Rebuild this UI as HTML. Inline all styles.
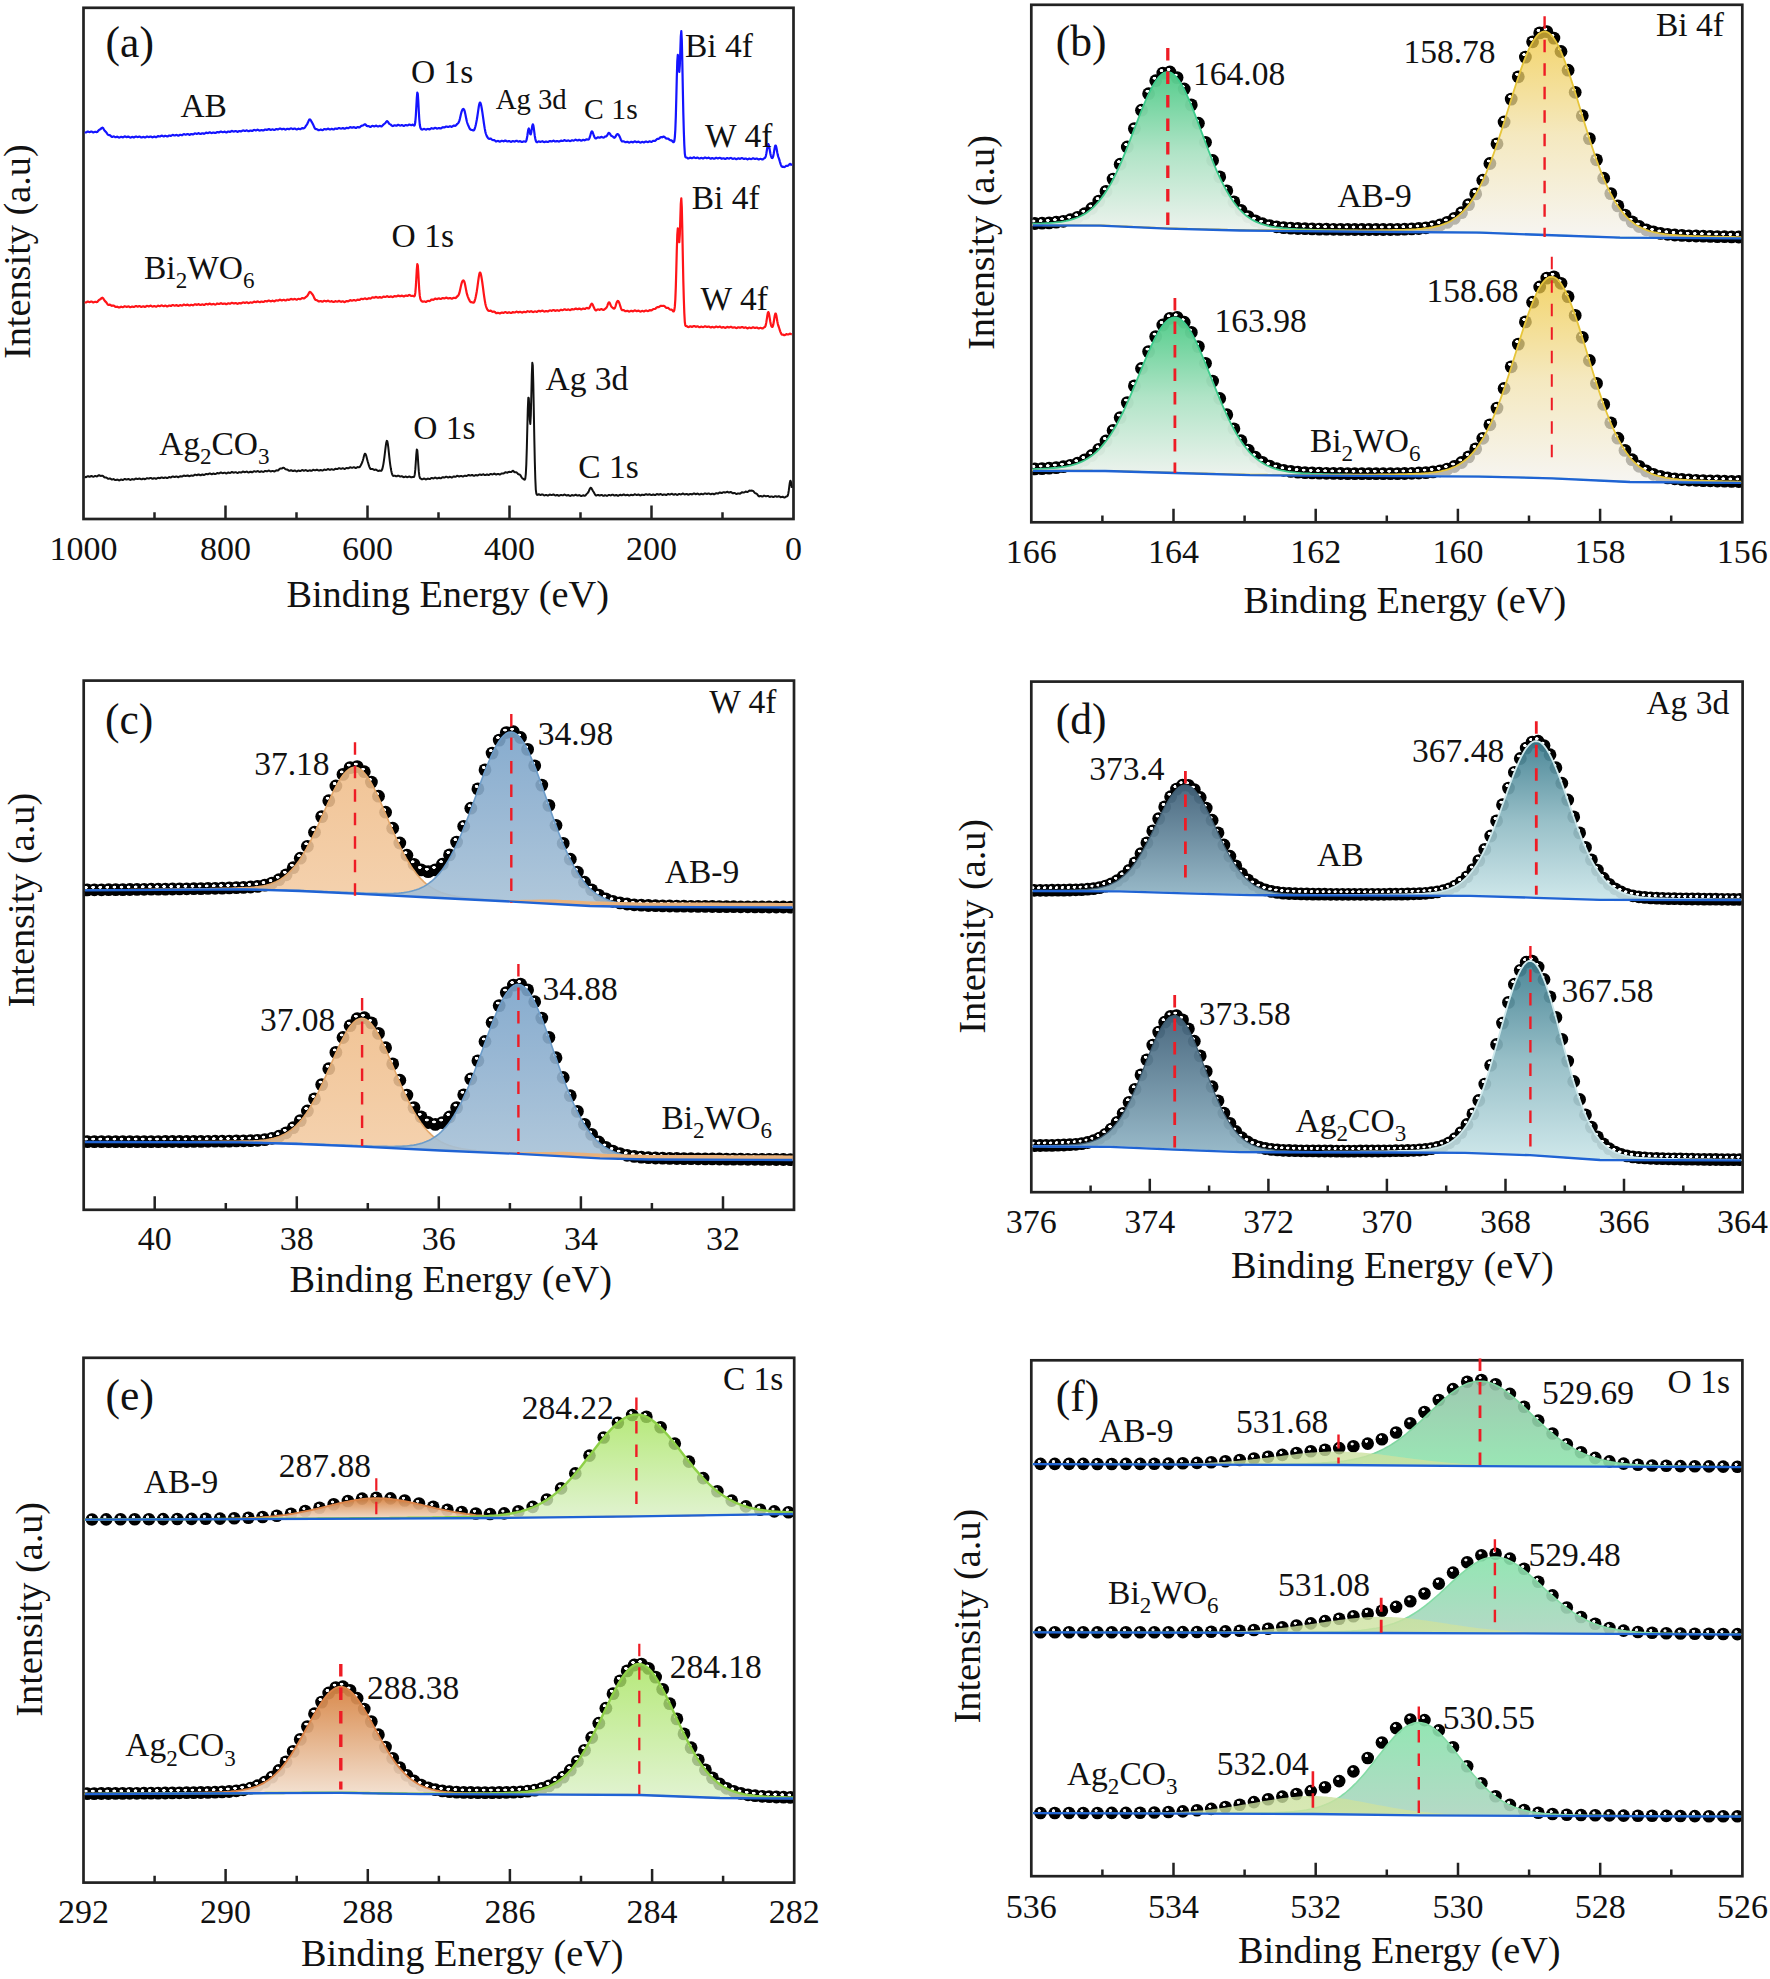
<!DOCTYPE html>
<html lang="en"><head><meta charset="utf-8"><title>XPS spectra</title>
<style>html,body{margin:0;padding:0;background:#fff}svg{display:block}text{font-family:'Liberation Serif', 'Times New Roman', Times, serif;fill:#111}</style></head>
<body>
<svg width="1770" height="1979" viewBox="0 0 1770 1979">
<rect width="1770" height="1979" fill="#fff"/>
<defs><radialGradient id="hl" cx="0.5" cy="0.5" r="0.5"><stop offset="0" stop-color="#fff"/><stop offset="0.72" stop-color="#fff"/><stop offset="1" stop-color="#fff" stop-opacity="0"/></radialGradient><g id="m"><circle r="6.4" fill="#000"/><ellipse cx="-1.3" cy="-2.5" rx="2.2" ry="1.75" fill="url(#hl)"/></g><g id="M"><circle r="6.3" fill="#000"/><ellipse cx="-1.3" cy="-2.3" rx="1.9" ry="1.8" fill="url(#hl)" opacity="0.95"/></g><linearGradient id="g1" x1="0" y1="0" x2="0" y2="1"><stop offset="0" stop-color="#4fcb88"/><stop offset="0.5" stop-color="#aee3c5"/><stop offset="1" stop-color="#eef3ee"/></linearGradient><linearGradient id="g2" x1="0" y1="0" x2="0" y2="1"><stop offset="0" stop-color="#efc63a"/><stop offset="0.5" stop-color="#f1e1aa"/><stop offset="1" stop-color="#f3f2ee"/></linearGradient><clipPath id="c3"><rect x="1032.5" y="0" width="708.6" height="1979"/></clipPath><linearGradient id="g4" x1="0" y1="0" x2="0" y2="1"><stop offset="0" stop-color="#4fcb88"/><stop offset="0.5" stop-color="#aee3c5"/><stop offset="1" stop-color="#eef3ee"/></linearGradient><linearGradient id="g5" x1="0" y1="0" x2="0" y2="1"><stop offset="0" stop-color="#efc63a"/><stop offset="0.5" stop-color="#f1e1aa"/><stop offset="1" stop-color="#f3f2ee"/></linearGradient><clipPath id="c6"><rect x="1032.5" y="0" width="708.6" height="1979"/></clipPath><linearGradient id="g7" x1="0" y1="0" x2="0" y2="1"><stop offset="0" stop-color="#efbc88"/><stop offset="0.5" stop-color="#f1c496"/><stop offset="1" stop-color="#f3cca4"/></linearGradient><linearGradient id="g8" x1="0" y1="0" x2="0" y2="1"><stop offset="0" stop-color="#7aa3c9"/><stop offset="0.5" stop-color="#91b2d0"/><stop offset="1" stop-color="#a8c2d7"/></linearGradient><clipPath id="c9"><rect x="84.9" y="0" width="707.9" height="1979"/></clipPath><linearGradient id="g10" x1="0" y1="0" x2="0" y2="1"><stop offset="0" stop-color="#efbc88"/><stop offset="0.5" stop-color="#f1c496"/><stop offset="1" stop-color="#f3cca4"/></linearGradient><linearGradient id="g11" x1="0" y1="0" x2="0" y2="1"><stop offset="0" stop-color="#7aa3c9"/><stop offset="0.5" stop-color="#91b2d0"/><stop offset="1" stop-color="#a8c2d7"/></linearGradient><clipPath id="c12"><rect x="84.9" y="0" width="707.9" height="1979"/></clipPath><linearGradient id="g13" x1="0" y1="0" x2="0" y2="1"><stop offset="0" stop-color="#42627a"/><stop offset="0.5" stop-color="#6a8ca0"/><stop offset="1" stop-color="#93b6c6"/></linearGradient><linearGradient id="g14" x1="0" y1="0" x2="0" y2="1"><stop offset="0" stop-color="#3d7d8f"/><stop offset="0.5" stop-color="#8fbac3"/><stop offset="1" stop-color="#cbe6e9"/></linearGradient><clipPath id="c15"><rect x="1032.5" y="0" width="708.9" height="1979"/></clipPath><linearGradient id="g16" x1="0" y1="0" x2="0" y2="1"><stop offset="0" stop-color="#42627a"/><stop offset="0.5" stop-color="#6a8ca0"/><stop offset="1" stop-color="#93b6c6"/></linearGradient><linearGradient id="g17" x1="0" y1="0" x2="0" y2="1"><stop offset="0" stop-color="#3d7d8f"/><stop offset="0.5" stop-color="#8fbac3"/><stop offset="1" stop-color="#cbe6e9"/></linearGradient><clipPath id="c18"><rect x="1032.5" y="0" width="708.9" height="1979"/></clipPath><linearGradient id="g19" x1="0" y1="0" x2="0" y2="1"><stop offset="0" stop-color="#d6813f"/><stop offset="0.5" stop-color="#e4b086"/><stop offset="1" stop-color="#f2dfce"/></linearGradient><linearGradient id="g20" x1="0" y1="0" x2="0" y2="1"><stop offset="0" stop-color="#a4e35a"/><stop offset="0.5" stop-color="#bfea90"/><stop offset="1" stop-color="#daf0c6"/></linearGradient><clipPath id="c21"><rect x="84.7" y="0" width="708.3" height="1979"/></clipPath><linearGradient id="g22" x1="0" y1="0" x2="0" y2="1"><stop offset="0" stop-color="#d6813f"/><stop offset="0.5" stop-color="#e4b086"/><stop offset="1" stop-color="#f2dfce"/></linearGradient><linearGradient id="g23" x1="0" y1="0" x2="0" y2="1"><stop offset="0" stop-color="#a4e35a"/><stop offset="0.5" stop-color="#bfea90"/><stop offset="1" stop-color="#daf0c6"/></linearGradient><clipPath id="c24"><rect x="84.7" y="0" width="708.3" height="1979"/></clipPath><linearGradient id="g25" x1="0" y1="0" x2="0" y2="1"><stop offset="0" stop-color="#93c3a8"/><stop offset="0.5" stop-color="#91d4aa"/><stop offset="1" stop-color="#8fe4ad"/></linearGradient><linearGradient id="g26" x1="0" y1="0" x2="0" y2="1"><stop offset="0" stop-color="#cbe19f"/><stop offset="0.5" stop-color="#cde2a0"/><stop offset="1" stop-color="#cfe3a2"/></linearGradient><clipPath id="c27"><rect x="1032.5" y="0" width="708.7" height="1979"/></clipPath><linearGradient id="g28" x1="0" y1="0" x2="0" y2="1"><stop offset="0" stop-color="#88e3ab"/><stop offset="0.5" stop-color="#9adcb6"/><stop offset="1" stop-color="#add5c0"/></linearGradient><linearGradient id="g29" x1="0" y1="0" x2="0" y2="1"><stop offset="0" stop-color="#cbe19f"/><stop offset="0.5" stop-color="#cde2a0"/><stop offset="1" stop-color="#cfe3a2"/></linearGradient><clipPath id="c30"><rect x="1032.5" y="0" width="708.7" height="1979"/></clipPath><linearGradient id="g31" x1="0" y1="0" x2="0" y2="1"><stop offset="0" stop-color="#88e3ab"/><stop offset="0.5" stop-color="#9adcb6"/><stop offset="1" stop-color="#add5c0"/></linearGradient><linearGradient id="g32" x1="0" y1="0" x2="0" y2="1"><stop offset="0" stop-color="#cbe19f"/><stop offset="0.5" stop-color="#cde2a0"/><stop offset="1" stop-color="#cfe3a2"/></linearGradient><clipPath id="c33"><rect x="1032.5" y="0" width="708.7" height="1979"/></clipPath></defs>
<rect x="83.5" y="7.8" width="710" height="511.2" fill="none" stroke="#222" stroke-width="2.7"/>
<text x="83.5" y="560.2" font-size="34" text-anchor="middle">1000</text>
<text x="225.5" y="560.2" font-size="34" text-anchor="middle">800</text>
<text x="367.5" y="560.2" font-size="34" text-anchor="middle">600</text>
<text x="509.5" y="560.2" font-size="34" text-anchor="middle">400</text>
<text x="651.5" y="560.2" font-size="34" text-anchor="middle">200</text>
<text x="793.5" y="560.2" font-size="34" text-anchor="middle">0</text>
<path d="M154.5 519v-6.8M225.5 519v-13.5M296.5 519v-6.8M367.5 519v-13.5M438.5 519v-6.8M509.5 519v-13.5M580.5 519v-6.8M651.5 519v-13.5M722.5 519v-6.8" stroke="#222" stroke-width="2.5" fill="none"/>
<text x="286.4" y="606.8" font-size="38.3" text-anchor="start">Binding Energy (eV)</text>
<text transform="translate(30.4 359.1) rotate(-90)" font-size="38.3">Intensity (a.u)</text>
<text x="105.6" y="56.5" font-size="43.5" text-anchor="start">(a)</text>
<polyline points="84.8,132.1 85.3,132.4 85.8,132.5 86.3,132.4 86.8,132.1 87.3,131.7 87.8,131.6 88.3,131.6 88.8,131.9 89.3,132.1 89.8,132.1 90.3,131.9 90.8,131.6 91.3,131.5 91.8,131.6 92.3,131.9 92.8,132.2 93.3,132.4 93.8,132.3 94.3,132.1 94.8,131.9 95.3,131.8 95.8,131.9 96.3,132.1 96.8,132.1 97.3,131.9 97.8,131.4 98.3,130.8 98.8,130.2 99.3,129.8 99.8,129.6 100.3,129.3 100.8,128.9 101.3,128.4 101.8,127.9 102.3,127.7 102.8,127.8 103.3,128.4 103.8,129.3 104.3,130.1 104.8,130.8 105.3,131.4 105.8,131.8 106.3,132.4 106.8,133.1 107.3,133.9 107.8,134.5 108.3,134.9 108.8,135.1 109.3,135.1 109.8,135.2 110.3,135.5 110.8,136 111.3,136.5 111.8,136.8 112.3,136.9 112.8,136.7 113.3,136.5 113.8,136.4 114.3,136.6 114.8,136.9 115.3,137.2 115.8,137.2 116.3,137 116.8,136.8 117.3,136.7 117.8,136.9 118.3,137.2 118.8,137.5 119.3,137.6 119.8,137.4 120.3,137.1 120.8,136.9 121.3,136.8 121.8,137 122.3,137.2 122.8,137.3 123.3,137.2 123.8,136.9 124.3,136.5 124.8,136.4 125.3,136.5 125.8,136.8 126.3,137.1 126.8,137.1 127.3,137 127.8,136.7 128.3,136.6 128.8,136.8 129.3,137.1 129.8,137.4 130.3,137.6 130.8,137.5 131.3,137.2 131.8,137 132.3,136.9 132.8,137 133.3,137.3 133.8,137.4 134.3,137.3 134.8,137 135.3,136.7 135.8,136.5 136.3,136.5 136.8,136.8 137.3,137 137.8,137.1 138.3,136.9 138.8,136.7 139.3,136.5 139.8,136.6 140.3,136.9 140.8,137.3 141.3,137.5 141.8,137.4 142.3,137.2 142.8,137 143.3,136.9 143.8,137 144.3,137.3 144.8,137.5 145.3,137.4 145.8,137.2 146.3,136.8 146.8,136.6 147.3,136.6 147.8,136.8 148.3,137 148.8,137.1 149.3,137 149.8,136.7 150.3,136.5 150.8,136.5 151.3,136.7 151.8,137 152.3,137.3 152.8,137.2 153.3,137 153.8,136.8 154.3,136.6 154.8,136.7 155.3,137 155.8,137.2 156.3,137.2 156.8,136.9 157.3,136.5 157.8,136.2 158.3,136.2 158.8,136.3 159.3,136.5 159.8,136.5 160.3,136.4 160.8,136 161.3,135.8 161.8,135.7 162.3,135.8 162.8,136.1 163.3,136.4 163.8,136.4 164.3,136.2 164.8,135.9 165.3,135.8 165.8,135.9 166.3,136.1 166.8,136.4 167.3,136.4 167.8,136.3 168.3,135.9 168.8,135.6 169.3,135.5 169.8,135.6 170.3,135.8 170.8,135.8 171.3,135.7 171.8,135.4 172.3,135 172.8,134.9 173.3,135 173.8,135.2 174.3,135.5 174.8,135.5 175.3,135.4 175.8,135.1 176.3,134.9 176.8,135 177.3,135.2 177.8,135.5 178.3,135.7 178.8,135.5 179.3,135.2 179.8,134.9 180.3,134.8 180.8,134.9 181.3,135.1 181.8,135.2 182.3,135.1 182.8,134.7 183.3,134.4 183.8,134.1 184.3,134.2 184.8,134.4 185.3,134.6 185.8,134.7 186.3,134.5 186.8,134.3 187.3,134.1 187.8,134.1 188.3,134.3 188.8,134.6 189.3,134.8 189.8,134.8 190.3,134.5 190.8,134.2 191.3,134.1 191.8,134.1 192.3,134.3 192.8,134.5 193.3,134.4 193.8,134.1 194.3,133.7 194.8,133.4 195.3,133.4 195.8,133.6 196.3,133.8 196.8,133.9 197.3,133.7 197.8,133.5 198.3,133.2 198.8,133.2 199.3,133.4 199.8,133.7 200.3,133.9 200.8,133.9 201.3,133.7 201.8,133.4 202.3,133.3 202.8,133.3 203.3,133.6 203.8,133.8 204.3,133.7 204.8,133.5 205.3,133.1 205.8,132.8 206.3,132.7 206.8,132.8 207.3,133 207.8,133.1 208.3,133 208.8,132.7 209.3,132.4 209.8,132.3 210.3,132.5 210.8,132.8 211.3,133 211.8,133.1 212.3,132.9 212.8,132.6 213.3,132.5 213.8,132.5 214.3,132.8 214.8,133 215.3,133 215.8,132.9 216.3,132.5 216.8,132.2 217.3,132 217.8,132.1 218.3,132.3 218.8,132.4 219.3,132.3 219.8,132 220.3,131.7 220.8,131.5 221.3,131.6 221.8,131.9 222.3,132.1 222.8,132.2 223.3,132.1 223.8,131.9 224.3,131.7 224.8,131.7 225.3,132 225.8,132.2 226.3,132.4 226.8,132.3 227.3,132 227.8,131.6 228.3,131.5 228.8,131.5 229.3,131.7 229.8,131.9 230.3,131.8 230.8,131.5 231.3,131.2 231.8,130.9 232.3,131 232.8,131.2 233.3,131.5 233.8,131.6 234.3,131.5 234.8,131.3 235.3,131.1 235.8,131.1 236.3,131.3 236.8,131.6 237.3,131.8 237.8,131.8 238.3,131.5 238.8,131.2 239.3,131 239.8,131 240.3,131.2 240.8,131.4 241.3,131.4 241.8,131.1 242.3,130.7 242.8,130.5 243.3,130.4 243.8,130.6 244.3,130.9 244.8,131 245.3,130.9 245.8,130.7 246.3,130.4 246.8,130.4 247.3,130.6 247.8,130.9 248.3,131.2 248.8,131.2 249.3,131 249.8,130.7 250.3,130.5 250.8,130.5 251.3,130.7 251.8,130.9 252.3,130.9 252.8,130.7 253.3,130.3 253.8,130 254.3,129.9 254.8,130.1 255.3,130.3 255.8,130.4 256.3,130.4 256.8,130.1 257.3,129.8 257.8,129.7 258.3,129.9 258.8,130.2 259.3,130.5 259.8,130.6 260.3,130.4 260.8,130.2 261.3,130 261.8,130 262.3,130.2 262.8,130.4 263.3,130.5 263.8,130.3 264.3,130 264.8,129.6 265.3,129.5 265.8,129.5 266.3,129.8 266.8,129.9 267.3,129.8 267.8,129.6 268.3,129.3 268.8,129.1 269.3,129.2 269.8,129.5 270.3,129.8 270.8,130 271.3,129.8 271.8,129.6 272.3,129.4 272.8,129.4 273.3,129.6 273.8,129.9 274.3,130 274.8,129.9 275.3,129.6 275.8,129.2 276.3,129 276.8,129.1 277.3,129.3 277.8,129.4 278.3,129.4 278.8,129.1 279.3,128.8 279.8,128.6 280.3,128.6 280.8,128.8 281.3,129.1 281.8,129.3 282.3,129.2 282.8,129 283.3,128.8 283.8,128.8 284.3,129 284.8,129.3 285.3,129.6 285.8,129.5 286.3,129.3 286.8,129 287.3,128.8 287.8,128.8 288.3,129 288.8,129.2 289.3,129.2 289.8,129 290.3,128.6 290.8,128.4 291.3,128.4 291.8,128.6 292.3,128.9 292.8,129.1 293.3,129 293.8,128.8 294.3,128.6 294.8,128.6 295.3,128.8 295.8,129.1 296.3,129.4 296.8,129.4 297.3,129.2 297.8,128.9 298.3,128.7 298.8,128.7 299.3,128.9 299.8,129.1 300.3,129.2 300.8,129 301.3,128.6 301.8,128.3 302.3,128.2 302.8,128.2 303.3,128.4 303.8,128.4 304.3,128.1 304.8,127.5 305.3,126.8 305.8,126 306.3,125.3 306.8,124.6 307.3,123.8 307.8,122.8 308.3,121.6 308.8,120.5 309.3,119.6 309.8,119.4 310.3,119.6 310.8,120.3 311.3,121.2 311.8,122.1 312.3,123 312.8,123.9 313.3,124.9 313.8,126.1 314.3,127.3 314.8,128.3 315.3,128.9 315.8,129.1 316.3,129.1 316.8,129.2 317.3,129.4 317.8,129.7 318.3,130.1 318.8,130.2 319.3,130.1 319.8,129.9 320.3,129.7 320.8,129.6 321.3,129.8 321.8,130 322.3,130.1 322.8,130 323.3,129.7 323.8,129.3 324.3,129.1 324.8,129.1 325.3,129.3 325.8,129.5 326.3,129.5 326.8,129.2 327.3,128.9 327.8,128.7 328.3,128.7 328.8,129 329.3,129.3 329.8,129.5 330.3,129.4 330.8,129.2 331.3,128.9 331.8,128.9 332.3,129 332.8,129.3 333.3,129.5 333.8,129.4 334.3,129.2 334.8,128.8 335.3,128.5 335.8,128.5 336.3,128.7 336.8,128.8 337.3,128.9 337.8,128.6 338.3,128.3 338.8,128 339.3,128 339.8,128.2 340.3,128.4 340.8,128.6 341.3,128.6 341.8,128.4 342.3,128.2 342.8,128.1 343.3,128.2 343.8,128.5 344.3,128.7 344.8,128.7 345.3,128.5 345.8,128.2 346.3,127.9 346.8,127.8 347.3,128 347.8,128.1 348.3,128.2 348.8,128 349.3,127.6 349.8,127.3 350.3,127.2 350.8,127.3 351.3,127.5 351.8,127.7 352.3,127.7 352.8,127.5 353.3,127.3 353.8,127.2 354.3,127.3 354.8,127.5 355.3,127.8 355.8,127.9 356.3,127.8 356.8,127.4 357.3,127.2 357.8,127.1 358.3,127.2 358.8,127.4 359.3,127.4 359.8,127.2 360.3,126.7 360.8,126.2 361.3,125.9 361.8,125.7 362.3,125.6 362.8,125.5 363.3,125.3 363.8,124.9 364.3,124.5 364.8,124.3 365.3,124.4 365.8,124.9 366.3,125.4 366.8,125.9 367.3,126.1 367.8,126.1 368.3,126 368.8,126.1 369.3,126.4 369.8,126.7 370.3,126.9 370.8,126.8 371.3,126.5 371.8,126.1 372.3,125.9 372.8,125.9 373.3,126.1 373.8,126.3 374.3,126.4 374.8,126.2 375.3,125.9 375.8,125.7 376.3,125.7 376.8,126 377.3,126.3 377.8,126.5 378.3,126.5 378.8,126.3 379.3,126 379.8,125.9 380.3,126 380.8,126.2 381.3,126.4 381.8,126.3 382.3,125.8 382.8,125.3 383.3,124.7 383.8,124.2 384.3,123.9 384.8,123.5 385.3,123 385.8,122.4 386.3,121.7 386.8,121.2 387.3,121.2 387.8,121.7 388.3,122.4 388.8,123.2 389.3,123.8 389.8,124.1 390.3,124.4 390.8,124.7 391.3,125.1 391.8,125.6 392.3,125.9 392.8,126.1 393.3,125.9 393.8,125.6 394.3,125.3 394.8,125.3 395.3,125.4 395.8,125.6 396.3,125.7 396.8,125.6 397.3,125.2 397.8,124.9 398.3,124.8 398.8,125 399.3,125.3 399.8,125.5 400.3,125.6 400.8,125.4 401.3,125.2 401.8,125.1 402.3,125.2 402.8,125.4 403.3,125.7 403.8,125.9 404.3,125.7 404.8,125.4 405.3,125.1 405.8,125 406.3,125.1 406.8,125.4 407.3,125.5 407.8,125.4 408.3,125.1 408.8,124.7 409.3,124.5 409.8,124.6 410.3,124.9 410.8,125.1 411.3,125.2 411.8,125.1 412.3,124.8 412.8,124.6 413.3,124.9 413.8,125.4 414.3,125.6 414.8,124.9 415.3,122 415.8,116.1 416.3,107.3 416.8,98.2 417.3,92.7 417.8,94 418.3,101.3 418.8,111.2 419.3,119.5 419.8,124.8 420.3,127.5 420.8,128.7 421.3,129.2 421.8,129.5 422.3,129.6 422.8,129.4 423.3,129.1 423.8,128.9 424.3,128.9 424.8,129.1 425.3,129.4 425.8,129.6 426.3,129.6 426.8,129.3 427.3,129.1 427.8,128.9 428.3,129 428.8,129.2 429.3,129.3 429.8,129.3 430.3,129 430.8,128.6 431.3,128.3 431.8,128.2 432.3,128.4 432.8,128.6 433.3,128.7 433.8,128.5 434.3,128.2 434.8,127.9 435.3,127.9 435.8,128 436.3,128.3 436.8,128.6 437.3,128.6 437.8,128.4 438.3,128.1 438.8,128 439.3,128 439.8,128.3 440.3,128.4 440.8,128.4 441.3,128.2 441.8,127.8 442.3,127.4 442.8,127.2 443.3,127.3 443.8,127.4 444.3,127.5 444.8,127.3 445.3,127 445.8,126.6 446.3,126.5 446.8,126.5 447.3,126.8 447.8,127 448.3,127 448.8,126.8 449.3,126.5 449.8,126.3 450.3,126.3 450.8,126.5 451.3,126.8 451.8,126.8 452.3,126.6 452.8,126.2 453.3,125.8 453.8,125.6 454.3,125.7 454.8,125.8 455.3,125.8 455.8,125.5 456.3,125 456.8,124.4 457.3,123.9 457.8,123.5 458.3,123 458.8,122.2 459.3,120.9 459.8,119.1 460.3,117 460.8,114.7 461.3,112.7 461.8,111.1 462.3,109.9 462.8,109.2 463.3,108.9 463.8,109.2 464.3,110.1 464.8,111.7 465.3,113.9 465.8,116.5 466.3,119.1 466.8,121.3 467.3,123 467.8,124.4 468.3,125.5 468.8,126.6 469.3,127.7 469.8,128.7 470.3,129.3 470.8,129.7 471.3,129.8 471.8,129.9 472.3,130.1 472.8,130.3 473.3,130.4 473.8,130.3 474.3,129.7 474.8,128.5 475.3,126.8 475.8,124.8 476.3,122.4 476.8,119.8 477.3,116.7 477.8,113.3 478.3,109.8 478.8,106.5 479.3,104 479.8,102.6 480.3,102.6 480.8,103.8 481.3,105.9 481.8,108.7 482.3,111.9 482.8,115.3 483.3,118.9 483.8,122.5 484.3,125.8 484.8,128.9 485.3,131.5 485.8,133.5 486.3,134.9 486.8,136.1 487.3,137 487.8,137.7 488.3,138.3 488.8,138.7 489.3,138.8 489.8,138.7 490.3,138.6 490.8,138.7 491.3,139.1 491.8,139.5 492.3,139.9 492.8,140.1 493.3,140.1 493.8,140 494.3,140.1 494.8,140.5 495.3,140.9 495.8,141.3 496.3,141.4 496.8,141.3 497.3,141.1 497.8,140.9 498.3,141 498.8,141.2 499.3,141.5 499.8,141.7 500.3,141.5 500.8,141.2 501.3,140.9 501.8,140.8 502.3,140.9 502.8,141.1 503.3,141.3 503.8,141.3 504.3,141 504.8,140.7 505.3,140.6 505.8,140.7 506.3,141 506.8,141.3 507.3,141.5 507.8,141.4 508.3,141.2 508.8,141.1 509.3,141.1 509.8,141.3 510.3,141.6 510.8,141.9 511.3,141.8 511.8,141.6 512.3,141.3 512.8,141.1 513.3,141.1 513.8,141.4 514.3,141.5 514.8,141.6 515.3,141.3 515.8,141 516.3,140.8 516.8,140.8 517.3,141.1 517.8,141.4 518.3,141.6 518.8,141.5 519.3,141.3 519.8,141.2 520.3,141.2 520.8,141.4 521.3,141.7 521.8,142 522.3,142 522.8,141.8 523.3,141.5 523.8,141.4 524.3,141.4 524.8,141.6 525.3,141.8 525.8,141.6 526.3,140.7 526.8,138.9 527.3,136 527.8,132.5 528.3,129.5 528.8,128.5 529.3,129.8 529.8,132.3 530.3,134.2 530.8,134.3 531.3,132.2 531.8,128.9 532.3,125.8 532.8,124.3 533.3,125.3 533.8,128.3 534.3,132.2 534.8,135.9 535.3,138.8 535.8,140.8 536.3,141.8 536.8,142.2 537.3,142.2 537.8,141.9 538.3,141.5 538.8,141.4 539.3,141.5 539.8,141.7 540.3,141.9 540.8,141.9 541.3,141.6 541.8,141.4 542.3,141.2 542.8,141.4 543.3,141.7 543.8,142 544.3,142.1 544.8,142 545.3,141.7 545.8,141.5 546.3,141.5 546.8,141.7 547.3,141.9 547.8,142 548.3,141.9 548.8,141.6 549.3,141.2 549.8,141 550.3,141.1 550.8,141.3 551.3,141.4 551.8,141.4 552.3,141.2 552.8,140.9 553.3,140.7 553.8,140.8 554.3,141 554.8,141.4 555.3,141.5 555.8,141.5 556.3,141.2 556.8,141 557.3,141 557.8,141.1 558.3,141.4 558.8,141.6 559.3,141.5 559.8,141.2 560.3,140.9 560.8,140.7 561.3,140.7 561.8,140.8 562.3,141 562.8,141 563.3,140.8 563.8,140.5 564.3,140.2 564.8,140.2 565.3,140.4 565.8,140.7 566.3,140.9 566.8,140.9 567.3,140.7 567.8,140.5 568.3,140.4 568.8,140.6 569.3,140.9 569.8,141.1 570.3,141.1 570.8,140.9 571.3,140.5 571.8,140.3 572.3,140.3 572.8,140.4 573.3,140.6 573.8,140.6 574.3,140.4 574.8,140.1 575.3,139.8 575.8,139.7 576.3,139.9 576.8,140.2 577.3,140.4 577.8,140.4 578.3,140.2 578.8,139.9 579.3,139.8 579.8,140 580.3,140.3 580.8,140.6 581.3,140.6 581.8,140.5 582.3,140.2 582.8,139.9 583.3,139.9 583.8,140 584.3,140.2 584.8,140.3 585.3,140.1 585.8,139.8 586.3,139.4 586.8,139.3 587.3,139.4 587.8,139.6 588.3,139.6 588.8,139.3 589.3,138.5 589.8,137.2 590.3,135.5 590.8,133.7 591.3,132.2 591.8,131.4 592.3,131.5 592.8,132.6 593.3,134 593.8,135.5 594.3,136.7 594.8,137.6 595.3,138.2 595.8,138.4 596.3,138.3 596.8,138 597.3,137.6 597.8,137.3 598.3,137.3 598.8,137.5 599.3,137.7 599.8,137.7 600.3,137.5 600.8,137.1 601.3,136.9 601.8,136.9 602.3,137.2 602.8,137.4 603.3,137.6 603.8,137.5 604.3,137.2 604.8,136.8 605.3,136.5 605.8,136.4 606.3,136.3 606.8,135.9 607.3,135.2 607.8,134.3 608.3,133.4 608.8,132.9 609.3,133 609.8,133.6 610.3,134.4 610.8,135.2 611.3,135.8 611.8,136.1 612.3,136.3 612.8,136.6 613.3,137 613.8,137.6 614.3,137.8 614.8,137.6 615.3,137 615.8,136.1 616.3,135.2 616.8,134.5 617.3,134.2 617.8,134.2 618.3,134.5 618.8,135.1 619.3,135.9 619.8,136.9 620.3,138.1 620.8,139.4 621.3,140.4 621.8,141.2 622.3,141.5 622.8,141.5 623.3,141.4 623.8,141.4 624.3,141.6 624.8,141.9 625.3,142.2 625.8,142.2 626.3,142.1 626.8,141.9 627.3,141.8 627.8,141.9 628.3,142.2 628.8,142.5 629.3,142.6 629.8,142.4 630.3,142.1 630.8,141.9 631.3,141.8 631.8,141.9 632.3,142.2 632.8,142.3 633.3,142.2 633.8,141.9 634.3,141.5 634.8,141.4 635.3,141.5 635.8,141.8 636.3,142.1 636.8,142.2 637.3,142 637.8,141.8 638.3,141.7 638.8,141.8 639.3,142.1 639.8,142.4 640.3,142.6 640.8,142.5 641.3,142.2 641.8,142 642.3,141.9 642.8,142 643.3,142.2 643.8,142.4 644.3,142.3 644.8,142 645.3,141.7 645.8,141.5 646.3,141.5 646.8,141.8 647.3,142 647.8,142.1 648.3,142 648.8,141.7 649.3,141.4 649.8,141.4 650.3,141.5 650.8,141.7 651.3,141.9 651.8,141.7 652.3,141.4 652.8,141 653.3,140.8 653.8,140.8 654.3,140.9 654.8,141 655.3,140.8 655.8,140.3 656.3,139.7 656.8,139.2 657.3,138.9 657.8,138.9 658.3,138.9 658.8,138.7 659.3,138.4 659.8,137.9 660.3,137.4 660.8,137.1 661.3,137.1 661.8,137.2 662.3,137.3 662.8,137.1 663.3,136.6 663.8,136.7 664.3,136.8 664.8,137.2 665.3,137.7 665.8,138.2 666.3,138.5 666.8,138.6 667.3,138.5 667.8,138.5 668.3,138.7 668.8,139.1 669.3,139.6 669.8,140 670.3,140.2 670.8,140.3 671.3,140.3 671.8,140.6 672.3,141.1 672.8,141.7 673.3,142.2 673.8,142.2 674.3,141 674.8,137.6 675.3,130.2 675.8,117.1 676.3,98.3 676.8,77.4 677.3,61 677.8,54.8 678.3,59.1 678.8,67.9 679.3,71.9 679.8,65.6 680.3,51 680.8,36.3 681.3,31 681.8,40.1 682.3,61.4 682.8,88 683.3,112.5 683.8,130.7 684.3,144.7 684.8,153.3 685.3,156.8 685.8,157.4 686.3,157.5 686.8,157.6 687.3,157.9 687.8,158.3 688.3,158.4 688.8,158.4 689.3,158.1 689.8,157.8 690.3,157.7 690.8,157.8 691.3,158 691.8,158.2 692.3,158.1 692.8,157.9 693.3,157.5 693.8,157.3 694.3,157.4 694.8,157.7 695.3,157.9 695.8,158.1 696.3,158 696.8,157.8 697.3,157.6 697.8,157.7 698.3,157.9 698.8,158.3 699.3,158.5 699.8,158.5 700.3,158.3 700.8,158 701.3,157.9 701.8,158 702.3,158.2 702.8,158.4 703.3,158.4 703.8,158.2 704.3,157.8 704.8,157.6 705.3,157.6 705.8,157.8 706.3,158.1 706.8,158.2 707.3,158.1 707.8,157.9 708.3,157.7 708.8,157.7 709.3,157.9 709.8,158.3 710.3,158.6 710.8,158.7 711.3,158.5 711.8,158.2 712.3,158.1 712.8,158.2 713.3,158.4 713.8,158.7 714.3,158.7 714.8,158.5 715.3,158.2 715.8,157.9 716.3,157.8 716.8,158 717.3,158.2 717.8,158.4 718.3,158.3 718.8,158.1 719.3,157.9 719.8,157.8 720.3,158 720.8,158.3 721.3,158.6 721.8,158.8 722.3,158.6 722.8,158.4 723.3,158.3 723.8,158.3 724.3,158.6 724.8,158.9 725.3,159 725.8,158.8 726.3,158.5 726.8,158.2 727.3,158.1 727.8,158.2 728.3,158.4 728.8,158.6 729.3,158.6 729.8,158.3 730.3,158.1 730.8,157.9 731.3,158 731.8,158.4 732.3,158.7 732.8,158.8 733.3,158.8 733.8,158.6 734.3,158.4 734.8,158.4 735.3,158.7 735.8,159 736.3,159.2 736.8,159.1 737.3,158.8 737.8,158.5 738.3,158.4 738.8,158.4 739.3,158.7 739.8,158.8 740.3,158.8 740.8,158.6 741.3,158.3 741.8,158.1 742.3,158.1 742.8,158.4 743.3,158.7 743.8,158.9 744.3,158.9 744.8,158.7 745.3,158.5 745.8,158.5 746.3,158.7 746.8,159.1 747.3,159.3 747.8,159.3 748.3,159.1 748.8,158.8 749.3,158.6 749.8,158.7 750.3,158.9 750.8,159.1 751.3,159.1 751.8,158.9 752.3,158.6 752.8,158.3 753.3,158.3 753.8,158.5 754.3,158.8 754.8,159 755.3,159 755.8,158.8 756.3,158.6 756.8,158.6 757.3,158.8 757.8,159.1 758.3,159.4 758.8,159.5 759.3,159.3 759.8,159.1 760.3,158.9 760.8,158.9 761.3,159.1 761.8,159.4 762.3,159.4 762.8,159.3 763.3,158.9 763.8,158.6 764.3,158.3 764.8,158 765.3,157.4 765.8,156.1 766.3,153.8 766.8,150.8 767.3,147.5 767.8,145.1 768.3,144.1 768.8,145 769.3,147.3 769.8,150.3 770.3,153.2 770.8,155.5 771.3,157 771.8,157.9 772.3,158.1 772.8,157.5 773.3,155.9 773.8,153.3 774.3,150.2 774.8,147.4 775.3,145.6 775.8,145.6 776.3,147.2 776.8,149.8 777.3,152.7 777.8,155.1 778.3,156.9 778.8,158.1 779.3,159.6 779.8,161.5 780.3,163.1 780.8,164.6 781.3,165.7 781.8,166.6 782.3,166.8 782.8,166.7 783.3,166.8 783.8,167 784.3,167.1 784.8,166.9 785.3,166.5 785.8,166.1 786.3,165.8 786.8,165.8 787.3,165.8 787.8,165.7 788.3,165.5 788.8,165 789.3,164.4 789.8,164 790.3,163.8 790.8,164.2 791.3,165 791.8,165.7" fill="none" stroke="#1414ff" stroke-width="2.2" stroke-linejoin="round"/>
<polyline points="84.8,302.1 85.3,302.4 85.8,302.5 86.3,302.4 86.8,302.1 87.3,301.7 87.8,301.6 88.3,301.6 88.8,301.9 89.3,302.1 89.8,302.1 90.3,301.9 90.8,301.6 91.3,301.5 91.8,301.6 92.3,301.9 92.8,302.2 93.3,302.4 93.8,302.3 94.3,302.1 94.8,301.9 95.3,301.8 95.8,301.9 96.3,302.1 96.8,302.1 97.3,301.9 97.8,301.4 98.3,300.8 98.8,300.2 99.3,299.8 99.8,299.6 100.3,299.3 100.8,298.9 101.3,298.4 101.8,297.9 102.3,297.7 102.8,297.9 103.3,298.5 103.8,299.3 104.3,300.2 104.8,300.9 105.3,301.4 105.8,301.9 106.3,302.4 106.8,303.1 107.3,303.9 107.8,304.5 108.3,304.8 108.8,304.9 109.3,304.7 109.8,304.7 110.3,304.8 110.8,305.2 111.3,305.5 111.8,305.8 112.3,305.7 112.8,305.6 113.3,305.5 113.8,305.6 114.3,305.9 114.8,306.4 115.3,306.8 115.8,307 116.3,306.9 116.8,306.8 117.3,306.7 117.8,306.9 118.3,307.2 118.8,307.5 119.3,307.5 119.8,307.4 120.3,307 120.8,306.8 121.3,306.7 121.8,306.9 122.3,307.1 122.8,307.2 123.3,307 123.8,306.7 124.3,306.4 124.8,306.2 125.3,306.4 125.8,306.6 126.3,306.9 126.8,306.9 127.3,306.7 127.8,306.5 128.3,306.4 128.8,306.5 129.3,306.8 129.8,307.1 130.3,307.2 130.8,307.1 131.3,306.9 131.8,306.6 132.3,306.5 132.8,306.7 133.3,306.9 133.8,307 134.3,306.9 134.8,306.6 135.3,306.3 135.8,306.1 136.3,306.1 136.8,306.3 137.3,306.6 137.8,306.6 138.3,306.5 138.8,306.2 139.3,306 139.8,306.1 140.3,306.4 140.8,306.7 141.3,306.9 141.8,306.9 142.3,306.6 142.8,306.4 143.3,306.3 143.8,306.4 144.3,306.7 144.8,306.9 145.3,306.8 145.8,306.5 146.3,306.2 146.8,305.9 147.3,305.9 147.8,306.1 148.3,306.3 148.8,306.4 149.3,306.2 149.8,305.9 150.3,305.7 150.8,305.7 151.3,306 151.8,306.3 152.3,306.5 152.8,306.6 153.3,306.4 153.8,306.1 154.3,306 154.8,306.1 155.3,306.4 155.8,306.6 156.3,306.7 156.8,306.4 157.3,306.1 157.8,305.8 158.3,305.7 158.8,305.9 159.3,306.1 159.8,306.2 160.3,306 160.8,305.7 161.3,305.5 161.8,305.4 162.3,305.6 162.8,305.9 163.3,306.1 163.8,306.2 164.3,306 164.8,305.8 165.3,305.6 165.8,305.8 166.3,306 166.8,306.3 167.3,306.4 167.8,306.2 168.3,305.9 168.8,305.6 169.3,305.5 169.8,305.6 170.3,305.8 170.8,305.9 171.3,305.8 171.8,305.4 172.3,305.1 172.8,305 173.3,305.1 173.8,305.4 174.3,305.6 174.8,305.7 175.3,305.5 175.8,305.3 176.3,305.2 176.8,305.2 177.3,305.5 177.8,305.8 178.3,306 178.8,305.8 179.3,305.5 179.8,305.3 180.3,305.1 180.8,305.2 181.3,305.4 181.8,305.6 182.3,305.5 182.8,305.2 183.3,304.8 183.8,304.6 184.3,304.6 184.8,304.9 185.3,305.1 185.8,305.2 186.3,305.1 186.8,304.8 187.3,304.7 187.8,304.7 188.3,304.9 188.8,305.3 189.3,305.5 189.8,305.4 190.3,305.2 190.8,304.9 191.3,304.8 191.8,304.9 192.3,305.1 192.8,305.3 193.3,305.2 193.8,304.9 194.3,304.6 194.8,304.3 195.3,304.3 195.8,304.4 196.3,304.7 196.8,304.8 197.3,304.7 197.8,304.4 198.3,304.2 198.8,304.2 199.3,304.4 199.8,304.7 200.3,305 200.8,305 201.3,304.8 201.8,304.5 202.3,304.4 202.8,304.5 203.3,304.7 203.8,304.9 204.3,304.9 204.8,304.7 205.3,304.3 205.8,304 206.3,303.9 206.8,304.1 207.3,304.3 207.8,304.4 208.3,304.3 208.8,304 209.3,303.7 209.8,303.7 210.3,303.8 210.8,304.2 211.3,304.4 211.8,304.5 212.3,304.3 212.8,304.1 213.3,303.9 213.8,304 214.3,304.3 214.8,304.5 215.3,304.6 215.8,304.4 216.3,304.1 216.8,303.7 217.3,303.6 217.8,303.7 218.3,303.9 218.8,304 219.3,304 219.8,303.7 220.3,303.4 220.8,303.2 221.3,303.3 221.8,303.6 222.3,303.9 222.8,304 223.3,303.9 223.8,303.6 224.3,303.5 224.8,303.5 225.3,303.8 225.8,304.1 226.3,304.2 226.8,304.1 227.3,303.8 227.8,303.5 228.3,303.3 228.8,303.4 229.3,303.6 229.8,303.7 230.3,303.7 230.8,303.4 231.3,303 231.8,302.8 232.3,302.9 232.8,303.1 233.3,303.4 233.8,303.5 234.3,303.4 234.8,303.2 235.3,303 235.8,303 236.3,303.2 236.8,303.6 237.3,303.8 237.8,303.7 238.3,303.5 238.8,303.2 239.3,303 239.8,303 240.3,303.2 240.8,303.4 241.3,303.4 241.8,303.1 242.3,302.7 242.8,302.5 243.3,302.4 243.8,302.6 244.3,302.8 244.8,303 245.3,302.9 245.8,302.6 246.3,302.4 246.8,302.3 247.3,302.5 247.8,302.8 248.3,303.1 248.8,303.1 249.3,302.9 249.8,302.6 250.3,302.4 250.8,302.4 251.3,302.6 251.8,302.7 252.3,302.7 252.8,302.5 253.3,302.1 253.8,301.8 254.3,301.7 254.8,301.8 255.3,302 255.8,302.1 256.3,302.1 256.8,301.8 257.3,301.5 257.8,301.4 258.3,301.6 258.8,301.9 259.3,302.1 259.8,302.2 260.3,302.1 260.8,301.8 261.3,301.6 261.8,301.6 262.3,301.8 262.8,302 263.3,302 263.8,301.9 264.3,301.5 264.8,301.1 265.3,301 265.8,301 266.3,301.2 266.8,301.4 267.3,301.3 267.8,301 268.3,300.7 268.8,300.6 269.3,300.6 269.8,300.9 270.3,301.2 270.8,301.3 271.3,301.2 271.8,300.9 272.3,300.7 272.8,300.7 273.3,300.9 273.8,301.2 274.3,301.3 274.8,301.2 275.3,300.8 275.8,300.5 276.3,300.3 276.8,300.3 277.3,300.5 277.8,300.6 278.3,300.6 278.8,300.3 279.3,300 279.8,299.7 280.3,299.8 280.8,300 281.3,300.3 281.8,300.4 282.3,300.3 282.8,300.1 283.3,299.9 283.8,299.8 284.3,300 284.8,300.3 285.3,300.5 285.8,300.4 286.3,300.2 286.8,299.8 287.3,299.6 287.8,299.6 288.3,299.8 288.8,299.9 289.3,299.9 289.8,299.6 290.3,299.3 290.8,299 291.3,298.9 291.8,299.1 292.3,299.4 292.8,299.5 293.3,299.5 293.8,299.2 294.3,299 294.8,298.9 295.3,299.1 295.8,299.4 296.3,299.6 296.8,299.7 297.3,299.4 297.8,299.1 298.3,298.9 298.8,298.9 299.3,299 299.8,299.2 300.3,299.2 300.8,299 301.3,298.6 301.8,298.3 302.3,298.1 302.8,298.2 303.3,298.3 303.8,298.4 304.3,298.3 304.8,298 305.3,297.5 305.8,297 306.3,296.7 306.8,296.3 307.3,295.9 307.8,295.2 308.3,294.2 308.8,293.2 309.3,292.3 309.8,291.9 310.3,292 310.8,292.4 311.3,293 311.8,293.6 312.3,294.2 312.8,294.9 313.3,295.8 313.8,296.9 314.3,298.1 314.8,299 315.3,299.7 315.8,300 316.3,300.1 316.8,300.2 317.3,300.4 317.8,300.8 318.3,301.2 318.8,301.5 319.3,301.4 319.8,301.2 320.3,301 320.8,301 321.3,301.2 321.8,301.5 322.3,301.7 322.8,301.6 323.3,301.3 323.8,301 324.3,300.8 324.8,300.9 325.3,301.1 325.8,301.3 326.3,301.3 326.8,301.2 327.3,300.9 327.8,300.7 328.3,300.8 328.8,301 329.3,301.4 329.8,301.6 330.3,301.6 330.8,301.4 331.3,301.2 331.8,301.2 332.3,301.4 332.8,301.7 333.3,301.9 333.8,301.9 334.3,301.7 334.8,301.4 335.3,301.2 335.8,301.2 336.3,301.4 336.8,301.6 337.3,301.6 337.8,301.5 338.3,301.2 338.8,300.9 339.3,300.9 339.8,301.2 340.3,301.5 340.8,301.7 341.3,301.8 341.8,301.6 342.3,301.4 342.8,301.3 343.3,301.5 343.8,301.8 344.3,302.1 344.8,302.1 345.3,301.8 345.8,301.5 346.3,301.1 346.8,301.1 347.3,301.2 347.8,301.3 348.3,301.3 348.8,301.1 349.3,300.7 349.8,300.3 350.3,300.2 350.8,300.3 351.3,300.5 351.8,300.7 352.3,300.6 352.8,300.4 353.3,300.1 353.8,300 354.3,300 354.8,300.3 355.3,300.5 355.8,300.6 356.3,300.4 356.8,300.1 357.3,299.8 357.8,299.7 358.3,299.8 358.8,299.9 359.3,300 359.8,299.8 360.3,299.4 360.8,299 361.3,298.8 361.8,298.8 362.3,299 362.8,299.2 363.3,299.1 363.8,298.9 364.3,298.6 364.8,298.4 365.3,298.4 365.8,298.7 366.3,299 366.8,299.1 367.3,299 367.8,298.7 368.3,298.4 368.8,298.2 369.3,298.3 369.8,298.5 370.3,298.6 370.8,298.5 371.3,298.1 371.8,297.7 372.3,297.4 372.8,297.4 373.3,297.5 373.8,297.7 374.3,297.7 374.8,297.5 375.3,297.2 375.8,296.9 376.3,297 376.8,297.2 377.3,297.5 377.8,297.7 378.3,297.7 378.8,297.5 379.3,297.2 379.8,297.1 380.3,297.2 380.8,297.5 381.3,297.7 381.8,297.6 382.3,297.4 382.8,297 383.3,296.7 383.8,296.6 384.3,296.8 384.8,297 385.3,297 385.8,296.9 386.3,296.6 386.8,296.3 387.3,296.2 387.8,296.4 388.3,296.7 388.8,297 389.3,297 389.8,296.8 390.3,296.5 390.8,296.4 391.3,296.5 391.8,296.8 392.3,297 392.8,297.1 393.3,296.8 393.8,296.5 394.3,296.2 394.8,296.1 395.3,296.2 395.8,296.4 396.3,296.5 396.8,296.3 397.3,296 397.8,295.7 398.3,295.6 398.8,295.7 399.3,296 399.8,296.2 400.3,296.2 400.8,296.1 401.3,295.8 401.8,295.7 402.3,295.8 402.8,296 403.3,296.3 403.8,296.4 404.3,296.3 404.8,296 405.3,295.7 405.8,295.5 406.3,295.6 406.8,295.8 407.3,295.9 407.8,295.8 408.3,295.5 408.8,295.1 409.3,294.9 409.8,295.1 410.3,295.4 410.8,295.8 411.3,296 411.8,296 412.3,295.8 412.8,295.8 413.3,296 413.8,296.2 414.3,296.4 414.8,295.7 415.3,292.9 415.8,287.1 416.3,278.5 416.8,269.5 417.3,264.1 417.8,265.4 418.3,272.7 418.8,282.4 419.3,290.7 419.8,295.9 420.3,298.6 420.8,300 421.3,300.8 421.8,301.3 422.3,301.6 422.8,301.7 423.3,301.6 423.8,301.5 424.3,301.4 424.8,301.6 425.3,301.8 425.8,301.9 426.3,301.8 426.8,301.5 427.3,301.1 427.8,300.9 428.3,300.9 428.8,301 429.3,301.1 429.8,301 430.3,300.6 430.8,300.1 431.3,299.7 431.8,299.6 432.3,299.6 432.8,299.8 433.3,299.8 433.8,299.5 434.3,299.2 434.8,298.8 435.3,298.6 435.8,298.7 436.3,299 436.8,299.1 437.3,299.1 437.8,298.8 438.3,298.5 438.8,298.4 439.3,298.4 439.8,298.7 440.3,298.9 440.8,299 441.3,298.8 441.8,298.4 442.3,298.1 442.8,298 443.3,298.1 443.8,298.4 444.3,298.5 444.8,298.4 445.3,298.1 445.8,297.8 446.3,297.7 446.8,297.8 447.3,298.1 447.8,298.4 448.3,298.5 448.8,298.4 449.3,298.1 449.8,298 450.3,298.1 450.8,298.3 451.3,298.6 451.8,298.7 452.3,298.6 452.8,298.3 453.3,298 453.8,297.8 454.3,297.9 454.8,298 455.3,298.1 455.8,297.9 456.3,297.4 456.8,296.9 457.3,296.4 457.8,295.9 458.3,295.4 458.8,294.5 459.3,293.2 459.8,291.2 460.3,289 460.8,286.6 461.3,284.4 461.8,282.7 462.3,281.5 462.8,280.7 463.3,280.4 463.8,280.7 464.3,281.6 464.8,283.3 465.3,285.7 465.8,288.4 466.3,291.1 466.8,293.4 467.3,295.2 467.8,296.6 468.3,297.8 468.8,299 469.3,300.1 469.8,301.1 470.3,301.7 470.8,302.1 471.3,302.2 471.8,302.2 472.3,302.4 472.8,302.5 473.3,302.7 473.8,302.5 474.3,301.8 474.8,300.5 475.3,298.7 475.8,296.5 476.3,294 476.8,291.2 477.3,287.9 477.8,284.2 478.3,280.4 478.8,276.9 479.3,274.2 479.8,272.7 480.3,272.7 480.8,273.9 481.3,276.2 481.8,279.1 482.3,282.5 482.8,286.2 483.3,290 483.8,293.8 484.3,297.3 484.8,300.6 485.3,303.4 485.8,305.5 486.3,307.1 486.8,308.5 487.3,309.4 487.8,310.1 488.3,310.6 488.8,310.9 489.3,311 489.8,310.8 490.3,310.7 490.8,310.7 491.3,311 491.8,311.4 492.3,311.7 492.8,311.8 493.3,311.7 493.8,311.6 494.3,311.6 494.8,311.9 495.3,312.4 495.8,312.9 496.3,313.2 496.8,313.2 497.3,313 497.8,312.8 498.3,312.9 498.8,313.1 499.3,313.3 499.8,313.5 500.3,313.3 500.8,313 501.3,312.7 501.8,312.5 502.3,312.5 502.8,312.7 503.3,312.9 503.8,312.8 504.3,312.6 504.8,312.3 505.3,312.1 505.8,312.1 506.3,312.4 506.8,312.7 507.3,312.9 507.8,312.8 508.3,312.5 508.8,312.3 509.3,312.3 509.8,312.6 510.3,312.9 510.8,313 511.3,313 511.8,312.7 512.3,312.3 512.8,312.1 513.3,312.2 513.8,312.4 514.3,312.5 514.8,312.5 515.3,312.3 515.8,311.9 516.3,311.7 516.8,311.6 517.3,311.9 517.8,312.2 518.3,312.3 518.8,312.3 519.3,312 519.8,311.8 520.3,311.8 520.8,312 521.3,312.3 521.8,312.5 522.3,312.6 522.8,312.3 523.3,312 523.8,311.8 524.3,311.8 524.8,312 525.3,312.2 525.8,312.2 526.3,312 526.8,311.6 527.3,311.3 527.8,311.2 528.3,311.4 528.8,311.6 529.3,311.8 529.8,311.8 530.3,311.6 530.8,311.3 531.3,311.2 531.8,311.4 532.3,311.7 532.8,312 533.3,312.1 533.8,311.9 534.3,311.6 534.8,311.4 535.3,311.4 535.8,311.6 536.3,311.8 536.8,311.9 537.3,311.7 537.8,311.3 538.3,311 538.8,310.8 539.3,310.9 539.8,311.2 540.3,311.3 540.8,311.3 541.3,311.1 541.8,310.8 542.3,310.7 542.8,310.8 543.3,311.1 543.8,311.4 544.3,311.6 544.8,311.5 545.3,311.2 545.8,311 546.3,311 546.8,311.1 547.3,311.4 547.8,311.5 548.3,311.3 548.8,311 549.3,310.6 549.8,310.4 550.3,310.4 550.8,310.6 551.3,310.8 551.8,310.8 552.3,310.6 552.8,310.2 553.3,310 553.8,310.1 554.3,310.3 554.8,310.7 555.3,310.8 555.8,310.7 556.3,310.5 556.8,310.3 557.3,310.2 557.8,310.4 558.3,310.6 558.8,310.8 559.3,310.7 559.8,310.4 560.3,310.1 560.8,309.8 561.3,309.8 561.8,310 562.3,310.2 562.8,310.1 563.3,309.9 563.8,309.6 564.3,309.3 564.8,309.3 565.3,309.5 565.8,309.8 566.3,310 566.8,310 567.3,309.7 567.8,309.5 568.3,309.4 568.8,309.6 569.3,309.9 569.8,310.1 570.3,310.1 570.8,309.8 571.3,309.5 571.8,309.2 572.3,309.2 572.8,309.3 573.3,309.5 573.8,309.5 574.3,309.3 574.8,309 575.3,308.7 575.8,308.6 576.3,308.7 576.8,309 577.3,309.2 577.8,309.2 578.3,309 578.8,308.7 579.3,308.6 579.8,308.7 580.3,309 580.8,309.3 581.3,309.4 581.8,309.2 582.3,308.9 582.8,308.6 583.3,308.5 583.8,308.7 584.3,308.9 584.8,308.9 585.3,308.8 585.8,308.4 586.3,308.1 586.8,307.9 587.3,308 587.8,308.2 588.3,308.5 588.8,308.5 589.3,308 589.8,307.2 590.3,306 590.8,304.9 591.3,304 591.8,303.6 592.3,304 592.8,304.9 593.3,306.1 593.8,307.3 594.3,308.4 594.8,309.3 595.3,310 595.8,310.4 596.3,310.3 596.8,310 597.3,309.6 597.8,309.4 598.3,309.4 598.8,309.6 599.3,309.8 599.8,309.8 600.3,309.6 600.8,309.3 601.3,309.1 601.8,309.2 602.3,309.4 602.8,309.7 603.3,309.9 603.8,309.8 604.3,309.5 604.8,309.1 605.3,308.7 605.8,308.3 606.3,307.8 606.8,307 607.3,305.8 607.8,304.4 608.3,303.1 608.8,302.4 609.3,302.4 609.8,303.2 610.3,304.3 610.8,305.5 611.3,306.4 611.8,307.1 612.3,307.5 612.8,307.9 613.3,308.3 613.8,308.6 614.3,308.6 614.8,308 615.3,306.8 615.8,305.3 616.3,303.6 616.8,302.2 617.3,301.3 617.8,300.9 618.3,301.1 618.8,301.8 619.3,303 619.8,304.5 620.3,306.1 620.8,307.7 621.3,309 621.8,309.9 622.3,310.2 622.8,310.2 623.3,310.1 623.8,310.2 624.3,310.5 624.8,310.9 625.3,311.2 625.8,311.2 626.3,311.1 626.8,310.9 627.3,310.8 627.8,310.9 628.3,311.2 628.8,311.5 629.3,311.6 629.8,311.4 630.3,311.1 630.8,310.9 631.3,310.8 631.8,310.9 632.3,311.2 632.8,311.3 633.3,311.2 633.8,310.9 634.3,310.5 634.8,310.4 635.3,310.5 635.8,310.8 636.3,311.1 636.8,311.2 637.3,311 637.8,310.8 638.3,310.7 638.8,310.8 639.3,311.1 639.8,311.4 640.3,311.6 640.8,311.5 641.3,311.2 641.8,311 642.3,310.9 642.8,311 643.3,311.2 643.8,311.4 644.3,311.3 644.8,311 645.3,310.7 645.8,310.5 646.3,310.5 646.8,310.8 647.3,311 647.8,311.1 648.3,311 648.8,310.7 649.3,310.3 649.8,310.2 650.3,310.2 650.8,310.4 651.3,310.4 651.8,310.2 652.3,309.8 652.8,309.4 653.3,309.1 653.8,309 654.3,309 654.8,309 655.3,308.8 655.8,308.4 656.3,307.8 656.8,307.4 657.3,307.2 657.8,307.2 658.3,307.2 658.8,307.1 659.3,306.8 659.8,306.4 660.3,306 660.8,305.8 661.3,305.8 661.8,306 662.3,306 662.8,305.9 663.3,305.8 663.8,305.9 664.3,306 664.8,306.4 665.3,307 665.8,307.5 666.3,307.8 666.8,307.9 667.3,307.8 667.8,307.8 668.3,308 668.8,308.5 669.3,309 669.8,309.4 670.3,309.6 670.8,309.6 671.3,309.6 671.8,309.8 672.3,310.3 672.8,310.9 673.3,311.4 673.8,311.3 674.3,310.2 674.8,306.9 675.3,299.9 675.8,287.4 676.3,269.7 676.8,250 677.3,234.5 677.8,228.4 678.3,232.1 678.8,239.6 679.3,242.2 679.8,234.7 680.3,219.2 680.8,203.9 681.3,198.3 681.8,207.4 682.3,228.8 682.8,255.6 683.3,280.3 683.8,298.5 684.3,312.9 684.8,321.8 685.3,325.4 685.8,326 686.3,326.1 686.8,326.2 687.3,326.5 687.8,326.9 688.3,327.1 688.8,327 689.3,326.7 689.8,326.4 690.3,326.3 690.8,326.4 691.3,326.7 691.8,326.8 692.3,326.8 692.8,326.5 693.3,326.2 693.8,326 694.3,326.1 694.8,326.3 695.3,326.6 695.8,326.8 696.3,326.7 696.8,326.5 697.3,326.3 697.8,326.4 698.3,326.6 698.8,327 699.3,327.2 699.8,327.2 700.3,327 700.8,326.8 701.3,326.6 701.8,326.7 702.3,326.9 702.8,327.1 703.3,327.1 703.8,326.9 704.3,326.6 704.8,326.3 705.3,326.3 705.8,326.5 706.3,326.8 706.8,327 707.3,326.9 707.8,326.7 708.3,326.5 708.8,326.5 709.3,326.7 709.8,327.1 710.3,327.4 710.8,327.4 711.3,327.3 711.8,327 712.3,326.9 712.8,327 713.3,327.2 713.8,327.4 714.3,327.5 714.8,327.3 715.3,327 715.8,326.7 716.3,326.6 716.8,326.8 717.3,327 717.8,327.2 718.3,327.1 718.8,326.9 719.3,326.7 719.8,326.6 720.3,326.8 720.8,327.1 721.3,327.5 721.8,327.6 722.3,327.5 722.8,327.2 723.3,327.1 723.8,327.2 724.3,327.4 724.8,327.7 725.3,327.8 725.8,327.7 726.3,327.4 726.8,327 727.3,326.9 727.8,327 728.3,327.3 728.8,327.4 729.3,327.4 729.8,327.2 730.3,326.9 730.8,326.8 731.3,326.9 731.8,327.2 732.3,327.5 732.8,327.7 733.3,327.6 733.8,327.4 734.3,327.3 734.8,327.3 735.3,327.6 735.8,327.9 736.3,328.1 736.8,328 737.3,327.7 737.8,327.4 738.3,327.3 738.8,327.3 739.3,327.6 739.8,327.7 740.3,327.7 740.8,327.5 741.3,327.2 741.8,327 742.3,327.1 742.8,327.3 743.3,327.6 743.8,327.8 744.3,327.8 744.8,327.6 745.3,327.4 745.8,327.4 746.3,327.7 746.8,328 747.3,328.3 747.8,328.3 748.3,328 748.8,327.8 749.3,327.6 749.8,327.6 750.3,327.9 750.8,328.1 751.3,328.1 751.8,327.9 752.3,327.5 752.8,327.3 753.3,327.3 753.8,327.5 754.3,327.8 754.8,328 755.3,328 755.8,327.8 756.3,327.6 756.8,327.5 757.3,327.8 757.8,328.1 758.3,328.4 758.8,328.5 759.3,328.3 759.8,328.1 760.3,327.9 760.8,327.9 761.3,328.1 761.8,328.4 762.3,328.4 762.8,328.3 763.3,327.9 763.8,327.6 764.3,327.3 764.8,327 765.3,326.3 765.8,324.9 766.3,322.4 766.8,319.2 767.3,315.8 767.8,313.1 768.3,312.1 768.8,313 769.3,315.5 769.8,318.7 770.3,321.8 770.8,324.2 771.3,325.9 771.8,326.8 772.3,327 772.8,326.3 773.3,324.6 773.8,321.8 774.3,318.5 774.8,315.5 775.3,313.7 775.8,313.6 776.3,315.3 776.8,318.1 777.3,321.2 777.8,323.8 778.3,325.7 778.8,327 779.3,328.5 779.8,330.1 780.3,331.6 780.8,332.8 781.3,333.8 781.8,334.5 782.3,334.7 782.8,334.6 783.3,334.8 783.8,335.1 784.3,335.2 784.8,335.1 785.3,334.8 785.8,334.4 786.3,334.2 786.8,334.2 787.3,334.4 787.8,334.5 788.3,334.5 788.8,334.3 789.3,333.9 789.8,333.7 790.3,333.7 790.8,333.9 791.3,334.2 791.8,334.4" fill="none" stroke="#ff1418" stroke-width="2.2" stroke-linejoin="round"/>
<polyline points="84.8,476.8 85.3,477 85.8,477.2 86.3,477.1 86.8,476.7 87.3,476.4 87.8,476.2 88.3,476.3 88.8,476.5 89.3,476.7 89.8,476.7 90.3,476.5 90.8,476.2 91.3,476 91.8,476.1 92.3,476.3 92.8,476.6 93.3,476.8 93.8,476.6 94.3,476.4 94.8,476.1 95.3,476 95.8,476.1 96.3,476.3 96.8,476.4 97.3,476.3 97.8,475.9 98.3,475.5 98.8,475.3 99.3,475.3 99.8,475.5 100.3,475.8 100.8,475.9 101.3,475.9 101.8,475.7 102.3,475.7 102.8,475.9 103.3,476.3 103.8,476.8 104.3,477.3 104.8,477.4 105.3,477.4 105.8,477.4 106.3,477.5 106.8,477.8 107.3,478.2 107.8,478.6 108.3,478.8 108.8,478.8 109.3,478.6 109.8,478.5 110.3,478.6 110.8,478.9 111.3,479.3 111.8,479.5 112.3,479.4 112.8,479.3 113.3,479.1 113.8,479.2 114.3,479.5 114.8,479.9 115.3,480.1 115.8,480.1 116.3,480 116.8,479.7 117.3,479.6 117.8,479.8 118.3,480 118.8,480.3 119.3,480.4 119.8,480.2 120.3,479.9 120.8,479.6 121.3,479.6 121.8,479.7 122.3,479.9 122.8,480 123.3,479.8 123.8,479.5 124.3,479.1 124.8,479 125.3,479.1 125.8,479.3 126.3,479.6 126.8,479.6 127.3,479.4 127.8,479.2 128.3,479 128.8,479.1 129.3,479.4 129.8,479.7 130.3,479.9 130.8,479.8 131.3,479.5 131.8,479.2 132.3,479.1 132.8,479.3 133.3,479.5 133.8,479.6 134.3,479.5 134.8,479.1 135.3,478.8 135.8,478.6 136.3,478.6 136.8,478.8 137.3,479.1 137.8,479.1 138.3,478.9 138.8,478.7 139.3,478.5 139.8,478.5 140.3,478.8 140.8,479.1 141.3,479.3 141.8,479.3 142.3,479 142.8,478.8 143.3,478.7 143.8,478.8 144.3,479 144.8,479.2 145.3,479.1 145.8,478.8 146.3,478.5 146.8,478.2 147.3,478.2 147.8,478.4 148.3,478.6 148.8,478.6 149.3,478.5 149.8,478.2 150.3,477.9 150.8,477.9 151.3,478.2 151.8,478.5 152.3,478.7 152.8,478.7 153.3,478.5 153.8,478.3 154.3,478.2 154.8,478.3 155.3,478.5 155.8,478.7 156.3,478.8 156.8,478.5 157.3,478.1 157.8,477.9 158.3,477.8 158.8,477.9 159.3,478.1 159.8,478.2 160.3,478.1 160.8,477.7 161.3,477.5 161.8,477.4 162.3,477.5 162.8,477.8 163.3,478 163.8,478.1 164.3,477.9 164.8,477.6 165.3,477.5 165.8,477.5 166.3,477.8 166.8,478 167.3,478.1 167.8,477.9 168.3,477.5 168.8,477.2 169.3,477.1 169.8,477.2 170.3,477.4 170.8,477.4 171.3,477.3 171.8,476.9 172.3,476.6 172.8,476.4 173.3,476.5 173.8,476.8 174.3,477 174.8,477.1 175.3,476.9 175.8,476.6 176.3,476.5 176.8,476.5 177.3,476.8 177.8,477 178.3,477.2 178.8,477 179.3,476.7 179.8,476.4 180.3,476.3 180.8,476.3 181.3,476.5 181.8,476.6 182.3,476.5 182.8,476.2 183.3,475.8 183.8,475.6 184.3,475.6 184.8,475.8 185.3,476 185.8,476.1 186.3,475.9 186.8,475.7 187.3,475.5 187.8,475.5 188.3,475.7 188.8,476 189.3,476.2 189.8,476.1 190.3,475.9 190.8,475.6 191.3,475.4 191.8,475.5 192.3,475.7 192.8,475.8 193.3,475.7 193.8,475.4 194.3,475 194.8,474.8 195.3,474.7 195.8,474.9 196.3,475.1 196.8,475.2 197.3,475 197.8,474.7 198.3,474.5 198.8,474.5 199.3,474.7 199.8,475 200.3,475.2 200.8,475.2 201.3,475 201.8,474.7 202.3,474.5 202.8,474.6 203.3,474.8 203.8,475 204.3,475 204.8,474.7 205.3,474.3 205.8,474 206.3,473.9 206.8,474 207.3,474.2 207.8,474.3 208.3,474.1 208.8,473.8 209.3,473.6 209.8,473.5 210.3,473.6 210.8,473.9 211.3,474.2 211.8,474.2 212.3,474 212.8,473.8 213.3,473.6 213.8,473.6 214.3,473.8 214.8,474.1 215.3,474.1 215.8,473.9 216.3,473.6 216.8,473.2 217.3,473.1 217.8,473.1 218.3,473.3 218.8,473.4 219.3,473.3 219.8,473 220.3,472.7 220.8,472.5 221.3,472.6 221.8,472.9 222.3,473.1 222.8,473.2 223.3,473.1 223.8,472.9 224.3,472.7 224.8,472.7 225.3,473 225.8,473.3 226.3,473.4 226.8,473.3 227.3,473 227.8,472.7 228.3,472.5 228.8,472.6 229.3,472.8 229.8,472.9 230.3,472.9 230.8,472.6 231.3,472.2 231.8,472 232.3,472.1 232.8,472.3 233.3,472.6 233.8,472.7 234.3,472.6 234.8,472.4 235.3,472.2 235.8,472.2 236.3,472.4 236.8,472.7 237.3,472.9 237.8,472.9 238.3,472.7 238.8,472.3 239.3,472.2 239.8,472.2 240.3,472.4 240.8,472.6 241.3,472.5 241.8,472.3 242.3,471.9 242.8,471.6 243.3,471.6 243.8,471.8 244.3,472.1 244.8,472.2 245.3,472.1 245.8,471.9 246.3,471.7 246.8,471.6 247.3,471.8 247.8,472.2 248.3,472.4 248.8,472.4 249.3,472.2 249.8,472 250.3,471.8 250.8,471.8 251.3,472 251.8,472.2 252.3,472.2 252.8,472 253.3,471.6 253.8,471.3 254.3,471.2 254.8,471.4 255.3,471.6 255.8,471.7 256.3,471.7 256.8,471.4 257.3,471.2 257.8,471.1 258.3,471.2 258.8,471.6 259.3,471.8 259.8,471.9 260.3,471.8 260.8,471.5 261.3,471.3 261.8,471.4 262.3,471.6 262.8,471.8 263.3,471.9 263.8,471.7 264.3,471.4 264.8,471 265.3,470.9 265.8,471 266.3,471.2 266.8,471.3 267.3,471.3 267.8,471 268.3,470.7 268.8,470.6 269.3,470.7 269.8,471 270.3,471.3 270.8,471.4 271.3,471.3 271.8,471.1 272.3,470.9 272.8,470.9 273.3,471.1 273.8,471.3 274.3,471.5 274.8,471.3 275.3,471 275.8,470.6 276.3,470.4 276.8,470.3 277.3,470.4 277.8,470.5 278.3,470.3 278.8,469.8 279.3,469.3 279.8,468.8 280.3,468.6 280.8,468.6 281.3,468.6 281.8,468.5 282.3,468.3 282.8,467.9 283.3,467.7 283.8,467.7 284.3,468.1 284.8,468.6 285.3,469.1 285.8,469.3 286.3,469.4 286.8,469.4 287.3,469.5 287.8,469.8 288.3,470.3 288.8,470.6 289.3,470.8 289.8,470.7 290.3,470.5 290.8,470.3 291.3,470.3 291.8,470.5 292.3,470.8 292.8,471 293.3,471 293.8,470.8 294.3,470.6 294.8,470.5 295.3,470.7 295.8,471 296.3,471.3 296.8,471.4 297.3,471.2 297.8,470.8 298.3,470.6 298.8,470.6 299.3,470.8 299.8,471 300.3,471.1 300.8,470.9 301.3,470.5 301.8,470.2 302.3,470.1 302.8,470.2 303.3,470.5 303.8,470.7 304.3,470.7 304.8,470.4 305.3,470.2 305.8,470.1 306.3,470.3 306.8,470.6 307.3,470.9 307.8,471 308.3,470.8 308.8,470.6 309.3,470.4 309.8,470.3 310.3,470.5 310.8,470.7 311.3,470.8 311.8,470.7 312.3,470.3 312.8,470 313.3,469.8 313.8,469.9 314.3,470.1 314.8,470.3 315.3,470.3 315.8,470.1 316.3,469.8 316.8,469.7 317.3,469.8 317.8,470.1 318.3,470.4 318.8,470.6 319.3,470.5 319.8,470.3 320.3,470 320.8,470 321.3,470.2 321.8,470.4 322.3,470.6 322.8,470.5 323.3,470.2 323.8,469.8 324.3,469.6 324.8,469.6 325.3,469.8 325.8,469.9 326.3,469.9 326.8,469.7 327.3,469.4 327.8,469.1 328.3,469.1 328.8,469.4 329.3,469.7 329.8,469.8 330.3,469.8 330.8,469.5 331.3,469.3 331.8,469.2 332.3,469.4 332.8,469.6 333.3,469.8 333.8,469.7 334.3,469.5 334.8,469.1 335.3,468.8 335.8,468.8 336.3,468.9 336.8,469.1 337.3,469.1 337.8,468.9 338.3,468.5 338.8,468.2 339.3,468.2 339.8,468.3 340.3,468.6 340.8,468.8 341.3,468.8 341.8,468.6 342.3,468.3 342.8,468.2 343.3,468.4 343.8,468.6 344.3,468.9 344.8,468.9 345.3,468.7 345.8,468.3 346.3,468 346.8,468 347.3,468.1 347.8,468.3 348.3,468.3 348.8,468.1 349.3,467.7 349.8,467.4 350.3,467.3 350.8,467.4 351.3,467.6 351.8,467.8 352.3,467.8 352.8,467.6 353.3,467.4 353.8,467.2 354.3,467.3 354.8,467.6 355.3,467.9 355.8,468 356.3,467.8 356.8,467.5 357.3,467.2 357.8,467.1 358.3,467.2 358.8,467.3 359.3,467.2 359.8,466.9 360.3,466.1 360.8,465.2 361.3,464.2 361.8,463.2 362.3,462 362.8,460.5 363.3,458.7 363.8,456.7 364.3,455 364.8,453.8 365.3,453.7 365.8,454.5 366.3,456 366.8,457.9 367.3,459.9 367.8,461.8 368.3,463.5 368.8,465.1 369.3,466.6 369.8,467.8 370.3,468.7 370.8,469.1 371.3,469.1 371.8,469 372.3,468.9 372.8,469.1 373.3,469.4 373.8,469.7 374.3,469.9 374.8,469.8 375.3,469.7 375.8,469.6 376.3,469.7 376.8,470.1 377.3,470.5 377.8,470.8 378.3,470.9 378.8,470.8 379.3,470.6 379.8,470.6 380.3,470.7 380.8,470.8 381.3,470.8 381.8,470.2 382.3,469 382.8,467.1 383.3,464.6 383.8,461.5 384.3,457.9 384.8,453.9 385.3,449.6 385.8,445.6 386.3,442.5 386.8,440.9 387.3,441.3 387.8,443.6 388.3,447.4 388.8,452.1 389.3,456.8 389.8,461.3 390.3,465.1 390.8,468.3 391.3,471 391.8,473.1 392.3,474.6 392.8,475.6 393.3,475.9 393.8,475.8 394.3,475.7 394.8,475.7 395.3,475.9 395.8,476.2 396.3,476.3 396.8,476.2 397.3,476 397.8,475.7 398.3,475.7 398.8,475.8 399.3,476.2 399.8,476.5 400.3,476.6 400.8,476.5 401.3,476.3 401.8,476.2 402.3,476.4 402.8,476.7 403.3,477.1 403.8,477.2 404.3,477.1 404.8,476.9 405.3,476.6 405.8,476.6 406.3,476.8 406.8,477 407.3,477.2 407.8,477.1 408.3,476.9 408.8,476.6 409.3,476.4 409.8,476.6 410.3,476.9 410.8,477.2 411.3,477.3 411.8,477.2 412.3,477 412.8,476.9 413.3,476.9 413.8,477 414.3,476.4 414.8,474.2 415.3,469.4 415.8,462.1 416.3,454.3 416.8,449.6 417.3,450.4 417.8,456.4 418.3,464.5 418.8,471.4 419.3,475.7 419.8,477.6 420.3,478.4 420.8,478.7 421.3,479 421.8,479.2 422.3,479.3 422.8,479.1 423.3,478.8 423.8,478.6 424.3,478.6 424.8,478.8 425.3,479.1 425.8,479.4 426.3,479.3 426.8,479.1 427.3,478.8 427.8,478.6 428.3,478.7 428.8,478.9 429.3,479.1 429.8,479.1 430.3,478.8 430.8,478.4 431.3,478.1 431.8,478 432.3,478.1 432.8,478.3 433.3,478.4 433.8,478.3 434.3,478 434.8,477.7 435.3,477.6 435.8,477.8 436.3,478.1 436.8,478.4 437.3,478.4 437.8,478.2 438.3,477.9 438.8,477.8 439.3,477.8 439.8,478 440.3,478.3 440.8,478.3 441.3,478.1 441.8,477.7 442.3,477.3 442.8,477.2 443.3,477.3 443.8,477.5 444.3,477.6 444.8,477.5 445.3,477.2 445.8,476.8 446.3,476.7 446.8,476.8 447.3,477.1 447.8,477.4 448.3,477.4 448.8,477.3 449.3,477 449.8,476.8 450.3,476.9 450.8,477.1 451.3,477.4 451.8,477.5 452.3,477.3 452.8,477 453.3,476.6 453.8,476.5 454.3,476.5 454.8,476.7 455.3,476.8 455.8,476.7 456.3,476.4 456.8,476 457.3,475.8 457.8,475.9 458.3,476.1 458.8,476.4 459.3,476.5 459.8,476.3 460.3,476.1 460.8,475.9 461.3,475.9 461.8,476.1 462.3,476.4 462.8,476.6 463.3,476.5 463.8,476.2 464.3,475.9 464.8,475.7 465.3,475.7 465.8,475.9 466.3,476 466.8,476 467.3,475.7 467.8,475.3 468.3,475 468.8,475 469.3,475.2 469.8,475.5 470.3,475.6 470.8,475.5 471.3,475.2 471.8,475 472.3,475 472.8,475.2 473.3,475.6 473.8,475.8 474.3,475.8 474.8,475.5 475.3,475.2 475.8,475.1 476.3,475.1 476.8,475.3 477.3,475.5 477.8,475.5 478.3,475.2 478.8,474.8 479.3,474.5 479.8,474.5 480.3,474.6 480.8,474.8 481.3,475 481.8,474.9 482.3,474.6 482.8,474.4 483.3,474.3 483.8,474.5 484.3,474.8 484.8,475.1 485.3,475.1 485.8,475 486.3,474.7 486.8,474.5 487.3,474.5 487.8,474.7 488.3,474.9 488.8,475 489.3,474.8 489.8,474.4 490.3,474.1 490.8,474 491.3,474.1 491.8,474.3 492.3,474.4 492.8,474.3 493.3,474.1 493.8,473.8 494.3,473.6 494.8,473.8 495.3,474.1 495.8,474.4 496.3,474.5 496.8,474.3 497.3,474.1 497.8,473.9 498.3,473.9 498.8,474.1 499.3,474.4 499.8,474.5 500.3,474.3 500.8,474 501.3,473.6 501.8,473.4 502.3,473.4 502.8,473.5 503.3,473.6 503.8,473.4 504.3,473 504.8,472.6 505.3,472.3 505.8,472.3 506.3,472.4 506.8,472.6 507.3,472.7 507.8,472.5 508.3,472.2 508.8,471.9 509.3,471.8 509.8,471.9 510.3,472.1 510.8,472.1 511.3,472 511.8,471.6 512.3,471.1 512.8,470.8 513.3,471 513.8,471.5 514.3,472 514.8,472.2 515.3,472.3 515.8,472.3 516.3,472.3 516.8,472.6 517.3,473.1 517.8,473.7 518.3,474.2 518.8,474.5 519.3,474.5 519.8,474.6 520.3,475.1 520.8,475.9 521.3,476.8 521.8,477.6 522.3,478.2 522.8,478.6 523.3,478.8 523.8,479.2 524.3,479.6 524.8,479.7 525.3,478.5 525.8,474.1 526.3,464.6 526.8,448.9 527.3,428.8 527.8,409.4 528.3,397.7 528.8,398 529.3,408.1 529.8,419.9 530.3,424 530.8,415.4 531.3,396.3 531.8,375.2 532.3,362.7 532.8,365.5 533.3,383.6 533.8,410.5 534.3,437.7 534.8,461.2 535.3,478.5 535.8,489.6 536.3,493.3 536.8,494.7 537.3,494.9 537.8,494.7 538.3,494.5 538.8,494.3 539.3,494.5 539.8,494.7 540.3,494.9 540.8,494.9 541.3,494.7 541.8,494.5 542.3,494.4 542.8,494.5 543.3,494.9 543.8,495.2 544.3,495.4 544.8,495.3 545.3,495.1 545.8,494.9 546.3,494.9 546.8,495.1 547.3,495.4 547.8,495.5 548.3,495.4 548.8,495.1 549.3,494.8 549.8,494.6 550.3,494.7 550.8,494.9 551.3,495.1 551.8,495.1 552.3,494.9 552.8,494.7 553.3,494.5 553.8,494.6 554.3,494.9 554.8,495.2 555.3,495.4 555.8,495.4 556.3,495.2 556.8,495 557.3,495 557.8,495.2 558.3,495.5 558.8,495.7 559.3,495.7 559.8,495.4 560.3,495.1 560.8,494.9 561.3,494.9 561.8,495.1 562.3,495.3 562.8,495.3 563.3,495.2 563.8,494.9 564.3,494.6 564.8,494.7 565.3,494.9 565.8,495.2 566.3,495.5 566.8,495.5 567.3,495.3 567.8,495.1 568.3,495.1 568.8,495.2 569.3,495.6 569.8,495.8 570.3,495.9 570.8,495.7 571.3,495.4 571.8,495.1 572.3,495.1 572.8,495.3 573.3,495.5 573.8,495.6 574.3,495.4 574.8,495.1 575.3,494.8 575.8,494.8 576.3,495 576.8,495.3 577.3,495.5 577.8,495.5 578.3,495.4 578.8,495.2 579.3,495.1 579.8,495.3 580.3,495.6 580.8,495.9 581.3,496 581.8,495.9 582.3,495.6 582.8,495.4 583.3,495.3 583.8,495.5 584.3,495.7 584.8,495.8 585.3,495.5 585.8,495 586.3,494.4 586.8,493.9 587.3,493.4 587.8,492.9 588.3,492.2 588.8,491.2 589.3,490 589.8,488.8 590.3,488 590.8,487.7 591.3,488.1 591.8,488.9 592.3,489.8 592.8,490.7 593.3,491.5 593.8,492.3 594.3,493.2 594.8,494.1 595.3,494.8 595.8,495.4 596.3,495.5 596.8,495.3 597.3,495.1 597.8,494.9 598.3,495 598.8,495.2 599.3,495.5 599.8,495.5 600.3,495.3 600.8,495.1 601.3,494.9 601.8,495 602.3,495.2 602.8,495.6 603.3,495.8 603.8,495.8 604.3,495.5 604.8,495.3 605.3,495.2 605.8,495.4 606.3,495.7 606.8,495.8 607.3,495.8 607.8,495.5 608.3,495.2 608.8,494.9 609.3,494.9 609.8,495.1 610.3,495.3 610.8,495.4 611.3,495.2 611.8,494.9 612.3,494.7 612.8,494.7 613.3,494.9 613.8,495.3 614.3,495.5 614.8,495.5 615.3,495.3 615.8,495.1 616.3,495 616.8,495.2 617.3,495.5 617.8,495.7 618.3,495.7 618.8,495.5 619.3,495.2 619.8,494.9 620.3,494.8 620.8,495 621.3,495.2 621.8,495.3 622.3,495.1 622.8,494.8 623.3,494.6 623.8,494.5 624.3,494.7 624.8,495 625.3,495.2 625.8,495.3 626.3,495.1 626.8,494.9 627.3,494.8 627.8,494.9 628.3,495.2 628.8,495.5 629.3,495.6 629.8,495.4 630.3,495.1 630.8,494.8 631.3,494.8 631.8,494.9 632.3,495.1 632.8,495.2 633.3,495.1 633.8,494.8 634.3,494.5 634.8,494.3 635.3,494.4 635.8,494.7 636.3,495 636.8,495 637.3,494.9 637.8,494.7 638.3,494.5 638.8,494.6 639.3,494.9 639.8,495.2 640.3,495.4 640.8,495.3 641.3,495 641.8,494.8 642.3,494.7 642.8,494.8 643.3,495 643.8,495.1 644.3,495.1 644.8,494.8 645.3,494.4 645.8,494.2 646.3,494.2 646.8,494.5 647.3,494.7 647.8,494.8 648.3,494.7 648.8,494.4 649.3,494.3 649.8,494.3 650.3,494.6 650.8,494.9 651.3,495.1 651.8,495.1 652.3,494.9 652.8,494.6 653.3,494.5 653.8,494.6 654.3,494.9 654.8,495.1 655.3,495 655.8,494.8 656.3,494.4 656.8,494.1 657.3,494.1 657.8,494.3 658.3,494.6 658.8,494.7 659.3,494.5 659.8,494.3 660.3,494 660.8,494 661.3,494.3 661.8,494.6 662.3,494.9 662.8,494.9 663.3,494.7 663.8,494.5 664.3,494.4 664.8,494.5 665.3,494.7 665.8,494.9 666.3,495 666.8,494.8 667.3,494.4 667.8,494.1 668.3,494 668.8,494.2 669.3,494.4 669.8,494.5 670.3,494.4 670.8,494.1 671.3,493.9 671.8,493.8 672.3,494 672.8,494.3 673.3,494.6 673.8,494.7 674.3,494.5 674.8,494.3 675.3,494.1 675.8,494.2 676.3,494.5 676.8,494.8 677.3,494.9 677.8,494.7 678.3,494.4 678.8,494.1 679.3,494 679.8,494.1 680.3,494.3 680.8,494.4 681.3,494.3 681.8,494.1 682.3,493.7 682.8,493.6 683.3,493.7 683.8,494 684.3,494.3 684.8,494.4 685.3,494.3 685.8,494.1 686.3,493.9 686.8,494 687.3,494.2 687.8,494.5 688.3,494.7 688.8,494.6 689.3,494.3 689.8,494 690.3,493.9 690.8,494 691.3,494.2 691.8,494.4 692.3,494.3 692.8,494 693.3,493.7 693.8,493.5 694.3,493.5 694.8,493.7 695.3,494 695.8,494.2 696.3,494.1 696.8,493.8 697.3,493.6 697.8,493.7 698.3,493.9 698.8,494.3 699.3,494.5 699.8,494.5 700.3,494.2 700.8,494 701.3,493.8 701.8,493.9 702.3,494.1 702.8,494.3 703.3,494.3 703.8,494 704.3,493.7 704.8,493.4 705.3,493.4 705.8,493.5 706.3,493.8 706.8,493.9 707.3,493.9 707.8,493.6 708.3,493.4 708.8,493.4 709.3,493.6 709.8,493.9 710.3,494.2 710.8,494.3 711.3,494.1 711.8,493.8 712.3,493.7 712.8,493.7 713.3,494 713.8,494.2 714.3,494.2 714.8,494 715.3,493.6 715.8,493.3 716.3,493.3 716.8,493.3 717.3,493.5 717.8,493.5 718.3,493.4 718.8,493 719.3,492.7 719.8,492.5 720.3,492.6 720.8,492.8 721.3,493 721.8,493 722.3,492.8 722.8,492.5 723.3,492.2 723.8,492.2 724.3,492.3 724.8,492.5 725.3,492.5 725.8,492.4 726.3,492.1 726.8,491.9 727.3,491.8 727.8,492 728.3,492.3 728.8,492.5 729.3,492.5 729.8,492.3 730.3,492.1 730.8,492 731.3,492.2 731.8,492.6 732.3,493 732.8,493.2 733.3,493.2 733.8,493 734.3,492.9 734.8,493 735.3,493.3 735.8,493.7 736.3,493.9 736.8,493.9 737.3,493.7 737.8,493.5 738.3,493.4 738.8,493.5 739.3,493.6 739.8,493.7 740.3,493.5 740.8,493.1 741.3,492.7 741.8,492.3 742.3,492.3 742.8,492.4 743.3,492.5 743.8,492.6 744.3,492.4 744.8,492.1 745.3,491.7 745.8,491.6 746.3,491.7 746.8,491.9 747.3,492 747.8,491.8 748.3,491.5 748.8,491 749.3,490.7 749.8,490.6 750.3,490.7 750.8,490.7 751.3,490.6 751.8,490.7 752.3,490.7 752.8,490.8 753.3,491.1 753.8,491.7 754.3,492.3 754.8,492.9 755.3,493.2 755.8,493.4 756.3,493.5 756.8,493.8 757.3,494.4 757.8,495.1 758.3,495.8 758.8,496.2 759.3,496.4 759.8,496.1 760.3,495.9 760.8,496 761.3,496.2 761.8,496.4 762.3,496.5 762.8,496.4 763.3,496 763.8,495.7 764.3,495.7 764.8,495.8 765.3,496.1 765.8,496.3 766.3,496.3 766.8,496.1 767.3,495.9 767.8,495.9 768.3,496 768.8,496.4 769.3,496.7 769.8,496.9 770.3,496.8 770.8,496.5 771.3,496.4 771.8,496.4 772.3,496.6 772.8,496.9 773.3,497 773.8,496.9 774.3,496.6 774.8,496.3 775.3,496.2 775.8,496.3 776.3,496.5 776.8,496.7 777.3,496.7 777.8,496.6 778.3,496.3 778.8,496.2 779.3,496.3 779.8,496.6 780.3,497 780.8,497.2 781.3,497.1 781.8,496.9 782.3,496.8 782.8,496.8 783.3,497 783.8,497.3 784.3,497.5 784.8,497.4 785.3,497.2 785.8,496.8 786.3,496.6 786.8,496.5 787.3,496.2 787.8,495.4 788.3,493.5 788.8,490.4 789.3,486.4 789.8,482.7 790.3,480.7 790.8,481.2 791.3,483.9 791.8,487.8" fill="none" stroke="#111" stroke-width="2.0" stroke-linejoin="round"/>
<text x="180.4" y="116.5" font-size="33.5" text-anchor="start">AB</text>
<text x="144" y="278.6" font-size="33.5" text-anchor="start">Bi<tspan font-size="23.1" dy="9.2">2</tspan><tspan dy="-9.2">WO</tspan><tspan font-size="23.1" dy="9.2">6</tspan></text>
<text x="159" y="455" font-size="33.5" text-anchor="start">Ag<tspan font-size="23.1" dy="9.2">2</tspan><tspan dy="-9.2">CO</tspan><tspan font-size="23.1" dy="9.2">3</tspan></text>
<text x="411" y="83.3" font-size="33.5" text-anchor="start">O 1s</text>
<text x="495.7" y="109.3" font-size="28.7" text-anchor="start">Ag 3d</text>
<text x="584.1" y="119.4" font-size="29.7" text-anchor="start">C 1s</text>
<text x="684.9" y="56.6" font-size="33.5" text-anchor="start">Bi 4f</text>
<text x="705" y="146.5" font-size="33.5" text-anchor="start">W 4f</text>
<text x="391.6" y="247.3" font-size="33.5" text-anchor="start">O 1s</text>
<text x="691.7" y="209.4" font-size="33.5" text-anchor="start">Bi 4f</text>
<text x="700.6" y="310" font-size="33.5" text-anchor="start">W 4f</text>
<text x="413.3" y="439" font-size="33.5" text-anchor="start">O 1s</text>
<text x="545.5" y="390.2" font-size="33.5" text-anchor="start">Ag 3d</text>
<text x="578.3" y="478.3" font-size="33.5" text-anchor="start">C 1s</text>
<rect x="1031.3" y="4.8" width="711" height="517.5" fill="none" stroke="#222" stroke-width="2.7"/>
<text x="1031.3" y="563.3" font-size="34" text-anchor="middle">166</text>
<text x="1173.5" y="563.3" font-size="34" text-anchor="middle">164</text>
<text x="1315.7" y="563.3" font-size="34" text-anchor="middle">162</text>
<text x="1457.9" y="563.3" font-size="34" text-anchor="middle">160</text>
<text x="1600.1" y="563.3" font-size="34" text-anchor="middle">158</text>
<text x="1742.3" y="563.3" font-size="34" text-anchor="middle">156</text>
<path d="M1102.4 522.3v-6.8M1173.5 522.3v-13.5M1244.6 522.3v-6.8M1315.7 522.3v-13.5M1386.8 522.3v-6.8M1457.9 522.3v-13.5M1529 522.3v-6.8M1600.1 522.3v-13.5M1671.2 522.3v-6.8" stroke="#222" stroke-width="2.5" fill="none"/>
<text x="1243.6" y="612.8" font-size="38.3" text-anchor="start">Binding Energy (eV)</text>
<text transform="translate(993.8 349.9) rotate(-90)" font-size="38.3">Intensity (a.u)</text>
<text x="1055.7" y="56.2" font-size="43.5" text-anchor="start">(b)</text>
<text x="1656" y="36" font-size="33.5" text-anchor="start">Bi 4f</text>
<g clip-path="url(#c3)"><use href="#m" x="1034.9" y="223.5"/><use href="#m" x="1042" y="223.2"/><use href="#m" x="1049.1" y="222.9"/><use href="#m" x="1056.2" y="222.2"/><use href="#m" x="1063.3" y="221.3"/><use href="#m" x="1070.4" y="219.7"/><use href="#m" x="1077.5" y="217.3"/><use href="#m" x="1084.6" y="213.7"/><use href="#m" x="1091.7" y="208.5"/><use href="#m" x="1098.8" y="201.1"/><use href="#m" x="1106" y="191.4"/><use href="#m" x="1113.1" y="179.1"/><use href="#m" x="1120.2" y="164.2"/><use href="#m" x="1127.3" y="147"/><use href="#m" x="1134.4" y="128.6"/><use href="#m" x="1141.5" y="110.2"/><use href="#m" x="1148.6" y="93.7"/><use href="#m" x="1155.7" y="80.7"/><use href="#m" x="1162.8" y="73.1"/><use href="#m" x="1169.9" y="72"/><use href="#m" x="1177.1" y="77.6"/><use href="#m" x="1184.2" y="89"/><use href="#m" x="1191.3" y="104.9"/><use href="#m" x="1198.4" y="123.2"/><use href="#m" x="1205.5" y="142.3"/><use href="#m" x="1212.6" y="160.5"/><use href="#m" x="1219.7" y="176.9"/><use href="#m" x="1226.8" y="190.8"/><use href="#m" x="1233.9" y="201.9"/><use href="#m" x="1241" y="210.4"/><use href="#m" x="1248.2" y="216.6"/><use href="#m" x="1255.3" y="220.8"/><use href="#m" x="1262.4" y="223.7"/><use href="#m" x="1269.5" y="225.6"/><use href="#m" x="1276.6" y="226.8"/><use href="#m" x="1283.7" y="227.6"/><use href="#m" x="1290.8" y="228.1"/><use href="#m" x="1297.9" y="228.5"/><use href="#m" x="1305" y="228.7"/><use href="#m" x="1312.1" y="228.9"/><use href="#m" x="1319.3" y="229.1"/><use href="#m" x="1326.4" y="229.2"/><use href="#m" x="1333.5" y="229.3"/><use href="#m" x="1340.6" y="229.4"/><use href="#m" x="1347.7" y="229.4"/><use href="#m" x="1354.8" y="229.5"/><use href="#m" x="1361.9" y="229.5"/><use href="#m" x="1369" y="229.5"/><use href="#m" x="1376.1" y="229.5"/><use href="#m" x="1383.2" y="229.5"/><use href="#m" x="1390.4" y="229.5"/><use href="#m" x="1397.5" y="229.4"/><use href="#m" x="1404.6" y="229.2"/><use href="#m" x="1411.7" y="228.9"/><use href="#m" x="1418.8" y="228.5"/><use href="#m" x="1425.9" y="227.8"/><use href="#m" x="1433" y="226.7"/><use href="#m" x="1440.1" y="225"/><use href="#m" x="1447.2" y="222.4"/><use href="#m" x="1454.3" y="218.4"/><use href="#m" x="1461.5" y="212.7"/><use href="#m" x="1468.6" y="204.6"/><use href="#m" x="1475.7" y="193.9"/><use href="#m" x="1482.8" y="180.2"/><use href="#m" x="1489.9" y="163.5"/><use href="#m" x="1497" y="143.8"/><use href="#m" x="1504.1" y="122"/><use href="#m" x="1511.2" y="99.1"/><use href="#m" x="1518.3" y="76.8"/><use href="#m" x="1525.4" y="57.1"/><use href="#m" x="1532.6" y="41.8"/><use href="#m" x="1539.7" y="32.9"/><use href="#m" x="1546.8" y="31.6"/><use href="#m" x="1553.9" y="38.1"/><use href="#m" x="1561" y="51.5"/><use href="#m" x="1568.1" y="70.2"/><use href="#m" x="1575.2" y="92.3"/><use href="#m" x="1582.3" y="115.7"/><use href="#m" x="1589.4" y="138.6"/><use href="#m" x="1596.5" y="159.8"/><use href="#m" x="1603.7" y="178.2"/><use href="#m" x="1610.8" y="193.6"/><use href="#m" x="1617.9" y="205.9"/><use href="#m" x="1625" y="215.1"/><use href="#m" x="1632.1" y="221.8"/><use href="#m" x="1639.2" y="226.5"/><use href="#m" x="1646.3" y="229.8"/><use href="#m" x="1653.4" y="231.9"/><use href="#m" x="1660.5" y="233.4"/><use href="#m" x="1667.6" y="234.3"/><use href="#m" x="1674.8" y="235"/><use href="#m" x="1681.9" y="235.4"/><use href="#m" x="1689" y="235.8"/><use href="#m" x="1696.1" y="236"/><use href="#m" x="1703.2" y="236.2"/><use href="#m" x="1710.3" y="236.4"/><use href="#m" x="1717.4" y="236.6"/><use href="#m" x="1724.5" y="236.7"/><use href="#m" x="1731.6" y="236.9"/><use href="#m" x="1738.7" y="237"/><use href="#m" x="1745.9" y="237.1"/><polygon points="1031.3,223.8 1033.8,223.7 1036.3,223.6 1038.8,223.6 1041.3,223.5 1043.8,223.3 1046.3,223.2 1048.8,223.1 1051.3,222.9 1053.8,222.7 1056.3,222.4 1058.8,222.1 1061.3,221.8 1063.8,221.4 1066.3,220.9 1068.8,220.3 1071.3,219.7 1073.8,218.9 1076.3,218 1078.8,217 1081.3,215.8 1083.8,214.4 1086.3,212.9 1088.8,211.1 1091.3,209.1 1093.8,206.8 1096.3,204.2 1098.8,201.4 1101.3,198.2 1103.8,194.9 1106.3,191.1 1108.8,187.1 1111.3,182.7 1113.8,178 1116.3,172.9 1118.8,167.5 1121.3,161.8 1123.8,155.9 1126.3,149.8 1128.8,143.4 1131.3,137 1133.8,130.4 1136.3,123.9 1138.8,117.4 1141.3,111 1143.8,104.9 1146.3,99 1148.8,93.6 1151.3,88.5 1153.8,84.1 1156.3,80.2 1158.8,77 1161.3,74.6 1163.8,72.9 1166.3,72.1 1168.8,72.1 1171.3,72.9 1173.8,74.6 1176.3,77 1178.8,80.2 1181.3,84.1 1183.8,88.7 1186.3,93.8 1188.8,99.3 1191.3,105.3 1193.8,111.6 1196.3,118.1 1198.8,124.7 1201.3,131.4 1203.8,138.1 1206.3,144.8 1208.8,151.3 1211.3,157.7 1213.8,163.9 1216.3,169.8 1218.8,175.4 1221.3,180.7 1223.8,185.7 1226.3,190.3 1228.8,194.6 1231.3,198.6 1233.8,202.2 1236.3,205.5 1238.8,208.5 1241.3,211.2 1243.8,213.6 1246.3,215.7 1248.8,217.5 1251.3,219.2 1253.8,220.6 1256.3,221.9 1258.8,223 1261.3,223.9 1263.8,224.7 1266.3,225.4 1268.8,226.1 1271.3,226.6 1273.8,227 1276.3,227.4 1278.8,227.7 1281.3,228 1283.8,228.3 1286.3,228.5 1288.8,228.7 1291.3,228.9 1293.8,229 1296.3,229.1 1298.8,229.3 1301.3,229.4 1303.8,229.5 1306.3,229.6 1308.8,229.6 1311.3,229.7 1313.8,229.8 1316.3,229.9 1318.8,229.9 1321.3,230 1323.8,230.1 1326.3,230.1 1328.8,230.2 1331.3,230.2 1333.8,230.3 1336.3,230.4 1338.8,230.4 1341.3,230.5 1343.8,230.5 1346.3,230.6 1348.8,230.6 1351.3,230.6 1353.8,230.7 1356.3,230.7 1358.8,230.8 1361.3,230.8 1363.8,230.9 1366.3,230.9 1368.8,231 1371.3,231 1373.8,231 1376.3,231.1 1378.8,231.1 1381.3,231.2 1383.8,231.2 1386.3,231.2 1388.8,231.3 1391.3,231.3 1393.8,231.3 1396.3,231.4 1398.8,231.4 1401.3,231.4 1403.8,231.5 1406.3,231.5 1408.8,231.5 1411.3,231.6 1413.8,231.6 1416.3,231.6 1418.8,231.7 1421.3,231.7 1423.8,231.7 1426.3,231.7 1428.8,231.8 1431.3,231.8 1433.8,231.8 1436.3,231.8 1438.8,231.9 1441.3,231.9 1443.8,231.9 1446.3,231.9 1448.8,232 1451.3,232 1453.8,232 1456.3,232.1 1458.8,232.1 1461.3,232.1 1463.8,232.1 1463.8,232.8 1461.3,232.8 1458.8,232.7 1456.3,232.7 1453.8,232.7 1451.3,232.7 1448.8,232.7 1446.3,232.6 1443.8,232.6 1441.3,232.6 1438.8,232.6 1436.3,232.6 1433.8,232.6 1431.3,232.5 1428.8,232.5 1426.3,232.5 1423.8,232.5 1421.3,232.5 1418.8,232.4 1416.3,232.4 1413.8,232.4 1411.3,232.4 1408.8,232.4 1406.3,232.3 1403.8,232.3 1401.3,232.3 1398.8,232.3 1396.3,232.3 1393.8,232.2 1391.3,232.2 1388.8,232.2 1386.3,232.2 1383.8,232.1 1381.3,232.1 1378.8,232.1 1376.3,232.1 1373.8,232.1 1371.3,232 1368.8,232 1366.3,232 1363.8,232 1361.3,231.9 1358.8,231.9 1356.3,231.9 1353.8,231.9 1351.3,231.8 1348.8,231.8 1346.3,231.8 1343.8,231.8 1341.3,231.7 1338.8,231.7 1336.3,231.7 1333.8,231.7 1331.3,231.7 1328.8,231.6 1326.3,231.6 1323.8,231.6 1321.3,231.6 1318.8,231.5 1316.3,231.5 1313.8,231.5 1311.3,231.5 1308.8,231.4 1306.3,231.4 1303.8,231.4 1301.3,231.4 1298.8,231.4 1296.3,231.3 1293.8,231.3 1291.3,231.3 1288.8,231.3 1286.3,231.2 1283.8,231.2 1281.3,231.2 1278.8,231.2 1276.3,231.1 1273.8,231.1 1271.3,231.1 1268.8,231.1 1266.3,231 1263.8,231 1261.3,231 1258.8,231 1256.3,231 1253.8,230.9 1251.3,230.9 1248.8,230.9 1246.3,230.9 1243.8,230.8 1241.3,230.8 1238.8,230.8 1236.3,230.7 1233.8,230.6 1231.3,230.6 1228.8,230.5 1226.3,230.4 1223.8,230.4 1221.3,230.3 1218.8,230.2 1216.3,230.2 1213.8,230.1 1211.3,230 1208.8,230 1206.3,229.9 1203.8,229.8 1201.3,229.8 1198.8,229.7 1196.3,229.7 1193.8,229.6 1191.3,229.5 1188.8,229.5 1186.3,229.4 1183.8,229.3 1181.3,229.3 1178.8,229.2 1176.3,229.1 1173.8,229.1 1171.3,229 1168.8,228.9 1166.3,228.8 1163.8,228.7 1161.3,228.6 1158.8,228.5 1156.3,228.4 1153.8,228.3 1151.3,228.2 1148.8,228.1 1146.3,228 1143.8,227.8 1141.3,227.7 1138.8,227.6 1136.3,227.5 1133.8,227.4 1131.3,227.3 1128.8,227.2 1126.3,227.1 1123.8,227 1121.3,226.8 1118.8,226.7 1116.3,226.6 1113.8,226.5 1111.3,226.4 1108.8,226.3 1106.3,226.2 1103.8,226.1 1101.3,226 1098.8,225.9 1096.3,225.9 1093.8,225.9 1091.3,225.9 1088.8,225.9 1086.3,225.9 1083.8,225.9 1081.3,225.8 1078.8,225.8 1076.3,225.8 1073.8,225.8 1071.3,225.8 1068.8,225.8 1066.3,225.8 1063.8,225.8 1061.3,225.8 1058.8,225.8 1056.3,225.8 1053.8,225.8 1051.3,225.8 1048.8,225.8 1046.3,225.7 1043.8,225.7 1041.3,225.7 1038.8,225.7 1036.3,225.7 1033.8,225.7 1031.3,225.7" fill="url(#g1)" fill-opacity="0.97"/><polyline points="1031.3,223.8 1033.8,223.7 1036.3,223.6 1038.8,223.6 1041.3,223.5 1043.8,223.3 1046.3,223.2 1048.8,223.1 1051.3,222.9 1053.8,222.7 1056.3,222.4 1058.8,222.1 1061.3,221.8 1063.8,221.4 1066.3,220.9 1068.8,220.3 1071.3,219.7 1073.8,218.9 1076.3,218 1078.8,217 1081.3,215.8 1083.8,214.4 1086.3,212.9 1088.8,211.1 1091.3,209.1 1093.8,206.8 1096.3,204.2 1098.8,201.4 1101.3,198.2 1103.8,194.9 1106.3,191.1 1108.8,187.1 1111.3,182.7 1113.8,178 1116.3,172.9 1118.8,167.5 1121.3,161.8 1123.8,155.9 1126.3,149.8 1128.8,143.4 1131.3,137 1133.8,130.4 1136.3,123.9 1138.8,117.4 1141.3,111 1143.8,104.9 1146.3,99 1148.8,93.6 1151.3,88.5 1153.8,84.1 1156.3,80.2 1158.8,77 1161.3,74.6 1163.8,72.9 1166.3,72.1 1168.8,72.1 1171.3,72.9 1173.8,74.6 1176.3,77 1178.8,80.2 1181.3,84.1 1183.8,88.7 1186.3,93.8 1188.8,99.3 1191.3,105.3 1193.8,111.6 1196.3,118.1 1198.8,124.7 1201.3,131.4 1203.8,138.1 1206.3,144.8 1208.8,151.3 1211.3,157.7 1213.8,163.9 1216.3,169.8 1218.8,175.4 1221.3,180.7 1223.8,185.7 1226.3,190.3 1228.8,194.6 1231.3,198.6 1233.8,202.2 1236.3,205.5 1238.8,208.5 1241.3,211.2 1243.8,213.6 1246.3,215.7 1248.8,217.5 1251.3,219.2 1253.8,220.6 1256.3,221.9 1258.8,223 1261.3,223.9 1263.8,224.7 1266.3,225.4 1268.8,226.1 1271.3,226.6 1273.8,227 1276.3,227.4 1278.8,227.7 1281.3,228 1283.8,228.3 1286.3,228.5 1288.8,228.7 1291.3,228.9 1293.8,229 1296.3,229.1 1298.8,229.3 1301.3,229.4 1303.8,229.5 1306.3,229.6 1308.8,229.6 1311.3,229.7 1313.8,229.8 1316.3,229.9 1318.8,229.9 1321.3,230 1323.8,230.1 1326.3,230.1 1328.8,230.2 1331.3,230.2 1333.8,230.3 1336.3,230.4 1338.8,230.4 1341.3,230.5 1343.8,230.5 1346.3,230.6 1348.8,230.6 1351.3,230.6 1353.8,230.7 1356.3,230.7 1358.8,230.8 1361.3,230.8 1363.8,230.9 1366.3,230.9 1368.8,231 1371.3,231 1373.8,231 1376.3,231.1 1378.8,231.1 1381.3,231.2 1383.8,231.2 1386.3,231.2 1388.8,231.3 1391.3,231.3 1393.8,231.3 1396.3,231.4 1398.8,231.4 1401.3,231.4 1403.8,231.5 1406.3,231.5 1408.8,231.5 1411.3,231.6 1413.8,231.6 1416.3,231.6 1418.8,231.7 1421.3,231.7 1423.8,231.7 1426.3,231.7 1428.8,231.8 1431.3,231.8 1433.8,231.8 1436.3,231.8 1438.8,231.9 1441.3,231.9 1443.8,231.9 1446.3,231.9 1448.8,232 1451.3,232 1453.8,232 1456.3,232.1 1458.8,232.1 1461.3,232.1 1463.8,232.1 1466.3,232.1 1468.8,232.2 1471.3,232.2 1473.8,232.2 1476.3,232.2 1478.8,232.3 1481.3,232.3 1483.8,232.4 1486.3,232.5 1488.8,232.6 1491.3,232.7 1493.8,232.8 1496.3,232.9 1498.8,233 1501.3,233.1 1503.8,233.2 1506.3,233.3 1508.8,233.4 1511.3,233.5 1513.8,233.6 1516.3,233.7 1518.8,233.8 1521.3,233.9 1523.8,234 1526.3,234.1 1528.8,234.2 1531.3,234.3 1533.8,234.4 1536.3,234.4 1538.8,234.5 1541.3,234.6 1543.8,234.7 1546.3,234.8 1548.8,234.9 1551.3,235 1553.8,235.1 1556.3,235.2 1558.8,235.3 1561.3,235.4 1563.8,235.5 1566.3,235.5 1568.8,235.6 1571.3,235.7 1573.8,235.8 1576.3,235.9 1578.8,236 1581.3,236.1 1583.8,236.2 1586.3,236.3 1588.8,236.3 1591.3,236.4 1593.8,236.5 1596.3,236.6 1598.8,236.7 1601.3,236.8 1603.8,236.9 1606.3,237 1608.8,237.1 1611.3,237.1 1613.8,237.2 1616.3,237.3 1618.8,237.4 1621.3,237.5 1623.8,237.5 1626.3,237.5 1628.8,237.5 1631.3,237.5 1633.8,237.5 1636.3,237.6 1638.8,237.6 1641.3,237.6 1643.8,237.6 1646.3,237.6 1648.8,237.6 1651.3,237.6 1653.8,237.7 1656.3,237.7 1658.8,237.7 1661.3,237.7 1663.8,237.7 1666.3,237.7 1668.8,237.8 1671.3,237.8 1673.8,237.8 1676.3,237.8 1678.8,237.8 1681.3,237.8 1683.8,237.8 1686.3,237.9 1688.8,237.9 1691.3,237.9 1693.8,237.9 1696.3,237.9 1698.8,237.9 1701.3,238 1703.8,238 1706.3,238 1708.8,238 1711.3,238 1713.8,238 1716.3,238 1718.8,238.1 1721.3,238.1 1723.8,238.1 1726.3,238.1 1728.8,238.1 1731.3,238.1 1733.8,238.2 1736.3,238.2 1738.8,238.2 1741.3,238.2 1742.3,238.2" fill="none" stroke="#3ecb8c" stroke-width="1.8"/><polygon points="1186.3,228.7 1188.8,228.8 1191.3,228.9 1193.8,228.9 1196.3,229 1198.8,229 1201.3,229.1 1203.8,229.2 1206.3,229.2 1208.8,229.3 1211.3,229.3 1213.8,229.4 1216.3,229.5 1218.8,229.5 1221.3,229.6 1223.8,229.6 1226.3,229.7 1228.8,229.8 1231.3,229.8 1233.8,229.9 1236.3,229.9 1238.8,230 1241.3,230 1243.8,230 1246.3,230.1 1248.8,230.1 1251.3,230.1 1253.8,230.1 1256.3,230.1 1258.8,230.1 1261.3,230.1 1263.8,230.2 1266.3,230.2 1268.8,230.2 1271.3,230.2 1273.8,230.2 1276.3,230.2 1278.8,230.2 1281.3,230.2 1283.8,230.2 1286.3,230.3 1288.8,230.3 1291.3,230.3 1293.8,230.3 1296.3,230.3 1298.8,230.3 1301.3,230.3 1303.8,230.3 1306.3,230.3 1308.8,230.3 1311.3,230.3 1313.8,230.4 1316.3,230.4 1318.8,230.4 1321.3,230.4 1323.8,230.4 1326.3,230.4 1328.8,230.4 1331.3,230.4 1333.8,230.4 1336.3,230.4 1338.8,230.4 1341.3,230.4 1343.8,230.4 1346.3,230.4 1348.8,230.4 1351.3,230.4 1353.8,230.4 1356.3,230.4 1358.8,230.3 1361.3,230.3 1363.8,230.3 1366.3,230.3 1368.8,230.3 1371.3,230.3 1373.8,230.3 1376.3,230.2 1378.8,230.2 1381.3,230.2 1383.8,230.2 1386.3,230.1 1388.8,230.1 1391.3,230.1 1393.8,230 1396.3,230 1398.8,229.9 1401.3,229.9 1403.8,229.8 1406.3,229.7 1408.8,229.6 1411.3,229.5 1413.8,229.3 1416.3,229.2 1418.8,229 1421.3,228.8 1423.8,228.5 1426.3,228.2 1428.8,227.9 1431.3,227.5 1433.8,227 1436.3,226.4 1438.8,225.8 1441.3,225 1443.8,224.2 1446.3,223.2 1448.8,222 1451.3,220.7 1453.8,219.1 1456.3,217.4 1458.8,215.4 1461.3,213.2 1463.8,210.6 1466.3,207.8 1468.8,204.7 1471.3,201.2 1473.8,197.4 1476.3,193.2 1478.8,188.6 1481.3,183.6 1483.8,178.3 1486.3,172.6 1488.8,166.5 1491.3,160.1 1493.8,153.3 1496.3,146.2 1498.8,138.8 1501.3,131.1 1503.8,123.2 1506.3,115.3 1508.8,107.2 1511.3,99.1 1513.8,91.1 1516.3,83.3 1518.8,75.7 1521.3,68.4 1523.8,61.5 1526.3,55.2 1528.8,49.4 1531.3,44.3 1533.8,40 1536.3,36.5 1538.8,33.8 1541.3,32.2 1543.8,31.4 1546.3,31.7 1548.8,32.9 1551.3,35.1 1553.8,38.2 1556.3,42.1 1558.8,46.9 1561.3,52.4 1563.8,58.6 1566.3,65.3 1568.8,72.5 1571.3,80.1 1573.8,87.9 1576.3,96 1578.8,104.2 1581.3,112.5 1583.8,120.7 1586.3,128.8 1588.8,136.8 1591.3,144.5 1593.8,152 1596.3,159.2 1598.8,166.1 1601.3,172.6 1603.8,178.8 1606.3,184.5 1608.8,189.9 1611.3,194.8 1613.8,199.4 1616.3,203.6 1618.8,207.4 1621.3,210.8 1623.8,213.9 1626.3,216.7 1628.8,219.1 1631.3,221.3 1633.8,223.2 1636.3,224.9 1638.8,226.4 1641.3,227.8 1643.8,228.9 1646.3,229.9 1648.8,230.8 1651.3,231.5 1653.8,232.2 1656.3,232.7 1658.8,233.2 1661.3,233.6 1663.8,234 1666.3,234.3 1668.8,234.6 1671.3,234.8 1673.8,235 1676.3,235.2 1678.8,235.4 1681.3,235.5 1683.8,235.6 1686.3,235.8 1688.8,235.9 1691.3,236 1693.8,236.1 1696.3,236.1 1698.8,236.2 1701.3,236.3 1703.8,236.4 1706.3,236.4 1708.8,236.5 1711.3,236.6 1713.8,236.6 1716.3,236.7 1718.8,236.7 1721.3,236.8 1723.8,236.8 1726.3,236.9 1728.8,236.9 1731.3,237 1733.8,237 1736.3,237.1 1738.8,237.1 1741.3,237.2 1742.3,237.2 1742.3,238.6 1741.3,238.6 1738.8,238.6 1736.3,238.6 1733.8,238.6 1731.3,238.5 1728.8,238.5 1726.3,238.5 1723.8,238.5 1721.3,238.5 1718.8,238.5 1716.3,238.5 1713.8,238.4 1711.3,238.4 1708.8,238.4 1706.3,238.4 1703.8,238.4 1701.3,238.4 1698.8,238.4 1696.3,238.3 1693.8,238.3 1691.3,238.3 1688.8,238.3 1686.3,238.3 1683.8,238.3 1681.3,238.3 1678.8,238.2 1676.3,238.2 1673.8,238.2 1671.3,238.2 1668.8,238.2 1666.3,238.2 1663.8,238.2 1661.3,238.1 1658.8,238.1 1656.3,238.1 1653.8,238.1 1651.3,238.1 1648.8,238.1 1646.3,238.1 1643.8,238 1641.3,238 1638.8,238 1636.3,238 1633.8,238 1631.3,238 1628.8,238 1626.3,237.9 1623.8,237.9 1621.3,237.9 1618.8,237.9 1616.3,237.8 1613.8,237.7 1611.3,237.6 1608.8,237.5 1606.3,237.4 1603.8,237.3 1601.3,237.3 1598.8,237.2 1596.3,237.1 1593.8,237 1591.3,236.9 1588.8,236.8 1586.3,236.7 1583.8,236.6 1581.3,236.6 1578.8,236.5 1576.3,236.4 1573.8,236.3 1571.3,236.2 1568.8,236.1 1566.3,236 1563.8,236 1561.3,235.9 1558.8,235.8 1556.3,235.7 1553.8,235.6 1551.3,235.5 1548.8,235.4 1546.3,235.3 1543.8,235.3 1541.3,235.2 1538.8,235.1 1536.3,235 1533.8,234.9 1531.3,234.8 1528.8,234.7 1526.3,234.6 1523.8,234.5 1521.3,234.4 1518.8,234.3 1516.3,234.2 1513.8,234.1 1511.3,234.1 1508.8,234 1506.3,233.9 1503.8,233.8 1501.3,233.7 1498.8,233.6 1496.3,233.5 1493.8,233.4 1491.3,233.3 1488.8,233.2 1486.3,233.1 1483.8,233 1481.3,232.9 1478.8,232.9 1476.3,232.9 1473.8,232.9 1471.3,232.8 1468.8,232.8 1466.3,232.8 1463.8,232.8 1461.3,232.8 1458.8,232.7 1456.3,232.7 1453.8,232.7 1451.3,232.7 1448.8,232.7 1446.3,232.6 1443.8,232.6 1441.3,232.6 1438.8,232.6 1436.3,232.6 1433.8,232.6 1431.3,232.5 1428.8,232.5 1426.3,232.5 1423.8,232.5 1421.3,232.5 1418.8,232.4 1416.3,232.4 1413.8,232.4 1411.3,232.4 1408.8,232.4 1406.3,232.3 1403.8,232.3 1401.3,232.3 1398.8,232.3 1396.3,232.3 1393.8,232.2 1391.3,232.2 1388.8,232.2 1386.3,232.2 1383.8,232.1 1381.3,232.1 1378.8,232.1 1376.3,232.1 1373.8,232.1 1371.3,232 1368.8,232 1366.3,232 1363.8,232 1361.3,231.9 1358.8,231.9 1356.3,231.9 1353.8,231.9 1351.3,231.8 1348.8,231.8 1346.3,231.8 1343.8,231.8 1341.3,231.7 1338.8,231.7 1336.3,231.7 1333.8,231.7 1331.3,231.7 1328.8,231.6 1326.3,231.6 1323.8,231.6 1321.3,231.6 1318.8,231.5 1316.3,231.5 1313.8,231.5 1311.3,231.5 1308.8,231.4 1306.3,231.4 1303.8,231.4 1301.3,231.4 1298.8,231.4 1296.3,231.3 1293.8,231.3 1291.3,231.3 1288.8,231.3 1286.3,231.2 1283.8,231.2 1281.3,231.2 1278.8,231.2 1276.3,231.1 1273.8,231.1 1271.3,231.1 1268.8,231.1 1266.3,231 1263.8,231 1261.3,231 1258.8,231 1256.3,231 1253.8,230.9 1251.3,230.9 1248.8,230.9 1246.3,230.9 1243.8,230.8 1241.3,230.8 1238.8,230.8 1236.3,230.7 1233.8,230.6 1231.3,230.6 1228.8,230.5 1226.3,230.4 1223.8,230.4 1221.3,230.3 1218.8,230.2 1216.3,230.2 1213.8,230.1 1211.3,230 1208.8,230 1206.3,229.9 1203.8,229.8 1201.3,229.8 1198.8,229.7 1196.3,229.7 1193.8,229.6 1191.3,229.5 1188.8,229.5 1186.3,229.4" fill="url(#g2)" fill-opacity="0.75"/><polyline points="1031.3,225.2 1033.8,225.2 1036.3,225.2 1038.8,225.2 1041.3,225.2 1043.8,225.3 1046.3,225.3 1048.8,225.3 1051.3,225.3 1053.8,225.3 1056.3,225.3 1058.8,225.3 1061.3,225.3 1063.8,225.3 1066.3,225.3 1068.8,225.3 1071.3,225.3 1073.8,225.3 1076.3,225.3 1078.8,225.3 1081.3,225.3 1083.8,225.3 1086.3,225.3 1088.8,225.3 1091.3,225.4 1093.8,225.4 1096.3,225.4 1098.8,225.4 1101.3,225.4 1103.8,225.5 1106.3,225.6 1108.8,225.7 1111.3,225.9 1113.8,226 1116.3,226.1 1118.8,226.2 1121.3,226.3 1123.8,226.4 1126.3,226.5 1128.8,226.6 1131.3,226.7 1133.8,226.8 1136.3,226.9 1138.8,227 1141.3,227.1 1143.8,227.3 1146.3,227.4 1148.8,227.5 1151.3,227.6 1153.8,227.7 1156.3,227.8 1158.8,227.9 1161.3,228 1163.8,228.1 1166.3,228.2 1168.8,228.3 1171.3,228.4 1173.8,228.4 1176.3,228.5 1178.8,228.6 1181.3,228.6 1183.8,228.7 1186.3,228.7 1188.8,228.8 1191.3,228.9 1193.8,228.9 1196.3,229 1198.8,229 1201.3,229.1 1203.8,229.2 1206.3,229.2 1208.8,229.3 1211.3,229.3 1213.8,229.4 1216.3,229.5 1218.8,229.5 1221.3,229.6 1223.8,229.6 1226.3,229.7 1228.8,229.8 1231.3,229.8 1233.8,229.9 1236.3,229.9 1238.8,230 1241.3,230 1243.8,230 1246.3,230.1 1248.8,230.1 1251.3,230.1 1253.8,230.1 1256.3,230.1 1258.8,230.1 1261.3,230.1 1263.8,230.2 1266.3,230.2 1268.8,230.2 1271.3,230.2 1273.8,230.2 1276.3,230.2 1278.8,230.2 1281.3,230.2 1283.8,230.2 1286.3,230.3 1288.8,230.3 1291.3,230.3 1293.8,230.3 1296.3,230.3 1298.8,230.3 1301.3,230.3 1303.8,230.3 1306.3,230.3 1308.8,230.3 1311.3,230.3 1313.8,230.4 1316.3,230.4 1318.8,230.4 1321.3,230.4 1323.8,230.4 1326.3,230.4 1328.8,230.4 1331.3,230.4 1333.8,230.4 1336.3,230.4 1338.8,230.4 1341.3,230.4 1343.8,230.4 1346.3,230.4 1348.8,230.4 1351.3,230.4 1353.8,230.4 1356.3,230.4 1358.8,230.3 1361.3,230.3 1363.8,230.3 1366.3,230.3 1368.8,230.3 1371.3,230.3 1373.8,230.3 1376.3,230.2 1378.8,230.2 1381.3,230.2 1383.8,230.2 1386.3,230.1 1388.8,230.1 1391.3,230.1 1393.8,230 1396.3,230 1398.8,229.9 1401.3,229.9 1403.8,229.8 1406.3,229.7 1408.8,229.6 1411.3,229.5 1413.8,229.3 1416.3,229.2 1418.8,229 1421.3,228.8 1423.8,228.5 1426.3,228.2 1428.8,227.9 1431.3,227.5 1433.8,227 1436.3,226.4 1438.8,225.8 1441.3,225 1443.8,224.2 1446.3,223.2 1448.8,222 1451.3,220.7 1453.8,219.1 1456.3,217.4 1458.8,215.4 1461.3,213.2 1463.8,210.6 1466.3,207.8 1468.8,204.7 1471.3,201.2 1473.8,197.4 1476.3,193.2 1478.8,188.6 1481.3,183.6 1483.8,178.3 1486.3,172.6 1488.8,166.5 1491.3,160.1 1493.8,153.3 1496.3,146.2 1498.8,138.8 1501.3,131.1 1503.8,123.2 1506.3,115.3 1508.8,107.2 1511.3,99.1 1513.8,91.1 1516.3,83.3 1518.8,75.7 1521.3,68.4 1523.8,61.5 1526.3,55.2 1528.8,49.4 1531.3,44.3 1533.8,40 1536.3,36.5 1538.8,33.8 1541.3,32.2 1543.8,31.4 1546.3,31.7 1548.8,32.9 1551.3,35.1 1553.8,38.2 1556.3,42.1 1558.8,46.9 1561.3,52.4 1563.8,58.6 1566.3,65.3 1568.8,72.5 1571.3,80.1 1573.8,87.9 1576.3,96 1578.8,104.2 1581.3,112.5 1583.8,120.7 1586.3,128.8 1588.8,136.8 1591.3,144.5 1593.8,152 1596.3,159.2 1598.8,166.1 1601.3,172.6 1603.8,178.8 1606.3,184.5 1608.8,189.9 1611.3,194.8 1613.8,199.4 1616.3,203.6 1618.8,207.4 1621.3,210.8 1623.8,213.9 1626.3,216.7 1628.8,219.1 1631.3,221.3 1633.8,223.2 1636.3,224.9 1638.8,226.4 1641.3,227.8 1643.8,228.9 1646.3,229.9 1648.8,230.8 1651.3,231.5 1653.8,232.2 1656.3,232.7 1658.8,233.2 1661.3,233.6 1663.8,234 1666.3,234.3 1668.8,234.6 1671.3,234.8 1673.8,235 1676.3,235.2 1678.8,235.4 1681.3,235.5 1683.8,235.6 1686.3,235.8 1688.8,235.9 1691.3,236 1693.8,236.1 1696.3,236.1 1698.8,236.2 1701.3,236.3 1703.8,236.4 1706.3,236.4 1708.8,236.5 1711.3,236.6 1713.8,236.6 1716.3,236.7 1718.8,236.7 1721.3,236.8 1723.8,236.8 1726.3,236.9 1728.8,236.9 1731.3,237 1733.8,237 1736.3,237.1 1738.8,237.1 1741.3,237.2 1742.3,237.2" fill="none" stroke="#e6c53a" stroke-width="1.8"/><polyline points="1032.6,225.4 1100,225.6 1167.7,228.6 1240,230.5 1400,232 1480,232.6 1545,235 1620,237.6 1741,238.3" fill="none" stroke="#1f63d4" stroke-width="2.3"/><path d="M1167.8 48V229.7" stroke="#ee1c25" stroke-width="3.3" stroke-dasharray="12.5 11" fill="none"/><path d="M1544.6 16.3V237" stroke="#ee1c25" stroke-width="2.4" stroke-dasharray="12.5 11" fill="none"/></g>
<g clip-path="url(#c6)"><use href="#m" x="1034.9" y="468.9"/><use href="#m" x="1042" y="468.6"/><use href="#m" x="1049.1" y="468.2"/><use href="#m" x="1056.2" y="467.6"/><use href="#m" x="1063.3" y="466.7"/><use href="#m" x="1070.4" y="465.3"/><use href="#m" x="1077.5" y="463.2"/><use href="#m" x="1084.6" y="460"/><use href="#m" x="1091.7" y="455.5"/><use href="#m" x="1098.8" y="449.3"/><use href="#m" x="1106" y="441"/><use href="#m" x="1113.1" y="430.5"/><use href="#m" x="1120.2" y="417.6"/><use href="#m" x="1127.3" y="402.6"/><use href="#m" x="1134.4" y="385.9"/><use href="#m" x="1141.5" y="368.5"/><use href="#m" x="1148.6" y="351.6"/><use href="#m" x="1155.7" y="336.6"/><use href="#m" x="1162.8" y="325"/><use href="#m" x="1169.9" y="318.3"/><use href="#m" x="1177.1" y="317.3"/><use href="#m" x="1184.2" y="322.2"/><use href="#m" x="1191.3" y="332.4"/><use href="#m" x="1198.4" y="346.6"/><use href="#m" x="1205.5" y="363.3"/><use href="#m" x="1212.6" y="381.1"/><use href="#m" x="1219.7" y="398.5"/><use href="#m" x="1226.8" y="414.7"/><use href="#m" x="1233.9" y="428.8"/><use href="#m" x="1241" y="440.7"/><use href="#m" x="1248.2" y="450.1"/><use href="#m" x="1255.3" y="457.2"/><use href="#m" x="1262.4" y="462.4"/><use href="#m" x="1269.5" y="466.1"/><use href="#m" x="1276.6" y="468.6"/><use href="#m" x="1283.7" y="470.3"/><use href="#m" x="1290.8" y="471.4"/><use href="#m" x="1297.9" y="472.1"/><use href="#m" x="1305" y="472.6"/><use href="#m" x="1312.1" y="472.9"/><use href="#m" x="1319.3" y="473.2"/><use href="#m" x="1326.4" y="473.3"/><use href="#m" x="1333.5" y="473.4"/><use href="#m" x="1340.6" y="473.5"/><use href="#m" x="1347.7" y="473.6"/><use href="#m" x="1354.8" y="473.7"/><use href="#m" x="1361.9" y="473.7"/><use href="#m" x="1369" y="473.7"/><use href="#m" x="1376.1" y="473.7"/><use href="#m" x="1383.2" y="473.7"/><use href="#m" x="1390.4" y="473.7"/><use href="#m" x="1397.5" y="473.6"/><use href="#m" x="1404.6" y="473.5"/><use href="#m" x="1411.7" y="473.3"/><use href="#m" x="1418.8" y="473"/><use href="#m" x="1425.9" y="472.6"/><use href="#m" x="1433" y="471.9"/><use href="#m" x="1440.1" y="470.8"/><use href="#m" x="1447.2" y="469.1"/><use href="#m" x="1454.3" y="466.5"/><use href="#m" x="1461.5" y="462.5"/><use href="#m" x="1468.6" y="456.9"/><use href="#m" x="1475.7" y="448.9"/><use href="#m" x="1482.8" y="438.3"/><use href="#m" x="1489.9" y="424.8"/><use href="#m" x="1497" y="408.1"/><use href="#m" x="1504.1" y="388.5"/><use href="#m" x="1511.2" y="366.8"/><use href="#m" x="1518.3" y="344.1"/><use href="#m" x="1525.4" y="321.9"/><use href="#m" x="1532.6" y="302.2"/><use href="#m" x="1539.7" y="287"/><use href="#m" x="1546.8" y="278.1"/><use href="#m" x="1553.9" y="276.8"/><use href="#m" x="1561" y="283.3"/><use href="#m" x="1568.1" y="296.7"/><use href="#m" x="1575.2" y="315.4"/><use href="#m" x="1582.3" y="337.3"/><use href="#m" x="1589.4" y="360.5"/><use href="#m" x="1596.5" y="383.4"/><use href="#m" x="1603.7" y="404.4"/><use href="#m" x="1610.8" y="422.8"/><use href="#m" x="1617.9" y="438.2"/><use href="#m" x="1625" y="450.4"/><use href="#m" x="1632.1" y="459.7"/><use href="#m" x="1639.2" y="466.3"/><use href="#m" x="1646.3" y="471"/><use href="#m" x="1653.4" y="474.3"/><use href="#m" x="1660.5" y="476.4"/><use href="#m" x="1667.6" y="477.9"/><use href="#m" x="1674.8" y="478.8"/><use href="#m" x="1681.9" y="479.5"/><use href="#m" x="1689" y="480"/><use href="#m" x="1696.1" y="480.3"/><use href="#m" x="1703.2" y="480.6"/><use href="#m" x="1710.3" y="480.8"/><use href="#m" x="1717.4" y="481"/><use href="#m" x="1724.5" y="481.2"/><use href="#m" x="1731.6" y="481.4"/><use href="#m" x="1738.7" y="481.5"/><use href="#m" x="1745.9" y="481.6"/><polygon points="1031.3,469.1 1033.8,469.1 1036.3,469 1038.8,468.9 1041.3,468.8 1043.8,468.7 1046.3,468.6 1048.8,468.4 1051.3,468.2 1053.8,468 1056.3,467.8 1058.8,467.5 1061.3,467.2 1063.8,466.8 1066.3,466.4 1068.8,465.9 1071.3,465.3 1073.8,464.6 1076.3,463.8 1078.8,462.9 1081.3,461.9 1083.8,460.7 1086.3,459.3 1088.8,457.8 1091.3,456.1 1093.8,454.1 1096.3,452 1098.8,449.5 1101.3,446.9 1103.8,443.9 1106.3,440.7 1108.8,437.3 1111.3,433.5 1113.8,429.5 1116.3,425.2 1118.8,420.5 1121.3,415.6 1123.8,410.5 1126.3,405 1128.8,399.4 1131.3,393.6 1133.8,387.6 1136.3,381.6 1138.8,375.4 1141.3,369.3 1143.8,363.2 1146.3,357.3 1148.8,351.5 1151.3,345.9 1153.8,340.7 1156.3,335.8 1158.8,331.4 1161.3,327.5 1163.8,324.1 1166.3,321.4 1168.8,319.3 1171.3,318 1173.8,317.3 1176.3,317.5 1178.8,318.3 1181.3,319.9 1183.8,322.2 1186.3,325.1 1188.8,328.6 1191.3,332.8 1193.8,337.4 1196.3,342.4 1198.8,347.8 1201.3,353.6 1203.8,359.5 1206.3,365.7 1208.8,371.9 1211.3,378.2 1213.8,384.4 1216.3,390.6 1218.8,396.7 1221.3,402.7 1223.8,408.4 1226.3,414 1228.8,419.3 1231.3,424.3 1233.8,429 1236.3,433.5 1238.8,437.6 1241.3,441.5 1243.8,445.1 1246.3,448.3 1248.8,451.3 1251.3,454 1253.8,456.4 1256.3,458.6 1258.8,460.5 1261.3,462.3 1263.8,463.8 1266.3,465.2 1268.8,466.3 1271.3,467.4 1273.8,468.3 1276.3,469.1 1278.8,469.8 1281.3,470.4 1283.8,470.9 1286.3,471.4 1288.8,471.8 1291.3,472.1 1293.8,472.4 1296.3,472.7 1298.8,472.9 1301.3,473.1 1303.8,473.3 1306.3,473.4 1308.8,473.5 1311.3,473.7 1313.8,473.8 1316.3,473.9 1318.8,474 1321.3,474 1323.8,474.1 1326.3,474.2 1328.8,474.2 1331.3,474.3 1333.8,474.4 1336.3,474.4 1338.8,474.5 1341.3,474.5 1343.8,474.6 1346.3,474.6 1348.8,474.7 1351.3,474.7 1353.8,474.8 1356.3,474.8 1358.8,474.9 1361.3,474.9 1363.8,474.9 1366.3,475 1368.8,475 1371.3,475 1373.8,475.1 1376.3,475.1 1378.8,475.2 1381.3,475.2 1383.8,475.2 1386.3,475.3 1388.8,475.3 1391.3,475.3 1393.8,475.3 1396.3,475.4 1398.8,475.4 1401.3,475.4 1403.8,475.5 1406.3,475.5 1408.8,475.5 1411.3,475.6 1413.8,475.6 1416.3,475.6 1418.8,475.6 1421.3,475.7 1423.8,475.7 1426.3,475.7 1428.8,475.7 1431.3,475.8 1433.8,475.8 1436.3,475.8 1438.8,475.8 1441.3,475.9 1443.8,475.9 1446.3,475.9 1448.8,475.9 1451.3,476 1453.8,476 1456.3,476 1458.8,476 1461.3,476.1 1463.8,476.1 1466.3,476.1 1468.8,476.1 1471.3,476.1 1473.8,476.2 1476.3,476.2 1478.8,476.2 1481.3,476.3 1483.8,476.3 1486.3,476.4 1488.8,476.5 1491.3,476.5 1491.3,477.2 1488.8,477.1 1486.3,477 1483.8,477 1481.3,476.9 1478.8,476.9 1476.3,476.9 1473.8,476.9 1471.3,476.8 1468.8,476.8 1466.3,476.8 1463.8,476.8 1461.3,476.8 1458.8,476.8 1456.3,476.8 1453.8,476.7 1451.3,476.7 1448.8,476.7 1446.3,476.7 1443.8,476.7 1441.3,476.7 1438.8,476.6 1436.3,476.6 1433.8,476.6 1431.3,476.6 1428.8,476.6 1426.3,476.6 1423.8,476.5 1421.3,476.5 1418.8,476.5 1416.3,476.5 1413.8,476.5 1411.3,476.5 1408.8,476.5 1406.3,476.4 1403.8,476.4 1401.3,476.4 1398.8,476.4 1396.3,476.4 1393.8,476.4 1391.3,476.3 1388.8,476.3 1386.3,476.3 1383.8,476.3 1381.3,476.3 1378.8,476.3 1376.3,476.3 1373.8,476.2 1371.3,476.2 1368.8,476.2 1366.3,476.2 1363.8,476.2 1361.3,476.2 1358.8,476.2 1356.3,476.1 1353.8,476.1 1351.3,476.1 1348.8,476.1 1346.3,476.1 1343.8,476.1 1341.3,476 1338.8,476 1336.3,476 1333.8,476 1331.3,476 1328.8,476 1326.3,476 1323.8,475.9 1321.3,475.9 1318.8,475.9 1316.3,475.9 1313.8,475.9 1311.3,475.9 1308.8,475.9 1306.3,475.8 1303.8,475.8 1301.3,475.8 1298.8,475.8 1296.3,475.8 1293.8,475.8 1291.3,475.7 1288.8,475.7 1286.3,475.7 1283.8,475.7 1281.3,475.7 1278.8,475.7 1276.3,475.7 1273.8,475.6 1271.3,475.6 1268.8,475.6 1266.3,475.6 1263.8,475.6 1261.3,475.6 1258.8,475.6 1256.3,475.5 1253.8,475.5 1251.3,475.5 1248.8,475.5 1246.3,475.4 1243.8,475.3 1241.3,475.2 1238.8,475.2 1236.3,475.1 1233.8,475 1231.3,475 1228.8,474.9 1226.3,474.8 1223.8,474.7 1221.3,474.7 1218.8,474.6 1216.3,474.5 1213.8,474.4 1211.3,474.4 1208.8,474.3 1206.3,474.2 1203.8,474.1 1201.3,474.1 1198.8,474 1196.3,473.9 1193.8,473.9 1191.3,473.8 1188.8,473.7 1186.3,473.6 1183.8,473.6 1181.3,473.5 1178.8,473.4 1176.3,473.3 1173.8,473.3 1171.3,473.2 1168.8,473.1 1166.3,473.1 1163.8,473 1161.3,472.9 1158.8,472.8 1156.3,472.8 1153.8,472.7 1151.3,472.6 1148.8,472.6 1146.3,472.5 1143.8,472.4 1141.3,472.3 1138.8,472.3 1136.3,472.2 1133.8,472.1 1131.3,472.1 1128.8,472 1126.3,471.9 1123.8,471.8 1121.3,471.8 1118.8,471.7 1116.3,471.6 1113.8,471.6 1111.3,471.5 1108.8,471.4 1106.3,471.3 1103.8,471.3 1101.3,471.3 1098.8,471.3 1096.3,471.3 1093.8,471.3 1091.3,471.3 1088.8,471.3 1086.3,471.2 1083.8,471.2 1081.3,471.2 1078.8,471.2 1076.3,471.2 1073.8,471.2 1071.3,471.2 1068.8,471.2 1066.3,471.2 1063.8,471.2 1061.3,471.2 1058.8,471.2 1056.3,471.2 1053.8,471.2 1051.3,471.2 1048.8,471.1 1046.3,471.1 1043.8,471.1 1041.3,471.1 1038.8,471.1 1036.3,471.1 1033.8,471.1 1031.3,471.1" fill="url(#g4)" fill-opacity="0.97"/><polyline points="1031.3,469.1 1033.8,469.1 1036.3,469 1038.8,468.9 1041.3,468.8 1043.8,468.7 1046.3,468.6 1048.8,468.4 1051.3,468.2 1053.8,468 1056.3,467.8 1058.8,467.5 1061.3,467.2 1063.8,466.8 1066.3,466.4 1068.8,465.9 1071.3,465.3 1073.8,464.6 1076.3,463.8 1078.8,462.9 1081.3,461.9 1083.8,460.7 1086.3,459.3 1088.8,457.8 1091.3,456.1 1093.8,454.1 1096.3,452 1098.8,449.5 1101.3,446.9 1103.8,443.9 1106.3,440.7 1108.8,437.3 1111.3,433.5 1113.8,429.5 1116.3,425.2 1118.8,420.5 1121.3,415.6 1123.8,410.5 1126.3,405 1128.8,399.4 1131.3,393.6 1133.8,387.6 1136.3,381.6 1138.8,375.4 1141.3,369.3 1143.8,363.2 1146.3,357.3 1148.8,351.5 1151.3,345.9 1153.8,340.7 1156.3,335.8 1158.8,331.4 1161.3,327.5 1163.8,324.1 1166.3,321.4 1168.8,319.3 1171.3,318 1173.8,317.3 1176.3,317.5 1178.8,318.3 1181.3,319.9 1183.8,322.2 1186.3,325.1 1188.8,328.6 1191.3,332.8 1193.8,337.4 1196.3,342.4 1198.8,347.8 1201.3,353.6 1203.8,359.5 1206.3,365.7 1208.8,371.9 1211.3,378.2 1213.8,384.4 1216.3,390.6 1218.8,396.7 1221.3,402.7 1223.8,408.4 1226.3,414 1228.8,419.3 1231.3,424.3 1233.8,429 1236.3,433.5 1238.8,437.6 1241.3,441.5 1243.8,445.1 1246.3,448.3 1248.8,451.3 1251.3,454 1253.8,456.4 1256.3,458.6 1258.8,460.5 1261.3,462.3 1263.8,463.8 1266.3,465.2 1268.8,466.3 1271.3,467.4 1273.8,468.3 1276.3,469.1 1278.8,469.8 1281.3,470.4 1283.8,470.9 1286.3,471.4 1288.8,471.8 1291.3,472.1 1293.8,472.4 1296.3,472.7 1298.8,472.9 1301.3,473.1 1303.8,473.3 1306.3,473.4 1308.8,473.5 1311.3,473.7 1313.8,473.8 1316.3,473.9 1318.8,474 1321.3,474 1323.8,474.1 1326.3,474.2 1328.8,474.2 1331.3,474.3 1333.8,474.4 1336.3,474.4 1338.8,474.5 1341.3,474.5 1343.8,474.6 1346.3,474.6 1348.8,474.7 1351.3,474.7 1353.8,474.8 1356.3,474.8 1358.8,474.9 1361.3,474.9 1363.8,474.9 1366.3,475 1368.8,475 1371.3,475 1373.8,475.1 1376.3,475.1 1378.8,475.2 1381.3,475.2 1383.8,475.2 1386.3,475.3 1388.8,475.3 1391.3,475.3 1393.8,475.3 1396.3,475.4 1398.8,475.4 1401.3,475.4 1403.8,475.5 1406.3,475.5 1408.8,475.5 1411.3,475.6 1413.8,475.6 1416.3,475.6 1418.8,475.6 1421.3,475.7 1423.8,475.7 1426.3,475.7 1428.8,475.7 1431.3,475.8 1433.8,475.8 1436.3,475.8 1438.8,475.8 1441.3,475.9 1443.8,475.9 1446.3,475.9 1448.8,475.9 1451.3,476 1453.8,476 1456.3,476 1458.8,476 1461.3,476.1 1463.8,476.1 1466.3,476.1 1468.8,476.1 1471.3,476.1 1473.8,476.2 1476.3,476.2 1478.8,476.2 1481.3,476.3 1483.8,476.3 1486.3,476.4 1488.8,476.5 1491.3,476.5 1493.8,476.6 1496.3,476.6 1498.8,476.7 1501.3,476.8 1503.8,476.8 1506.3,476.9 1508.8,477 1511.3,477 1513.8,477.1 1516.3,477.2 1518.8,477.2 1521.3,477.3 1523.8,477.3 1526.3,477.4 1528.8,477.5 1531.3,477.5 1533.8,477.6 1536.3,477.7 1538.8,477.7 1541.3,477.8 1543.8,477.8 1546.3,477.9 1548.8,478 1551.3,478 1553.8,478.1 1556.3,478.3 1558.8,478.4 1561.3,478.5 1563.8,478.6 1566.3,478.7 1568.8,478.9 1571.3,479 1573.8,479.1 1576.3,479.2 1578.8,479.4 1581.3,479.5 1583.8,479.6 1586.3,479.7 1588.8,479.8 1591.3,480 1593.8,480.1 1596.3,480.2 1598.8,480.3 1601.3,480.4 1603.8,480.6 1606.3,480.7 1608.8,480.8 1611.3,480.9 1613.8,481 1616.3,481.2 1618.8,481.3 1621.3,481.4 1623.8,481.5 1626.3,481.7 1628.8,481.8 1631.3,481.8 1633.8,481.9 1636.3,481.9 1638.8,481.9 1641.3,481.9 1643.8,481.9 1646.3,482 1648.8,482 1651.3,482 1653.8,482 1656.3,482.1 1658.8,482.1 1661.3,482.1 1663.8,482.1 1666.3,482.1 1668.8,482.2 1671.3,482.2 1673.8,482.2 1676.3,482.2 1678.8,482.3 1681.3,482.3 1683.8,482.3 1686.3,482.3 1688.8,482.3 1691.3,482.4 1693.8,482.4 1696.3,482.4 1698.8,482.4 1701.3,482.4 1703.8,482.5 1706.3,482.5 1708.8,482.5 1711.3,482.5 1713.8,482.6 1716.3,482.6 1718.8,482.6 1721.3,482.6 1723.8,482.6 1726.3,482.7 1728.8,482.7 1731.3,482.7 1733.8,482.7 1736.3,482.7 1738.8,482.8 1741.3,482.8 1742.3,482.8" fill="none" stroke="#3ecb8c" stroke-width="1.8"/><polygon points="1193.8,473.2 1196.3,473.3 1198.8,473.3 1201.3,473.4 1203.8,473.5 1206.3,473.5 1208.8,473.6 1211.3,473.7 1213.8,473.7 1216.3,473.8 1218.8,473.9 1221.3,473.9 1223.8,474 1226.3,474.1 1228.8,474.1 1231.3,474.2 1233.8,474.3 1236.3,474.3 1238.8,474.4 1241.3,474.5 1243.8,474.5 1246.3,474.6 1248.8,474.7 1251.3,474.7 1253.8,474.7 1256.3,474.7 1258.8,474.7 1261.3,474.7 1263.8,474.7 1266.3,474.7 1268.8,474.8 1271.3,474.8 1273.8,474.8 1276.3,474.8 1278.8,474.8 1281.3,474.8 1283.8,474.8 1286.3,474.8 1288.8,474.8 1291.3,474.8 1293.8,474.8 1296.3,474.8 1298.8,474.8 1301.3,474.8 1303.8,474.8 1306.3,474.8 1308.8,474.8 1311.3,474.8 1313.8,474.8 1316.3,474.8 1318.8,474.8 1321.3,474.8 1323.8,474.8 1326.3,474.8 1328.8,474.8 1331.3,474.8 1333.8,474.8 1336.3,474.8 1338.8,474.8 1341.3,474.8 1343.8,474.7 1346.3,474.7 1348.8,474.7 1351.3,474.7 1353.8,474.7 1356.3,474.7 1358.8,474.7 1361.3,474.7 1363.8,474.7 1366.3,474.6 1368.8,474.6 1371.3,474.6 1373.8,474.6 1376.3,474.6 1378.8,474.5 1381.3,474.5 1383.8,474.5 1386.3,474.4 1388.8,474.4 1391.3,474.4 1393.8,474.3 1396.3,474.3 1398.8,474.2 1401.3,474.2 1403.8,474.1 1406.3,474.1 1408.8,474 1411.3,473.9 1413.8,473.8 1416.3,473.7 1418.8,473.6 1421.3,473.5 1423.8,473.3 1426.3,473.1 1428.8,472.9 1431.3,472.6 1433.8,472.3 1436.3,472 1438.8,471.6 1441.3,471.1 1443.8,470.5 1446.3,469.8 1448.8,469.1 1451.3,468.2 1453.8,467.2 1456.3,466 1458.8,464.6 1461.3,463.1 1463.8,461.3 1466.3,459.3 1468.8,457 1471.3,454.5 1473.8,451.6 1476.3,448.5 1478.8,445 1481.3,441.1 1483.8,437 1486.3,432.4 1488.8,427.4 1491.3,422.1 1493.8,416.3 1496.3,410.2 1498.8,403.7 1501.3,396.9 1503.8,389.8 1506.3,382.4 1508.8,374.7 1511.3,366.9 1513.8,358.9 1516.3,350.9 1518.8,342.9 1521.3,335 1523.8,327.2 1526.3,319.7 1528.8,312.5 1531.3,305.7 1533.8,299.5 1536.3,293.8 1538.8,288.8 1541.3,284.6 1543.8,281.3 1546.3,278.8 1548.8,277.2 1551.3,276.6 1553.8,277 1556.3,278.4 1558.8,280.7 1561.3,284 1563.8,288.1 1566.3,293 1568.8,298.6 1571.3,304.8 1573.8,311.5 1576.3,318.8 1578.8,326.4 1581.3,334.2 1583.8,342.3 1586.3,350.5 1588.8,358.7 1591.3,366.8 1593.8,374.9 1596.3,382.8 1598.8,390.5 1601.3,397.9 1603.8,405 1606.3,411.8 1608.8,418.2 1611.3,424.3 1613.8,429.9 1616.3,435.2 1618.8,440.1 1621.3,444.6 1623.8,448.7 1626.3,452.5 1628.8,455.9 1631.3,459 1633.8,461.6 1636.3,464 1638.8,466.2 1641.3,468.1 1643.8,469.7 1646.3,471.2 1648.8,472.5 1651.3,473.6 1653.8,474.6 1656.3,475.4 1658.8,476.1 1661.3,476.8 1663.8,477.3 1666.3,477.8 1668.8,478.2 1671.3,478.6 1673.8,478.9 1676.3,479.1 1678.8,479.4 1681.3,479.6 1683.8,479.8 1686.3,479.9 1688.8,480.1 1691.3,480.2 1693.8,480.3 1696.3,480.4 1698.8,480.5 1701.3,480.6 1703.8,480.7 1706.3,480.8 1708.8,480.9 1711.3,481 1713.8,481 1716.3,481.1 1718.8,481.2 1721.3,481.2 1723.8,481.3 1726.3,481.4 1728.8,481.4 1731.3,481.5 1733.8,481.5 1736.3,481.6 1738.8,481.6 1741.3,481.7 1742.3,481.7 1742.3,483.2 1741.3,483.2 1738.8,483.2 1736.3,483.2 1733.8,483.1 1731.3,483.1 1728.8,483.1 1726.3,483.1 1723.8,483.1 1721.3,483 1718.8,483 1716.3,483 1713.8,483 1711.3,483 1708.8,482.9 1706.3,482.9 1703.8,482.9 1701.3,482.9 1698.8,482.9 1696.3,482.8 1693.8,482.8 1691.3,482.8 1688.8,482.8 1686.3,482.8 1683.8,482.7 1681.3,482.7 1678.8,482.7 1676.3,482.7 1673.8,482.7 1671.3,482.6 1668.8,482.6 1666.3,482.6 1663.8,482.6 1661.3,482.6 1658.8,482.5 1656.3,482.5 1653.8,482.5 1651.3,482.5 1648.8,482.5 1646.3,482.4 1643.8,482.4 1641.3,482.4 1638.8,482.4 1636.3,482.4 1633.8,482.3 1631.3,482.3 1628.8,482.2 1626.3,482.1 1623.8,482 1621.3,481.9 1618.8,481.8 1616.3,481.7 1613.8,481.5 1611.3,481.4 1608.8,481.3 1606.3,481.2 1603.8,481.1 1601.3,480.9 1598.8,480.8 1596.3,480.7 1593.8,480.6 1591.3,480.5 1588.8,480.3 1586.3,480.2 1583.8,480.1 1581.3,480 1578.8,479.9 1576.3,479.8 1573.8,479.6 1571.3,479.5 1568.8,479.4 1566.3,479.3 1563.8,479.2 1561.3,479 1558.8,478.9 1556.3,478.8 1553.8,478.7 1551.3,478.6 1548.8,478.5 1546.3,478.5 1543.8,478.4 1541.3,478.3 1538.8,478.3 1536.3,478.2 1533.8,478.2 1531.3,478.1 1528.8,478.1 1526.3,478 1523.8,477.9 1521.3,477.9 1518.8,477.8 1516.3,477.8 1513.8,477.7 1511.3,477.6 1508.8,477.6 1506.3,477.5 1503.8,477.5 1501.3,477.4 1498.8,477.3 1496.3,477.3 1493.8,477.2 1491.3,477.2 1488.8,477.1 1486.3,477 1483.8,477 1481.3,476.9 1478.8,476.9 1476.3,476.9 1473.8,476.9 1471.3,476.8 1468.8,476.8 1466.3,476.8 1463.8,476.8 1461.3,476.8 1458.8,476.8 1456.3,476.8 1453.8,476.7 1451.3,476.7 1448.8,476.7 1446.3,476.7 1443.8,476.7 1441.3,476.7 1438.8,476.6 1436.3,476.6 1433.8,476.6 1431.3,476.6 1428.8,476.6 1426.3,476.6 1423.8,476.5 1421.3,476.5 1418.8,476.5 1416.3,476.5 1413.8,476.5 1411.3,476.5 1408.8,476.5 1406.3,476.4 1403.8,476.4 1401.3,476.4 1398.8,476.4 1396.3,476.4 1393.8,476.4 1391.3,476.3 1388.8,476.3 1386.3,476.3 1383.8,476.3 1381.3,476.3 1378.8,476.3 1376.3,476.3 1373.8,476.2 1371.3,476.2 1368.8,476.2 1366.3,476.2 1363.8,476.2 1361.3,476.2 1358.8,476.2 1356.3,476.1 1353.8,476.1 1351.3,476.1 1348.8,476.1 1346.3,476.1 1343.8,476.1 1341.3,476 1338.8,476 1336.3,476 1333.8,476 1331.3,476 1328.8,476 1326.3,476 1323.8,475.9 1321.3,475.9 1318.8,475.9 1316.3,475.9 1313.8,475.9 1311.3,475.9 1308.8,475.9 1306.3,475.8 1303.8,475.8 1301.3,475.8 1298.8,475.8 1296.3,475.8 1293.8,475.8 1291.3,475.7 1288.8,475.7 1286.3,475.7 1283.8,475.7 1281.3,475.7 1278.8,475.7 1276.3,475.7 1273.8,475.6 1271.3,475.6 1268.8,475.6 1266.3,475.6 1263.8,475.6 1261.3,475.6 1258.8,475.6 1256.3,475.5 1253.8,475.5 1251.3,475.5 1248.8,475.5 1246.3,475.4 1243.8,475.3 1241.3,475.2 1238.8,475.2 1236.3,475.1 1233.8,475 1231.3,475 1228.8,474.9 1226.3,474.8 1223.8,474.7 1221.3,474.7 1218.8,474.6 1216.3,474.5 1213.8,474.4 1211.3,474.4 1208.8,474.3 1206.3,474.2 1203.8,474.1 1201.3,474.1 1198.8,474 1196.3,473.9 1193.8,473.9" fill="url(#g5)" fill-opacity="0.75"/><polyline points="1031.3,470.6 1033.8,470.6 1036.3,470.6 1038.8,470.6 1041.3,470.7 1043.8,470.7 1046.3,470.7 1048.8,470.7 1051.3,470.7 1053.8,470.7 1056.3,470.7 1058.8,470.7 1061.3,470.7 1063.8,470.7 1066.3,470.7 1068.8,470.7 1071.3,470.7 1073.8,470.7 1076.3,470.7 1078.8,470.7 1081.3,470.7 1083.8,470.7 1086.3,470.7 1088.8,470.7 1091.3,470.7 1093.8,470.8 1096.3,470.8 1098.8,470.8 1101.3,470.8 1103.8,470.8 1106.3,470.8 1108.8,470.9 1111.3,470.9 1113.8,471 1116.3,471.1 1118.8,471.2 1121.3,471.2 1123.8,471.3 1126.3,471.4 1128.8,471.4 1131.3,471.5 1133.8,471.6 1136.3,471.6 1138.8,471.7 1141.3,471.8 1143.8,471.8 1146.3,471.9 1148.8,472 1151.3,472 1153.8,472.1 1156.3,472.2 1158.8,472.2 1161.3,472.3 1163.8,472.4 1166.3,472.4 1168.8,472.5 1171.3,472.6 1173.8,472.6 1176.3,472.7 1178.8,472.8 1181.3,472.9 1183.8,472.9 1186.3,473 1188.8,473.1 1191.3,473.1 1193.8,473.2 1196.3,473.3 1198.8,473.3 1201.3,473.4 1203.8,473.5 1206.3,473.5 1208.8,473.6 1211.3,473.7 1213.8,473.7 1216.3,473.8 1218.8,473.9 1221.3,473.9 1223.8,474 1226.3,474.1 1228.8,474.1 1231.3,474.2 1233.8,474.3 1236.3,474.3 1238.8,474.4 1241.3,474.5 1243.8,474.5 1246.3,474.6 1248.8,474.7 1251.3,474.7 1253.8,474.7 1256.3,474.7 1258.8,474.7 1261.3,474.7 1263.8,474.7 1266.3,474.7 1268.8,474.8 1271.3,474.8 1273.8,474.8 1276.3,474.8 1278.8,474.8 1281.3,474.8 1283.8,474.8 1286.3,474.8 1288.8,474.8 1291.3,474.8 1293.8,474.8 1296.3,474.8 1298.8,474.8 1301.3,474.8 1303.8,474.8 1306.3,474.8 1308.8,474.8 1311.3,474.8 1313.8,474.8 1316.3,474.8 1318.8,474.8 1321.3,474.8 1323.8,474.8 1326.3,474.8 1328.8,474.8 1331.3,474.8 1333.8,474.8 1336.3,474.8 1338.8,474.8 1341.3,474.8 1343.8,474.7 1346.3,474.7 1348.8,474.7 1351.3,474.7 1353.8,474.7 1356.3,474.7 1358.8,474.7 1361.3,474.7 1363.8,474.7 1366.3,474.6 1368.8,474.6 1371.3,474.6 1373.8,474.6 1376.3,474.6 1378.8,474.5 1381.3,474.5 1383.8,474.5 1386.3,474.4 1388.8,474.4 1391.3,474.4 1393.8,474.3 1396.3,474.3 1398.8,474.2 1401.3,474.2 1403.8,474.1 1406.3,474.1 1408.8,474 1411.3,473.9 1413.8,473.8 1416.3,473.7 1418.8,473.6 1421.3,473.5 1423.8,473.3 1426.3,473.1 1428.8,472.9 1431.3,472.6 1433.8,472.3 1436.3,472 1438.8,471.6 1441.3,471.1 1443.8,470.5 1446.3,469.8 1448.8,469.1 1451.3,468.2 1453.8,467.2 1456.3,466 1458.8,464.6 1461.3,463.1 1463.8,461.3 1466.3,459.3 1468.8,457 1471.3,454.5 1473.8,451.6 1476.3,448.5 1478.8,445 1481.3,441.1 1483.8,437 1486.3,432.4 1488.8,427.4 1491.3,422.1 1493.8,416.3 1496.3,410.2 1498.8,403.7 1501.3,396.9 1503.8,389.8 1506.3,382.4 1508.8,374.7 1511.3,366.9 1513.8,358.9 1516.3,350.9 1518.8,342.9 1521.3,335 1523.8,327.2 1526.3,319.7 1528.8,312.5 1531.3,305.7 1533.8,299.5 1536.3,293.8 1538.8,288.8 1541.3,284.6 1543.8,281.3 1546.3,278.8 1548.8,277.2 1551.3,276.6 1553.8,277 1556.3,278.4 1558.8,280.7 1561.3,284 1563.8,288.1 1566.3,293 1568.8,298.6 1571.3,304.8 1573.8,311.5 1576.3,318.8 1578.8,326.4 1581.3,334.2 1583.8,342.3 1586.3,350.5 1588.8,358.7 1591.3,366.8 1593.8,374.9 1596.3,382.8 1598.8,390.5 1601.3,397.9 1603.8,405 1606.3,411.8 1608.8,418.2 1611.3,424.3 1613.8,429.9 1616.3,435.2 1618.8,440.1 1621.3,444.6 1623.8,448.7 1626.3,452.5 1628.8,455.9 1631.3,459 1633.8,461.6 1636.3,464 1638.8,466.2 1641.3,468.1 1643.8,469.7 1646.3,471.2 1648.8,472.5 1651.3,473.6 1653.8,474.6 1656.3,475.4 1658.8,476.1 1661.3,476.8 1663.8,477.3 1666.3,477.8 1668.8,478.2 1671.3,478.6 1673.8,478.9 1676.3,479.1 1678.8,479.4 1681.3,479.6 1683.8,479.8 1686.3,479.9 1688.8,480.1 1691.3,480.2 1693.8,480.3 1696.3,480.4 1698.8,480.5 1701.3,480.6 1703.8,480.7 1706.3,480.8 1708.8,480.9 1711.3,481 1713.8,481 1716.3,481.1 1718.8,481.2 1721.3,481.2 1723.8,481.3 1726.3,481.4 1728.8,481.4 1731.3,481.5 1733.8,481.5 1736.3,481.6 1738.8,481.6 1741.3,481.7 1742.3,481.7" fill="none" stroke="#e6c53a" stroke-width="1.8"/><polyline points="1032.6,470.8 1105,471 1175,473 1250,475.2 1400,476.1 1480,476.6 1552,478.3 1630,482 1741,482.9" fill="none" stroke="#1f63d4" stroke-width="2.3"/><path d="M1174.9 298V473" stroke="#ee1c25" stroke-width="2.8" stroke-dasharray="12.5 11" fill="none"/><path d="M1551.8 256.7V464.7" stroke="#ee1c25" stroke-width="2.0" stroke-dasharray="12.5 11" fill="none"/></g>
<text x="1193.1" y="85.4" font-size="33.5" text-anchor="start">164.08</text>
<text x="1403.4" y="62.7" font-size="33.5" text-anchor="start">158.78</text>
<text x="1337.4" y="207" font-size="33.5" text-anchor="start">AB-9</text>
<text x="1214.6" y="332.3" font-size="33.5" text-anchor="start">163.98</text>
<text x="1426.4" y="302.3" font-size="33.5" text-anchor="start">158.68</text>
<text x="1309.9" y="451.5" font-size="33.5" text-anchor="start">Bi<tspan font-size="23.1" dy="9.2">2</tspan><tspan dy="-9.2">WO</tspan><tspan font-size="23.1" dy="9.2">6</tspan></text>
<rect x="83.7" y="680.6" width="710.3" height="529.2" fill="none" stroke="#222" stroke-width="2.7"/>
<text x="154.7" y="1249.7" font-size="34" text-anchor="middle">40</text>
<text x="296.8" y="1249.7" font-size="34" text-anchor="middle">38</text>
<text x="438.8" y="1249.7" font-size="34" text-anchor="middle">36</text>
<text x="580.9" y="1249.7" font-size="34" text-anchor="middle">34</text>
<text x="723" y="1249.7" font-size="34" text-anchor="middle">32</text>
<path d="M154.7 1209.8v-13.5M225.8 1209.8v-6.8M296.8 1209.8v-13.5M367.8 1209.8v-6.8M438.8 1209.8v-13.5M509.9 1209.8v-6.8M580.9 1209.8v-13.5M651.9 1209.8v-6.8M723 1209.8v-13.5" stroke="#222" stroke-width="2.5" fill="none"/>
<text x="289.4" y="1292" font-size="38.3" text-anchor="start">Binding Energy (eV)</text>
<text transform="translate(34.1 1007.6) rotate(-90)" font-size="38.3">Intensity (a.u)</text>
<text x="104.9" y="733.6" font-size="43.5" text-anchor="start">(c)</text>
<text x="709.2" y="713.2" font-size="33.5" text-anchor="start">W 4f</text>
<g clip-path="url(#c9)"><use href="#m" x="87.3" y="889.9"/><use href="#m" x="94.4" y="889.8"/><use href="#m" x="101.5" y="889.8"/><use href="#m" x="108.6" y="889.7"/><use href="#m" x="115.7" y="889.6"/><use href="#m" x="122.8" y="889.6"/><use href="#m" x="129.9" y="889.5"/><use href="#m" x="137" y="889.4"/><use href="#m" x="144.1" y="889.3"/><use href="#m" x="151.2" y="889.2"/><use href="#m" x="158.3" y="889.2"/><use href="#m" x="165.4" y="889.1"/><use href="#m" x="172.5" y="889"/><use href="#m" x="179.6" y="888.9"/><use href="#m" x="186.7" y="888.8"/><use href="#m" x="193.8" y="888.7"/><use href="#m" x="200.9" y="888.6"/><use href="#m" x="208" y="888.4"/><use href="#m" x="215.1" y="888.3"/><use href="#m" x="222.2" y="888.1"/><use href="#m" x="229.3" y="887.9"/><use href="#m" x="236.4" y="887.6"/><use href="#m" x="243.5" y="887.4"/><use href="#m" x="250.6" y="887"/><use href="#m" x="257.7" y="886.4"/><use href="#m" x="264.8" y="885.1"/><use href="#m" x="271.9" y="883.1"/><use href="#m" x="279" y="879.7"/><use href="#m" x="286.1" y="874.8"/><use href="#m" x="293.2" y="867.7"/><use href="#m" x="300.3" y="858.2"/><use href="#m" x="307.4" y="846.3"/><use href="#m" x="314.5" y="832.2"/><use href="#m" x="321.7" y="816.6"/><use href="#m" x="328.8" y="800.7"/><use href="#m" x="335.9" y="786"/><use href="#m" x="343" y="774.4"/><use href="#m" x="350.1" y="767.6"/><use href="#m" x="357.2" y="766.6"/><use href="#m" x="364.3" y="771.7"/><use href="#m" x="371.4" y="782.1"/><use href="#m" x="378.5" y="796.2"/><use href="#m" x="385.6" y="812.2"/><use href="#m" x="392.7" y="828.2"/><use href="#m" x="399.8" y="843"/><use href="#m" x="406.9" y="855.2"/><use href="#m" x="414" y="864.3"/><use href="#m" x="421.1" y="869.9"/><use href="#m" x="428.2" y="871.7"/><use href="#m" x="435.3" y="869.9"/><use href="#m" x="442.4" y="864.2"/><use href="#m" x="449.5" y="854.9"/><use href="#m" x="456.6" y="842.1"/><use href="#m" x="463.7" y="826.3"/><use href="#m" x="470.8" y="808.2"/><use href="#m" x="477.9" y="788.9"/><use href="#m" x="485" y="769.9"/><use href="#m" x="492.1" y="753.1"/><use href="#m" x="499.2" y="740.1"/><use href="#m" x="506.3" y="732.6"/><use href="#m" x="513.4" y="731.7"/><use href="#m" x="520.5" y="737.5"/><use href="#m" x="527.6" y="749.4"/><use href="#m" x="534.7" y="765.8"/><use href="#m" x="541.8" y="785.1"/><use href="#m" x="548.9" y="805.4"/><use href="#m" x="556" y="825.3"/><use href="#m" x="563.2" y="843.4"/><use href="#m" x="570.3" y="859.2"/><use href="#m" x="577.4" y="872.1"/><use href="#m" x="584.5" y="882.2"/><use href="#m" x="591.6" y="889.8"/><use href="#m" x="598.7" y="895.1"/><use href="#m" x="605.8" y="898.8"/><use href="#m" x="612.9" y="901.3"/><use href="#m" x="620" y="902.9"/><use href="#m" x="627.1" y="904"/><use href="#m" x="634.2" y="904.8"/><use href="#m" x="641.3" y="905.2"/><use href="#m" x="648.4" y="905.5"/><use href="#m" x="655.5" y="905.7"/><use href="#m" x="662.6" y="905.9"/><use href="#m" x="669.7" y="906"/><use href="#m" x="676.8" y="906.1"/><use href="#m" x="683.9" y="906.2"/><use href="#m" x="691" y="906.3"/><use href="#m" x="698.1" y="906.4"/><use href="#m" x="705.2" y="906.4"/><use href="#m" x="712.3" y="906.5"/><use href="#m" x="719.4" y="906.6"/><use href="#m" x="726.5" y="906.6"/><use href="#m" x="733.6" y="906.7"/><use href="#m" x="740.7" y="906.8"/><use href="#m" x="747.8" y="906.8"/><use href="#m" x="754.9" y="906.9"/><use href="#m" x="762" y="906.9"/><use href="#m" x="769.1" y="907"/><use href="#m" x="776.2" y="907"/><use href="#m" x="783.3" y="907"/><use href="#m" x="790.4" y="907.1"/><use href="#m" x="797.6" y="907.1"/><polygon points="128.7,889.7 131.2,889.6 133.7,889.6 136.2,889.6 138.7,889.6 141.2,889.5 143.7,889.5 146.2,889.5 148.7,889.5 151.2,889.4 153.7,889.4 156.2,889.4 158.7,889.4 161.2,889.3 163.7,889.3 166.2,889.3 168.7,889.2 171.2,889.2 173.7,889.2 176.2,889.1 178.7,889.1 181.2,889.1 183.7,889.1 186.2,889 188.7,889 191.2,888.9 193.7,888.9 196.2,888.9 198.7,888.8 201.2,888.8 203.7,888.8 206.2,888.7 208.7,888.7 211.2,888.6 213.7,888.6 216.2,888.5 218.7,888.5 221.2,888.4 223.7,888.4 226.2,888.3 228.7,888.2 231.2,888.2 233.7,888.1 236.2,888 238.7,887.9 241.2,887.8 243.7,887.7 246.2,887.6 248.7,887.5 251.2,887.4 253.7,887.2 256.2,886.9 258.7,886.6 261.2,886.2 263.7,885.8 266.2,885.2 268.7,884.5 271.2,883.7 273.7,882.8 276.2,881.7 278.7,880.4 281.2,878.9 283.7,877.1 286.2,875.2 288.7,872.9 291.2,870.4 293.7,867.6 296.2,864.5 298.7,861.1 301.2,857.4 303.7,853.4 306.2,849.1 308.7,844.5 311.2,839.7 313.7,834.6 316.2,829.3 318.7,823.8 321.2,818.2 323.7,812.6 326.2,807 328.7,801.5 331.2,796.1 333.7,790.9 336.2,786.1 338.7,781.7 341.2,777.7 343.7,774.3 346.2,771.5 348.7,769.3 351.2,767.9 353.7,767.2 356.2,767.3 358.7,768.2 361.2,769.8 363.7,772.2 366.2,775.2 368.7,778.8 371.2,783 373.7,787.7 376.2,792.7 378.7,798.1 381.2,803.7 383.7,809.5 386.2,815.3 388.7,821.2 391.2,827.1 393.7,832.8 396.2,838.3 398.7,843.7 401.2,848.8 403.7,853.7 406.2,858.3 408.7,862.5 411.2,866.5 413.7,870.1 416.2,873.4 418.7,876.4 421.2,879.2 423.7,881.6 426.2,883.8 428.7,885.7 431.2,887.4 433.7,888.9 436.2,890.3 438.7,891.4 441.2,892.4 443.7,893.3 446.2,894.1 448.7,894.7 451.2,895.3 453.7,895.8 456.2,896.3 458.7,896.7 461.2,897 463.7,897.3 466.2,897.6 468.7,897.9 471.2,898.1 473.7,898.3 476.2,898.5 478.7,898.7 481.2,898.9 483.7,899.1 486.2,899.3 488.7,899.5 491.2,899.6 493.7,899.8 496.2,899.9 498.7,900.1 501.2,900.3 503.7,900.4 506.2,900.6 508.7,900.7 511.2,900.9 513.7,901 516.2,901.2 518.7,901.3 521.2,901.5 523.7,901.7 526.2,901.8 528.7,902 531.2,902.1 533.7,902.3 536.2,902.4 538.7,902.6 541.2,902.7 543.7,902.9 546.2,903 548.7,903.2 551.2,903.4 553.7,903.5 556.2,903.7 558.7,903.8 561.2,904 563.7,904.1 566.2,904.3 568.7,904.4 571.2,904.6 573.7,904.7 576.2,904.9 578.7,905 581.2,905.1 581.2,905.8 578.7,905.7 576.2,905.5 573.7,905.4 571.2,905.2 568.7,905.1 566.2,905 563.7,904.8 561.2,904.7 558.7,904.5 556.2,904.4 553.7,904.3 551.2,904.1 548.7,904 546.2,903.8 543.7,903.7 541.2,903.6 538.7,903.4 536.2,903.3 533.7,903.1 531.2,903 528.7,902.9 526.2,902.7 523.7,902.6 521.2,902.4 518.7,902.3 516.2,902.2 513.7,902 511.2,901.9 508.7,901.8 506.2,901.6 503.7,901.5 501.2,901.4 498.7,901.3 496.2,901.1 493.7,901 491.2,900.9 488.7,900.7 486.2,900.6 483.7,900.5 481.2,900.4 478.7,900.2 476.2,900.1 473.7,900 471.2,899.9 468.7,899.7 466.2,899.6 463.7,899.5 461.2,899.4 458.7,899.2 456.2,899.1 453.7,899 451.2,898.9 448.7,898.7 446.2,898.6 443.7,898.5 441.2,898.4 438.7,898.2 436.2,898.1 433.7,898 431.2,897.9 428.7,897.7 426.2,897.6 423.7,897.5 421.2,897.4 418.7,897.2 416.2,897.1 413.7,897 411.2,896.9 408.7,896.7 406.2,896.6 403.7,896.5 401.2,896.3 398.7,896.2 396.2,896.1 393.7,896 391.2,895.8 388.7,895.7 386.2,895.6 383.7,895.5 381.2,895.3 378.7,895.2 376.2,895.1 373.7,895 371.2,894.8 368.7,894.7 366.2,894.6 363.7,894.5 361.2,894.3 358.7,894.2 356.2,894.1 353.7,894 351.2,893.8 348.7,893.7 346.2,893.6 343.7,893.5 341.2,893.3 338.7,893.2 336.2,893.1 333.7,893 331.2,892.8 328.7,892.7 326.2,892.6 323.7,892.5 321.2,892.3 318.7,892.2 316.2,892.1 313.7,892 311.2,891.9 308.7,891.7 306.2,891.6 303.7,891.5 301.2,891.4 298.7,891.3 296.2,891.2 293.7,891.1 291.2,891.1 288.7,891 286.2,890.9 283.7,890.8 281.2,890.8 278.7,890.7 276.2,890.6 273.7,890.6 271.2,890.5 268.7,890.4 266.2,890.3 263.7,890.3 261.2,890.2 258.7,890.1 256.2,890.1 253.7,890 251.2,889.9 248.7,889.8 246.2,889.8 243.7,889.7 241.2,889.6 238.7,889.6 236.2,889.6 233.7,889.6 231.2,889.7 228.7,889.7 226.2,889.7 223.7,889.7 221.2,889.7 218.7,889.7 216.2,889.8 213.7,889.8 211.2,889.8 208.7,889.8 206.2,889.8 203.7,889.8 201.2,889.8 198.7,889.9 196.2,889.9 193.7,889.9 191.2,889.9 188.7,889.9 186.2,889.9 183.7,890 181.2,890 178.7,890 176.2,890 173.7,890 171.2,890 168.7,890.1 166.2,890.1 163.7,890.1 161.2,890.1 158.7,890.1 156.2,890.1 153.7,890.2 151.2,890.2 148.7,890.2 146.2,890.2 143.7,890.2 141.2,890.2 138.7,890.2 136.2,890.3 133.7,890.3 131.2,890.3 128.7,890.3" fill="url(#g7)" fill-opacity="0.88"/><polyline points="83.7,890.1 86.2,890 88.7,890 91.2,890 93.7,890 96.2,889.9 98.7,889.9 101.2,889.9 103.7,889.9 106.2,889.9 108.7,889.8 111.2,889.8 113.7,889.8 116.2,889.8 118.7,889.7 121.2,889.7 123.7,889.7 126.2,889.7 128.7,889.7 131.2,889.6 133.7,889.6 136.2,889.6 138.7,889.6 141.2,889.5 143.7,889.5 146.2,889.5 148.7,889.5 151.2,889.4 153.7,889.4 156.2,889.4 158.7,889.4 161.2,889.3 163.7,889.3 166.2,889.3 168.7,889.2 171.2,889.2 173.7,889.2 176.2,889.1 178.7,889.1 181.2,889.1 183.7,889.1 186.2,889 188.7,889 191.2,888.9 193.7,888.9 196.2,888.9 198.7,888.8 201.2,888.8 203.7,888.8 206.2,888.7 208.7,888.7 211.2,888.6 213.7,888.6 216.2,888.5 218.7,888.5 221.2,888.4 223.7,888.4 226.2,888.3 228.7,888.2 231.2,888.2 233.7,888.1 236.2,888 238.7,887.9 241.2,887.8 243.7,887.7 246.2,887.6 248.7,887.5 251.2,887.4 253.7,887.2 256.2,886.9 258.7,886.6 261.2,886.2 263.7,885.8 266.2,885.2 268.7,884.5 271.2,883.7 273.7,882.8 276.2,881.7 278.7,880.4 281.2,878.9 283.7,877.1 286.2,875.2 288.7,872.9 291.2,870.4 293.7,867.6 296.2,864.5 298.7,861.1 301.2,857.4 303.7,853.4 306.2,849.1 308.7,844.5 311.2,839.7 313.7,834.6 316.2,829.3 318.7,823.8 321.2,818.2 323.7,812.6 326.2,807 328.7,801.5 331.2,796.1 333.7,790.9 336.2,786.1 338.7,781.7 341.2,777.7 343.7,774.3 346.2,771.5 348.7,769.3 351.2,767.9 353.7,767.2 356.2,767.3 358.7,768.2 361.2,769.8 363.7,772.2 366.2,775.2 368.7,778.8 371.2,783 373.7,787.7 376.2,792.7 378.7,798.1 381.2,803.7 383.7,809.5 386.2,815.3 388.7,821.2 391.2,827.1 393.7,832.8 396.2,838.3 398.7,843.7 401.2,848.8 403.7,853.7 406.2,858.3 408.7,862.5 411.2,866.5 413.7,870.1 416.2,873.4 418.7,876.4 421.2,879.2 423.7,881.6 426.2,883.8 428.7,885.7 431.2,887.4 433.7,888.9 436.2,890.3 438.7,891.4 441.2,892.4 443.7,893.3 446.2,894.1 448.7,894.7 451.2,895.3 453.7,895.8 456.2,896.3 458.7,896.7 461.2,897 463.7,897.3 466.2,897.6 468.7,897.9 471.2,898.1 473.7,898.3 476.2,898.5 478.7,898.7 481.2,898.9 483.7,899.1 486.2,899.3 488.7,899.5 491.2,899.6 493.7,899.8 496.2,899.9 498.7,900.1 501.2,900.3 503.7,900.4 506.2,900.6 508.7,900.7 511.2,900.9 513.7,901 516.2,901.2 518.7,901.3 521.2,901.5 523.7,901.7 526.2,901.8 528.7,902 531.2,902.1 533.7,902.3 536.2,902.4 538.7,902.6 541.2,902.7 543.7,902.9 546.2,903 548.7,903.2 551.2,903.4 553.7,903.5 556.2,903.7 558.7,903.8 561.2,904 563.7,904.1 566.2,904.3 568.7,904.4 571.2,904.6 573.7,904.7 576.2,904.9 578.7,905 581.2,905.1 583.7,905.3 586.2,905.4 588.7,905.6 591.2,905.7 593.7,905.8 596.2,905.8 598.7,905.9 601.2,905.9 603.7,906 606.2,906 608.7,906.1 611.2,906.1 613.7,906.2 616.2,906.3 618.7,906.3 621.2,906.4 623.7,906.4 626.2,906.5 628.7,906.5 631.2,906.6 633.7,906.6 636.2,906.7 638.7,906.7 641.2,906.8 643.7,906.8 646.2,906.8 648.7,906.8 651.2,906.8 653.7,906.8 656.2,906.8 658.7,906.9 661.2,906.9 663.7,906.9 666.2,906.9 668.7,906.9 671.2,906.9 673.7,906.9 676.2,906.9 678.7,906.9 681.2,907 683.7,907 686.2,907 688.7,907 691.2,907 693.7,907 696.2,907 698.7,907 701.2,907 703.7,907.1 706.2,907.1 708.7,907.1 711.2,907.1 713.7,907.1 716.2,907.1 718.7,907.1 721.2,907.1 723.7,907.1 726.2,907.1 728.7,907.2 731.2,907.2 733.7,907.2 736.2,907.2 738.7,907.2 741.2,907.2 743.7,907.2 746.2,907.2 748.7,907.2 751.2,907.2 753.7,907.3 756.2,907.3 758.7,907.3 761.2,907.3 763.7,907.3 766.2,907.3 768.7,907.3 771.2,907.3 773.7,907.3 776.2,907.3 778.7,907.3 781.2,907.4 783.7,907.4 786.2,907.4 788.7,907.4 791.2,907.4 793.7,907.4 794,907.4" fill="none" stroke="#e3a76a" stroke-width="1.6"/><polygon points="251.2,889.3 253.7,889.3 256.2,889.4 258.7,889.5 261.2,889.5 263.7,889.6 266.2,889.6 268.7,889.7 271.2,889.8 273.7,889.8 276.2,889.9 278.7,890 281.2,890 283.7,890.1 286.2,890.1 288.7,890.2 291.2,890.3 293.7,890.3 296.2,890.4 298.7,890.4 301.2,890.5 303.7,890.6 306.2,890.8 308.7,890.9 311.2,891 313.7,891.1 316.2,891.2 318.7,891.3 321.2,891.4 323.7,891.5 326.2,891.6 328.7,891.7 331.2,891.8 333.7,891.9 336.2,892 338.7,892.1 341.2,892.2 343.7,892.3 346.2,892.4 348.7,892.5 351.2,892.6 353.7,892.7 356.2,892.8 358.7,892.9 361.2,893 363.7,893.1 366.2,893.2 368.7,893.3 371.2,893.3 373.7,893.4 376.2,893.4 378.7,893.5 381.2,893.5 383.7,893.5 386.2,893.5 388.7,893.5 391.2,893.5 393.7,893.4 396.2,893.2 398.7,893.1 401.2,892.9 403.7,892.6 406.2,892.2 408.7,891.8 411.2,891.2 413.7,890.6 416.2,889.8 418.7,888.9 421.2,887.8 423.7,886.6 426.2,885.1 428.7,883.4 431.2,881.5 433.7,879.4 436.2,876.9 438.7,874.1 441.2,871.1 443.7,867.7 446.2,864 448.7,859.9 451.2,855.4 453.7,850.6 456.2,845.5 458.7,840.1 461.2,834.3 463.7,828.2 466.2,821.9 468.7,815.3 471.2,808.6 473.7,801.8 476.2,794.9 478.7,788 481.2,781.1 483.7,774.4 486.2,768 488.7,761.8 491.2,756 493.7,750.7 496.2,745.9 498.7,741.8 501.2,738.3 503.7,735.5 506.2,733.5 508.7,732.3 511.2,732 513.7,732.5 516.2,733.9 518.7,736.1 521.2,739.1 523.7,742.8 526.2,747.2 528.7,752.2 531.2,757.7 533.7,763.7 536.2,770.1 538.7,776.8 541.2,783.8 543.7,790.9 546.2,798 548.7,805.2 551.2,812.3 553.7,819.3 556.2,826.1 558.7,832.7 561.2,839.1 563.7,845.2 566.2,850.9 568.7,856.4 571.2,861.4 573.7,866.2 576.2,870.5 578.7,874.6 581.2,878.3 583.7,881.6 586.2,884.7 588.7,887.4 591.2,889.8 593.7,891.9 596.2,893.8 598.7,895.4 601.2,896.9 603.7,898.2 606.2,899.3 608.7,900.2 611.2,901.1 613.7,901.8 616.2,902.4 618.7,902.9 621.2,903.4 623.7,903.8 626.2,904.2 628.7,904.5 631.2,904.7 633.7,904.9 636.2,905.1 638.7,905.3 641.2,905.5 643.7,905.6 646.2,905.7 648.7,905.7 651.2,905.8 653.7,905.9 656.2,905.9 658.7,906 661.2,906 663.7,906.1 666.2,906.1 668.7,906.2 671.2,906.2 673.7,906.2 676.2,906.3 678.7,906.3 681.2,906.3 683.7,906.4 686.2,906.4 688.7,906.4 691.2,906.5 693.7,906.5 696.2,906.5 698.7,906.5 701.2,906.6 703.7,906.6 706.2,906.6 708.7,906.6 711.2,906.6 713.7,906.7 716.2,906.7 718.7,906.7 721.2,906.7 723.7,906.8 726.2,906.8 728.7,906.8 731.2,906.8 733.7,906.8 736.2,906.8 738.7,906.9 741.2,906.9 743.7,906.9 746.2,906.9 748.7,906.9 751.2,907 753.7,907 756.2,907 758.7,907 761.2,907 763.7,907 766.2,907 768.7,907.1 771.2,907.1 771.2,907.7 768.7,907.7 766.2,907.7 763.7,907.7 761.2,907.7 758.7,907.7 756.2,907.7 753.7,907.7 751.2,907.7 748.7,907.7 746.2,907.6 743.7,907.6 741.2,907.6 738.7,907.6 736.2,907.6 733.7,907.6 731.2,907.6 728.7,907.6 726.2,907.6 723.7,907.6 721.2,907.6 718.7,907.6 716.2,907.5 713.7,907.5 711.2,907.5 708.7,907.5 706.2,907.5 703.7,907.5 701.2,907.5 698.7,907.5 696.2,907.5 693.7,907.5 691.2,907.5 688.7,907.5 686.2,907.4 683.7,907.4 681.2,907.4 678.7,907.4 676.2,907.4 673.7,907.4 671.2,907.4 668.7,907.4 666.2,907.4 663.7,907.4 661.2,907.4 658.7,907.4 656.2,907.4 653.7,907.3 651.2,907.3 648.7,907.3 646.2,907.3 643.7,907.3 641.2,907.3 638.7,907.3 636.2,907.2 633.7,907.2 631.2,907.1 628.7,907.1 626.2,907 623.7,907 621.2,906.9 618.7,906.9 616.2,906.8 613.7,906.8 611.2,906.7 608.7,906.7 606.2,906.6 603.7,906.6 601.2,906.5 598.7,906.5 596.2,906.4 593.7,906.4 591.2,906.3 588.7,906.2 586.2,906.1 583.7,905.9 581.2,905.8 578.7,905.7 576.2,905.5 573.7,905.4 571.2,905.2 568.7,905.1 566.2,905 563.7,904.8 561.2,904.7 558.7,904.5 556.2,904.4 553.7,904.3 551.2,904.1 548.7,904 546.2,903.8 543.7,903.7 541.2,903.6 538.7,903.4 536.2,903.3 533.7,903.1 531.2,903 528.7,902.9 526.2,902.7 523.7,902.6 521.2,902.4 518.7,902.3 516.2,902.2 513.7,902 511.2,901.9 508.7,901.8 506.2,901.6 503.7,901.5 501.2,901.4 498.7,901.3 496.2,901.1 493.7,901 491.2,900.9 488.7,900.7 486.2,900.6 483.7,900.5 481.2,900.4 478.7,900.2 476.2,900.1 473.7,900 471.2,899.9 468.7,899.7 466.2,899.6 463.7,899.5 461.2,899.4 458.7,899.2 456.2,899.1 453.7,899 451.2,898.9 448.7,898.7 446.2,898.6 443.7,898.5 441.2,898.4 438.7,898.2 436.2,898.1 433.7,898 431.2,897.9 428.7,897.7 426.2,897.6 423.7,897.5 421.2,897.4 418.7,897.2 416.2,897.1 413.7,897 411.2,896.9 408.7,896.7 406.2,896.6 403.7,896.5 401.2,896.3 398.7,896.2 396.2,896.1 393.7,896 391.2,895.8 388.7,895.7 386.2,895.6 383.7,895.5 381.2,895.3 378.7,895.2 376.2,895.1 373.7,895 371.2,894.8 368.7,894.7 366.2,894.6 363.7,894.5 361.2,894.3 358.7,894.2 356.2,894.1 353.7,894 351.2,893.8 348.7,893.7 346.2,893.6 343.7,893.5 341.2,893.3 338.7,893.2 336.2,893.1 333.7,893 331.2,892.8 328.7,892.7 326.2,892.6 323.7,892.5 321.2,892.3 318.7,892.2 316.2,892.1 313.7,892 311.2,891.9 308.7,891.7 306.2,891.6 303.7,891.5 301.2,891.4 298.7,891.3 296.2,891.2 293.7,891.1 291.2,891.1 288.7,891 286.2,890.9 283.7,890.8 281.2,890.8 278.7,890.7 276.2,890.6 273.7,890.6 271.2,890.5 268.7,890.4 266.2,890.3 263.7,890.3 261.2,890.2 258.7,890.1 256.2,890.1 253.7,890 251.2,889.9" fill="url(#g8)" fill-opacity="0.9"/><polyline points="83.7,890.2 86.2,890.2 88.7,890.1 91.2,890.1 93.7,890.1 96.2,890.1 98.7,890.1 101.2,890 103.7,890 106.2,890 108.7,890 111.2,890 113.7,890 116.2,889.9 118.7,889.9 121.2,889.9 123.7,889.9 126.2,889.9 128.7,889.8 131.2,889.8 133.7,889.8 136.2,889.8 138.7,889.8 141.2,889.8 143.7,889.7 146.2,889.7 148.7,889.7 151.2,889.7 153.7,889.7 156.2,889.6 158.7,889.6 161.2,889.6 163.7,889.6 166.2,889.6 168.7,889.6 171.2,889.5 173.7,889.5 176.2,889.5 178.7,889.5 181.2,889.5 183.7,889.4 186.2,889.4 188.7,889.4 191.2,889.4 193.7,889.4 196.2,889.3 198.7,889.3 201.2,889.3 203.7,889.3 206.2,889.3 208.7,889.2 211.2,889.2 213.7,889.2 216.2,889.2 218.7,889.2 221.2,889.1 223.7,889.1 226.2,889.1 228.7,889.1 231.2,889.1 233.7,889 236.2,889 238.7,889 241.2,889 243.7,889.1 246.2,889.1 248.7,889.2 251.2,889.3 253.7,889.3 256.2,889.4 258.7,889.5 261.2,889.5 263.7,889.6 266.2,889.6 268.7,889.7 271.2,889.8 273.7,889.8 276.2,889.9 278.7,890 281.2,890 283.7,890.1 286.2,890.1 288.7,890.2 291.2,890.3 293.7,890.3 296.2,890.4 298.7,890.4 301.2,890.5 303.7,890.6 306.2,890.8 308.7,890.9 311.2,891 313.7,891.1 316.2,891.2 318.7,891.3 321.2,891.4 323.7,891.5 326.2,891.6 328.7,891.7 331.2,891.8 333.7,891.9 336.2,892 338.7,892.1 341.2,892.2 343.7,892.3 346.2,892.4 348.7,892.5 351.2,892.6 353.7,892.7 356.2,892.8 358.7,892.9 361.2,893 363.7,893.1 366.2,893.2 368.7,893.3 371.2,893.3 373.7,893.4 376.2,893.4 378.7,893.5 381.2,893.5 383.7,893.5 386.2,893.5 388.7,893.5 391.2,893.5 393.7,893.4 396.2,893.2 398.7,893.1 401.2,892.9 403.7,892.6 406.2,892.2 408.7,891.8 411.2,891.2 413.7,890.6 416.2,889.8 418.7,888.9 421.2,887.8 423.7,886.6 426.2,885.1 428.7,883.4 431.2,881.5 433.7,879.4 436.2,876.9 438.7,874.1 441.2,871.1 443.7,867.7 446.2,864 448.7,859.9 451.2,855.4 453.7,850.6 456.2,845.5 458.7,840.1 461.2,834.3 463.7,828.2 466.2,821.9 468.7,815.3 471.2,808.6 473.7,801.8 476.2,794.9 478.7,788 481.2,781.1 483.7,774.4 486.2,768 488.7,761.8 491.2,756 493.7,750.7 496.2,745.9 498.7,741.8 501.2,738.3 503.7,735.5 506.2,733.5 508.7,732.3 511.2,732 513.7,732.5 516.2,733.9 518.7,736.1 521.2,739.1 523.7,742.8 526.2,747.2 528.7,752.2 531.2,757.7 533.7,763.7 536.2,770.1 538.7,776.8 541.2,783.8 543.7,790.9 546.2,798 548.7,805.2 551.2,812.3 553.7,819.3 556.2,826.1 558.7,832.7 561.2,839.1 563.7,845.2 566.2,850.9 568.7,856.4 571.2,861.4 573.7,866.2 576.2,870.5 578.7,874.6 581.2,878.3 583.7,881.6 586.2,884.7 588.7,887.4 591.2,889.8 593.7,891.9 596.2,893.8 598.7,895.4 601.2,896.9 603.7,898.2 606.2,899.3 608.7,900.2 611.2,901.1 613.7,901.8 616.2,902.4 618.7,902.9 621.2,903.4 623.7,903.8 626.2,904.2 628.7,904.5 631.2,904.7 633.7,904.9 636.2,905.1 638.7,905.3 641.2,905.5 643.7,905.6 646.2,905.7 648.7,905.7 651.2,905.8 653.7,905.9 656.2,905.9 658.7,906 661.2,906 663.7,906.1 666.2,906.1 668.7,906.2 671.2,906.2 673.7,906.2 676.2,906.3 678.7,906.3 681.2,906.3 683.7,906.4 686.2,906.4 688.7,906.4 691.2,906.5 693.7,906.5 696.2,906.5 698.7,906.5 701.2,906.6 703.7,906.6 706.2,906.6 708.7,906.6 711.2,906.6 713.7,906.7 716.2,906.7 718.7,906.7 721.2,906.7 723.7,906.8 726.2,906.8 728.7,906.8 731.2,906.8 733.7,906.8 736.2,906.8 738.7,906.9 741.2,906.9 743.7,906.9 746.2,906.9 748.7,906.9 751.2,907 753.7,907 756.2,907 758.7,907 761.2,907 763.7,907 766.2,907 768.7,907.1 771.2,907.1 773.7,907.1 776.2,907.1 778.7,907.1 781.2,907.1 783.7,907.1 786.2,907.2 788.7,907.2 791.2,907.2 793.7,907.2 794,907.2" fill="none" stroke="#6c9cc9" stroke-width="1.6"/><polygon points="486,900.3 493.7,900.2 501.4,900.1 509.1,900 516.8,899.9 524.5,899.8 532.2,899.7 539.9,899.6 547.6,899.6 555.3,899.5 563,899.9 570.7,900.3 578.4,900.7 586.1,901.2 593.8,901.5 601.5,901.6 609.2,901.8 616.9,901.9 624.6,902.1 632.3,902.2 640,902.4 647.7,902.4 655.4,902.4 663.1,902.5 670.8,902.5 678.5,902.5 686.2,902.5 693.9,902.6 701.6,902.6 709.3,902.6 717,902.6 724.7,902.7 732.4,902.7 740.1,902.7 747.8,902.8 755.5,902.8 763.2,902.8 770.9,902.8 778.6,902.9 786.3,902.9 794,902.9 794,907.5 786.3,907.5 778.6,907.5 770.9,907.4 763.2,907.4 755.5,907.4 747.8,907.4 740.1,907.3 732.4,907.3 724.7,907.3 717,907.2 709.3,907.2 701.6,907.2 693.9,907.2 686.2,907.1 678.5,907.1 670.8,907.1 663.1,907.1 655.4,907 647.7,907 640,907 632.3,906.8 624.6,906.7 616.9,906.5 609.2,906.4 601.5,906.2 593.8,906.1 586.1,905.8 578.4,905.3 570.7,904.9 563,904.5 555.3,904.1 547.6,903.6 539.9,903.2 532.2,902.8 524.5,902.3 516.8,901.9 509.1,901.5 501.4,901.1 493.7,900.7 486,900.3" fill="#e9b27c"/><polyline points="85,890.3 240,889.3 300,891 354.6,893.7 430,897.5 511.6,901.6 590,906 640,907 792.7,907.5" fill="none" stroke="#1f63d4" stroke-width="2.3"/><path d="M355 742.3V897" stroke="#ee1c25" stroke-width="2.4" stroke-dasharray="12.5 11" fill="none"/><path d="M511.3 714V902.8" stroke="#ee1c25" stroke-width="2.4" stroke-dasharray="12.5 11" fill="none"/></g>
<g clip-path="url(#c12)"><use href="#m" x="87.3" y="1141.6"/><use href="#m" x="94.4" y="1141.6"/><use href="#m" x="101.5" y="1141.6"/><use href="#m" x="108.6" y="1141.6"/><use href="#m" x="115.7" y="1141.6"/><use href="#m" x="122.8" y="1141.6"/><use href="#m" x="129.9" y="1141.6"/><use href="#m" x="137" y="1141.6"/><use href="#m" x="144.1" y="1141.6"/><use href="#m" x="151.2" y="1141.6"/><use href="#m" x="158.3" y="1141.6"/><use href="#m" x="165.4" y="1141.5"/><use href="#m" x="172.5" y="1141.5"/><use href="#m" x="179.6" y="1141.5"/><use href="#m" x="186.7" y="1141.5"/><use href="#m" x="193.8" y="1141.4"/><use href="#m" x="200.9" y="1141.4"/><use href="#m" x="208" y="1141.3"/><use href="#m" x="215.1" y="1141.2"/><use href="#m" x="222.2" y="1141.2"/><use href="#m" x="229.3" y="1141.1"/><use href="#m" x="236.4" y="1140.9"/><use href="#m" x="243.5" y="1140.8"/><use href="#m" x="250.6" y="1140.6"/><use href="#m" x="257.7" y="1140.3"/><use href="#m" x="264.8" y="1139.6"/><use href="#m" x="271.9" y="1138.3"/><use href="#m" x="279" y="1136.2"/><use href="#m" x="286.1" y="1132.8"/><use href="#m" x="293.2" y="1127.7"/><use href="#m" x="300.3" y="1120.6"/><use href="#m" x="307.4" y="1111"/><use href="#m" x="314.5" y="1098.9"/><use href="#m" x="321.7" y="1084.6"/><use href="#m" x="328.8" y="1068.7"/><use href="#m" x="335.9" y="1052.4"/><use href="#m" x="343" y="1037.5"/><use href="#m" x="350.1" y="1025.7"/><use href="#m" x="357.2" y="1018.7"/><use href="#m" x="364.3" y="1017.7"/><use href="#m" x="371.4" y="1022.9"/><use href="#m" x="378.5" y="1033.4"/><use href="#m" x="385.6" y="1047.7"/><use href="#m" x="392.7" y="1063.9"/><use href="#m" x="399.8" y="1080.2"/><use href="#m" x="406.9" y="1095.1"/><use href="#m" x="414" y="1107.6"/><use href="#m" x="421.1" y="1116.8"/><use href="#m" x="428.2" y="1122.5"/><use href="#m" x="435.3" y="1124.4"/><use href="#m" x="442.4" y="1122.6"/><use href="#m" x="449.5" y="1117"/><use href="#m" x="456.6" y="1107.6"/><use href="#m" x="463.7" y="1094.8"/><use href="#m" x="470.8" y="1079"/><use href="#m" x="477.9" y="1060.8"/><use href="#m" x="485" y="1041.5"/><use href="#m" x="492.1" y="1022.5"/><use href="#m" x="499.2" y="1005.6"/><use href="#m" x="506.3" y="992.6"/><use href="#m" x="513.4" y="985.1"/><use href="#m" x="520.5" y="984.1"/><use href="#m" x="527.6" y="989.9"/><use href="#m" x="534.7" y="1001.7"/><use href="#m" x="541.8" y="1018.1"/><use href="#m" x="548.9" y="1037.4"/><use href="#m" x="556" y="1057.7"/><use href="#m" x="563.2" y="1077.5"/><use href="#m" x="570.3" y="1095.7"/><use href="#m" x="577.4" y="1111.4"/><use href="#m" x="584.5" y="1124.3"/><use href="#m" x="591.6" y="1134.4"/><use href="#m" x="598.7" y="1142"/><use href="#m" x="605.8" y="1147.4"/><use href="#m" x="612.9" y="1151.1"/><use href="#m" x="620" y="1153.6"/><use href="#m" x="627.1" y="1155.3"/><use href="#m" x="634.2" y="1156.4"/><use href="#m" x="641.3" y="1157.2"/><use href="#m" x="648.4" y="1157.7"/><use href="#m" x="655.5" y="1158"/><use href="#m" x="662.6" y="1158.2"/><use href="#m" x="669.7" y="1158.4"/><use href="#m" x="676.8" y="1158.5"/><use href="#m" x="683.9" y="1158.6"/><use href="#m" x="691" y="1158.7"/><use href="#m" x="698.1" y="1158.8"/><use href="#m" x="705.2" y="1158.9"/><use href="#m" x="712.3" y="1158.9"/><use href="#m" x="719.4" y="1159"/><use href="#m" x="726.5" y="1159.1"/><use href="#m" x="733.6" y="1159.1"/><use href="#m" x="740.7" y="1159.2"/><use href="#m" x="747.8" y="1159.3"/><use href="#m" x="754.9" y="1159.3"/><use href="#m" x="762" y="1159.4"/><use href="#m" x="769.1" y="1159.4"/><use href="#m" x="776.2" y="1159.5"/><use href="#m" x="783.3" y="1159.5"/><use href="#m" x="790.4" y="1159.6"/><use href="#m" x="797.6" y="1159.6"/><polygon points="133.7,1141.8 136.2,1141.8 138.7,1141.8 141.2,1141.8 143.7,1141.8 146.2,1141.8 148.7,1141.8 151.2,1141.8 153.7,1141.8 156.2,1141.8 158.7,1141.7 161.2,1141.7 163.7,1141.7 166.2,1141.7 168.7,1141.7 171.2,1141.7 173.7,1141.7 176.2,1141.7 178.7,1141.7 181.2,1141.7 183.7,1141.7 186.2,1141.7 188.7,1141.7 191.2,1141.7 193.7,1141.6 196.2,1141.6 198.7,1141.6 201.2,1141.6 203.7,1141.6 206.2,1141.6 208.7,1141.6 211.2,1141.5 213.7,1141.5 216.2,1141.5 218.7,1141.5 221.2,1141.4 223.7,1141.4 226.2,1141.4 228.7,1141.4 231.2,1141.3 233.7,1141.3 236.2,1141.2 238.7,1141.2 241.2,1141.1 243.7,1141.1 246.2,1141.1 248.7,1141 251.2,1141 253.7,1140.9 256.2,1140.7 258.7,1140.6 261.2,1140.3 263.7,1140.1 266.2,1139.8 268.7,1139.4 271.2,1138.9 273.7,1138.3 276.2,1137.6 278.7,1136.7 281.2,1135.7 283.7,1134.6 286.2,1133.2 288.7,1131.7 291.2,1129.9 293.7,1127.8 296.2,1125.5 298.7,1122.9 301.2,1120 303.7,1116.9 306.2,1113.4 308.7,1109.6 311.2,1105.5 313.7,1101 316.2,1096.3 318.7,1091.3 321.2,1086.1 323.7,1080.7 326.2,1075.1 328.7,1069.4 331.2,1063.7 333.7,1058 336.2,1052.4 338.7,1046.9 341.2,1041.7 343.7,1036.9 346.2,1032.4 348.7,1028.5 351.2,1025.1 353.7,1022.3 356.2,1020.2 358.7,1018.9 361.2,1018.3 363.7,1018.5 366.2,1019.5 368.7,1021.3 371.2,1023.8 373.7,1026.9 376.2,1030.7 378.7,1035 381.2,1039.8 383.7,1045 386.2,1050.5 388.7,1056.2 391.2,1062.1 393.7,1068 396.2,1074 398.7,1079.9 401.2,1085.7 403.7,1091.3 406.2,1096.7 408.7,1101.8 411.2,1106.7 413.7,1111.3 416.2,1115.6 418.7,1119.5 421.2,1123.1 423.7,1126.5 426.2,1129.5 428.7,1132.2 431.2,1134.6 433.7,1136.8 436.2,1138.7 438.7,1140.4 441.2,1141.9 443.7,1143.2 446.2,1144.3 448.7,1145.3 451.2,1146.1 453.7,1146.9 456.2,1147.5 458.7,1148.1 461.2,1148.6 463.7,1149 466.2,1149.4 468.7,1149.7 471.2,1150 473.7,1150.2 476.2,1150.5 478.7,1150.7 481.2,1150.9 483.7,1151.1 486.2,1151.3 488.7,1151.5 491.2,1151.6 493.7,1151.8 496.2,1151.9 498.7,1152.1 501.2,1152.2 503.7,1152.4 506.2,1152.5 508.7,1152.6 511.2,1152.8 513.7,1152.9 516.2,1153 518.7,1153.2 521.2,1153.3 523.7,1153.5 526.2,1153.6 528.7,1153.8 531.2,1153.9 533.7,1154.1 536.2,1154.3 538.7,1154.4 541.2,1154.6 543.7,1154.7 546.2,1154.9 548.7,1155 551.2,1155.2 553.7,1155.3 556.2,1155.4 558.7,1155.6 561.2,1155.7 563.7,1155.9 566.2,1156 568.7,1156.2 571.2,1156.3 573.7,1156.5 576.2,1156.6 578.7,1156.8 581.2,1156.9 583.7,1157 586.2,1157.2 588.7,1157.3 591.2,1157.5 591.2,1158.1 588.7,1158 586.2,1157.9 583.7,1157.7 581.2,1157.6 578.7,1157.4 576.2,1157.3 573.7,1157.2 571.2,1157 568.7,1156.9 566.2,1156.8 563.7,1156.6 561.2,1156.5 558.7,1156.4 556.2,1156.2 553.7,1156.1 551.2,1156 548.7,1155.8 546.2,1155.7 543.7,1155.6 541.2,1155.4 538.7,1155.3 536.2,1155.2 533.7,1155 531.2,1154.9 528.7,1154.7 526.2,1154.6 523.7,1154.5 521.2,1154.3 518.7,1154.2 516.2,1154.1 513.7,1154 511.2,1153.9 508.7,1153.8 506.2,1153.7 503.7,1153.6 501.2,1153.4 498.7,1153.3 496.2,1153.2 493.7,1153.1 491.2,1153 488.7,1152.9 486.2,1152.8 483.7,1152.7 481.2,1152.6 478.7,1152.5 476.2,1152.4 473.7,1152.3 471.2,1152.1 468.7,1152 466.2,1151.9 463.7,1151.8 461.2,1151.7 458.7,1151.6 456.2,1151.5 453.7,1151.4 451.2,1151.3 448.7,1151.2 446.2,1151.1 443.7,1151 441.2,1150.9 438.7,1150.7 436.2,1150.6 433.7,1150.5 431.2,1150.4 428.7,1150.2 426.2,1150.1 423.7,1150 421.2,1149.9 418.7,1149.8 416.2,1149.6 413.7,1149.5 411.2,1149.4 408.7,1149.3 406.2,1149.2 403.7,1149 401.2,1148.9 398.7,1148.8 396.2,1148.7 393.7,1148.5 391.2,1148.4 388.7,1148.3 386.2,1148.2 383.7,1148.1 381.2,1147.9 378.7,1147.8 376.2,1147.7 373.7,1147.6 371.2,1147.4 368.7,1147.3 366.2,1147.2 363.7,1147.1 361.2,1147 358.7,1146.9 356.2,1146.7 353.7,1146.6 351.2,1146.5 348.7,1146.4 346.2,1146.3 343.7,1146.2 341.2,1146.1 338.7,1146 336.2,1145.9 333.7,1145.8 331.2,1145.7 328.7,1145.5 326.2,1145.4 323.7,1145.3 321.2,1145.2 318.7,1145.1 316.2,1145 313.7,1144.9 311.2,1144.8 308.7,1144.7 306.2,1144.6 303.7,1144.5 301.2,1144.4 298.7,1144.3 296.2,1144.2 293.7,1144.1 291.2,1144.1 288.7,1144 286.2,1143.9 283.7,1143.9 281.2,1143.8 278.7,1143.7 276.2,1143.7 273.7,1143.6 271.2,1143.5 268.7,1143.5 266.2,1143.4 263.7,1143.3 261.2,1143.3 258.7,1143.2 256.2,1143.1 253.7,1143.1 251.2,1143 248.7,1142.9 246.2,1142.9 243.7,1142.8 241.2,1142.7 238.7,1142.7 236.2,1142.7 233.7,1142.7 231.2,1142.7 228.7,1142.7 226.2,1142.7 223.7,1142.7 221.2,1142.7 218.7,1142.6 216.2,1142.6 213.7,1142.6 211.2,1142.6 208.7,1142.6 206.2,1142.6 203.7,1142.6 201.2,1142.6 198.7,1142.6 196.2,1142.6 193.7,1142.6 191.2,1142.6 188.7,1142.6 186.2,1142.6 183.7,1142.6 181.2,1142.5 178.7,1142.5 176.2,1142.5 173.7,1142.5 171.2,1142.5 168.7,1142.5 166.2,1142.5 163.7,1142.5 161.2,1142.5 158.7,1142.5 156.2,1142.5 153.7,1142.5 151.2,1142.5 148.7,1142.5 146.2,1142.5 143.7,1142.5 141.2,1142.4 138.7,1142.4 136.2,1142.4 133.7,1142.4" fill="url(#g10)" fill-opacity="0.88"/><polyline points="83.7,1141.8 86.2,1141.8 88.7,1141.8 91.2,1141.8 93.7,1141.8 96.2,1141.8 98.7,1141.8 101.2,1141.8 103.7,1141.8 106.2,1141.8 108.7,1141.8 111.2,1141.8 113.7,1141.8 116.2,1141.8 118.7,1141.8 121.2,1141.8 123.7,1141.8 126.2,1141.8 128.7,1141.8 131.2,1141.8 133.7,1141.8 136.2,1141.8 138.7,1141.8 141.2,1141.8 143.7,1141.8 146.2,1141.8 148.7,1141.8 151.2,1141.8 153.7,1141.8 156.2,1141.8 158.7,1141.7 161.2,1141.7 163.7,1141.7 166.2,1141.7 168.7,1141.7 171.2,1141.7 173.7,1141.7 176.2,1141.7 178.7,1141.7 181.2,1141.7 183.7,1141.7 186.2,1141.7 188.7,1141.7 191.2,1141.7 193.7,1141.6 196.2,1141.6 198.7,1141.6 201.2,1141.6 203.7,1141.6 206.2,1141.6 208.7,1141.6 211.2,1141.5 213.7,1141.5 216.2,1141.5 218.7,1141.5 221.2,1141.4 223.7,1141.4 226.2,1141.4 228.7,1141.4 231.2,1141.3 233.7,1141.3 236.2,1141.2 238.7,1141.2 241.2,1141.1 243.7,1141.1 246.2,1141.1 248.7,1141 251.2,1141 253.7,1140.9 256.2,1140.7 258.7,1140.6 261.2,1140.3 263.7,1140.1 266.2,1139.8 268.7,1139.4 271.2,1138.9 273.7,1138.3 276.2,1137.6 278.7,1136.7 281.2,1135.7 283.7,1134.6 286.2,1133.2 288.7,1131.7 291.2,1129.9 293.7,1127.8 296.2,1125.5 298.7,1122.9 301.2,1120 303.7,1116.9 306.2,1113.4 308.7,1109.6 311.2,1105.5 313.7,1101 316.2,1096.3 318.7,1091.3 321.2,1086.1 323.7,1080.7 326.2,1075.1 328.7,1069.4 331.2,1063.7 333.7,1058 336.2,1052.4 338.7,1046.9 341.2,1041.7 343.7,1036.9 346.2,1032.4 348.7,1028.5 351.2,1025.1 353.7,1022.3 356.2,1020.2 358.7,1018.9 361.2,1018.3 363.7,1018.5 366.2,1019.5 368.7,1021.3 371.2,1023.8 373.7,1026.9 376.2,1030.7 378.7,1035 381.2,1039.8 383.7,1045 386.2,1050.5 388.7,1056.2 391.2,1062.1 393.7,1068 396.2,1074 398.7,1079.9 401.2,1085.7 403.7,1091.3 406.2,1096.7 408.7,1101.8 411.2,1106.7 413.7,1111.3 416.2,1115.6 418.7,1119.5 421.2,1123.1 423.7,1126.5 426.2,1129.5 428.7,1132.2 431.2,1134.6 433.7,1136.8 436.2,1138.7 438.7,1140.4 441.2,1141.9 443.7,1143.2 446.2,1144.3 448.7,1145.3 451.2,1146.1 453.7,1146.9 456.2,1147.5 458.7,1148.1 461.2,1148.6 463.7,1149 466.2,1149.4 468.7,1149.7 471.2,1150 473.7,1150.2 476.2,1150.5 478.7,1150.7 481.2,1150.9 483.7,1151.1 486.2,1151.3 488.7,1151.5 491.2,1151.6 493.7,1151.8 496.2,1151.9 498.7,1152.1 501.2,1152.2 503.7,1152.4 506.2,1152.5 508.7,1152.6 511.2,1152.8 513.7,1152.9 516.2,1153 518.7,1153.2 521.2,1153.3 523.7,1153.5 526.2,1153.6 528.7,1153.8 531.2,1153.9 533.7,1154.1 536.2,1154.3 538.7,1154.4 541.2,1154.6 543.7,1154.7 546.2,1154.9 548.7,1155 551.2,1155.2 553.7,1155.3 556.2,1155.4 558.7,1155.6 561.2,1155.7 563.7,1155.9 566.2,1156 568.7,1156.2 571.2,1156.3 573.7,1156.5 576.2,1156.6 578.7,1156.8 581.2,1156.9 583.7,1157 586.2,1157.2 588.7,1157.3 591.2,1157.5 593.7,1157.6 596.2,1157.8 598.7,1157.9 601.2,1158 603.7,1158.1 606.2,1158.1 608.7,1158.2 611.2,1158.3 613.7,1158.3 616.2,1158.4 618.7,1158.5 621.2,1158.5 623.7,1158.6 626.2,1158.7 628.7,1158.7 631.2,1158.8 633.7,1158.9 636.2,1158.9 638.7,1159 641.2,1159 643.7,1159.1 646.2,1159.2 648.7,1159.2 651.2,1159.3 653.7,1159.3 656.2,1159.3 658.7,1159.3 661.2,1159.3 663.7,1159.3 666.2,1159.4 668.7,1159.4 671.2,1159.4 673.7,1159.4 676.2,1159.4 678.7,1159.4 681.2,1159.4 683.7,1159.4 686.2,1159.4 688.7,1159.5 691.2,1159.5 693.7,1159.5 696.2,1159.5 698.7,1159.5 701.2,1159.5 703.7,1159.5 706.2,1159.5 708.7,1159.5 711.2,1159.6 713.7,1159.6 716.2,1159.6 718.7,1159.6 721.2,1159.6 723.7,1159.6 726.2,1159.6 728.7,1159.6 731.2,1159.6 733.7,1159.7 736.2,1159.7 738.7,1159.7 741.2,1159.7 743.7,1159.7 746.2,1159.7 748.7,1159.7 751.2,1159.7 753.7,1159.7 756.2,1159.7 758.7,1159.8 761.2,1159.8 763.7,1159.8 766.2,1159.8 768.7,1159.8 771.2,1159.8 773.7,1159.8 776.2,1159.8 778.7,1159.8 781.2,1159.8 783.7,1159.9 786.2,1159.9 788.7,1159.9 791.2,1159.9 793.7,1159.9 794,1159.9" fill="none" stroke="#e3a76a" stroke-width="1.6"/><polygon points="258.7,1142.5 261.2,1142.6 263.7,1142.7 266.2,1142.7 268.7,1142.8 271.2,1142.8 273.7,1142.9 276.2,1143 278.7,1143 281.2,1143.1 283.7,1143.1 286.2,1143.2 288.7,1143.3 291.2,1143.3 293.7,1143.4 296.2,1143.4 298.7,1143.5 301.2,1143.6 303.7,1143.7 306.2,1143.8 308.7,1143.8 311.2,1143.9 313.7,1144 316.2,1144.1 318.7,1144.2 321.2,1144.3 323.7,1144.4 326.2,1144.5 328.7,1144.6 331.2,1144.7 333.7,1144.8 336.2,1144.9 338.7,1145 341.2,1145.1 343.7,1145.1 346.2,1145.2 348.7,1145.3 351.2,1145.4 353.7,1145.5 356.2,1145.6 358.7,1145.7 361.2,1145.7 363.7,1145.8 366.2,1145.9 368.7,1146 371.2,1146.1 373.7,1146.2 376.2,1146.2 378.7,1146.3 381.2,1146.3 383.7,1146.4 386.2,1146.4 388.7,1146.5 391.2,1146.5 393.7,1146.5 396.2,1146.4 398.7,1146.4 401.2,1146.3 403.7,1146.1 406.2,1146 408.7,1145.7 411.2,1145.4 413.7,1145.1 416.2,1144.6 418.7,1144 421.2,1143.4 423.7,1142.6 426.2,1141.6 428.7,1140.5 431.2,1139.2 433.7,1137.7 436.2,1136 438.7,1134.1 441.2,1131.8 443.7,1129.3 446.2,1126.5 448.7,1123.4 451.2,1119.9 453.7,1116.1 456.2,1112 458.7,1107.4 461.2,1102.6 463.7,1097.4 466.2,1091.9 468.7,1086 471.2,1079.9 473.7,1073.5 476.2,1066.9 478.7,1060.2 481.2,1053.3 483.7,1046.4 486.2,1039.5 488.7,1032.6 491.2,1026 493.7,1019.5 496.2,1013.4 498.7,1007.7 501.2,1002.4 503.7,997.7 506.2,993.6 508.7,990.2 511.2,987.6 513.7,985.7 516.2,984.6 518.7,984.4 521.2,985.1 523.7,986.6 526.2,988.9 528.7,992 531.2,995.8 533.7,1000.3 536.2,1005.4 538.7,1011 541.2,1017 543.7,1023.5 546.2,1030.2 548.7,1037.2 551.2,1044.3 553.7,1051.5 556.2,1058.6 558.7,1065.7 561.2,1072.7 563.7,1079.5 566.2,1086 568.7,1092.3 571.2,1098.3 573.7,1104 576.2,1109.4 578.7,1114.4 581.2,1119.1 583.7,1123.4 586.2,1127.4 588.7,1131 591.2,1134.3 593.7,1137.3 596.2,1140 598.7,1142.4 601.2,1144.5 603.7,1146.3 606.2,1148 608.7,1149.4 611.2,1150.6 613.7,1151.7 616.2,1152.7 618.7,1153.5 621.2,1154.2 623.7,1154.8 626.2,1155.4 628.7,1155.8 631.2,1156.2 633.7,1156.6 636.2,1156.9 638.7,1157.2 641.2,1157.4 643.7,1157.6 646.2,1157.8 648.7,1158 651.2,1158.1 653.7,1158.2 656.2,1158.2 658.7,1158.3 661.2,1158.4 663.7,1158.4 666.2,1158.5 668.7,1158.5 671.2,1158.6 673.7,1158.6 676.2,1158.7 678.7,1158.7 681.2,1158.7 683.7,1158.8 686.2,1158.8 688.7,1158.8 691.2,1158.9 693.7,1158.9 696.2,1158.9 698.7,1159 701.2,1159 703.7,1159 706.2,1159 708.7,1159.1 711.2,1159.1 713.7,1159.1 716.2,1159.1 718.7,1159.2 721.2,1159.2 723.7,1159.2 726.2,1159.2 728.7,1159.2 731.2,1159.3 733.7,1159.3 736.2,1159.3 738.7,1159.3 741.2,1159.3 743.7,1159.4 746.2,1159.4 748.7,1159.4 751.2,1159.4 753.7,1159.4 756.2,1159.5 758.7,1159.5 761.2,1159.5 763.7,1159.5 766.2,1159.5 768.7,1159.5 771.2,1159.6 773.7,1159.6 776.2,1159.6 776.2,1160.2 773.7,1160.2 771.2,1160.2 768.7,1160.2 766.2,1160.2 763.7,1160.2 761.2,1160.2 758.7,1160.2 756.2,1160.2 753.7,1160.2 751.2,1160.2 748.7,1160.1 746.2,1160.1 743.7,1160.1 741.2,1160.1 738.7,1160.1 736.2,1160.1 733.7,1160.1 731.2,1160.1 728.7,1160.1 726.2,1160.1 723.7,1160.1 721.2,1160 718.7,1160 716.2,1160 713.7,1160 711.2,1160 708.7,1160 706.2,1160 703.7,1160 701.2,1160 698.7,1160 696.2,1160 693.7,1160 691.2,1159.9 688.7,1159.9 686.2,1159.9 683.7,1159.9 681.2,1159.9 678.7,1159.9 676.2,1159.9 673.7,1159.9 671.2,1159.9 668.7,1159.9 666.2,1159.9 663.7,1159.8 661.2,1159.8 658.7,1159.8 656.2,1159.8 653.7,1159.8 651.2,1159.8 648.7,1159.8 646.2,1159.7 643.7,1159.6 641.2,1159.6 638.7,1159.5 636.2,1159.5 633.7,1159.4 631.2,1159.3 628.7,1159.3 626.2,1159.2 623.7,1159.2 621.2,1159.1 618.7,1159 616.2,1159 613.7,1158.9 611.2,1158.9 608.7,1158.8 606.2,1158.7 603.7,1158.7 601.2,1158.6 598.7,1158.5 596.2,1158.4 593.7,1158.3 591.2,1158.1 588.7,1158 586.2,1157.9 583.7,1157.7 581.2,1157.6 578.7,1157.4 576.2,1157.3 573.7,1157.2 571.2,1157 568.7,1156.9 566.2,1156.8 563.7,1156.6 561.2,1156.5 558.7,1156.4 556.2,1156.2 553.7,1156.1 551.2,1156 548.7,1155.8 546.2,1155.7 543.7,1155.6 541.2,1155.4 538.7,1155.3 536.2,1155.2 533.7,1155 531.2,1154.9 528.7,1154.7 526.2,1154.6 523.7,1154.5 521.2,1154.3 518.7,1154.2 516.2,1154.1 513.7,1154 511.2,1153.9 508.7,1153.8 506.2,1153.7 503.7,1153.6 501.2,1153.4 498.7,1153.3 496.2,1153.2 493.7,1153.1 491.2,1153 488.7,1152.9 486.2,1152.8 483.7,1152.7 481.2,1152.6 478.7,1152.5 476.2,1152.4 473.7,1152.3 471.2,1152.1 468.7,1152 466.2,1151.9 463.7,1151.8 461.2,1151.7 458.7,1151.6 456.2,1151.5 453.7,1151.4 451.2,1151.3 448.7,1151.2 446.2,1151.1 443.7,1151 441.2,1150.9 438.7,1150.7 436.2,1150.6 433.7,1150.5 431.2,1150.4 428.7,1150.2 426.2,1150.1 423.7,1150 421.2,1149.9 418.7,1149.8 416.2,1149.6 413.7,1149.5 411.2,1149.4 408.7,1149.3 406.2,1149.2 403.7,1149 401.2,1148.9 398.7,1148.8 396.2,1148.7 393.7,1148.5 391.2,1148.4 388.7,1148.3 386.2,1148.2 383.7,1148.1 381.2,1147.9 378.7,1147.8 376.2,1147.7 373.7,1147.6 371.2,1147.4 368.7,1147.3 366.2,1147.2 363.7,1147.1 361.2,1147 358.7,1146.9 356.2,1146.7 353.7,1146.6 351.2,1146.5 348.7,1146.4 346.2,1146.3 343.7,1146.2 341.2,1146.1 338.7,1146 336.2,1145.9 333.7,1145.8 331.2,1145.7 328.7,1145.5 326.2,1145.4 323.7,1145.3 321.2,1145.2 318.7,1145.1 316.2,1145 313.7,1144.9 311.2,1144.8 308.7,1144.7 306.2,1144.6 303.7,1144.5 301.2,1144.4 298.7,1144.3 296.2,1144.2 293.7,1144.1 291.2,1144.1 288.7,1144 286.2,1143.9 283.7,1143.9 281.2,1143.8 278.7,1143.7 276.2,1143.7 273.7,1143.6 271.2,1143.5 268.7,1143.5 266.2,1143.4 263.7,1143.3 261.2,1143.3 258.7,1143.2" fill="url(#g11)" fill-opacity="0.9"/><polyline points="83.7,1141.9 86.2,1141.9 88.7,1141.9 91.2,1141.9 93.7,1141.9 96.2,1141.9 98.7,1141.9 101.2,1141.9 103.7,1141.9 106.2,1141.9 108.7,1141.9 111.2,1141.9 113.7,1141.9 116.2,1141.9 118.7,1141.9 121.2,1141.9 123.7,1141.9 126.2,1142 128.7,1142 131.2,1142 133.7,1142 136.2,1142 138.7,1142 141.2,1142 143.7,1142 146.2,1142 148.7,1142 151.2,1142 153.7,1142 156.2,1142 158.7,1142 161.2,1142 163.7,1142 166.2,1142 168.7,1142 171.2,1142 173.7,1142 176.2,1142 178.7,1142 181.2,1142 183.7,1142 186.2,1142 188.7,1142 191.2,1142.1 193.7,1142.1 196.2,1142.1 198.7,1142.1 201.2,1142.1 203.7,1142.1 206.2,1142.1 208.7,1142.1 211.2,1142.1 213.7,1142.1 216.2,1142.1 218.7,1142.1 221.2,1142.1 223.7,1142.1 226.2,1142.1 228.7,1142.1 231.2,1142.1 233.7,1142.1 236.2,1142.1 238.7,1142.1 241.2,1142.1 243.7,1142.2 246.2,1142.2 248.7,1142.3 251.2,1142.4 253.7,1142.4 256.2,1142.5 258.7,1142.5 261.2,1142.6 263.7,1142.7 266.2,1142.7 268.7,1142.8 271.2,1142.8 273.7,1142.9 276.2,1143 278.7,1143 281.2,1143.1 283.7,1143.1 286.2,1143.2 288.7,1143.3 291.2,1143.3 293.7,1143.4 296.2,1143.4 298.7,1143.5 301.2,1143.6 303.7,1143.7 306.2,1143.8 308.7,1143.8 311.2,1143.9 313.7,1144 316.2,1144.1 318.7,1144.2 321.2,1144.3 323.7,1144.4 326.2,1144.5 328.7,1144.6 331.2,1144.7 333.7,1144.8 336.2,1144.9 338.7,1145 341.2,1145.1 343.7,1145.1 346.2,1145.2 348.7,1145.3 351.2,1145.4 353.7,1145.5 356.2,1145.6 358.7,1145.7 361.2,1145.7 363.7,1145.8 366.2,1145.9 368.7,1146 371.2,1146.1 373.7,1146.2 376.2,1146.2 378.7,1146.3 381.2,1146.3 383.7,1146.4 386.2,1146.4 388.7,1146.5 391.2,1146.5 393.7,1146.5 396.2,1146.4 398.7,1146.4 401.2,1146.3 403.7,1146.1 406.2,1146 408.7,1145.7 411.2,1145.4 413.7,1145.1 416.2,1144.6 418.7,1144 421.2,1143.4 423.7,1142.6 426.2,1141.6 428.7,1140.5 431.2,1139.2 433.7,1137.7 436.2,1136 438.7,1134.1 441.2,1131.8 443.7,1129.3 446.2,1126.5 448.7,1123.4 451.2,1119.9 453.7,1116.1 456.2,1112 458.7,1107.4 461.2,1102.6 463.7,1097.4 466.2,1091.9 468.7,1086 471.2,1079.9 473.7,1073.5 476.2,1066.9 478.7,1060.2 481.2,1053.3 483.7,1046.4 486.2,1039.5 488.7,1032.6 491.2,1026 493.7,1019.5 496.2,1013.4 498.7,1007.7 501.2,1002.4 503.7,997.7 506.2,993.6 508.7,990.2 511.2,987.6 513.7,985.7 516.2,984.6 518.7,984.4 521.2,985.1 523.7,986.6 526.2,988.9 528.7,992 531.2,995.8 533.7,1000.3 536.2,1005.4 538.7,1011 541.2,1017 543.7,1023.5 546.2,1030.2 548.7,1037.2 551.2,1044.3 553.7,1051.5 556.2,1058.6 558.7,1065.7 561.2,1072.7 563.7,1079.5 566.2,1086 568.7,1092.3 571.2,1098.3 573.7,1104 576.2,1109.4 578.7,1114.4 581.2,1119.1 583.7,1123.4 586.2,1127.4 588.7,1131 591.2,1134.3 593.7,1137.3 596.2,1140 598.7,1142.4 601.2,1144.5 603.7,1146.3 606.2,1148 608.7,1149.4 611.2,1150.6 613.7,1151.7 616.2,1152.7 618.7,1153.5 621.2,1154.2 623.7,1154.8 626.2,1155.4 628.7,1155.8 631.2,1156.2 633.7,1156.6 636.2,1156.9 638.7,1157.2 641.2,1157.4 643.7,1157.6 646.2,1157.8 648.7,1158 651.2,1158.1 653.7,1158.2 656.2,1158.2 658.7,1158.3 661.2,1158.4 663.7,1158.4 666.2,1158.5 668.7,1158.5 671.2,1158.6 673.7,1158.6 676.2,1158.7 678.7,1158.7 681.2,1158.7 683.7,1158.8 686.2,1158.8 688.7,1158.8 691.2,1158.9 693.7,1158.9 696.2,1158.9 698.7,1159 701.2,1159 703.7,1159 706.2,1159 708.7,1159.1 711.2,1159.1 713.7,1159.1 716.2,1159.1 718.7,1159.2 721.2,1159.2 723.7,1159.2 726.2,1159.2 728.7,1159.2 731.2,1159.3 733.7,1159.3 736.2,1159.3 738.7,1159.3 741.2,1159.3 743.7,1159.4 746.2,1159.4 748.7,1159.4 751.2,1159.4 753.7,1159.4 756.2,1159.5 758.7,1159.5 761.2,1159.5 763.7,1159.5 766.2,1159.5 768.7,1159.5 771.2,1159.6 773.7,1159.6 776.2,1159.6 778.7,1159.6 781.2,1159.6 783.7,1159.6 786.2,1159.6 788.7,1159.7 791.2,1159.7 793.7,1159.7 794,1159.7" fill="none" stroke="#6c9cc9" stroke-width="1.6"/><polygon points="494,1152.8 501.5,1152.7 509,1152.5 516.5,1152.3 524,1152.2 531.5,1152.1 539,1152 546.5,1152 554,1151.9 561.5,1151.8 569,1152 576.5,1152.4 584,1152.8 591.5,1153.2 599,1153.6 606.5,1153.9 614,1154 621.5,1154.2 629,1154.4 636.5,1154.6 644,1154.8 651.5,1154.9 659,1154.9 666.5,1155 674,1155 681.5,1155 689,1155 696.5,1155.1 704,1155.1 711.5,1155.1 719,1155.1 726.5,1155.2 734,1155.2 741.5,1155.2 749,1155.2 756.5,1155.3 764,1155.3 771.5,1155.3 779,1155.3 786.5,1155.4 794,1155.4 794,1160 786.5,1160 779,1159.9 771.5,1159.9 764,1159.9 756.5,1159.9 749,1159.8 741.5,1159.8 734,1159.8 726.5,1159.8 719,1159.7 711.5,1159.7 704,1159.7 696.5,1159.7 689,1159.6 681.5,1159.6 674,1159.6 666.5,1159.6 659,1159.5 651.5,1159.5 644,1159.4 636.5,1159.2 629,1159 621.5,1158.8 614,1158.6 606.5,1158.5 599,1158.2 591.5,1157.8 584,1157.4 576.5,1157 569,1156.6 561.5,1156.2 554,1155.8 546.5,1155.4 539,1155 531.5,1154.6 524,1154.2 516.5,1153.8 509,1153.5 501.5,1153.2 494,1152.8" fill="#e9b27c"/><polyline points="85,1142 240,1142.4 300,1144 362,1146.7 440,1150.5 518.6,1153.9 600,1158.3 650,1159.5 792.7,1160" fill="none" stroke="#1f63d4" stroke-width="2.3"/><path d="M362.1 998V1146" stroke="#ee1c25" stroke-width="2.4" stroke-dasharray="12.5 11" fill="none"/><path d="M518.4 964V1153.9" stroke="#ee1c25" stroke-width="2.4" stroke-dasharray="12.5 11" fill="none"/></g>
<text x="254.2" y="775" font-size="33.5" text-anchor="start">37.18</text>
<text x="537.8" y="744.6" font-size="33.5" text-anchor="start">34.98</text>
<text x="664.7" y="882.7" font-size="33.5" text-anchor="start">AB-9</text>
<text x="259.9" y="1030.7" font-size="33.5" text-anchor="start">37.08</text>
<text x="542.4" y="1000.2" font-size="33.5" text-anchor="start">34.88</text>
<text x="661.4" y="1128.5" font-size="33.5" text-anchor="start">Bi<tspan font-size="23.1" dy="9.2">2</tspan><tspan dy="-9.2">WO</tspan><tspan font-size="23.1" dy="9.2">6</tspan></text>
<rect x="1031.3" y="681.6" width="711.3" height="510.6" fill="none" stroke="#222" stroke-width="2.7"/>
<text x="1031.3" y="1232.9" font-size="34" text-anchor="middle">376</text>
<text x="1149.8" y="1232.9" font-size="34" text-anchor="middle">374</text>
<text x="1268.4" y="1232.9" font-size="34" text-anchor="middle">372</text>
<text x="1386.9" y="1232.9" font-size="34" text-anchor="middle">370</text>
<text x="1505.5" y="1232.9" font-size="34" text-anchor="middle">368</text>
<text x="1624" y="1232.9" font-size="34" text-anchor="middle">366</text>
<text x="1742.6" y="1232.9" font-size="34" text-anchor="middle">364</text>
<path d="M1090.6 1192.2v-6.8M1149.8 1192.2v-13.5M1209.1 1192.2v-6.8M1268.4 1192.2v-13.5M1327.7 1192.2v-6.8M1386.9 1192.2v-13.5M1446.2 1192.2v-6.8M1505.5 1192.2v-13.5M1564.8 1192.2v-6.8M1624 1192.2v-13.5M1683.3 1192.2v-6.8" stroke="#222" stroke-width="2.5" fill="none"/>
<text x="1231.1" y="1278.3" font-size="38.3" text-anchor="start">Binding Energy (eV)</text>
<text transform="translate(984.7 1033.7) rotate(-90)" font-size="38.3">Intensity (a.u)</text>
<text x="1055.7" y="733.8" font-size="43.5" text-anchor="start">(d)</text>
<text x="1646.4" y="713.9" font-size="33.5" text-anchor="start">Ag 3d</text>
<g clip-path="url(#c15)"><use href="#m" x="1034.3" y="890.3"/><use href="#m" x="1040.2" y="890.3"/><use href="#m" x="1046.1" y="890.3"/><use href="#m" x="1052" y="890.2"/><use href="#m" x="1058" y="890.2"/><use href="#m" x="1063.9" y="890.1"/><use href="#m" x="1069.8" y="890"/><use href="#m" x="1075.8" y="889.8"/><use href="#m" x="1081.7" y="889.6"/><use href="#m" x="1087.6" y="889.2"/><use href="#m" x="1093.5" y="888.6"/><use href="#m" x="1099.5" y="887.6"/><use href="#m" x="1105.4" y="886.1"/><use href="#m" x="1111.3" y="883.9"/><use href="#m" x="1117.2" y="880.7"/><use href="#m" x="1123.2" y="876.3"/><use href="#m" x="1129.1" y="870.4"/><use href="#m" x="1135" y="862.9"/><use href="#m" x="1141" y="853.6"/><use href="#m" x="1146.9" y="842.8"/><use href="#m" x="1152.8" y="830.9"/><use href="#m" x="1158.7" y="818.6"/><use href="#m" x="1164.7" y="806.9"/><use href="#m" x="1170.6" y="796.7"/><use href="#m" x="1176.5" y="789.1"/><use href="#m" x="1182.5" y="785.2"/><use href="#m" x="1188.4" y="785.3"/><use href="#m" x="1194.3" y="789.6"/><use href="#m" x="1200.2" y="797.5"/><use href="#m" x="1206.2" y="808.1"/><use href="#m" x="1212.1" y="820.2"/><use href="#m" x="1218" y="832.8"/><use href="#m" x="1223.9" y="845"/><use href="#m" x="1229.9" y="856.2"/><use href="#m" x="1235.8" y="865.8"/><use href="#m" x="1241.7" y="873.7"/><use href="#m" x="1247.7" y="879.8"/><use href="#m" x="1253.6" y="884.4"/><use href="#m" x="1259.5" y="887.7"/><use href="#m" x="1265.4" y="889.9"/><use href="#m" x="1271.4" y="891.4"/><use href="#m" x="1277.3" y="892.4"/><use href="#m" x="1283.2" y="893.1"/><use href="#m" x="1289.1" y="893.5"/><use href="#m" x="1295.1" y="893.7"/><use href="#m" x="1301" y="893.9"/><use href="#m" x="1306.9" y="894"/><use href="#m" x="1312.9" y="894.1"/><use href="#m" x="1318.8" y="894.2"/><use href="#m" x="1324.7" y="894.2"/><use href="#m" x="1330.6" y="894.3"/><use href="#m" x="1336.6" y="894.3"/><use href="#m" x="1342.5" y="894.3"/><use href="#m" x="1348.4" y="894.3"/><use href="#m" x="1354.3" y="894.3"/><use href="#m" x="1360.3" y="894.3"/><use href="#m" x="1366.2" y="894.3"/><use href="#m" x="1372.1" y="894.3"/><use href="#m" x="1378.1" y="894.3"/><use href="#m" x="1384" y="894.3"/><use href="#m" x="1389.9" y="894.2"/><use href="#m" x="1395.8" y="894.2"/><use href="#m" x="1401.8" y="894.1"/><use href="#m" x="1407.7" y="894"/><use href="#m" x="1413.6" y="893.8"/><use href="#m" x="1419.6" y="893.6"/><use href="#m" x="1425.5" y="893.3"/><use href="#m" x="1431.4" y="892.7"/><use href="#m" x="1437.3" y="891.9"/><use href="#m" x="1443.3" y="890.7"/><use href="#m" x="1449.2" y="888.8"/><use href="#m" x="1455.1" y="886.1"/><use href="#m" x="1461" y="882.1"/><use href="#m" x="1467" y="876.8"/><use href="#m" x="1472.9" y="869.6"/><use href="#m" x="1478.8" y="860.6"/><use href="#m" x="1484.8" y="849.4"/><use href="#m" x="1490.7" y="836"/><use href="#m" x="1496.6" y="820.9"/><use href="#m" x="1502.5" y="804.7"/><use href="#m" x="1508.5" y="788.1"/><use href="#m" x="1514.4" y="772.3"/><use href="#m" x="1520.3" y="758.5"/><use href="#m" x="1526.2" y="748.1"/><use href="#m" x="1532.2" y="742.1"/><use href="#m" x="1538.1" y="741.2"/><use href="#m" x="1544" y="745.6"/><use href="#m" x="1550" y="754.7"/><use href="#m" x="1555.9" y="767.7"/><use href="#m" x="1561.8" y="783.2"/><use href="#m" x="1567.7" y="800"/><use href="#m" x="1573.7" y="816.9"/><use href="#m" x="1579.6" y="832.9"/><use href="#m" x="1585.5" y="847.4"/><use href="#m" x="1591.4" y="859.8"/><use href="#m" x="1597.4" y="870.1"/><use href="#m" x="1603.3" y="878.2"/><use href="#m" x="1609.2" y="884.3"/><use href="#m" x="1615.2" y="888.8"/><use href="#m" x="1621.1" y="892"/><use href="#m" x="1627" y="894.3"/><use href="#m" x="1632.9" y="895.8"/><use href="#m" x="1638.9" y="896.8"/><use href="#m" x="1644.8" y="897.4"/><use href="#m" x="1650.7" y="897.9"/><use href="#m" x="1656.7" y="898.2"/><use href="#m" x="1662.6" y="898.4"/><use href="#m" x="1668.5" y="898.6"/><use href="#m" x="1674.4" y="898.7"/><use href="#m" x="1680.4" y="898.8"/><use href="#m" x="1686.3" y="898.9"/><use href="#m" x="1692.2" y="899"/><use href="#m" x="1698.1" y="899"/><use href="#m" x="1704.1" y="899.1"/><use href="#m" x="1710" y="899.2"/><use href="#m" x="1715.9" y="899.2"/><use href="#m" x="1721.9" y="899.3"/><use href="#m" x="1727.8" y="899.3"/><use href="#m" x="1733.7" y="899.4"/><use href="#m" x="1739.6" y="899.4"/><use href="#m" x="1745.6" y="899.4"/><polygon points="1031.3,890.4 1033.8,890.4 1036.3,890.4 1038.8,890.4 1041.3,890.4 1043.8,890.4 1046.3,890.4 1048.8,890.4 1051.3,890.3 1053.8,890.3 1056.3,890.3 1058.8,890.3 1061.3,890.2 1063.8,890.2 1066.3,890.2 1068.8,890.1 1071.3,890.1 1073.8,890 1076.3,889.9 1078.8,889.8 1081.3,889.7 1083.8,889.6 1086.3,889.4 1088.8,889.2 1091.3,889 1093.8,888.7 1096.3,888.3 1098.8,887.9 1101.3,887.3 1103.8,886.7 1106.3,886 1108.8,885.1 1111.3,884 1113.8,882.8 1116.3,881.4 1118.8,879.8 1121.3,877.9 1123.8,875.8 1126.3,873.5 1128.8,870.9 1131.3,867.9 1133.8,864.7 1136.3,861.2 1138.8,857.3 1141.3,853.2 1143.8,848.7 1146.3,844.1 1148.8,839.2 1151.3,834.2 1153.8,829.1 1156.3,823.9 1158.8,818.7 1161.3,813.6 1163.8,808.7 1166.3,804 1168.8,799.7 1171.3,795.8 1173.8,792.4 1176.3,789.5 1178.8,787.3 1181.3,785.8 1183.8,785 1186.3,785 1188.8,785.7 1191.3,787.1 1193.8,789.3 1196.3,792.1 1198.8,795.5 1201.3,799.4 1203.8,803.8 1206.3,808.5 1208.8,813.5 1211.3,818.7 1213.8,824 1216.3,829.4 1218.8,834.7 1221.3,839.9 1223.8,845 1226.3,849.9 1228.8,854.5 1231.3,858.9 1233.8,863 1236.3,866.8 1238.8,870.2 1241.3,873.4 1243.8,876.3 1246.3,878.8 1248.8,881.1 1251.3,883.1 1253.8,884.9 1256.3,886.4 1258.8,887.6 1261.3,888.8 1263.8,889.7 1266.3,890.5 1268.8,891.2 1271.3,891.7 1273.8,892.2 1276.3,892.6 1278.8,893 1281.3,893.2 1283.8,893.5 1286.3,893.7 1288.8,893.8 1291.3,893.9 1293.8,894.1 1296.3,894.2 1298.8,894.2 1301.3,894.3 1303.8,894.4 1306.3,894.4 1308.8,894.5 1311.3,894.5 1313.8,894.6 1316.3,894.6 1318.8,894.6 1321.3,894.7 1323.8,894.7 1326.3,894.7 1328.8,894.8 1331.3,894.8 1333.8,894.8 1336.3,894.8 1338.8,894.9 1341.3,894.9 1343.8,894.9 1346.3,894.9 1348.8,895 1351.3,895 1353.8,895 1356.3,895 1358.8,895 1361.3,895.1 1363.8,895.1 1366.3,895.1 1368.8,895.1 1371.3,895.1 1373.8,895.1 1376.3,895.2 1378.8,895.2 1381.3,895.2 1381.3,895.9 1378.8,895.8 1376.3,895.8 1373.8,895.8 1371.3,895.8 1368.8,895.8 1366.3,895.8 1363.8,895.8 1361.3,895.8 1358.8,895.8 1356.3,895.8 1353.8,895.8 1351.3,895.8 1348.8,895.8 1346.3,895.8 1343.8,895.8 1341.3,895.7 1338.8,895.7 1336.3,895.7 1333.8,895.7 1331.3,895.7 1328.8,895.7 1326.3,895.7 1323.8,895.7 1321.3,895.7 1318.8,895.7 1316.3,895.7 1313.8,895.7 1311.3,895.7 1308.8,895.7 1306.3,895.7 1303.8,895.6 1301.3,895.6 1298.8,895.6 1296.3,895.6 1293.8,895.6 1291.3,895.6 1288.8,895.6 1286.3,895.6 1283.8,895.6 1281.3,895.6 1278.8,895.6 1276.3,895.6 1273.8,895.6 1271.3,895.6 1268.8,895.6 1266.3,895.5 1263.8,895.5 1261.3,895.5 1258.8,895.5 1256.3,895.5 1253.8,895.5 1251.3,895.5 1248.8,895.5 1246.3,895.4 1243.8,895.3 1241.3,895.2 1238.8,895.2 1236.3,895.1 1233.8,895 1231.3,895 1228.8,894.9 1226.3,894.8 1223.8,894.7 1221.3,894.7 1218.8,894.6 1216.3,894.5 1213.8,894.4 1211.3,894.4 1208.8,894.3 1206.3,894.2 1203.8,894.1 1201.3,894.1 1198.8,894 1196.3,893.9 1193.8,893.9 1191.3,893.8 1188.8,893.7 1186.3,893.6 1183.8,893.6 1181.3,893.5 1178.8,893.4 1176.3,893.3 1173.8,893.3 1171.3,893.2 1168.8,893.1 1166.3,893 1163.8,892.9 1161.3,892.9 1158.8,892.8 1156.3,892.7 1153.8,892.6 1151.3,892.6 1148.8,892.5 1146.3,892.4 1143.8,892.3 1141.3,892.3 1138.8,892.2 1136.3,892.1 1133.8,892 1131.3,891.9 1128.8,891.9 1126.3,891.8 1123.8,891.7 1121.3,891.6 1118.8,891.6 1116.3,891.6 1113.8,891.6 1111.3,891.6 1108.8,891.6 1106.3,891.6 1103.8,891.5 1101.3,891.5 1098.8,891.5 1096.3,891.5 1093.8,891.5 1091.3,891.5 1088.8,891.5 1086.3,891.5 1083.8,891.5 1081.3,891.5 1078.8,891.5 1076.3,891.5 1073.8,891.4 1071.3,891.4 1068.8,891.4 1066.3,891.4 1063.8,891.4 1061.3,891.4 1058.8,891.4 1056.3,891.4 1053.8,891.4 1051.3,891.4 1048.8,891.4 1046.3,891.4 1043.8,891.3 1041.3,891.3 1038.8,891.3 1036.3,891.3 1033.8,891.3 1031.3,891.3" fill="url(#g13)" fill-opacity="0.95"/><polyline points="1031.3,890.4 1033.8,890.4 1036.3,890.4 1038.8,890.4 1041.3,890.4 1043.8,890.4 1046.3,890.4 1048.8,890.4 1051.3,890.3 1053.8,890.3 1056.3,890.3 1058.8,890.3 1061.3,890.2 1063.8,890.2 1066.3,890.2 1068.8,890.1 1071.3,890.1 1073.8,890 1076.3,889.9 1078.8,889.8 1081.3,889.7 1083.8,889.6 1086.3,889.4 1088.8,889.2 1091.3,889 1093.8,888.7 1096.3,888.3 1098.8,887.9 1101.3,887.3 1103.8,886.7 1106.3,886 1108.8,885.1 1111.3,884 1113.8,882.8 1116.3,881.4 1118.8,879.8 1121.3,877.9 1123.8,875.8 1126.3,873.5 1128.8,870.9 1131.3,867.9 1133.8,864.7 1136.3,861.2 1138.8,857.3 1141.3,853.2 1143.8,848.7 1146.3,844.1 1148.8,839.2 1151.3,834.2 1153.8,829.1 1156.3,823.9 1158.8,818.7 1161.3,813.6 1163.8,808.7 1166.3,804 1168.8,799.7 1171.3,795.8 1173.8,792.4 1176.3,789.5 1178.8,787.3 1181.3,785.8 1183.8,785 1186.3,785 1188.8,785.7 1191.3,787.1 1193.8,789.3 1196.3,792.1 1198.8,795.5 1201.3,799.4 1203.8,803.8 1206.3,808.5 1208.8,813.5 1211.3,818.7 1213.8,824 1216.3,829.4 1218.8,834.7 1221.3,839.9 1223.8,845 1226.3,849.9 1228.8,854.5 1231.3,858.9 1233.8,863 1236.3,866.8 1238.8,870.2 1241.3,873.4 1243.8,876.3 1246.3,878.8 1248.8,881.1 1251.3,883.1 1253.8,884.9 1256.3,886.4 1258.8,887.6 1261.3,888.8 1263.8,889.7 1266.3,890.5 1268.8,891.2 1271.3,891.7 1273.8,892.2 1276.3,892.6 1278.8,893 1281.3,893.2 1283.8,893.5 1286.3,893.7 1288.8,893.8 1291.3,893.9 1293.8,894.1 1296.3,894.2 1298.8,894.2 1301.3,894.3 1303.8,894.4 1306.3,894.4 1308.8,894.5 1311.3,894.5 1313.8,894.6 1316.3,894.6 1318.8,894.6 1321.3,894.7 1323.8,894.7 1326.3,894.7 1328.8,894.8 1331.3,894.8 1333.8,894.8 1336.3,894.8 1338.8,894.9 1341.3,894.9 1343.8,894.9 1346.3,894.9 1348.8,895 1351.3,895 1353.8,895 1356.3,895 1358.8,895 1361.3,895.1 1363.8,895.1 1366.3,895.1 1368.8,895.1 1371.3,895.1 1373.8,895.1 1376.3,895.2 1378.8,895.2 1381.3,895.2 1383.8,895.2 1386.3,895.2 1388.8,895.2 1391.3,895.3 1393.8,895.3 1396.3,895.3 1398.8,895.3 1401.3,895.3 1403.8,895.3 1406.3,895.3 1408.8,895.4 1411.3,895.4 1413.8,895.4 1416.3,895.4 1418.8,895.4 1421.3,895.4 1423.8,895.4 1426.3,895.4 1428.8,895.5 1431.3,895.5 1433.8,895.5 1436.3,895.5 1438.8,895.5 1441.3,895.5 1443.8,895.5 1446.3,895.5 1448.8,895.5 1451.3,895.6 1453.8,895.6 1456.3,895.6 1458.8,895.6 1461.3,895.6 1463.8,895.6 1466.3,895.6 1468.8,895.6 1471.3,895.7 1473.8,895.7 1476.3,895.8 1478.8,895.9 1481.3,896 1483.8,896.1 1486.3,896.1 1488.8,896.2 1491.3,896.3 1493.8,896.4 1496.3,896.5 1498.8,896.5 1501.3,896.6 1503.8,896.7 1506.3,896.8 1508.8,896.8 1511.3,896.9 1513.8,897 1516.3,897.1 1518.8,897.2 1521.3,897.2 1523.8,897.3 1526.3,897.4 1528.8,897.5 1531.3,897.5 1533.8,897.6 1536.3,897.7 1538.8,897.8 1541.3,897.9 1543.8,897.9 1546.3,898 1548.8,898.1 1551.3,898.2 1553.8,898.3 1556.3,898.3 1558.8,898.4 1561.3,898.5 1563.8,898.6 1566.3,898.7 1568.8,898.7 1571.3,898.8 1573.8,898.9 1576.3,899 1578.8,899 1581.3,899.1 1583.8,899.2 1586.3,899.3 1588.8,899.4 1591.3,899.4 1593.8,899.5 1596.3,899.6 1598.8,899.7 1601.3,899.7 1603.8,899.7 1606.3,899.7 1608.8,899.7 1611.3,899.7 1613.8,899.7 1616.3,899.7 1618.8,899.8 1621.3,899.8 1623.8,899.8 1626.3,899.8 1628.8,899.8 1631.3,899.8 1633.8,899.8 1636.3,899.8 1638.8,899.8 1641.3,899.8 1643.8,899.8 1646.3,899.8 1648.8,899.8 1651.3,899.8 1653.8,899.8 1656.3,899.8 1658.8,899.8 1661.3,899.8 1663.8,899.8 1666.3,899.8 1668.8,899.8 1671.3,899.8 1673.8,899.8 1676.3,899.8 1678.8,899.9 1681.3,899.9 1683.8,899.9 1686.3,899.9 1688.8,899.9 1691.3,899.9 1693.8,899.9 1696.3,899.9 1698.8,899.9 1701.3,899.9 1703.8,899.9 1706.3,899.9 1708.8,899.9 1711.3,899.9 1713.8,899.9" fill="none" stroke="#3d5a6e" stroke-width="1.2"/><polygon points="1281.3,894.9 1283.8,894.9 1286.3,894.9 1288.8,894.9 1291.3,894.9 1293.8,894.9 1296.3,894.9 1298.8,894.9 1301.3,894.9 1303.8,894.9 1306.3,894.9 1308.8,894.9 1311.3,894.9 1313.8,894.9 1316.3,894.9 1318.8,894.9 1321.3,894.9 1323.8,894.9 1326.3,894.9 1328.8,894.9 1331.3,894.9 1333.8,894.9 1336.3,894.9 1338.8,894.9 1341.3,894.9 1343.8,894.8 1346.3,894.8 1348.8,894.8 1351.3,894.8 1353.8,894.8 1356.3,894.8 1358.8,894.8 1361.3,894.8 1363.8,894.8 1366.3,894.7 1368.8,894.7 1371.3,894.7 1373.8,894.7 1376.3,894.7 1378.8,894.7 1381.3,894.6 1383.8,894.6 1386.3,894.6 1388.8,894.6 1391.3,894.5 1393.8,894.5 1396.3,894.5 1398.8,894.4 1401.3,894.4 1403.8,894.3 1406.3,894.3 1408.8,894.2 1411.3,894.2 1413.8,894.1 1416.3,894 1418.8,893.9 1421.3,893.8 1423.8,893.6 1426.3,893.4 1428.8,893.2 1431.3,893 1433.8,892.7 1436.3,892.3 1438.8,891.9 1441.3,891.4 1443.8,890.7 1446.3,890 1448.8,889.1 1451.3,888.1 1453.8,886.9 1456.3,885.6 1458.8,884 1461.3,882.1 1463.8,880 1466.3,877.6 1468.8,874.9 1471.3,871.9 1473.8,868.6 1476.3,864.9 1478.8,860.8 1481.3,856.3 1483.8,851.5 1486.3,846.2 1488.8,840.6 1491.3,834.7 1493.8,828.4 1496.3,821.9 1498.8,815.2 1501.3,808.3 1503.8,801.3 1506.3,794.2 1508.8,787.3 1511.3,780.5 1513.8,773.9 1516.3,767.7 1518.8,761.9 1521.3,756.6 1523.8,752 1526.3,748.1 1528.8,745 1531.3,742.8 1533.8,741.4 1536.3,741 1538.8,741.5 1541.3,743 1543.8,745.4 1546.3,748.7 1548.8,752.7 1551.3,757.5 1553.8,762.9 1556.3,768.8 1558.8,775.2 1561.3,781.9 1563.8,788.8 1566.3,795.9 1568.8,803.1 1571.3,810.3 1573.8,817.3 1576.3,824.3 1578.8,830.9 1581.3,837.4 1583.8,843.5 1586.3,849.2 1588.8,854.6 1591.3,859.6 1593.8,864.3 1596.3,868.5 1598.8,872.4 1601.3,875.8 1603.8,878.9 1606.3,881.6 1608.8,884 1611.3,886.1 1613.8,888 1616.3,889.6 1618.8,891 1621.3,892.2 1623.8,893.2 1626.3,894.1 1628.8,894.8 1631.3,895.5 1633.8,896 1636.3,896.4 1638.8,896.8 1641.3,897.1 1643.8,897.4 1646.3,897.6 1648.8,897.8 1651.3,898 1653.8,898.1 1656.3,898.2 1658.8,898.3 1661.3,898.4 1663.8,898.5 1666.3,898.6 1668.8,898.6 1671.3,898.7 1673.8,898.7 1676.3,898.8 1678.8,898.8 1681.3,898.9 1683.8,898.9 1686.3,898.9 1688.8,899 1691.3,899 1693.8,899 1696.3,899.1 1698.8,899.1 1701.3,899.1 1703.8,899.2 1706.3,899.2 1708.8,899.2 1711.3,899.2 1713.8,899.3 1716.3,899.3 1718.8,899.3 1721.3,899.3 1723.8,899.3 1726.3,899.4 1728.8,899.4 1731.3,899.4 1733.8,899.4 1736.3,899.4 1738.8,899.4 1741.3,899.5 1742.6,899.5 1742.6,900.3 1741.3,900.3 1738.8,900.3 1736.3,900.3 1733.8,900.3 1731.3,900.3 1728.8,900.3 1726.3,900.3 1723.8,900.3 1721.3,900.3 1718.8,900.3 1716.3,900.3 1713.8,900.3 1711.3,900.3 1708.8,900.3 1706.3,900.2 1703.8,900.2 1701.3,900.2 1698.8,900.2 1696.3,900.2 1693.8,900.2 1691.3,900.2 1688.8,900.2 1686.3,900.2 1683.8,900.2 1681.3,900.2 1678.8,900.2 1676.3,900.2 1673.8,900.2 1671.3,900.2 1668.8,900.2 1666.3,900.2 1663.8,900.2 1661.3,900.2 1658.8,900.2 1656.3,900.2 1653.8,900.2 1651.3,900.2 1648.8,900.2 1646.3,900.2 1643.8,900.2 1641.3,900.2 1638.8,900.2 1636.3,900.2 1633.8,900.1 1631.3,900.1 1628.8,900.1 1626.3,900.1 1623.8,900.1 1621.3,900.1 1618.8,900.1 1616.3,900.1 1613.8,900.1 1611.3,900.1 1608.8,900.1 1606.3,900.1 1603.8,900.1 1601.3,900.1 1598.8,900.1 1596.3,900 1593.8,899.9 1591.3,899.8 1588.8,899.7 1586.3,899.7 1583.8,899.6 1581.3,899.5 1578.8,899.4 1576.3,899.4 1573.8,899.3 1571.3,899.2 1568.8,899.1 1566.3,899 1563.8,899 1561.3,898.9 1558.8,898.8 1556.3,898.7 1553.8,898.7 1551.3,898.6 1548.8,898.5 1546.3,898.4 1543.8,898.3 1541.3,898.3 1538.8,898.2 1536.3,898.1 1533.8,898 1531.3,898 1528.8,897.9 1526.3,897.8 1523.8,897.7 1521.3,897.7 1518.8,897.6 1516.3,897.5 1513.8,897.4 1511.3,897.4 1508.8,897.3 1506.3,897.2 1503.8,897.1 1501.3,897 1498.8,897 1496.3,896.9 1493.8,896.8 1491.3,896.7 1488.8,896.7 1486.3,896.6 1483.8,896.5 1481.3,896.4 1478.8,896.4 1476.3,896.3 1473.8,896.2 1471.3,896.1 1468.8,896.1 1466.3,896.1 1463.8,896.1 1461.3,896.1 1458.8,896.1 1456.3,896.1 1453.8,896.1 1451.3,896 1448.8,896 1446.3,896 1443.8,896 1441.3,896 1438.8,896 1436.3,896 1433.8,896 1431.3,896 1428.8,896 1426.3,896 1423.8,896 1421.3,896 1418.8,896 1416.3,895.9 1413.8,895.9 1411.3,895.9 1408.8,895.9 1406.3,895.9 1403.8,895.9 1401.3,895.9 1398.8,895.9 1396.3,895.9 1393.8,895.9 1391.3,895.9 1388.8,895.9 1386.3,895.9 1383.8,895.9 1381.3,895.9 1378.8,895.8 1376.3,895.8 1373.8,895.8 1371.3,895.8 1368.8,895.8 1366.3,895.8 1363.8,895.8 1361.3,895.8 1358.8,895.8 1356.3,895.8 1353.8,895.8 1351.3,895.8 1348.8,895.8 1346.3,895.8 1343.8,895.8 1341.3,895.7 1338.8,895.7 1336.3,895.7 1333.8,895.7 1331.3,895.7 1328.8,895.7 1326.3,895.7 1323.8,895.7 1321.3,895.7 1318.8,895.7 1316.3,895.7 1313.8,895.7 1311.3,895.7 1308.8,895.7 1306.3,895.7 1303.8,895.6 1301.3,895.6 1298.8,895.6 1296.3,895.6 1293.8,895.6 1291.3,895.6 1288.8,895.6 1286.3,895.6 1283.8,895.6 1281.3,895.6" fill="url(#g14)" fill-opacity="0.92"/><polyline points="1031.3,890.9 1033.8,890.9 1036.3,890.9 1038.8,890.9 1041.3,890.9 1043.8,890.9 1046.3,891 1048.8,891 1051.3,891 1053.8,891 1056.3,891 1058.8,891 1061.3,891 1063.8,891 1066.3,891 1068.8,891 1071.3,891 1073.8,891 1076.3,891 1078.8,891.1 1081.3,891.1 1083.8,891.1 1086.3,891.1 1088.8,891.1 1091.3,891.1 1093.8,891.1 1096.3,891.1 1098.8,891.1 1101.3,891.1 1103.8,891.1 1106.3,891.1 1108.8,891.1 1111.3,891.1 1113.8,891.1 1116.3,891.2 1118.8,891.2 1121.3,891.2 1123.8,891.3 1126.3,891.4 1128.8,891.4 1131.3,891.5 1133.8,891.6 1136.3,891.7 1138.8,891.7 1141.3,891.8 1143.8,891.9 1146.3,892 1148.8,892 1151.3,892.1 1153.8,892.2 1156.3,892.3 1158.8,892.3 1161.3,892.4 1163.8,892.5 1166.3,892.6 1168.8,892.6 1171.3,892.7 1173.8,892.8 1176.3,892.9 1178.8,892.9 1181.3,893 1183.8,893.1 1186.3,893.1 1188.8,893.2 1191.3,893.3 1193.8,893.4 1196.3,893.4 1198.8,893.5 1201.3,893.6 1203.8,893.6 1206.3,893.7 1208.8,893.8 1211.3,893.9 1213.8,893.9 1216.3,894 1218.8,894.1 1221.3,894.1 1223.8,894.2 1226.3,894.3 1228.8,894.3 1231.3,894.4 1233.8,894.5 1236.3,894.5 1238.8,894.6 1241.3,894.7 1243.8,894.7 1246.3,894.8 1248.8,894.9 1251.3,894.9 1253.8,894.9 1256.3,894.9 1258.8,894.9 1261.3,894.9 1263.8,894.9 1266.3,894.9 1268.8,894.9 1271.3,894.9 1273.8,894.9 1276.3,894.9 1278.8,894.9 1281.3,894.9 1283.8,894.9 1286.3,894.9 1288.8,894.9 1291.3,894.9 1293.8,894.9 1296.3,894.9 1298.8,894.9 1301.3,894.9 1303.8,894.9 1306.3,894.9 1308.8,894.9 1311.3,894.9 1313.8,894.9 1316.3,894.9 1318.8,894.9 1321.3,894.9 1323.8,894.9 1326.3,894.9 1328.8,894.9 1331.3,894.9 1333.8,894.9 1336.3,894.9 1338.8,894.9 1341.3,894.9 1343.8,894.8 1346.3,894.8 1348.8,894.8 1351.3,894.8 1353.8,894.8 1356.3,894.8 1358.8,894.8 1361.3,894.8 1363.8,894.8 1366.3,894.7 1368.8,894.7 1371.3,894.7 1373.8,894.7 1376.3,894.7 1378.8,894.7 1381.3,894.6 1383.8,894.6 1386.3,894.6 1388.8,894.6 1391.3,894.5 1393.8,894.5 1396.3,894.5 1398.8,894.4 1401.3,894.4 1403.8,894.3 1406.3,894.3 1408.8,894.2 1411.3,894.2 1413.8,894.1 1416.3,894 1418.8,893.9 1421.3,893.8 1423.8,893.6 1426.3,893.4 1428.8,893.2 1431.3,893 1433.8,892.7 1436.3,892.3 1438.8,891.9 1441.3,891.4 1443.8,890.7 1446.3,890 1448.8,889.1 1451.3,888.1 1453.8,886.9 1456.3,885.6 1458.8,884 1461.3,882.1 1463.8,880 1466.3,877.6 1468.8,874.9 1471.3,871.9 1473.8,868.6 1476.3,864.9 1478.8,860.8 1481.3,856.3 1483.8,851.5 1486.3,846.2 1488.8,840.6 1491.3,834.7 1493.8,828.4 1496.3,821.9 1498.8,815.2 1501.3,808.3 1503.8,801.3 1506.3,794.2 1508.8,787.3 1511.3,780.5 1513.8,773.9 1516.3,767.7 1518.8,761.9 1521.3,756.6 1523.8,752 1526.3,748.1 1528.8,745 1531.3,742.8 1533.8,741.4 1536.3,741 1538.8,741.5 1541.3,743 1543.8,745.4 1546.3,748.7 1548.8,752.7 1551.3,757.5 1553.8,762.9 1556.3,768.8 1558.8,775.2 1561.3,781.9 1563.8,788.8 1566.3,795.9 1568.8,803.1 1571.3,810.3 1573.8,817.3 1576.3,824.3 1578.8,830.9 1581.3,837.4 1583.8,843.5 1586.3,849.2 1588.8,854.6 1591.3,859.6 1593.8,864.3 1596.3,868.5 1598.8,872.4 1601.3,875.8 1603.8,878.9 1606.3,881.6 1608.8,884 1611.3,886.1 1613.8,888 1616.3,889.6 1618.8,891 1621.3,892.2 1623.8,893.2 1626.3,894.1 1628.8,894.8 1631.3,895.5 1633.8,896 1636.3,896.4 1638.8,896.8 1641.3,897.1 1643.8,897.4 1646.3,897.6 1648.8,897.8 1651.3,898 1653.8,898.1 1656.3,898.2 1658.8,898.3 1661.3,898.4 1663.8,898.5 1666.3,898.6 1668.8,898.6 1671.3,898.7 1673.8,898.7 1676.3,898.8 1678.8,898.8 1681.3,898.9 1683.8,898.9 1686.3,898.9 1688.8,899 1691.3,899 1693.8,899 1696.3,899.1 1698.8,899.1 1701.3,899.1 1703.8,899.2 1706.3,899.2 1708.8,899.2 1711.3,899.2 1713.8,899.3 1716.3,899.3 1718.8,899.3 1721.3,899.3 1723.8,899.3 1726.3,899.4 1728.8,899.4 1731.3,899.4 1733.8,899.4 1736.3,899.4 1738.8,899.4 1741.3,899.5 1742.6,899.5" fill="none" stroke="#cfe9ec" stroke-width="1.8"/><polyline points="1032.6,891 1120,891.3 1185,893.3 1250,895.2 1400,895.6 1470,895.8 1536,897.8 1600,899.8 1741.3,900" fill="none" stroke="#1f63d4" stroke-width="2.3"/><path d="M1185.4 770.9V881.5" stroke="#ee1c25" stroke-width="2.8" stroke-dasharray="12.5 11" fill="none"/><path d="M1536.3 721.2V894.7" stroke="#ee1c25" stroke-width="2.8" stroke-dasharray="12.5 11" fill="none"/></g>
<g clip-path="url(#c18)"><use href="#m" x="1034.3" y="1145.6"/><use href="#m" x="1040.2" y="1145.5"/><use href="#m" x="1046.1" y="1145.4"/><use href="#m" x="1052" y="1145.4"/><use href="#m" x="1058" y="1145.2"/><use href="#m" x="1063.9" y="1145"/><use href="#m" x="1069.8" y="1144.7"/><use href="#m" x="1075.8" y="1144.3"/><use href="#m" x="1081.7" y="1143.6"/><use href="#m" x="1087.6" y="1142.5"/><use href="#m" x="1093.5" y="1140.7"/><use href="#m" x="1099.5" y="1138.1"/><use href="#m" x="1105.4" y="1134.3"/><use href="#m" x="1111.3" y="1129.1"/><use href="#m" x="1117.2" y="1122.3"/><use href="#m" x="1123.2" y="1113.3"/><use href="#m" x="1129.1" y="1102.3"/><use href="#m" x="1135" y="1089.3"/><use href="#m" x="1141" y="1074.9"/><use href="#m" x="1146.9" y="1059.8"/><use href="#m" x="1152.8" y="1045.1"/><use href="#m" x="1158.7" y="1032.1"/><use href="#m" x="1164.7" y="1022.2"/><use href="#m" x="1170.6" y="1016.4"/><use href="#m" x="1176.5" y="1015.6"/><use href="#m" x="1182.5" y="1019.9"/><use href="#m" x="1188.4" y="1028.8"/><use href="#m" x="1194.3" y="1041.2"/><use href="#m" x="1200.2" y="1055.9"/><use href="#m" x="1206.2" y="1071.4"/><use href="#m" x="1212.1" y="1086.7"/><use href="#m" x="1218" y="1100.8"/><use href="#m" x="1223.9" y="1113.1"/><use href="#m" x="1229.9" y="1123.4"/><use href="#m" x="1235.8" y="1131.5"/><use href="#m" x="1241.7" y="1137.7"/><use href="#m" x="1247.7" y="1142"/><use href="#m" x="1253.6" y="1145.1"/><use href="#m" x="1259.5" y="1147.1"/><use href="#m" x="1265.4" y="1148.5"/><use href="#m" x="1271.4" y="1149.4"/><use href="#m" x="1277.3" y="1149.9"/><use href="#m" x="1283.2" y="1150.3"/><use href="#m" x="1289.1" y="1150.5"/><use href="#m" x="1295.1" y="1150.7"/><use href="#m" x="1301" y="1150.8"/><use href="#m" x="1306.9" y="1150.9"/><use href="#m" x="1312.9" y="1150.9"/><use href="#m" x="1318.8" y="1151"/><use href="#m" x="1324.7" y="1151"/><use href="#m" x="1330.6" y="1151"/><use href="#m" x="1336.6" y="1151.1"/><use href="#m" x="1342.5" y="1151.1"/><use href="#m" x="1348.4" y="1151.1"/><use href="#m" x="1354.3" y="1151.1"/><use href="#m" x="1360.3" y="1151"/><use href="#m" x="1366.2" y="1151"/><use href="#m" x="1372.1" y="1151"/><use href="#m" x="1378.1" y="1151"/><use href="#m" x="1384" y="1150.9"/><use href="#m" x="1389.9" y="1150.8"/><use href="#m" x="1395.8" y="1150.7"/><use href="#m" x="1401.8" y="1150.6"/><use href="#m" x="1407.7" y="1150.5"/><use href="#m" x="1413.6" y="1150.3"/><use href="#m" x="1419.6" y="1150"/><use href="#m" x="1425.5" y="1149.5"/><use href="#m" x="1431.4" y="1148.7"/><use href="#m" x="1437.3" y="1147.5"/><use href="#m" x="1443.3" y="1145.6"/><use href="#m" x="1449.2" y="1142.8"/><use href="#m" x="1455.1" y="1138.6"/><use href="#m" x="1461" y="1132.6"/><use href="#m" x="1467" y="1124.5"/><use href="#m" x="1472.9" y="1113.9"/><use href="#m" x="1478.8" y="1100.5"/><use href="#m" x="1484.8" y="1084.1"/><use href="#m" x="1490.7" y="1065.3"/><use href="#m" x="1496.6" y="1044.5"/><use href="#m" x="1502.5" y="1023.1"/><use href="#m" x="1508.5" y="1002.4"/><use href="#m" x="1514.4" y="984.2"/><use href="#m" x="1520.3" y="970.3"/><use href="#m" x="1526.2" y="962.2"/><use href="#m" x="1532.2" y="961.1"/><use href="#m" x="1538.1" y="967.1"/><use href="#m" x="1544" y="979.5"/><use href="#m" x="1550" y="996.8"/><use href="#m" x="1555.9" y="1017.4"/><use href="#m" x="1561.8" y="1039.3"/><use href="#m" x="1567.7" y="1061.1"/><use href="#m" x="1573.7" y="1081.5"/><use href="#m" x="1579.6" y="1099.5"/><use href="#m" x="1585.5" y="1114.8"/><use href="#m" x="1591.4" y="1127.1"/><use href="#m" x="1597.4" y="1136.8"/><use href="#m" x="1603.3" y="1143.8"/><use href="#m" x="1609.2" y="1148.7"/><use href="#m" x="1615.2" y="1152.1"/><use href="#m" x="1621.1" y="1154.4"/><use href="#m" x="1627" y="1155.9"/><use href="#m" x="1632.9" y="1156.9"/><use href="#m" x="1638.9" y="1157.5"/><use href="#m" x="1644.8" y="1157.9"/><use href="#m" x="1650.7" y="1158.3"/><use href="#m" x="1656.7" y="1158.5"/><use href="#m" x="1662.6" y="1158.7"/><use href="#m" x="1668.5" y="1158.8"/><use href="#m" x="1674.4" y="1158.9"/><use href="#m" x="1680.4" y="1159"/><use href="#m" x="1686.3" y="1159.1"/><use href="#m" x="1692.2" y="1159.2"/><use href="#m" x="1698.1" y="1159.3"/><use href="#m" x="1704.1" y="1159.4"/><use href="#m" x="1710" y="1159.5"/><use href="#m" x="1715.9" y="1159.5"/><use href="#m" x="1721.9" y="1159.6"/><use href="#m" x="1727.8" y="1159.6"/><use href="#m" x="1733.7" y="1159.7"/><use href="#m" x="1739.6" y="1159.7"/><use href="#m" x="1745.6" y="1159.8"/><polygon points="1031.3,1145.7 1033.8,1145.7 1036.3,1145.7 1038.8,1145.6 1041.3,1145.6 1043.8,1145.6 1046.3,1145.6 1048.8,1145.5 1051.3,1145.5 1053.8,1145.4 1056.3,1145.4 1058.8,1145.3 1061.3,1145.2 1063.8,1145.2 1066.3,1145.1 1068.8,1144.9 1071.3,1144.8 1073.8,1144.6 1076.3,1144.4 1078.8,1144.1 1081.3,1143.8 1083.8,1143.4 1086.3,1142.9 1088.8,1142.3 1091.3,1141.6 1093.8,1140.8 1096.3,1139.8 1098.8,1138.6 1101.3,1137.2 1103.8,1135.6 1106.3,1133.8 1108.8,1131.7 1111.3,1129.3 1113.8,1126.6 1116.3,1123.6 1118.8,1120.3 1121.3,1116.5 1123.8,1112.4 1126.3,1107.9 1128.8,1103.1 1131.3,1097.9 1133.8,1092.4 1136.3,1086.5 1138.8,1080.5 1141.3,1074.2 1143.8,1067.9 1146.3,1061.5 1148.8,1055.2 1151.3,1049 1153.8,1043 1156.3,1037.4 1158.8,1032.2 1161.3,1027.6 1163.8,1023.6 1166.3,1020.3 1168.8,1017.8 1171.3,1016.2 1173.8,1015.5 1176.3,1015.7 1178.8,1016.9 1181.3,1018.9 1183.8,1021.8 1186.3,1025.4 1188.8,1029.8 1191.3,1034.8 1193.8,1040.3 1196.3,1046.2 1198.8,1052.5 1201.3,1058.9 1203.8,1065.5 1206.3,1072.1 1208.8,1078.6 1211.3,1085 1213.8,1091.2 1216.3,1097.2 1218.8,1102.8 1221.3,1108.2 1223.8,1113.2 1226.3,1117.8 1228.8,1122 1231.3,1125.8 1233.8,1129.3 1236.3,1132.4 1238.8,1135.2 1241.3,1137.6 1243.8,1139.7 1246.3,1141.5 1248.8,1143 1251.3,1144.4 1253.8,1145.5 1256.3,1146.5 1258.8,1147.3 1261.3,1148 1263.8,1148.5 1266.3,1149 1268.8,1149.4 1271.3,1149.7 1273.8,1150 1276.3,1150.3 1278.8,1150.4 1281.3,1150.6 1283.8,1150.7 1286.3,1150.8 1288.8,1150.9 1291.3,1151 1293.8,1151.1 1296.3,1151.2 1298.8,1151.2 1301.3,1151.3 1303.8,1151.3 1306.3,1151.4 1308.8,1151.4 1311.3,1151.4 1313.8,1151.5 1316.3,1151.5 1318.8,1151.6 1321.3,1151.6 1323.8,1151.6 1326.3,1151.6 1328.8,1151.7 1331.3,1151.7 1333.8,1151.7 1336.3,1151.7 1338.8,1151.8 1341.3,1151.8 1343.8,1151.8 1346.3,1151.8 1348.8,1151.8 1351.3,1151.9 1353.8,1151.9 1356.3,1151.9 1358.8,1151.9 1361.3,1151.9 1363.8,1152 1366.3,1152 1368.8,1152 1371.3,1152 1373.8,1152 1376.3,1152 1378.8,1152.1 1381.3,1152.1 1383.8,1152.1 1386.3,1152.1 1388.8,1152.1 1391.3,1152.1 1393.8,1152.1 1393.8,1152.8 1391.3,1152.8 1388.8,1152.8 1386.3,1152.8 1383.8,1152.8 1381.3,1152.8 1378.8,1152.8 1376.3,1152.8 1373.8,1152.8 1371.3,1152.7 1368.8,1152.7 1366.3,1152.7 1363.8,1152.7 1361.3,1152.7 1358.8,1152.7 1356.3,1152.7 1353.8,1152.7 1351.3,1152.7 1348.8,1152.7 1346.3,1152.7 1343.8,1152.7 1341.3,1152.7 1338.8,1152.7 1336.3,1152.7 1333.8,1152.7 1331.3,1152.7 1328.8,1152.7 1326.3,1152.7 1323.8,1152.7 1321.3,1152.7 1318.8,1152.6 1316.3,1152.6 1313.8,1152.6 1311.3,1152.6 1308.8,1152.6 1306.3,1152.6 1303.8,1152.6 1301.3,1152.6 1298.8,1152.6 1296.3,1152.6 1293.8,1152.6 1291.3,1152.6 1288.8,1152.6 1286.3,1152.6 1283.8,1152.6 1281.3,1152.6 1278.8,1152.6 1276.3,1152.6 1273.8,1152.6 1271.3,1152.6 1268.8,1152.6 1266.3,1152.5 1263.8,1152.5 1261.3,1152.5 1258.8,1152.5 1256.3,1152.5 1253.8,1152.5 1251.3,1152.5 1248.8,1152.5 1246.3,1152.5 1243.8,1152.5 1241.3,1152.5 1238.8,1152.5 1236.3,1152.4 1233.8,1152.3 1231.3,1152.2 1228.8,1152.1 1226.3,1152 1223.8,1151.9 1221.3,1151.8 1218.8,1151.7 1216.3,1151.6 1213.8,1151.5 1211.3,1151.4 1208.8,1151.3 1206.3,1151.2 1203.8,1151.1 1201.3,1151 1198.8,1150.9 1196.3,1150.8 1193.8,1150.7 1191.3,1150.6 1188.8,1150.5 1186.3,1150.4 1183.8,1150.4 1181.3,1150.3 1178.8,1150.2 1176.3,1150.1 1173.8,1150 1171.3,1149.9 1168.8,1149.7 1166.3,1149.6 1163.8,1149.5 1161.3,1149.4 1158.8,1149.3 1156.3,1149.2 1153.8,1149.1 1151.3,1149 1148.8,1148.8 1146.3,1148.7 1143.8,1148.6 1141.3,1148.5 1138.8,1148.4 1136.3,1148.3 1133.8,1148.2 1131.3,1148.1 1128.8,1147.9 1126.3,1147.8 1123.8,1147.7 1121.3,1147.6 1118.8,1147.5 1116.3,1147.4 1113.8,1147.3 1111.3,1147.2 1108.8,1147.1 1106.3,1147.1 1103.8,1147.1 1101.3,1147.1 1098.8,1147.1 1096.3,1147 1093.8,1147 1091.3,1147 1088.8,1147 1086.3,1147 1083.8,1147 1081.3,1147 1078.8,1147 1076.3,1147 1073.8,1147 1071.3,1147 1068.8,1146.9 1066.3,1146.9 1063.8,1146.9 1061.3,1146.9 1058.8,1146.9 1056.3,1146.9 1053.8,1146.9 1051.3,1146.9 1048.8,1146.9 1046.3,1146.9 1043.8,1146.8 1041.3,1146.8 1038.8,1146.8 1036.3,1146.8 1033.8,1146.8 1031.3,1146.8" fill="url(#g16)" fill-opacity="0.95"/><polyline points="1031.3,1145.7 1033.8,1145.7 1036.3,1145.7 1038.8,1145.6 1041.3,1145.6 1043.8,1145.6 1046.3,1145.6 1048.8,1145.5 1051.3,1145.5 1053.8,1145.4 1056.3,1145.4 1058.8,1145.3 1061.3,1145.2 1063.8,1145.2 1066.3,1145.1 1068.8,1144.9 1071.3,1144.8 1073.8,1144.6 1076.3,1144.4 1078.8,1144.1 1081.3,1143.8 1083.8,1143.4 1086.3,1142.9 1088.8,1142.3 1091.3,1141.6 1093.8,1140.8 1096.3,1139.8 1098.8,1138.6 1101.3,1137.2 1103.8,1135.6 1106.3,1133.8 1108.8,1131.7 1111.3,1129.3 1113.8,1126.6 1116.3,1123.6 1118.8,1120.3 1121.3,1116.5 1123.8,1112.4 1126.3,1107.9 1128.8,1103.1 1131.3,1097.9 1133.8,1092.4 1136.3,1086.5 1138.8,1080.5 1141.3,1074.2 1143.8,1067.9 1146.3,1061.5 1148.8,1055.2 1151.3,1049 1153.8,1043 1156.3,1037.4 1158.8,1032.2 1161.3,1027.6 1163.8,1023.6 1166.3,1020.3 1168.8,1017.8 1171.3,1016.2 1173.8,1015.5 1176.3,1015.7 1178.8,1016.9 1181.3,1018.9 1183.8,1021.8 1186.3,1025.4 1188.8,1029.8 1191.3,1034.8 1193.8,1040.3 1196.3,1046.2 1198.8,1052.5 1201.3,1058.9 1203.8,1065.5 1206.3,1072.1 1208.8,1078.6 1211.3,1085 1213.8,1091.2 1216.3,1097.2 1218.8,1102.8 1221.3,1108.2 1223.8,1113.2 1226.3,1117.8 1228.8,1122 1231.3,1125.8 1233.8,1129.3 1236.3,1132.4 1238.8,1135.2 1241.3,1137.6 1243.8,1139.7 1246.3,1141.5 1248.8,1143 1251.3,1144.4 1253.8,1145.5 1256.3,1146.5 1258.8,1147.3 1261.3,1148 1263.8,1148.5 1266.3,1149 1268.8,1149.4 1271.3,1149.7 1273.8,1150 1276.3,1150.3 1278.8,1150.4 1281.3,1150.6 1283.8,1150.7 1286.3,1150.8 1288.8,1150.9 1291.3,1151 1293.8,1151.1 1296.3,1151.2 1298.8,1151.2 1301.3,1151.3 1303.8,1151.3 1306.3,1151.4 1308.8,1151.4 1311.3,1151.4 1313.8,1151.5 1316.3,1151.5 1318.8,1151.6 1321.3,1151.6 1323.8,1151.6 1326.3,1151.6 1328.8,1151.7 1331.3,1151.7 1333.8,1151.7 1336.3,1151.7 1338.8,1151.8 1341.3,1151.8 1343.8,1151.8 1346.3,1151.8 1348.8,1151.8 1351.3,1151.9 1353.8,1151.9 1356.3,1151.9 1358.8,1151.9 1361.3,1151.9 1363.8,1152 1366.3,1152 1368.8,1152 1371.3,1152 1373.8,1152 1376.3,1152 1378.8,1152.1 1381.3,1152.1 1383.8,1152.1 1386.3,1152.1 1388.8,1152.1 1391.3,1152.1 1393.8,1152.1 1396.3,1152.1 1398.8,1152.2 1401.3,1152.2 1403.8,1152.2 1406.3,1152.2 1408.8,1152.2 1411.3,1152.2 1413.8,1152.3 1416.3,1152.3 1418.8,1152.3 1421.3,1152.3 1423.8,1152.3 1426.3,1152.3 1428.8,1152.4 1431.3,1152.4 1433.8,1152.4 1436.3,1152.4 1438.8,1152.4 1441.3,1152.4 1443.8,1152.5 1446.3,1152.5 1448.8,1152.5 1451.3,1152.5 1453.8,1152.5 1456.3,1152.5 1458.8,1152.6 1461.3,1152.6 1463.8,1152.6 1466.3,1152.6 1468.8,1152.7 1471.3,1152.8 1473.8,1152.9 1476.3,1153 1478.8,1153.1 1481.3,1153.2 1483.8,1153.3 1486.3,1153.4 1488.8,1153.5 1491.3,1153.6 1493.8,1153.7 1496.3,1153.8 1498.8,1153.9 1501.3,1154 1503.8,1154.1 1506.3,1154.2 1508.8,1154.3 1511.3,1154.4 1513.8,1154.5 1516.3,1154.5 1518.8,1154.6 1521.3,1154.7 1523.8,1154.8 1526.3,1154.9 1528.8,1155 1531.3,1155.2 1533.8,1155.3 1536.3,1155.5 1538.8,1155.7 1541.3,1155.8 1543.8,1156 1546.3,1156.2 1548.8,1156.4 1551.3,1156.5 1553.8,1156.7 1556.3,1156.9 1558.8,1157.1 1561.3,1157.2 1563.8,1157.4 1566.3,1157.6 1568.8,1157.7 1571.3,1157.9 1573.8,1158.1 1576.3,1158.3 1578.8,1158.4 1581.3,1158.6 1583.8,1158.8 1586.3,1159 1588.8,1159.1 1591.3,1159.3 1593.8,1159.5 1596.3,1159.6 1598.8,1159.8 1601.3,1159.9 1603.8,1159.9 1606.3,1159.9 1608.8,1159.9 1611.3,1159.9 1613.8,1159.9 1616.3,1160 1618.8,1160 1621.3,1160 1623.8,1160 1626.3,1160 1628.8,1160 1631.3,1160 1633.8,1160 1636.3,1160 1638.8,1160 1641.3,1160 1643.8,1160 1646.3,1160.1 1648.8,1160.1 1651.3,1160.1 1653.8,1160.1 1656.3,1160.1 1658.8,1160.1 1661.3,1160.1 1663.8,1160.1 1666.3,1160.1 1668.8,1160.1 1671.3,1160.1 1673.8,1160.1 1676.3,1160.1 1678.8,1160.2 1681.3,1160.2 1683.8,1160.2 1686.3,1160.2 1688.8,1160.2 1691.3,1160.2 1693.8,1160.2 1696.3,1160.2 1698.8,1160.2 1701.3,1160.2 1703.8,1160.2 1706.3,1160.2 1708.8,1160.2 1711.3,1160.3 1713.8,1160.3 1716.3,1160.3 1718.8,1160.3 1721.3,1160.3 1723.8,1160.3 1726.3,1160.3 1728.8,1160.3 1731.3,1160.3 1733.8,1160.3 1736.3,1160.3 1738.8,1160.3 1741.3,1160.3 1742.6,1160.3" fill="none" stroke="#3d5a6e" stroke-width="1.2"/><polygon points="1256.3,1151.9 1258.8,1151.9 1261.3,1151.9 1263.8,1151.9 1266.3,1151.9 1268.8,1151.9 1271.3,1151.9 1273.8,1151.9 1276.3,1151.9 1278.8,1151.9 1281.3,1151.9 1283.8,1151.9 1286.3,1151.8 1288.8,1151.8 1291.3,1151.8 1293.8,1151.8 1296.3,1151.8 1298.8,1151.8 1301.3,1151.8 1303.8,1151.8 1306.3,1151.8 1308.8,1151.8 1311.3,1151.8 1313.8,1151.8 1316.3,1151.8 1318.8,1151.8 1321.3,1151.8 1323.8,1151.7 1326.3,1151.7 1328.8,1151.7 1331.3,1151.7 1333.8,1151.7 1336.3,1151.7 1338.8,1151.7 1341.3,1151.7 1343.8,1151.7 1346.3,1151.6 1348.8,1151.6 1351.3,1151.6 1353.8,1151.6 1356.3,1151.6 1358.8,1151.6 1361.3,1151.5 1363.8,1151.5 1366.3,1151.5 1368.8,1151.5 1371.3,1151.4 1373.8,1151.4 1376.3,1151.4 1378.8,1151.4 1381.3,1151.3 1383.8,1151.3 1386.3,1151.3 1388.8,1151.2 1391.3,1151.2 1393.8,1151.1 1396.3,1151.1 1398.8,1151 1401.3,1151 1403.8,1150.9 1406.3,1150.9 1408.8,1150.8 1411.3,1150.7 1413.8,1150.6 1416.3,1150.5 1418.8,1150.3 1421.3,1150.1 1423.8,1149.9 1426.3,1149.7 1428.8,1149.4 1431.3,1149 1433.8,1148.5 1436.3,1148 1438.8,1147.3 1441.3,1146.6 1443.8,1145.6 1446.3,1144.5 1448.8,1143.2 1451.3,1141.7 1453.8,1139.9 1456.3,1137.7 1458.8,1135.3 1461.3,1132.5 1463.8,1129.3 1466.3,1125.7 1468.8,1121.7 1471.3,1117.2 1473.8,1112.2 1476.3,1106.7 1478.8,1100.7 1481.3,1094.2 1483.8,1087.1 1486.3,1079.6 1488.8,1071.7 1491.3,1063.3 1493.8,1054.7 1496.3,1045.8 1498.8,1036.8 1501.3,1027.7 1503.8,1018.7 1506.3,1009.9 1508.8,1001.4 1511.3,993.4 1513.8,986 1516.3,979.3 1518.8,973.5 1521.3,968.7 1523.8,964.9 1526.3,962.3 1528.8,961 1531.3,960.9 1533.8,962.2 1536.3,964.7 1538.8,968.4 1541.3,973.2 1543.8,979.1 1546.3,985.8 1548.8,993.3 1551.3,1001.4 1553.8,1010 1556.3,1019 1558.8,1028.2 1561.3,1037.5 1563.8,1046.9 1566.3,1056.1 1568.8,1065 1571.3,1073.7 1573.8,1082.1 1576.3,1090 1578.8,1097.4 1581.3,1104.3 1583.8,1110.8 1586.3,1116.7 1588.8,1122.1 1591.3,1127 1593.8,1131.4 1596.3,1135.3 1598.8,1138.8 1601.3,1141.8 1603.8,1144.4 1606.3,1146.6 1608.8,1148.5 1611.3,1150.1 1613.8,1151.5 1616.3,1152.7 1618.8,1153.7 1621.3,1154.5 1623.8,1155.2 1626.3,1155.8 1628.8,1156.3 1631.3,1156.7 1633.8,1157.1 1636.3,1157.3 1638.8,1157.6 1641.3,1157.8 1643.8,1158 1646.3,1158.1 1648.8,1158.2 1651.3,1158.4 1653.8,1158.5 1656.3,1158.5 1658.8,1158.6 1661.3,1158.7 1663.8,1158.8 1666.3,1158.8 1668.8,1158.9 1671.3,1158.9 1673.8,1159 1676.3,1159 1678.8,1159.1 1681.3,1159.1 1683.8,1159.2 1686.3,1159.2 1688.8,1159.2 1691.3,1159.3 1693.8,1159.3 1696.3,1159.3 1698.8,1159.4 1701.3,1159.4 1703.8,1159.4 1706.3,1159.5 1708.8,1159.5 1711.3,1159.5 1713.8,1159.6 1716.3,1159.6 1718.8,1159.6 1721.3,1159.6 1723.8,1159.7 1726.3,1159.7 1728.8,1159.7 1731.3,1159.7 1733.8,1159.7 1736.3,1159.8 1738.8,1159.8 1741.3,1159.8 1742.6,1159.8 1742.6,1160.7 1741.3,1160.7 1738.8,1160.7 1736.3,1160.7 1733.8,1160.7 1731.3,1160.7 1728.8,1160.7 1726.3,1160.7 1723.8,1160.6 1721.3,1160.6 1718.8,1160.6 1716.3,1160.6 1713.8,1160.6 1711.3,1160.6 1708.8,1160.6 1706.3,1160.6 1703.8,1160.6 1701.3,1160.6 1698.8,1160.6 1696.3,1160.6 1693.8,1160.6 1691.3,1160.6 1688.8,1160.6 1686.3,1160.5 1683.8,1160.5 1681.3,1160.5 1678.8,1160.5 1676.3,1160.5 1673.8,1160.5 1671.3,1160.5 1668.8,1160.5 1666.3,1160.5 1663.8,1160.5 1661.3,1160.5 1658.8,1160.5 1656.3,1160.5 1653.8,1160.5 1651.3,1160.4 1648.8,1160.4 1646.3,1160.4 1643.8,1160.4 1641.3,1160.4 1638.8,1160.4 1636.3,1160.4 1633.8,1160.4 1631.3,1160.4 1628.8,1160.4 1626.3,1160.4 1623.8,1160.4 1621.3,1160.4 1618.8,1160.4 1616.3,1160.3 1613.8,1160.3 1611.3,1160.3 1608.8,1160.3 1606.3,1160.3 1603.8,1160.3 1601.3,1160.3 1598.8,1160.2 1596.3,1160 1593.8,1159.9 1591.3,1159.7 1588.8,1159.5 1586.3,1159.4 1583.8,1159.2 1581.3,1159 1578.8,1158.8 1576.3,1158.7 1573.8,1158.5 1571.3,1158.3 1568.8,1158.2 1566.3,1158 1563.8,1157.8 1561.3,1157.6 1558.8,1157.5 1556.3,1157.3 1553.8,1157.1 1551.3,1157 1548.8,1156.8 1546.3,1156.6 1543.8,1156.4 1541.3,1156.3 1538.8,1156.1 1536.3,1155.9 1533.8,1155.8 1531.3,1155.6 1528.8,1155.5 1526.3,1155.4 1523.8,1155.3 1521.3,1155.2 1518.8,1155.1 1516.3,1155 1513.8,1154.9 1511.3,1154.8 1508.8,1154.7 1506.3,1154.6 1503.8,1154.5 1501.3,1154.4 1498.8,1154.3 1496.3,1154.3 1493.8,1154.2 1491.3,1154.1 1488.8,1154 1486.3,1153.9 1483.8,1153.8 1481.3,1153.7 1478.8,1153.6 1476.3,1153.5 1473.8,1153.4 1471.3,1153.3 1468.8,1153.2 1466.3,1153.1 1463.8,1153.1 1461.3,1153.1 1458.8,1153.1 1456.3,1153.1 1453.8,1153 1451.3,1153 1448.8,1153 1446.3,1153 1443.8,1153 1441.3,1153 1438.8,1153 1436.3,1153 1433.8,1153 1431.3,1152.9 1428.8,1152.9 1426.3,1152.9 1423.8,1152.9 1421.3,1152.9 1418.8,1152.9 1416.3,1152.9 1413.8,1152.9 1411.3,1152.9 1408.8,1152.8 1406.3,1152.8 1403.8,1152.8 1401.3,1152.8 1398.8,1152.8 1396.3,1152.8 1393.8,1152.8 1391.3,1152.8 1388.8,1152.8 1386.3,1152.8 1383.8,1152.8 1381.3,1152.8 1378.8,1152.8 1376.3,1152.8 1373.8,1152.8 1371.3,1152.7 1368.8,1152.7 1366.3,1152.7 1363.8,1152.7 1361.3,1152.7 1358.8,1152.7 1356.3,1152.7 1353.8,1152.7 1351.3,1152.7 1348.8,1152.7 1346.3,1152.7 1343.8,1152.7 1341.3,1152.7 1338.8,1152.7 1336.3,1152.7 1333.8,1152.7 1331.3,1152.7 1328.8,1152.7 1326.3,1152.7 1323.8,1152.7 1321.3,1152.7 1318.8,1152.6 1316.3,1152.6 1313.8,1152.6 1311.3,1152.6 1308.8,1152.6 1306.3,1152.6 1303.8,1152.6 1301.3,1152.6 1298.8,1152.6 1296.3,1152.6 1293.8,1152.6 1291.3,1152.6 1288.8,1152.6 1286.3,1152.6 1283.8,1152.6 1281.3,1152.6 1278.8,1152.6 1276.3,1152.6 1273.8,1152.6 1271.3,1152.6 1268.8,1152.6 1266.3,1152.5 1263.8,1152.5 1261.3,1152.5 1258.8,1152.5 1256.3,1152.5" fill="url(#g17)" fill-opacity="0.92"/><polyline points="1031.3,1146.4 1033.8,1146.4 1036.3,1146.4 1038.8,1146.4 1041.3,1146.4 1043.8,1146.4 1046.3,1146.4 1048.8,1146.5 1051.3,1146.5 1053.8,1146.5 1056.3,1146.5 1058.8,1146.5 1061.3,1146.5 1063.8,1146.5 1066.3,1146.5 1068.8,1146.5 1071.3,1146.5 1073.8,1146.5 1076.3,1146.5 1078.8,1146.6 1081.3,1146.6 1083.8,1146.6 1086.3,1146.6 1088.8,1146.6 1091.3,1146.6 1093.8,1146.6 1096.3,1146.6 1098.8,1146.6 1101.3,1146.6 1103.8,1146.6 1106.3,1146.6 1108.8,1146.6 1111.3,1146.7 1113.8,1146.8 1116.3,1146.9 1118.8,1147 1121.3,1147.1 1123.8,1147.3 1126.3,1147.4 1128.8,1147.5 1131.3,1147.6 1133.8,1147.7 1136.3,1147.8 1138.8,1147.9 1141.3,1148 1143.8,1148.1 1146.3,1148.2 1148.8,1148.4 1151.3,1148.5 1153.8,1148.6 1156.3,1148.7 1158.8,1148.8 1161.3,1148.9 1163.8,1149 1166.3,1149.1 1168.8,1149.2 1171.3,1149.3 1173.8,1149.5 1176.3,1149.6 1178.8,1149.6 1181.3,1149.7 1183.8,1149.8 1186.3,1149.9 1188.8,1150 1191.3,1150.1 1193.8,1150.2 1196.3,1150.3 1198.8,1150.4 1201.3,1150.5 1203.8,1150.6 1206.3,1150.7 1208.8,1150.8 1211.3,1150.8 1213.8,1150.9 1216.3,1151 1218.8,1151.1 1221.3,1151.2 1223.8,1151.3 1226.3,1151.4 1228.8,1151.5 1231.3,1151.6 1233.8,1151.7 1236.3,1151.8 1238.8,1151.8 1241.3,1151.9 1243.8,1151.9 1246.3,1151.9 1248.8,1151.9 1251.3,1151.9 1253.8,1151.9 1256.3,1151.9 1258.8,1151.9 1261.3,1151.9 1263.8,1151.9 1266.3,1151.9 1268.8,1151.9 1271.3,1151.9 1273.8,1151.9 1276.3,1151.9 1278.8,1151.9 1281.3,1151.9 1283.8,1151.9 1286.3,1151.8 1288.8,1151.8 1291.3,1151.8 1293.8,1151.8 1296.3,1151.8 1298.8,1151.8 1301.3,1151.8 1303.8,1151.8 1306.3,1151.8 1308.8,1151.8 1311.3,1151.8 1313.8,1151.8 1316.3,1151.8 1318.8,1151.8 1321.3,1151.8 1323.8,1151.7 1326.3,1151.7 1328.8,1151.7 1331.3,1151.7 1333.8,1151.7 1336.3,1151.7 1338.8,1151.7 1341.3,1151.7 1343.8,1151.7 1346.3,1151.6 1348.8,1151.6 1351.3,1151.6 1353.8,1151.6 1356.3,1151.6 1358.8,1151.6 1361.3,1151.5 1363.8,1151.5 1366.3,1151.5 1368.8,1151.5 1371.3,1151.4 1373.8,1151.4 1376.3,1151.4 1378.8,1151.4 1381.3,1151.3 1383.8,1151.3 1386.3,1151.3 1388.8,1151.2 1391.3,1151.2 1393.8,1151.1 1396.3,1151.1 1398.8,1151 1401.3,1151 1403.8,1150.9 1406.3,1150.9 1408.8,1150.8 1411.3,1150.7 1413.8,1150.6 1416.3,1150.5 1418.8,1150.3 1421.3,1150.1 1423.8,1149.9 1426.3,1149.7 1428.8,1149.4 1431.3,1149 1433.8,1148.5 1436.3,1148 1438.8,1147.3 1441.3,1146.6 1443.8,1145.6 1446.3,1144.5 1448.8,1143.2 1451.3,1141.7 1453.8,1139.9 1456.3,1137.7 1458.8,1135.3 1461.3,1132.5 1463.8,1129.3 1466.3,1125.7 1468.8,1121.7 1471.3,1117.2 1473.8,1112.2 1476.3,1106.7 1478.8,1100.7 1481.3,1094.2 1483.8,1087.1 1486.3,1079.6 1488.8,1071.7 1491.3,1063.3 1493.8,1054.7 1496.3,1045.8 1498.8,1036.8 1501.3,1027.7 1503.8,1018.7 1506.3,1009.9 1508.8,1001.4 1511.3,993.4 1513.8,986 1516.3,979.3 1518.8,973.5 1521.3,968.7 1523.8,964.9 1526.3,962.3 1528.8,961 1531.3,960.9 1533.8,962.2 1536.3,964.7 1538.8,968.4 1541.3,973.2 1543.8,979.1 1546.3,985.8 1548.8,993.3 1551.3,1001.4 1553.8,1010 1556.3,1019 1558.8,1028.2 1561.3,1037.5 1563.8,1046.9 1566.3,1056.1 1568.8,1065 1571.3,1073.7 1573.8,1082.1 1576.3,1090 1578.8,1097.4 1581.3,1104.3 1583.8,1110.8 1586.3,1116.7 1588.8,1122.1 1591.3,1127 1593.8,1131.4 1596.3,1135.3 1598.8,1138.8 1601.3,1141.8 1603.8,1144.4 1606.3,1146.6 1608.8,1148.5 1611.3,1150.1 1613.8,1151.5 1616.3,1152.7 1618.8,1153.7 1621.3,1154.5 1623.8,1155.2 1626.3,1155.8 1628.8,1156.3 1631.3,1156.7 1633.8,1157.1 1636.3,1157.3 1638.8,1157.6 1641.3,1157.8 1643.8,1158 1646.3,1158.1 1648.8,1158.2 1651.3,1158.4 1653.8,1158.5 1656.3,1158.5 1658.8,1158.6 1661.3,1158.7 1663.8,1158.8 1666.3,1158.8 1668.8,1158.9 1671.3,1158.9 1673.8,1159 1676.3,1159 1678.8,1159.1 1681.3,1159.1 1683.8,1159.2 1686.3,1159.2 1688.8,1159.2 1691.3,1159.3 1693.8,1159.3 1696.3,1159.3 1698.8,1159.4 1701.3,1159.4 1703.8,1159.4 1706.3,1159.5 1708.8,1159.5 1711.3,1159.5 1713.8,1159.6 1716.3,1159.6 1718.8,1159.6 1721.3,1159.6 1723.8,1159.7 1726.3,1159.7 1728.8,1159.7 1731.3,1159.7 1733.8,1159.7 1736.3,1159.8 1738.8,1159.8 1741.3,1159.8 1742.6,1159.8" fill="none" stroke="#cfe9ec" stroke-width="1.8"/><polyline points="1032.6,1146.5 1110,1146.8 1174.6,1149.7 1240,1152.2 1400,1152.5 1465,1152.8 1530,1155.2 1600,1160 1741.3,1160.4" fill="none" stroke="#1f63d4" stroke-width="2.3"/><path d="M1174.7 995V1147.6" stroke="#ee1c25" stroke-width="2.8" stroke-dasharray="12.5 11" fill="none"/><path d="M1530.4 946V1153" stroke="#ee1c25" stroke-width="2.4" stroke-dasharray="12.5 11" fill="none"/></g>
<text x="1089.2" y="779.5" font-size="33.5" text-anchor="start">373.4</text>
<text x="1412" y="762" font-size="33.5" text-anchor="start">367.48</text>
<text x="1317" y="865.8" font-size="33.5" text-anchor="start">AB</text>
<text x="1198.7" y="1024.6" font-size="33.5" text-anchor="start">373.58</text>
<text x="1561.4" y="1001.5" font-size="33.5" text-anchor="start">367.58</text>
<text x="1295.6" y="1131.5" font-size="33.5" text-anchor="start">Ag<tspan font-size="23.1" dy="9.2">2</tspan><tspan dy="-9.2">CO</tspan><tspan font-size="23.1" dy="9.2">3</tspan></text>
<rect x="83.5" y="1357.8" width="710.7" height="524.8" fill="none" stroke="#222" stroke-width="2.7"/>
<text x="83.5" y="1923.1" font-size="34" text-anchor="middle">292</text>
<text x="225.6" y="1923.1" font-size="34" text-anchor="middle">290</text>
<text x="367.8" y="1923.1" font-size="34" text-anchor="middle">288</text>
<text x="509.9" y="1923.1" font-size="34" text-anchor="middle">286</text>
<text x="652.1" y="1923.1" font-size="34" text-anchor="middle">284</text>
<text x="794.2" y="1923.1" font-size="34" text-anchor="middle">282</text>
<path d="M154.6 1882.6v-6.8M225.6 1882.6v-13.5M296.7 1882.6v-6.8M367.8 1882.6v-13.5M438.9 1882.6v-6.8M509.9 1882.6v-13.5M581 1882.6v-6.8M652.1 1882.6v-13.5M723.1 1882.6v-6.8" stroke="#222" stroke-width="2.5" fill="none"/>
<text x="301" y="1966" font-size="38.3" text-anchor="start">Binding Energy (eV)</text>
<text transform="translate(42.4 1716.7) rotate(-90)" font-size="38.3">Intensity (a.u)</text>
<text x="105.6" y="1410" font-size="43.5" text-anchor="start">(e)</text>
<text x="722.9" y="1390.2" font-size="33.5" text-anchor="start">C 1s</text>
<g clip-path="url(#c21)"><use href="#M" x="92" y="1519.5"/><use href="#M" x="106.2" y="1519.4"/><use href="#M" x="120.5" y="1519.3"/><use href="#M" x="134.7" y="1519.3"/><use href="#M" x="148.9" y="1519.2"/><use href="#M" x="163.1" y="1519.1"/><use href="#M" x="177.3" y="1519"/><use href="#M" x="191.5" y="1518.9"/><use href="#M" x="205.7" y="1518.8"/><use href="#M" x="220" y="1518.6"/><use href="#M" x="234.2" y="1518.3"/><use href="#M" x="248.4" y="1517.8"/><use href="#M" x="262.6" y="1517"/><use href="#M" x="276.8" y="1515.7"/><use href="#M" x="291" y="1513.7"/><use href="#M" x="305.2" y="1511"/><use href="#M" x="319.5" y="1507.8"/><use href="#M" x="333.7" y="1504.3"/><use href="#M" x="347.9" y="1501"/><use href="#M" x="362.1" y="1498.6"/><use href="#M" x="376.3" y="1497.7"/><use href="#M" x="390.5" y="1498.4"/><use href="#M" x="404.7" y="1500.5"/><use href="#M" x="419" y="1503.5"/><use href="#M" x="433.2" y="1506.8"/><use href="#M" x="447.4" y="1509.7"/><use href="#M" x="461.6" y="1512"/><use href="#M" x="475.8" y="1513.5"/><use href="#M" x="490" y="1514"/><use href="#M" x="504.2" y="1513.4"/><use href="#M" x="518.4" y="1511.3"/><use href="#M" x="532.7" y="1506.9"/><use href="#M" x="546.9" y="1499.5"/><use href="#M" x="561.1" y="1488.4"/><use href="#M" x="575.3" y="1473.4"/><use href="#M" x="589.5" y="1455.6"/><use href="#M" x="603.7" y="1437.5"/><use href="#M" x="617.9" y="1422.7"/><use href="#M" x="632.2" y="1415"/><use href="#M" x="646.4" y="1416.8"/><use href="#M" x="660.6" y="1427.3"/><use href="#M" x="674.8" y="1443.6"/><use href="#M" x="689" y="1461.6"/><use href="#M" x="703.2" y="1478.1"/><use href="#M" x="717.4" y="1491.3"/><use href="#M" x="731.7" y="1500.6"/><use href="#M" x="745.9" y="1506.4"/><use href="#M" x="760.1" y="1509.7"/><use href="#M" x="774.3" y="1511.4"/><use href="#M" x="788.5" y="1512.2"/><polygon points="216,1518.9 218.5,1518.9 221,1518.8 223.5,1518.8 226,1518.7 228.5,1518.7 231,1518.6 233.5,1518.6 236,1518.5 238.5,1518.4 241,1518.4 243.5,1518.3 246,1518.2 248.5,1518.1 251,1517.9 253.5,1517.8 256,1517.7 258.5,1517.5 261,1517.4 263.5,1517.2 266,1517 268.5,1516.8 271,1516.5 273.5,1516.3 276,1516 278.5,1515.7 281,1515.4 283.5,1515.1 286,1514.8 288.5,1514.4 291,1514 293.5,1513.6 296,1513.1 298.5,1512.7 301,1512.2 303.5,1511.7 306,1511.2 308.5,1510.7 311,1510.1 313.5,1509.5 316,1509 318.5,1508.4 321,1507.8 323.5,1507.2 326,1506.5 328.5,1505.9 331,1505.3 333.5,1504.7 336,1504.1 338.5,1503.5 341,1502.9 343.5,1502.4 346,1501.8 348.5,1501.3 351,1500.8 353.5,1500.4 356,1499.9 358.5,1499.6 361,1499.2 363.5,1498.9 366,1498.7 368.5,1498.5 371,1498.3 373.5,1498.2 376,1498.2 378.5,1498.2 381,1498.3 383.5,1498.4 386,1498.5 388.5,1498.8 391,1499 393.5,1499.3 396,1499.7 398.5,1500.1 401,1500.5 403.5,1500.9 406,1501.4 408.5,1501.9 411,1502.5 413.5,1503 416,1503.6 418.5,1504.2 421,1504.7 423.5,1505.3 426,1505.9 428.5,1506.5 431,1507.1 433.5,1507.7 436,1508.3 438.5,1508.8 441,1509.4 443.5,1509.9 446,1510.4 448.5,1510.9 451,1511.4 453.5,1511.9 456,1512.3 458.5,1512.7 461,1513.1 463.5,1513.5 466,1513.9 468.5,1514.2 471,1514.5 473.5,1514.8 476,1515.1 478.5,1515.3 481,1515.5 483.5,1515.7 486,1515.9 488.5,1516.1 491,1516.3 493.5,1516.4 496,1516.6 498.5,1516.7 501,1516.8 503.5,1516.9 506,1516.9 508.5,1517 511,1517 513.5,1517.1 516,1517.1 518.5,1517.1 521,1517.2 523.5,1517.2 526,1517.2 528.5,1517.2 531,1517.2 533.5,1517.2 536,1517.2 536,1517.8 533.5,1517.9 531,1517.9 528.5,1517.9 526,1518 523.5,1518 521,1518 518.5,1518.1 516,1518.1 513.5,1518.1 511,1518.2 508.5,1518.2 506,1518.2 503.5,1518.3 501,1518.3 498.5,1518.3 496,1518.3 493.5,1518.3 491,1518.4 488.5,1518.4 486,1518.4 483.5,1518.4 481,1518.4 478.5,1518.4 476,1518.4 473.5,1518.4 471,1518.5 468.5,1518.5 466,1518.5 463.5,1518.5 461,1518.5 458.5,1518.5 456,1518.5 453.5,1518.6 451,1518.6 448.5,1518.6 446,1518.6 443.5,1518.6 441,1518.6 438.5,1518.6 436,1518.7 433.5,1518.7 431,1518.7 428.5,1518.7 426,1518.7 423.5,1518.7 421,1518.7 418.5,1518.8 416,1518.8 413.5,1518.8 411,1518.8 408.5,1518.8 406,1518.8 403.5,1518.8 401,1518.9 398.5,1518.9 396,1518.9 393.5,1518.9 391,1518.9 388.5,1518.9 386,1518.9 383.5,1519 381,1519 378.5,1519 376,1519 373.5,1519 371,1519 368.5,1519 366,1519 363.5,1519 361,1519.1 358.5,1519.1 356,1519.1 353.5,1519.1 351,1519.1 348.5,1519.1 346,1519.1 343.5,1519.1 341,1519.1 338.5,1519.1 336,1519.1 333.5,1519.1 331,1519.2 328.5,1519.2 326,1519.2 323.5,1519.2 321,1519.2 318.5,1519.2 316,1519.2 313.5,1519.2 311,1519.2 308.5,1519.2 306,1519.2 303.5,1519.2 301,1519.3 298.5,1519.3 296,1519.3 293.5,1519.3 291,1519.3 288.5,1519.3 286,1519.3 283.5,1519.3 281,1519.3 278.5,1519.3 276,1519.3 273.5,1519.4 271,1519.4 268.5,1519.4 266,1519.4 263.5,1519.4 261,1519.4 258.5,1519.4 256,1519.4 253.5,1519.4 251,1519.4 248.5,1519.4 246,1519.4 243.5,1519.5 241,1519.5 238.5,1519.5 236,1519.5 233.5,1519.5 231,1519.5 228.5,1519.5 226,1519.5 223.5,1519.5 221,1519.5 218.5,1519.5 216,1519.5" fill="url(#g19)" fill-opacity="0.93"/><polyline points="83.5,1519.6 86,1519.6 88.5,1519.6 91,1519.6 93.5,1519.6 96,1519.6 98.5,1519.6 101,1519.6 103.5,1519.5 106,1519.5 108.5,1519.5 111,1519.5 113.5,1519.5 116,1519.5 118.5,1519.5 121,1519.5 123.5,1519.5 126,1519.4 128.5,1519.4 131,1519.4 133.5,1519.4 136,1519.4 138.5,1519.4 141,1519.4 143.5,1519.4 146,1519.4 148.5,1519.3 151,1519.3 153.5,1519.3 156,1519.3 158.5,1519.3 161,1519.3 163.5,1519.3 166,1519.3 168.5,1519.3 171,1519.2 173.5,1519.2 176,1519.2 178.5,1519.2 181,1519.2 183.5,1519.2 186,1519.2 188.5,1519.1 191,1519.1 193.5,1519.1 196,1519.1 198.5,1519.1 201,1519 203.5,1519 206,1519 208.5,1519 211,1519 213.5,1518.9 216,1518.9 218.5,1518.9 221,1518.8 223.5,1518.8 226,1518.7 228.5,1518.7 231,1518.6 233.5,1518.6 236,1518.5 238.5,1518.4 241,1518.4 243.5,1518.3 246,1518.2 248.5,1518.1 251,1517.9 253.5,1517.8 256,1517.7 258.5,1517.5 261,1517.4 263.5,1517.2 266,1517 268.5,1516.8 271,1516.5 273.5,1516.3 276,1516 278.5,1515.7 281,1515.4 283.5,1515.1 286,1514.8 288.5,1514.4 291,1514 293.5,1513.6 296,1513.1 298.5,1512.7 301,1512.2 303.5,1511.7 306,1511.2 308.5,1510.7 311,1510.1 313.5,1509.5 316,1509 318.5,1508.4 321,1507.8 323.5,1507.2 326,1506.5 328.5,1505.9 331,1505.3 333.5,1504.7 336,1504.1 338.5,1503.5 341,1502.9 343.5,1502.4 346,1501.8 348.5,1501.3 351,1500.8 353.5,1500.4 356,1499.9 358.5,1499.6 361,1499.2 363.5,1498.9 366,1498.7 368.5,1498.5 371,1498.3 373.5,1498.2 376,1498.2 378.5,1498.2 381,1498.3 383.5,1498.4 386,1498.5 388.5,1498.8 391,1499 393.5,1499.3 396,1499.7 398.5,1500.1 401,1500.5 403.5,1500.9 406,1501.4 408.5,1501.9 411,1502.5 413.5,1503 416,1503.6 418.5,1504.2 421,1504.7 423.5,1505.3 426,1505.9 428.5,1506.5 431,1507.1 433.5,1507.7 436,1508.3 438.5,1508.8 441,1509.4 443.5,1509.9 446,1510.4 448.5,1510.9 451,1511.4 453.5,1511.9 456,1512.3 458.5,1512.7 461,1513.1 463.5,1513.5 466,1513.9 468.5,1514.2 471,1514.5 473.5,1514.8 476,1515.1 478.5,1515.3 481,1515.5 483.5,1515.7 486,1515.9 488.5,1516.1 491,1516.3 493.5,1516.4 496,1516.6 498.5,1516.7 501,1516.8 503.5,1516.9 506,1516.9 508.5,1517 511,1517 513.5,1517.1 516,1517.1 518.5,1517.1 521,1517.2 523.5,1517.2 526,1517.2 528.5,1517.2 531,1517.2 533.5,1517.2 536,1517.2 538.5,1517.2 541,1517.2 543.5,1517.2 546,1517.1 548.5,1517.1 551,1517.1 553.5,1517.1 556,1517.1 558.5,1517 561,1517 563.5,1517 566,1517 568.5,1517 571,1516.9 573.5,1516.9 576,1516.9 578.5,1516.9 581,1516.8 583.5,1516.8 586,1516.8 588.5,1516.7 591,1516.7 593.5,1516.7 596,1516.7 598.5,1516.6 601,1516.6 603.5,1516.6 606,1516.5 608.5,1516.5 611,1516.5 613.5,1516.5 616,1516.4 618.5,1516.4 621,1516.4 623.5,1516.3 626,1516.3 628.5,1516.3 631,1516.3 633.5,1516.2 636,1516.2 638.5,1516.2 641,1516.1 643.5,1516.1 646,1516.1 648.5,1516 651,1516 653.5,1516 656,1515.9 658.5,1515.9 661,1515.9 663.5,1515.8 666,1515.8 668.5,1515.7 671,1515.7 673.5,1515.7 676,1515.6 678.5,1515.6 681,1515.6 683.5,1515.5 686,1515.5 688.5,1515.5 691,1515.4 693.5,1515.4 696,1515.4 698.5,1515.3 701,1515.3 703.5,1515.3 706,1515.2 708.5,1515.2 711,1515.1 713.5,1515.1 716,1515.1 718.5,1515 721,1515 723.5,1515 726,1514.9 728.5,1514.9 731,1514.9 733.5,1514.8 736,1514.8 738.5,1514.8 741,1514.7 743.5,1514.7 746,1514.6 748.5,1514.6" fill="none" stroke="#dc8448" stroke-width="1.8"/><polygon points="318.5,1518.5 321,1518.5 323.5,1518.5 326,1518.5 328.5,1518.5 331,1518.5 333.5,1518.5 336,1518.4 338.5,1518.4 341,1518.4 343.5,1518.4 346,1518.4 348.5,1518.4 351,1518.3 353.5,1518.3 356,1518.3 358.5,1518.3 361,1518.3 363.5,1518.3 366,1518.2 368.5,1518.2 371,1518.2 373.5,1518.2 376,1518.2 378.5,1518.2 381,1518.1 383.5,1518.1 386,1518.1 388.5,1518.1 391,1518 393.5,1518 396,1518 398.5,1518 401,1517.9 403.5,1517.9 406,1517.9 408.5,1517.8 411,1517.8 413.5,1517.8 416,1517.8 418.5,1517.7 421,1517.7 423.5,1517.7 426,1517.6 428.5,1517.6 431,1517.6 433.5,1517.5 436,1517.5 438.5,1517.5 441,1517.4 443.5,1517.4 446,1517.3 448.5,1517.3 451,1517.3 453.5,1517.2 456,1517.2 458.5,1517.1 461,1517.1 463.5,1517 466,1516.9 468.5,1516.9 471,1516.8 473.5,1516.7 476,1516.6 478.5,1516.5 481,1516.4 483.5,1516.3 486,1516.1 488.5,1516 491,1515.8 493.5,1515.6 496,1515.4 498.5,1515.2 501,1514.9 503.5,1514.6 506,1514.3 508.5,1513.9 511,1513.5 513.5,1513 516,1512.5 518.5,1511.9 521,1511.3 523.5,1510.5 526,1509.8 528.5,1508.9 531,1508 533.5,1507 536,1505.9 538.5,1504.6 541,1503.3 543.5,1501.9 546,1500.4 548.5,1498.7 551,1497 553.5,1495.1 556,1493.1 558.5,1491 561,1488.7 563.5,1486.3 566,1483.8 568.5,1481.2 571,1478.5 573.5,1475.7 576,1472.8 578.5,1469.7 581,1466.7 583.5,1463.5 586,1460.3 588.5,1457.1 591,1453.8 593.5,1450.6 596,1447.3 598.5,1444.1 601,1441 603.5,1437.9 606,1434.9 608.5,1432.1 611,1429.4 613.5,1426.8 616,1424.5 618.5,1422.3 621,1420.4 623.5,1418.8 626,1417.4 628.5,1416.2 631,1415.4 633.5,1414.8 636,1414.6 638.5,1414.7 641,1415 643.5,1415.7 646,1416.7 648.5,1417.9 651,1419.4 653.5,1421.2 656,1423.2 658.5,1425.4 661,1427.8 663.5,1430.4 666,1433.2 668.5,1436 671,1439 673.5,1442.1 676,1445.2 678.5,1448.3 681,1451.5 683.5,1454.7 686,1457.9 688.5,1461 691,1464.1 693.5,1467.2 696,1470.1 698.5,1473 701,1475.8 703.5,1478.5 706,1481.1 708.5,1483.5 711,1485.9 713.5,1488.1 716,1490.2 718.5,1492.2 721,1494.1 723.5,1495.8 726,1497.4 728.5,1498.9 731,1500.3 733.5,1501.6 736,1502.8 738.5,1503.8 741,1504.8 743.5,1505.7 746,1506.5 748.5,1507.3 751,1507.9 753.5,1508.5 756,1509 758.5,1509.5 761,1509.9 763.5,1510.3 766,1510.6 768.5,1510.9 771,1511.2 773.5,1511.4 776,1511.6 778.5,1511.8 781,1511.9 783.5,1512 786,1512.1 788.5,1512.2 791,1512.3 793.5,1512.4 794.2,1512.4 794.2,1514.3 793.5,1514.3 791,1514.3 788.5,1514.4 786,1514.4 783.5,1514.5 781,1514.5 778.5,1514.5 776,1514.6 773.5,1514.6 771,1514.6 768.5,1514.7 766,1514.7 763.5,1514.7 761,1514.8 758.5,1514.8 756,1514.9 753.5,1514.9 751,1514.9 748.5,1515 746,1515 743.5,1515 741,1515.1 738.5,1515.1 736,1515.1 733.5,1515.2 731,1515.2 728.5,1515.3 726,1515.3 723.5,1515.3 721,1515.4 718.5,1515.4 716,1515.4 713.5,1515.5 711,1515.5 708.5,1515.5 706,1515.6 703.5,1515.6 701,1515.7 698.5,1515.7 696,1515.7 693.5,1515.8 691,1515.8 688.5,1515.8 686,1515.9 683.5,1515.9 681,1515.9 678.5,1516 676,1516 673.5,1516.1 671,1516.1 668.5,1516.1 666,1516.2 663.5,1516.2 661,1516.2 658.5,1516.3 656,1516.3 653.5,1516.3 651,1516.4 648.5,1516.4 646,1516.5 643.5,1516.5 641,1516.5 638.5,1516.6 636,1516.6 633.5,1516.6 631,1516.7 628.5,1516.7 626,1516.7 623.5,1516.8 621,1516.8 618.5,1516.8 616,1516.8 613.5,1516.9 611,1516.9 608.5,1516.9 606,1517 603.5,1517 601,1517 598.5,1517.1 596,1517.1 593.5,1517.1 591,1517.2 588.5,1517.2 586,1517.2 583.5,1517.3 581,1517.3 578.5,1517.3 576,1517.3 573.5,1517.4 571,1517.4 568.5,1517.4 566,1517.5 563.5,1517.5 561,1517.5 558.5,1517.6 556,1517.6 553.5,1517.6 551,1517.7 548.5,1517.7 546,1517.7 543.5,1517.8 541,1517.8 538.5,1517.8 536,1517.8 533.5,1517.9 531,1517.9 528.5,1517.9 526,1518 523.5,1518 521,1518 518.5,1518.1 516,1518.1 513.5,1518.1 511,1518.2 508.5,1518.2 506,1518.2 503.5,1518.3 501,1518.3 498.5,1518.3 496,1518.3 493.5,1518.3 491,1518.4 488.5,1518.4 486,1518.4 483.5,1518.4 481,1518.4 478.5,1518.4 476,1518.4 473.5,1518.4 471,1518.5 468.5,1518.5 466,1518.5 463.5,1518.5 461,1518.5 458.5,1518.5 456,1518.5 453.5,1518.6 451,1518.6 448.5,1518.6 446,1518.6 443.5,1518.6 441,1518.6 438.5,1518.6 436,1518.7 433.5,1518.7 431,1518.7 428.5,1518.7 426,1518.7 423.5,1518.7 421,1518.7 418.5,1518.8 416,1518.8 413.5,1518.8 411,1518.8 408.5,1518.8 406,1518.8 403.5,1518.8 401,1518.9 398.5,1518.9 396,1518.9 393.5,1518.9 391,1518.9 388.5,1518.9 386,1518.9 383.5,1519 381,1519 378.5,1519 376,1519 373.5,1519 371,1519 368.5,1519 366,1519 363.5,1519 361,1519.1 358.5,1519.1 356,1519.1 353.5,1519.1 351,1519.1 348.5,1519.1 346,1519.1 343.5,1519.1 341,1519.1 338.5,1519.1 336,1519.1 333.5,1519.1 331,1519.2 328.5,1519.2 326,1519.2 323.5,1519.2 321,1519.2 318.5,1519.2" fill="url(#g20)" fill-opacity="0.8"/><polyline points="83.5,1519.6 86,1519.6 88.5,1519.6 91,1519.6 93.5,1519.5 96,1519.5 98.5,1519.5 101,1519.5 103.5,1519.5 106,1519.5 108.5,1519.5 111,1519.5 113.5,1519.5 116,1519.5 118.5,1519.4 121,1519.4 123.5,1519.4 126,1519.4 128.5,1519.4 131,1519.4 133.5,1519.4 136,1519.4 138.5,1519.4 141,1519.4 143.5,1519.3 146,1519.3 148.5,1519.3 151,1519.3 153.5,1519.3 156,1519.3 158.5,1519.3 161,1519.3 163.5,1519.3 166,1519.3 168.5,1519.2 171,1519.2 173.5,1519.2 176,1519.2 178.5,1519.2 181,1519.2 183.5,1519.2 186,1519.2 188.5,1519.2 191,1519.1 193.5,1519.1 196,1519.1 198.5,1519.1 201,1519.1 203.5,1519.1 206,1519.1 208.5,1519.1 211,1519.1 213.5,1519.1 216,1519 218.5,1519 221,1519 223.5,1519 226,1519 228.5,1519 231,1519 233.5,1519 236,1519 238.5,1518.9 241,1518.9 243.5,1518.9 246,1518.9 248.5,1518.9 251,1518.9 253.5,1518.9 256,1518.9 258.5,1518.8 261,1518.8 263.5,1518.8 266,1518.8 268.5,1518.8 271,1518.8 273.5,1518.8 276,1518.8 278.5,1518.8 281,1518.7 283.5,1518.7 286,1518.7 288.5,1518.7 291,1518.7 293.5,1518.7 296,1518.7 298.5,1518.7 301,1518.6 303.5,1518.6 306,1518.6 308.5,1518.6 311,1518.6 313.5,1518.6 316,1518.6 318.5,1518.5 321,1518.5 323.5,1518.5 326,1518.5 328.5,1518.5 331,1518.5 333.5,1518.5 336,1518.4 338.5,1518.4 341,1518.4 343.5,1518.4 346,1518.4 348.5,1518.4 351,1518.3 353.5,1518.3 356,1518.3 358.5,1518.3 361,1518.3 363.5,1518.3 366,1518.2 368.5,1518.2 371,1518.2 373.5,1518.2 376,1518.2 378.5,1518.2 381,1518.1 383.5,1518.1 386,1518.1 388.5,1518.1 391,1518 393.5,1518 396,1518 398.5,1518 401,1517.9 403.5,1517.9 406,1517.9 408.5,1517.8 411,1517.8 413.5,1517.8 416,1517.8 418.5,1517.7 421,1517.7 423.5,1517.7 426,1517.6 428.5,1517.6 431,1517.6 433.5,1517.5 436,1517.5 438.5,1517.5 441,1517.4 443.5,1517.4 446,1517.3 448.5,1517.3 451,1517.3 453.5,1517.2 456,1517.2 458.5,1517.1 461,1517.1 463.5,1517 466,1516.9 468.5,1516.9 471,1516.8 473.5,1516.7 476,1516.6 478.5,1516.5 481,1516.4 483.5,1516.3 486,1516.1 488.5,1516 491,1515.8 493.5,1515.6 496,1515.4 498.5,1515.2 501,1514.9 503.5,1514.6 506,1514.3 508.5,1513.9 511,1513.5 513.5,1513 516,1512.5 518.5,1511.9 521,1511.3 523.5,1510.5 526,1509.8 528.5,1508.9 531,1508 533.5,1507 536,1505.9 538.5,1504.6 541,1503.3 543.5,1501.9 546,1500.4 548.5,1498.7 551,1497 553.5,1495.1 556,1493.1 558.5,1491 561,1488.7 563.5,1486.3 566,1483.8 568.5,1481.2 571,1478.5 573.5,1475.7 576,1472.8 578.5,1469.7 581,1466.7 583.5,1463.5 586,1460.3 588.5,1457.1 591,1453.8 593.5,1450.6 596,1447.3 598.5,1444.1 601,1441 603.5,1437.9 606,1434.9 608.5,1432.1 611,1429.4 613.5,1426.8 616,1424.5 618.5,1422.3 621,1420.4 623.5,1418.8 626,1417.4 628.5,1416.2 631,1415.4 633.5,1414.8 636,1414.6 638.5,1414.7 641,1415 643.5,1415.7 646,1416.7 648.5,1417.9 651,1419.4 653.5,1421.2 656,1423.2 658.5,1425.4 661,1427.8 663.5,1430.4 666,1433.2 668.5,1436 671,1439 673.5,1442.1 676,1445.2 678.5,1448.3 681,1451.5 683.5,1454.7 686,1457.9 688.5,1461 691,1464.1 693.5,1467.2 696,1470.1 698.5,1473 701,1475.8 703.5,1478.5 706,1481.1 708.5,1483.5 711,1485.9 713.5,1488.1 716,1490.2 718.5,1492.2 721,1494.1 723.5,1495.8 726,1497.4 728.5,1498.9 731,1500.3 733.5,1501.6 736,1502.8 738.5,1503.8 741,1504.8 743.5,1505.7 746,1506.5 748.5,1507.3 751,1507.9 753.5,1508.5 756,1509 758.5,1509.5 761,1509.9 763.5,1510.3 766,1510.6 768.5,1510.9 771,1511.2 773.5,1511.4 776,1511.6 778.5,1511.8 781,1511.9 783.5,1512 786,1512.1 788.5,1512.2 791,1512.3 793.5,1512.4 794.2,1512.4" fill="none" stroke="#8ed048" stroke-width="2.4"/><polyline points="84.8,1519.7 376,1518.7 500,1518 636,1516.3 792.9,1514" fill="none" stroke="#1f63d4" stroke-width="2.3"/><path d="M376.3 1478.3V1515" stroke="#ee1c25" stroke-width="2.2" stroke-dasharray="12.5 11" fill="none"/><path d="M636.4 1397.6V1508.4" stroke="#ee1c25" stroke-width="2.4" stroke-dasharray="12.5 11" fill="none"/></g>
<g clip-path="url(#c24)"><use href="#m" x="87.1" y="1793.6"/><use href="#m" x="94.2" y="1793.6"/><use href="#m" x="101.3" y="1793.5"/><use href="#m" x="108.4" y="1793.5"/><use href="#m" x="115.5" y="1793.4"/><use href="#m" x="122.6" y="1793.4"/><use href="#m" x="129.7" y="1793.3"/><use href="#m" x="136.8" y="1793.3"/><use href="#m" x="143.9" y="1793.2"/><use href="#m" x="151" y="1793.1"/><use href="#m" x="158.1" y="1793.1"/><use href="#m" x="165.2" y="1793"/><use href="#m" x="172.3" y="1792.9"/><use href="#m" x="179.4" y="1792.8"/><use href="#m" x="186.6" y="1792.7"/><use href="#m" x="193.7" y="1792.6"/><use href="#m" x="200.8" y="1792.5"/><use href="#m" x="207.9" y="1792.4"/><use href="#m" x="215" y="1792.2"/><use href="#m" x="222.1" y="1791.9"/><use href="#m" x="229.2" y="1791.5"/><use href="#m" x="236.3" y="1790.8"/><use href="#m" x="243.4" y="1789.8"/><use href="#m" x="250.5" y="1788.2"/><use href="#m" x="257.6" y="1785.7"/><use href="#m" x="264.7" y="1782.2"/><use href="#m" x="271.8" y="1777.2"/><use href="#m" x="278.9" y="1770.5"/><use href="#m" x="286" y="1761.9"/><use href="#m" x="293.2" y="1751.4"/><use href="#m" x="300.3" y="1739.4"/><use href="#m" x="307.4" y="1726.6"/><use href="#m" x="314.5" y="1713.7"/><use href="#m" x="321.6" y="1702.1"/><use href="#m" x="328.7" y="1693"/><use href="#m" x="335.8" y="1687.6"/><use href="#m" x="342.9" y="1686.7"/><use href="#m" x="350" y="1690.4"/><use href="#m" x="357.1" y="1698.2"/><use href="#m" x="364.2" y="1709.1"/><use href="#m" x="371.3" y="1721.6"/><use href="#m" x="378.4" y="1734.7"/><use href="#m" x="385.5" y="1747.1"/><use href="#m" x="392.7" y="1758.3"/><use href="#m" x="399.8" y="1767.7"/><use href="#m" x="406.9" y="1775.3"/><use href="#m" x="414" y="1781"/><use href="#m" x="421.1" y="1785.1"/><use href="#m" x="428.2" y="1787.9"/><use href="#m" x="435.3" y="1789.7"/><use href="#m" x="442.4" y="1790.9"/><use href="#m" x="449.5" y="1791.7"/><use href="#m" x="456.6" y="1792.1"/><use href="#m" x="463.7" y="1792.4"/><use href="#m" x="470.8" y="1792.5"/><use href="#m" x="477.9" y="1792.6"/><use href="#m" x="485" y="1792.6"/><use href="#m" x="492.2" y="1792.6"/><use href="#m" x="499.3" y="1792.5"/><use href="#m" x="506.4" y="1792.4"/><use href="#m" x="513.5" y="1792.2"/><use href="#m" x="520.6" y="1791.8"/><use href="#m" x="527.7" y="1791.1"/><use href="#m" x="534.8" y="1790.1"/><use href="#m" x="541.9" y="1788.4"/><use href="#m" x="549" y="1785.9"/><use href="#m" x="556.1" y="1782.2"/><use href="#m" x="563.2" y="1777.1"/><use href="#m" x="570.3" y="1770.2"/><use href="#m" x="577.4" y="1761.3"/><use href="#m" x="584.5" y="1750.3"/><use href="#m" x="591.7" y="1737.5"/><use href="#m" x="598.8" y="1723.2"/><use href="#m" x="605.9" y="1708.2"/><use href="#m" x="613" y="1693.7"/><use href="#m" x="620.1" y="1680.8"/><use href="#m" x="627.2" y="1670.9"/><use href="#m" x="634.3" y="1665"/><use href="#m" x="641.4" y="1664.1"/><use href="#m" x="648.5" y="1668.4"/><use href="#m" x="655.6" y="1677.1"/><use href="#m" x="662.7" y="1689.3"/><use href="#m" x="669.8" y="1703.7"/><use href="#m" x="676.9" y="1718.9"/><use href="#m" x="684" y="1733.9"/><use href="#m" x="691.1" y="1747.7"/><use href="#m" x="698.3" y="1759.8"/><use href="#m" x="705.4" y="1769.8"/><use href="#m" x="712.5" y="1777.9"/><use href="#m" x="719.6" y="1784"/><use href="#m" x="726.7" y="1788.3"/><use href="#m" x="733.8" y="1791.3"/><use href="#m" x="740.9" y="1793.4"/><use href="#m" x="748" y="1794.8"/><use href="#m" x="755.1" y="1795.7"/><use href="#m" x="762.2" y="1796.3"/><use href="#m" x="769.3" y="1796.7"/><use href="#m" x="776.4" y="1797"/><use href="#m" x="783.5" y="1797.2"/><use href="#m" x="790.6" y="1797.4"/><use href="#m" x="797.8" y="1797.5"/><polygon points="121,1793.5 123.5,1793.5 126,1793.4 128.5,1793.4 131,1793.4 133.5,1793.4 136,1793.4 138.5,1793.4 141,1793.3 143.5,1793.3 146,1793.3 148.5,1793.3 151,1793.2 153.5,1793.2 156,1793.2 158.5,1793.2 161,1793.1 163.5,1793.1 166,1793.1 168.5,1793.1 171,1793 173.5,1793 176,1793 178.5,1793 181,1792.9 183.5,1792.9 186,1792.9 188.5,1792.8 191,1792.8 193.5,1792.8 196,1792.7 198.5,1792.7 201,1792.6 203.5,1792.6 206,1792.5 208.5,1792.5 211,1792.4 213.5,1792.3 216,1792.3 218.5,1792.2 221,1792.1 223.5,1792 226,1791.8 228.5,1791.7 231,1791.5 233.5,1791.2 236,1791 238.5,1790.7 241,1790.3 243.5,1789.9 246,1789.4 248.5,1788.9 251,1788.2 253.5,1787.4 256,1786.5 258.5,1785.5 261,1784.4 263.5,1783.1 266,1781.6 268.5,1779.9 271,1778 273.5,1776 276,1773.7 278.5,1771.1 281,1768.4 283.5,1765.4 286,1762.1 288.5,1758.6 291,1755 293.5,1751.1 296,1747 298.5,1742.7 301,1738.3 303.5,1733.8 306,1729.3 308.5,1724.7 311,1720.1 313.5,1715.7 316,1711.3 318.5,1707.2 321,1703.2 323.5,1699.6 326,1696.3 328.5,1693.5 331,1691.1 333.5,1689.2 336,1687.8 338.5,1686.9 341,1686.7 343.5,1687.1 346,1688 348.5,1689.6 351,1691.6 353.5,1694.1 356,1697.1 358.5,1700.5 361,1704.2 363.5,1708.2 366,1712.4 368.5,1716.8 371,1721.3 373.5,1725.9 376,1730.5 378.5,1735.1 381,1739.6 383.5,1744 386,1748.3 388.5,1752.4 391,1756.3 393.5,1759.9 396,1763.4 398.5,1766.6 401,1769.6 403.5,1772.4 406,1774.9 408.5,1777.2 411,1779.2 413.5,1781.1 416,1782.8 418.5,1784.3 421,1785.6 423.5,1786.7 426,1787.7 428.5,1788.5 431,1789.3 433.5,1789.9 436,1790.5 438.5,1790.9 441,1791.3 443.5,1791.7 446,1792 448.5,1792.2 451,1792.4 453.5,1792.6 456,1792.8 458.5,1792.9 461,1793 463.5,1793.1 466,1793.2 468.5,1793.3 471,1793.3 473.5,1793.4 476,1793.4 478.5,1793.5 481,1793.5 483.5,1793.6 486,1793.6 488.5,1793.6 491,1793.7 493.5,1793.7 496,1793.7 498.5,1793.8 501,1793.8 503.5,1793.8 506,1793.8 508.5,1793.9 511,1793.9 513.5,1793.9 516,1793.9 518.5,1794 521,1794 523.5,1794 526,1794 528.5,1794 531,1794.1 533.5,1794.1 536,1794.1 538.5,1794.1 541,1794.1 543.5,1794.1 546,1794.2 548.5,1794.2 551,1794.2 553.5,1794.2 556,1794.2 558.5,1794.2 561,1794.3 561,1794.9 558.5,1794.9 556,1794.9 553.5,1794.9 551,1794.9 548.5,1794.9 546,1794.9 543.5,1794.9 541,1794.8 538.5,1794.8 536,1794.8 533.5,1794.8 531,1794.8 528.5,1794.8 526,1794.8 523.5,1794.8 521,1794.8 518.5,1794.8 516,1794.8 513.5,1794.8 511,1794.8 508.5,1794.8 506,1794.7 503.5,1794.7 501,1794.7 498.5,1794.7 496,1794.7 493.5,1794.7 491,1794.7 488.5,1794.7 486,1794.7 483.5,1794.7 481,1794.7 478.5,1794.7 476,1794.7 473.5,1794.7 471,1794.6 468.5,1794.6 466,1794.6 463.5,1794.6 461,1794.6 458.5,1794.6 456,1794.6 453.5,1794.6 451,1794.6 448.5,1794.6 446,1794.6 443.5,1794.6 441,1794.6 438.5,1794.6 436,1794.5 433.5,1794.5 431,1794.5 428.5,1794.5 426,1794.5 423.5,1794.5 421,1794.5 418.5,1794.5 416,1794.4 413.5,1794.4 411,1794.4 408.5,1794.3 406,1794.3 403.5,1794.2 401,1794.2 398.5,1794.1 396,1794.1 393.5,1794.1 391,1794 388.5,1794 386,1793.9 383.5,1793.9 381,1793.9 378.5,1793.8 376,1793.8 373.5,1793.7 371,1793.7 368.5,1793.7 366,1793.6 363.5,1793.6 361,1793.5 358.5,1793.5 356,1793.4 353.5,1793.4 351,1793.4 348.5,1793.3 346,1793.3 343.5,1793.2 341,1793.2 338.5,1793.2 336,1793.2 333.5,1793.2 331,1793.2 328.5,1793.3 326,1793.3 323.5,1793.3 321,1793.3 318.5,1793.3 316,1793.3 313.5,1793.3 311,1793.3 308.5,1793.3 306,1793.3 303.5,1793.4 301,1793.4 298.5,1793.4 296,1793.4 293.5,1793.4 291,1793.4 288.5,1793.4 286,1793.4 283.5,1793.4 281,1793.5 278.5,1793.5 276,1793.5 273.5,1793.5 271,1793.5 268.5,1793.5 266,1793.5 263.5,1793.5 261,1793.5 258.5,1793.5 256,1793.6 253.5,1793.6 251,1793.6 248.5,1793.6 246,1793.6 243.5,1793.6 241,1793.6 238.5,1793.6 236,1793.6 233.5,1793.7 231,1793.7 228.5,1793.7 226,1793.7 223.5,1793.7 221,1793.7 218.5,1793.7 216,1793.7 213.5,1793.7 211,1793.8 208.5,1793.8 206,1793.8 203.5,1793.8 201,1793.8 198.5,1793.8 196,1793.8 193.5,1793.8 191,1793.8 188.5,1793.8 186,1793.9 183.5,1793.9 181,1793.9 178.5,1793.9 176,1793.9 173.5,1793.9 171,1793.9 168.5,1793.9 166,1793.9 163.5,1794 161,1794 158.5,1794 156,1794 153.5,1794 151,1794 148.5,1794 146,1794 143.5,1794 141,1794.1 138.5,1794.1 136,1794.1 133.5,1794.1 131,1794.1 128.5,1794.1 126,1794.1 123.5,1794.1 121,1794.1" fill="url(#g22)" fill-opacity="0.93"/><polyline points="83.5,1793.7 86,1793.7 88.5,1793.7 91,1793.7 93.5,1793.7 96,1793.7 98.5,1793.6 101,1793.6 103.5,1793.6 106,1793.6 108.5,1793.6 111,1793.6 113.5,1793.5 116,1793.5 118.5,1793.5 121,1793.5 123.5,1793.5 126,1793.4 128.5,1793.4 131,1793.4 133.5,1793.4 136,1793.4 138.5,1793.4 141,1793.3 143.5,1793.3 146,1793.3 148.5,1793.3 151,1793.2 153.5,1793.2 156,1793.2 158.5,1793.2 161,1793.1 163.5,1793.1 166,1793.1 168.5,1793.1 171,1793 173.5,1793 176,1793 178.5,1793 181,1792.9 183.5,1792.9 186,1792.9 188.5,1792.8 191,1792.8 193.5,1792.8 196,1792.7 198.5,1792.7 201,1792.6 203.5,1792.6 206,1792.5 208.5,1792.5 211,1792.4 213.5,1792.3 216,1792.3 218.5,1792.2 221,1792.1 223.5,1792 226,1791.8 228.5,1791.7 231,1791.5 233.5,1791.2 236,1791 238.5,1790.7 241,1790.3 243.5,1789.9 246,1789.4 248.5,1788.9 251,1788.2 253.5,1787.4 256,1786.5 258.5,1785.5 261,1784.4 263.5,1783.1 266,1781.6 268.5,1779.9 271,1778 273.5,1776 276,1773.7 278.5,1771.1 281,1768.4 283.5,1765.4 286,1762.1 288.5,1758.6 291,1755 293.5,1751.1 296,1747 298.5,1742.7 301,1738.3 303.5,1733.8 306,1729.3 308.5,1724.7 311,1720.1 313.5,1715.7 316,1711.3 318.5,1707.2 321,1703.2 323.5,1699.6 326,1696.3 328.5,1693.5 331,1691.1 333.5,1689.2 336,1687.8 338.5,1686.9 341,1686.7 343.5,1687.1 346,1688 348.5,1689.6 351,1691.6 353.5,1694.1 356,1697.1 358.5,1700.5 361,1704.2 363.5,1708.2 366,1712.4 368.5,1716.8 371,1721.3 373.5,1725.9 376,1730.5 378.5,1735.1 381,1739.6 383.5,1744 386,1748.3 388.5,1752.4 391,1756.3 393.5,1759.9 396,1763.4 398.5,1766.6 401,1769.6 403.5,1772.4 406,1774.9 408.5,1777.2 411,1779.2 413.5,1781.1 416,1782.8 418.5,1784.3 421,1785.6 423.5,1786.7 426,1787.7 428.5,1788.5 431,1789.3 433.5,1789.9 436,1790.5 438.5,1790.9 441,1791.3 443.5,1791.7 446,1792 448.5,1792.2 451,1792.4 453.5,1792.6 456,1792.8 458.5,1792.9 461,1793 463.5,1793.1 466,1793.2 468.5,1793.3 471,1793.3 473.5,1793.4 476,1793.4 478.5,1793.5 481,1793.5 483.5,1793.6 486,1793.6 488.5,1793.6 491,1793.7 493.5,1793.7 496,1793.7 498.5,1793.8 501,1793.8 503.5,1793.8 506,1793.8 508.5,1793.9 511,1793.9 513.5,1793.9 516,1793.9 518.5,1794 521,1794 523.5,1794 526,1794 528.5,1794 531,1794.1 533.5,1794.1 536,1794.1 538.5,1794.1 541,1794.1 543.5,1794.1 546,1794.2 548.5,1794.2 551,1794.2 553.5,1794.2 556,1794.2 558.5,1794.2 561,1794.3 563.5,1794.3 566,1794.3 568.5,1794.3 571,1794.3 573.5,1794.4 576,1794.4 578.5,1794.4 581,1794.4 583.5,1794.4 586,1794.4 588.5,1794.5 591,1794.5 593.5,1794.5 596,1794.5 598.5,1794.5 601,1794.6 603.5,1794.6 606,1794.6 608.5,1794.6 611,1794.6 613.5,1794.6 616,1794.7 618.5,1794.7 621,1794.7 623.5,1794.7 626,1794.7 628.5,1794.7 631,1794.8 633.5,1794.8 636,1794.8 638.5,1794.8 641,1794.8 643.5,1794.9 646,1795 648.5,1795.1 651,1795.2 653.5,1795.3 656,1795.4 658.5,1795.5 661,1795.6 663.5,1795.7 666,1795.8 668.5,1795.9 671,1796 673.5,1796.1 676,1796.2 678.5,1796.3 681,1796.4 683.5,1796.5 686,1796.6 688.5,1796.7 691,1796.8 693.5,1796.9 696,1797 698.5,1797.1 701,1797.2 703.5,1797.2 706,1797.3 708.5,1797.4 711,1797.5 713.5,1797.6 716,1797.7 718.5,1797.8 721,1797.9 723.5,1797.9 726,1797.9 728.5,1797.9 731,1798 733.5,1798 736,1798 738.5,1798 741,1798 743.5,1798.1 746,1798.1 748.5,1798.1 751,1798.1 753.5,1798.1 756,1798.1 758.5,1798.2 761,1798.2 763.5,1798.2 766,1798.2 768.5,1798.2 771,1798.3 773.5,1798.3 776,1798.3 778.5,1798.3 781,1798.3 783.5,1798.3 786,1798.4 788.5,1798.4 791,1798.4 793.5,1798.4 794.2,1798.4" fill="none" stroke="#dc8448" stroke-width="1.8"/><polygon points="378.5,1793.2 381,1793.2 383.5,1793.2 386,1793.3 388.5,1793.3 391,1793.3 393.5,1793.4 396,1793.4 398.5,1793.4 401,1793.5 403.5,1793.5 406,1793.5 408.5,1793.6 411,1793.6 413.5,1793.6 416,1793.7 418.5,1793.7 421,1793.7 423.5,1793.7 426,1793.7 428.5,1793.7 431,1793.7 433.5,1793.7 436,1793.7 438.5,1793.7 441,1793.7 443.5,1793.7 446,1793.6 448.5,1793.6 451,1793.6 453.5,1793.6 456,1793.6 458.5,1793.6 461,1793.6 463.5,1793.6 466,1793.6 468.5,1793.5 471,1793.5 473.5,1793.5 476,1793.5 478.5,1793.5 481,1793.4 483.5,1793.4 486,1793.4 488.5,1793.4 491,1793.3 493.5,1793.3 496,1793.3 498.5,1793.2 501,1793.2 503.5,1793.1 506,1793 508.5,1792.9 511,1792.8 513.5,1792.7 516,1792.6 518.5,1792.4 521,1792.3 523.5,1792 526,1791.8 528.5,1791.5 531,1791.1 533.5,1790.7 536,1790.3 538.5,1789.7 541,1789.1 543.5,1788.3 546,1787.5 548.5,1786.5 551,1785.4 553.5,1784.1 556,1782.7 558.5,1781 561,1779.2 563.5,1777.2 566,1775 568.5,1772.5 571,1769.8 573.5,1766.8 576,1763.6 578.5,1760.1 581,1756.3 583.5,1752.3 586,1748.1 588.5,1743.7 591,1739 593.5,1734.1 596,1729.1 598.5,1724 601,1718.7 603.5,1713.5 606,1708.2 608.5,1703 611,1697.9 613.5,1692.9 616,1688.2 618.5,1683.7 621,1679.5 623.5,1675.8 626,1672.5 628.5,1669.6 631,1667.4 633.5,1665.6 636,1664.5 638.5,1664 641,1664.2 643.5,1665 646,1666.5 648.5,1668.5 651,1671.1 653.5,1674.3 656,1677.9 658.5,1681.9 661,1686.3 663.5,1691 666,1695.9 668.5,1701 671,1706.3 673.5,1711.7 676,1717.1 678.5,1722.4 681,1727.7 683.5,1732.9 686,1738 688.5,1742.9 691,1747.6 693.5,1752.1 696,1756.3 698.5,1760.3 701,1764.1 703.5,1767.5 706,1770.8 708.5,1773.8 711,1776.5 713.5,1779 716,1781.2 718.5,1783.3 721,1785.1 723.5,1786.7 726,1788.1 728.5,1789.3 731,1790.4 733.5,1791.3 736,1792.2 738.5,1792.9 741,1793.5 743.5,1794.1 746,1794.6 748.5,1795 751,1795.3 753.5,1795.6 756,1795.9 758.5,1796.1 761,1796.3 763.5,1796.5 766,1796.6 768.5,1796.8 771,1796.9 773.5,1797 776,1797.1 778.5,1797.1 781,1797.2 783.5,1797.3 786,1797.4 788.5,1797.4 791,1797.5 793.5,1797.5 794.2,1797.5 794.2,1798.8 793.5,1798.8 791,1798.8 788.5,1798.8 786,1798.7 783.5,1798.7 781,1798.7 778.5,1798.7 776,1798.7 773.5,1798.7 771,1798.6 768.5,1798.6 766,1798.6 763.5,1798.6 761,1798.6 758.5,1798.6 756,1798.5 753.5,1798.5 751,1798.5 748.5,1798.5 746,1798.5 743.5,1798.5 741,1798.4 738.5,1798.4 736,1798.4 733.5,1798.4 731,1798.4 728.5,1798.4 726,1798.3 723.5,1798.3 721,1798.3 718.5,1798.2 716,1798.1 713.5,1798.1 711,1798 708.5,1797.9 706,1797.8 703.5,1797.7 701,1797.6 698.5,1797.5 696,1797.4 693.5,1797.3 691,1797.2 688.5,1797.1 686,1797 683.5,1796.9 681,1796.8 678.5,1796.7 676,1796.6 673.5,1796.6 671,1796.5 668.5,1796.4 666,1796.3 663.5,1796.2 661,1796.1 658.5,1796 656,1795.9 653.5,1795.8 651,1795.7 648.5,1795.6 646,1795.5 643.5,1795.4 641,1795.3 638.5,1795.3 636,1795.3 633.5,1795.3 631,1795.3 628.5,1795.2 626,1795.2 623.5,1795.2 621,1795.2 618.5,1795.2 616,1795.2 613.5,1795.2 611,1795.2 608.5,1795.1 606,1795.1 603.5,1795.1 601,1795.1 598.5,1795.1 596,1795.1 593.5,1795.1 591,1795.1 588.5,1795 586,1795 583.5,1795 581,1795 578.5,1795 576,1795 573.5,1795 571,1795 568.5,1794.9 566,1794.9 563.5,1794.9 561,1794.9 558.5,1794.9 556,1794.9 553.5,1794.9 551,1794.9 548.5,1794.9 546,1794.9 543.5,1794.9 541,1794.8 538.5,1794.8 536,1794.8 533.5,1794.8 531,1794.8 528.5,1794.8 526,1794.8 523.5,1794.8 521,1794.8 518.5,1794.8 516,1794.8 513.5,1794.8 511,1794.8 508.5,1794.8 506,1794.7 503.5,1794.7 501,1794.7 498.5,1794.7 496,1794.7 493.5,1794.7 491,1794.7 488.5,1794.7 486,1794.7 483.5,1794.7 481,1794.7 478.5,1794.7 476,1794.7 473.5,1794.7 471,1794.6 468.5,1794.6 466,1794.6 463.5,1794.6 461,1794.6 458.5,1794.6 456,1794.6 453.5,1794.6 451,1794.6 448.5,1794.6 446,1794.6 443.5,1794.6 441,1794.6 438.5,1794.6 436,1794.5 433.5,1794.5 431,1794.5 428.5,1794.5 426,1794.5 423.5,1794.5 421,1794.5 418.5,1794.5 416,1794.4 413.5,1794.4 411,1794.4 408.5,1794.3 406,1794.3 403.5,1794.2 401,1794.2 398.5,1794.1 396,1794.1 393.5,1794.1 391,1794 388.5,1794 386,1793.9 383.5,1793.9 381,1793.9 378.5,1793.8" fill="url(#g23)" fill-opacity="0.8"/><polyline points="83.5,1793.9 86,1793.9 88.5,1793.9 91,1793.9 93.5,1793.9 96,1793.9 98.5,1793.9 101,1793.8 103.5,1793.8 106,1793.8 108.5,1793.8 111,1793.8 113.5,1793.8 116,1793.8 118.5,1793.8 121,1793.7 123.5,1793.7 126,1793.7 128.5,1793.7 131,1793.7 133.5,1793.7 136,1793.7 138.5,1793.7 141,1793.7 143.5,1793.6 146,1793.6 148.5,1793.6 151,1793.6 153.5,1793.6 156,1793.6 158.5,1793.6 161,1793.6 163.5,1793.5 166,1793.5 168.5,1793.5 171,1793.5 173.5,1793.5 176,1793.5 178.5,1793.5 181,1793.5 183.5,1793.5 186,1793.4 188.5,1793.4 191,1793.4 193.5,1793.4 196,1793.4 198.5,1793.4 201,1793.4 203.5,1793.4 206,1793.3 208.5,1793.3 211,1793.3 213.5,1793.3 216,1793.3 218.5,1793.3 221,1793.3 223.5,1793.3 226,1793.2 228.5,1793.2 231,1793.2 233.5,1793.2 236,1793.2 238.5,1793.2 241,1793.2 243.5,1793.2 246,1793.1 248.5,1793.1 251,1793.1 253.5,1793.1 256,1793.1 258.5,1793.1 261,1793.1 263.5,1793.1 266,1793 268.5,1793 271,1793 273.5,1793 276,1793 278.5,1793 281,1793 283.5,1793 286,1792.9 288.5,1792.9 291,1792.9 293.5,1792.9 296,1792.9 298.5,1792.9 301,1792.9 303.5,1792.8 306,1792.8 308.5,1792.8 311,1792.8 313.5,1792.8 316,1792.8 318.5,1792.8 321,1792.7 323.5,1792.7 326,1792.7 328.5,1792.7 331,1792.7 333.5,1792.7 336,1792.7 338.5,1792.6 341,1792.6 343.5,1792.7 346,1792.7 348.5,1792.7 351,1792.8 353.5,1792.8 356,1792.8 358.5,1792.9 361,1792.9 363.5,1793 366,1793 368.5,1793 371,1793.1 373.5,1793.1 376,1793.1 378.5,1793.2 381,1793.2 383.5,1793.2 386,1793.3 388.5,1793.3 391,1793.3 393.5,1793.4 396,1793.4 398.5,1793.4 401,1793.5 403.5,1793.5 406,1793.5 408.5,1793.6 411,1793.6 413.5,1793.6 416,1793.7 418.5,1793.7 421,1793.7 423.5,1793.7 426,1793.7 428.5,1793.7 431,1793.7 433.5,1793.7 436,1793.7 438.5,1793.7 441,1793.7 443.5,1793.7 446,1793.6 448.5,1793.6 451,1793.6 453.5,1793.6 456,1793.6 458.5,1793.6 461,1793.6 463.5,1793.6 466,1793.6 468.5,1793.5 471,1793.5 473.5,1793.5 476,1793.5 478.5,1793.5 481,1793.4 483.5,1793.4 486,1793.4 488.5,1793.4 491,1793.3 493.5,1793.3 496,1793.3 498.5,1793.2 501,1793.2 503.5,1793.1 506,1793 508.5,1792.9 511,1792.8 513.5,1792.7 516,1792.6 518.5,1792.4 521,1792.3 523.5,1792 526,1791.8 528.5,1791.5 531,1791.1 533.5,1790.7 536,1790.3 538.5,1789.7 541,1789.1 543.5,1788.3 546,1787.5 548.5,1786.5 551,1785.4 553.5,1784.1 556,1782.7 558.5,1781 561,1779.2 563.5,1777.2 566,1775 568.5,1772.5 571,1769.8 573.5,1766.8 576,1763.6 578.5,1760.1 581,1756.3 583.5,1752.3 586,1748.1 588.5,1743.7 591,1739 593.5,1734.1 596,1729.1 598.5,1724 601,1718.7 603.5,1713.5 606,1708.2 608.5,1703 611,1697.9 613.5,1692.9 616,1688.2 618.5,1683.7 621,1679.5 623.5,1675.8 626,1672.5 628.5,1669.6 631,1667.4 633.5,1665.6 636,1664.5 638.5,1664 641,1664.2 643.5,1665 646,1666.5 648.5,1668.5 651,1671.1 653.5,1674.3 656,1677.9 658.5,1681.9 661,1686.3 663.5,1691 666,1695.9 668.5,1701 671,1706.3 673.5,1711.7 676,1717.1 678.5,1722.4 681,1727.7 683.5,1732.9 686,1738 688.5,1742.9 691,1747.6 693.5,1752.1 696,1756.3 698.5,1760.3 701,1764.1 703.5,1767.5 706,1770.8 708.5,1773.8 711,1776.5 713.5,1779 716,1781.2 718.5,1783.3 721,1785.1 723.5,1786.7 726,1788.1 728.5,1789.3 731,1790.4 733.5,1791.3 736,1792.2 738.5,1792.9 741,1793.5 743.5,1794.1 746,1794.6 748.5,1795 751,1795.3 753.5,1795.6 756,1795.9 758.5,1796.1 761,1796.3 763.5,1796.5 766,1796.6 768.5,1796.8 771,1796.9 773.5,1797 776,1797.1 778.5,1797.1 781,1797.2 783.5,1797.3 786,1797.4 788.5,1797.4 791,1797.5 793.5,1797.5 794.2,1797.5" fill="none" stroke="#8ed048" stroke-width="2.4"/><polyline points="84.8,1794 270,1793.2 341,1792.9 420,1794.2 560,1794.6 640,1795 720,1798 792.9,1798.5" fill="none" stroke="#1f63d4" stroke-width="2.3"/><path d="M340.8 1664V1789.5" stroke="#ee1c25" stroke-width="3.4" stroke-dasharray="12.5 11" fill="none"/><path d="M639.3 1643.7V1794" stroke="#ee1c25" stroke-width="2.2" stroke-dasharray="12.5 11" fill="none"/></g>
<text x="143.7" y="1492.5" font-size="33.5" text-anchor="start">AB-9</text>
<text x="278.8" y="1476.7" font-size="33.5" text-anchor="start">287.88</text>
<text x="521.7" y="1419.1" font-size="33.5" text-anchor="start">284.22</text>
<text x="125.2" y="1756.3" font-size="33.5" text-anchor="start">Ag<tspan font-size="23.1" dy="9.2">2</tspan><tspan dy="-9.2">CO</tspan><tspan font-size="23.1" dy="9.2">3</tspan></text>
<text x="367" y="1698.6" font-size="33.5" text-anchor="start">288.38</text>
<text x="669.7" y="1678.3" font-size="33.5" text-anchor="start">284.18</text>
<rect x="1031.3" y="1360.3" width="711.1" height="515.9" fill="none" stroke="#222" stroke-width="2.7"/>
<text x="1031.3" y="1917.8" font-size="34" text-anchor="middle">536</text>
<text x="1173.5" y="1917.8" font-size="34" text-anchor="middle">534</text>
<text x="1315.7" y="1917.8" font-size="34" text-anchor="middle">532</text>
<text x="1458" y="1917.8" font-size="34" text-anchor="middle">530</text>
<text x="1600.2" y="1917.8" font-size="34" text-anchor="middle">528</text>
<text x="1742.4" y="1917.8" font-size="34" text-anchor="middle">526</text>
<path d="M1102.4 1876.2v-6.8M1173.5 1876.2v-13.5M1244.6 1876.2v-6.8M1315.7 1876.2v-13.5M1386.8 1876.2v-6.8M1458 1876.2v-13.5M1529.1 1876.2v-6.8M1600.2 1876.2v-13.5M1671.3 1876.2v-6.8" stroke="#222" stroke-width="2.5" fill="none"/>
<text x="1238" y="1963.2" font-size="38.3" text-anchor="start">Binding Energy (eV)</text>
<text transform="translate(980.2 1723.5) rotate(-90)" font-size="38.3">Intensity (a.u)</text>
<text x="1055.7" y="1410.8" font-size="43.5" text-anchor="start">(f)</text>
<text x="1667.6" y="1393" font-size="33.5" text-anchor="start">O 1s</text>
<g clip-path="url(#c27)"><use href="#M" x="1040.5" y="1463.9"/><use href="#M" x="1054.8" y="1463.9"/><use href="#M" x="1069" y="1463.9"/><use href="#M" x="1083.2" y="1463.9"/><use href="#M" x="1097.4" y="1464"/><use href="#M" x="1111.7" y="1464"/><use href="#M" x="1125.9" y="1463.9"/><use href="#M" x="1140.1" y="1463.9"/><use href="#M" x="1154.3" y="1463.8"/><use href="#M" x="1168.5" y="1463.6"/><use href="#M" x="1182.8" y="1463.3"/><use href="#M" x="1197" y="1462.9"/><use href="#M" x="1211.2" y="1462.2"/><use href="#M" x="1225.4" y="1461.3"/><use href="#M" x="1239.7" y="1460"/><use href="#M" x="1253.9" y="1458.5"/><use href="#M" x="1268.1" y="1456.8"/><use href="#M" x="1282.3" y="1454.9"/><use href="#M" x="1296.5" y="1453"/><use href="#M" x="1310.8" y="1451.3"/><use href="#M" x="1325" y="1449.7"/><use href="#M" x="1339.2" y="1448.1"/><use href="#M" x="1353.4" y="1446.3"/><use href="#M" x="1367.7" y="1443.6"/><use href="#M" x="1381.9" y="1439.2"/><use href="#M" x="1396.1" y="1432.5"/><use href="#M" x="1410.3" y="1423.3"/><use href="#M" x="1424.5" y="1412"/><use href="#M" x="1438.8" y="1400"/><use href="#M" x="1453" y="1389.1"/><use href="#M" x="1467.2" y="1381.8"/><use href="#M" x="1481.4" y="1380"/><use href="#M" x="1495.6" y="1384.3"/><use href="#M" x="1509.9" y="1393.9"/><use href="#M" x="1524.1" y="1406.8"/><use href="#M" x="1538.3" y="1420.6"/><use href="#M" x="1552.5" y="1433.5"/><use href="#M" x="1566.8" y="1444.2"/><use href="#M" x="1581" y="1452.3"/><use href="#M" x="1595.2" y="1457.9"/><use href="#M" x="1609.4" y="1461.4"/><use href="#M" x="1623.6" y="1463.6"/><use href="#M" x="1637.9" y="1464.8"/><use href="#M" x="1652.1" y="1465.5"/><use href="#M" x="1666.3" y="1465.8"/><use href="#M" x="1680.5" y="1466.1"/><use href="#M" x="1694.8" y="1466.3"/><use href="#M" x="1709" y="1466.4"/><use href="#M" x="1723.2" y="1466.6"/><use href="#M" x="1737.4" y="1466.7"/><polygon points="1183.8,1464.2 1186.3,1464.2 1188.8,1464.2 1191.3,1464.2 1193.8,1464.2 1196.3,1464.2 1198.8,1464.2 1201.3,1464.2 1203.8,1464.2 1206.3,1464.2 1208.8,1464.2 1211.3,1464.2 1213.8,1464.2 1216.3,1464.2 1218.8,1464.2 1221.3,1464.2 1223.8,1464.2 1226.3,1464.2 1228.8,1464.2 1231.3,1464.2 1233.8,1464.2 1236.3,1464.2 1238.8,1464.2 1241.3,1464.2 1243.8,1464.2 1246.3,1464.2 1248.8,1464.2 1251.3,1464.2 1253.8,1464.2 1256.3,1464.2 1258.8,1464.1 1261.3,1464.1 1263.8,1464.1 1266.3,1464.1 1268.8,1464.1 1271.3,1464.1 1273.8,1464.1 1276.3,1464.1 1278.8,1464.1 1281.3,1464 1283.8,1464 1286.3,1464 1288.8,1464 1291.3,1463.9 1293.8,1463.9 1296.3,1463.9 1298.8,1463.8 1301.3,1463.8 1303.8,1463.7 1306.3,1463.7 1308.8,1463.6 1311.3,1463.5 1313.8,1463.4 1316.3,1463.3 1318.8,1463.2 1321.3,1463.1 1323.8,1462.9 1326.3,1462.8 1328.8,1462.6 1331.3,1462.4 1333.8,1462.2 1336.3,1461.9 1338.8,1461.7 1341.3,1461.4 1343.8,1461.1 1346.3,1460.7 1348.8,1460.3 1351.3,1459.9 1353.8,1459.4 1356.3,1458.8 1358.8,1458.2 1361.3,1457.6 1363.8,1456.9 1366.3,1456.2 1368.8,1455.3 1371.3,1454.4 1373.8,1453.5 1376.3,1452.4 1378.8,1451.3 1381.3,1450.1 1383.8,1448.9 1386.3,1447.5 1388.8,1446.1 1391.3,1444.6 1393.8,1443 1396.3,1441.3 1398.8,1439.6 1401.3,1437.7 1403.8,1435.8 1406.3,1433.8 1408.8,1431.7 1411.3,1429.6 1413.8,1427.4 1416.3,1425.2 1418.8,1422.9 1421.3,1420.6 1423.8,1418.2 1426.3,1415.8 1428.8,1413.4 1431.3,1411 1433.8,1408.6 1436.3,1406.3 1438.8,1403.9 1441.3,1401.7 1443.8,1399.4 1446.3,1397.3 1448.8,1395.2 1451.3,1393.2 1453.8,1391.3 1456.3,1389.6 1458.8,1388 1461.3,1386.5 1463.8,1385.2 1466.3,1384.1 1468.8,1383.1 1471.3,1382.4 1473.8,1381.8 1476.3,1381.4 1478.8,1381.2 1481.3,1381.2 1483.8,1381.4 1486.3,1381.9 1488.8,1382.5 1491.3,1383.3 1493.8,1384.3 1496.3,1385.5 1498.8,1386.8 1501.3,1388.3 1503.8,1389.9 1506.3,1391.7 1508.8,1393.6 1511.3,1395.6 1513.8,1397.7 1516.3,1399.9 1518.8,1402.2 1521.3,1404.5 1523.8,1406.9 1526.3,1409.3 1528.8,1411.7 1531.3,1414.1 1533.8,1416.6 1536.3,1419 1538.8,1421.4 1541.3,1423.7 1543.8,1426 1546.3,1428.3 1548.8,1430.5 1551.3,1432.7 1553.8,1434.8 1556.3,1436.8 1558.8,1438.7 1561.3,1440.6 1563.8,1442.4 1566.3,1444.1 1568.8,1445.7 1571.3,1447.2 1573.8,1448.7 1576.3,1450.1 1578.8,1451.4 1581.3,1452.6 1583.8,1453.7 1586.3,1454.8 1588.8,1455.8 1591.3,1456.7 1593.8,1457.5 1596.3,1458.3 1598.8,1459.1 1601.3,1459.7 1603.8,1460.3 1606.3,1460.9 1608.8,1461.4 1611.3,1461.9 1613.8,1462.3 1616.3,1462.7 1618.8,1463.1 1621.3,1463.4 1623.8,1463.7 1626.3,1463.9 1628.8,1464.2 1631.3,1464.4 1633.8,1464.6 1636.3,1464.7 1638.8,1464.9 1641.3,1465.1 1643.8,1465.2 1646.3,1465.3 1648.8,1465.4 1651.3,1465.5 1653.8,1465.6 1656.3,1465.7 1658.8,1465.7 1661.3,1465.8 1663.8,1465.9 1666.3,1465.9 1668.8,1466 1671.3,1466 1673.8,1466.1 1676.3,1466.1 1678.8,1466.1 1681.3,1466.2 1683.8,1466.2 1686.3,1466.2 1688.8,1466.3 1691.3,1466.3 1693.8,1466.3 1696.3,1466.4 1698.8,1466.4 1701.3,1466.4 1703.8,1466.4 1706.3,1466.5 1708.8,1466.5 1711.3,1466.5 1713.8,1466.5 1716.3,1466.6 1718.8,1466.6 1721.3,1466.6 1723.8,1466.6 1726.3,1466.6 1728.8,1466.7 1731.3,1466.7 1733.8,1466.7 1736.3,1466.7 1738.8,1466.7 1741.3,1466.8 1742.4,1466.8 1742.4,1467.5 1741.3,1467.5 1738.8,1467.5 1736.3,1467.5 1733.8,1467.5 1731.3,1467.5 1728.8,1467.4 1726.3,1467.4 1723.8,1467.4 1721.3,1467.4 1718.8,1467.4 1716.3,1467.4 1713.8,1467.4 1711.3,1467.4 1708.8,1467.4 1706.3,1467.4 1703.8,1467.3 1701.3,1467.3 1698.8,1467.3 1696.3,1467.3 1693.8,1467.3 1691.3,1467.3 1688.8,1467.3 1686.3,1467.3 1683.8,1467.3 1681.3,1467.2 1678.8,1467.2 1676.3,1467.2 1673.8,1467.2 1671.3,1467.2 1668.8,1467.2 1666.3,1467.2 1663.8,1467.2 1661.3,1467.2 1658.8,1467.2 1656.3,1467.1 1653.8,1467.1 1651.3,1467.1 1648.8,1467.1 1646.3,1467.1 1643.8,1467.1 1641.3,1467.1 1638.8,1467.1 1636.3,1467.1 1633.8,1467 1631.3,1467 1628.8,1467 1626.3,1467 1623.8,1467 1621.3,1467 1618.8,1467 1616.3,1467 1613.8,1467 1611.3,1467 1608.8,1466.9 1606.3,1466.9 1603.8,1466.9 1601.3,1466.9 1598.8,1466.9 1596.3,1466.9 1593.8,1466.9 1591.3,1466.9 1588.8,1466.9 1586.3,1466.8 1583.8,1466.8 1581.3,1466.8 1578.8,1466.8 1576.3,1466.8 1573.8,1466.8 1571.3,1466.8 1568.8,1466.8 1566.3,1466.8 1563.8,1466.8 1561.3,1466.7 1558.8,1466.7 1556.3,1466.7 1553.8,1466.7 1551.3,1466.7 1548.8,1466.7 1546.3,1466.7 1543.8,1466.7 1541.3,1466.7 1538.8,1466.6 1536.3,1466.6 1533.8,1466.6 1531.3,1466.6 1528.8,1466.6 1526.3,1466.6 1523.8,1466.6 1521.3,1466.6 1518.8,1466.6 1516.3,1466.6 1513.8,1466.5 1511.3,1466.5 1508.8,1466.5 1506.3,1466.5 1503.8,1466.5 1501.3,1466.5 1498.8,1466.5 1496.3,1466.5 1493.8,1466.5 1491.3,1466.4 1488.8,1466.4 1486.3,1466.4 1483.8,1466.4 1481.3,1466.4 1478.8,1466.4 1476.3,1466.4 1473.8,1466.4 1471.3,1466.3 1468.8,1466.3 1466.3,1466.3 1463.8,1466.3 1461.3,1466.3 1458.8,1466.2 1456.3,1466.2 1453.8,1466.2 1451.3,1466.2 1448.8,1466.2 1446.3,1466.1 1443.8,1466.1 1441.3,1466.1 1438.8,1466.1 1436.3,1466.1 1433.8,1466 1431.3,1466 1428.8,1466 1426.3,1466 1423.8,1466 1421.3,1465.9 1418.8,1465.9 1416.3,1465.9 1413.8,1465.9 1411.3,1465.9 1408.8,1465.8 1406.3,1465.8 1403.8,1465.8 1401.3,1465.8 1398.8,1465.8 1396.3,1465.8 1393.8,1465.7 1391.3,1465.7 1388.8,1465.7 1386.3,1465.7 1383.8,1465.7 1381.3,1465.6 1378.8,1465.6 1376.3,1465.6 1373.8,1465.6 1371.3,1465.6 1368.8,1465.5 1366.3,1465.5 1363.8,1465.5 1361.3,1465.5 1358.8,1465.5 1356.3,1465.4 1353.8,1465.4 1351.3,1465.4 1348.8,1465.4 1346.3,1465.4 1343.8,1465.3 1341.3,1465.3 1338.8,1465.3 1336.3,1465.3 1333.8,1465.3 1331.3,1465.3 1328.8,1465.3 1326.3,1465.3 1323.8,1465.3 1321.3,1465.3 1318.8,1465.2 1316.3,1465.2 1313.8,1465.2 1311.3,1465.2 1308.8,1465.2 1306.3,1465.2 1303.8,1465.2 1301.3,1465.2 1298.8,1465.2 1296.3,1465.2 1293.8,1465.2 1291.3,1465.2 1288.8,1465.2 1286.3,1465.1 1283.8,1465.1 1281.3,1465.1 1278.8,1465.1 1276.3,1465.1 1273.8,1465.1 1271.3,1465.1 1268.8,1465.1 1266.3,1465.1 1263.8,1465.1 1261.3,1465.1 1258.8,1465.1 1256.3,1465.1 1253.8,1465.1 1251.3,1465 1248.8,1465 1246.3,1465 1243.8,1465 1241.3,1465 1238.8,1465 1236.3,1465 1233.8,1465 1231.3,1465 1228.8,1465 1226.3,1465 1223.8,1465 1221.3,1465 1218.8,1465 1216.3,1464.9 1213.8,1464.9 1211.3,1464.9 1208.8,1464.9 1206.3,1464.9 1203.8,1464.9 1201.3,1464.9 1198.8,1464.9 1196.3,1464.9 1193.8,1464.9 1191.3,1464.9 1188.8,1464.9 1186.3,1464.9 1183.8,1464.8" fill="url(#g25)" fill-opacity="0.9"/><polyline points="1031.3,1463.9 1033.8,1463.9 1036.3,1464 1038.8,1464 1041.3,1464 1043.8,1464 1046.3,1464 1048.8,1464 1051.3,1464 1053.8,1464 1056.3,1464 1058.8,1464 1061.3,1464 1063.8,1464 1066.3,1464 1068.8,1464 1071.3,1464 1073.8,1464 1076.3,1464 1078.8,1464 1081.3,1464.1 1083.8,1464.1 1086.3,1464.1 1088.8,1464.1 1091.3,1464.1 1093.8,1464.1 1096.3,1464.1 1098.8,1464.1 1101.3,1464.1 1103.8,1464.1 1106.3,1464.1 1108.8,1464.1 1111.3,1464.1 1113.8,1464.1 1116.3,1464.1 1118.8,1464.1 1121.3,1464.1 1123.8,1464.1 1126.3,1464.1 1128.8,1464.1 1131.3,1464.1 1133.8,1464.1 1136.3,1464.1 1138.8,1464.1 1141.3,1464.2 1143.8,1464.2 1146.3,1464.2 1148.8,1464.2 1151.3,1464.2 1153.8,1464.2 1156.3,1464.2 1158.8,1464.2 1161.3,1464.2 1163.8,1464.2 1166.3,1464.2 1168.8,1464.2 1171.3,1464.2 1173.8,1464.2 1176.3,1464.2 1178.8,1464.2 1181.3,1464.2 1183.8,1464.2 1186.3,1464.2 1188.8,1464.2 1191.3,1464.2 1193.8,1464.2 1196.3,1464.2 1198.8,1464.2 1201.3,1464.2 1203.8,1464.2 1206.3,1464.2 1208.8,1464.2 1211.3,1464.2 1213.8,1464.2 1216.3,1464.2 1218.8,1464.2 1221.3,1464.2 1223.8,1464.2 1226.3,1464.2 1228.8,1464.2 1231.3,1464.2 1233.8,1464.2 1236.3,1464.2 1238.8,1464.2 1241.3,1464.2 1243.8,1464.2 1246.3,1464.2 1248.8,1464.2 1251.3,1464.2 1253.8,1464.2 1256.3,1464.2 1258.8,1464.1 1261.3,1464.1 1263.8,1464.1 1266.3,1464.1 1268.8,1464.1 1271.3,1464.1 1273.8,1464.1 1276.3,1464.1 1278.8,1464.1 1281.3,1464 1283.8,1464 1286.3,1464 1288.8,1464 1291.3,1463.9 1293.8,1463.9 1296.3,1463.9 1298.8,1463.8 1301.3,1463.8 1303.8,1463.7 1306.3,1463.7 1308.8,1463.6 1311.3,1463.5 1313.8,1463.4 1316.3,1463.3 1318.8,1463.2 1321.3,1463.1 1323.8,1462.9 1326.3,1462.8 1328.8,1462.6 1331.3,1462.4 1333.8,1462.2 1336.3,1461.9 1338.8,1461.7 1341.3,1461.4 1343.8,1461.1 1346.3,1460.7 1348.8,1460.3 1351.3,1459.9 1353.8,1459.4 1356.3,1458.8 1358.8,1458.2 1361.3,1457.6 1363.8,1456.9 1366.3,1456.2 1368.8,1455.3 1371.3,1454.4 1373.8,1453.5 1376.3,1452.4 1378.8,1451.3 1381.3,1450.1 1383.8,1448.9 1386.3,1447.5 1388.8,1446.1 1391.3,1444.6 1393.8,1443 1396.3,1441.3 1398.8,1439.6 1401.3,1437.7 1403.8,1435.8 1406.3,1433.8 1408.8,1431.7 1411.3,1429.6 1413.8,1427.4 1416.3,1425.2 1418.8,1422.9 1421.3,1420.6 1423.8,1418.2 1426.3,1415.8 1428.8,1413.4 1431.3,1411 1433.8,1408.6 1436.3,1406.3 1438.8,1403.9 1441.3,1401.7 1443.8,1399.4 1446.3,1397.3 1448.8,1395.2 1451.3,1393.2 1453.8,1391.3 1456.3,1389.6 1458.8,1388 1461.3,1386.5 1463.8,1385.2 1466.3,1384.1 1468.8,1383.1 1471.3,1382.4 1473.8,1381.8 1476.3,1381.4 1478.8,1381.2 1481.3,1381.2 1483.8,1381.4 1486.3,1381.9 1488.8,1382.5 1491.3,1383.3 1493.8,1384.3 1496.3,1385.5 1498.8,1386.8 1501.3,1388.3 1503.8,1389.9 1506.3,1391.7 1508.8,1393.6 1511.3,1395.6 1513.8,1397.7 1516.3,1399.9 1518.8,1402.2 1521.3,1404.5 1523.8,1406.9 1526.3,1409.3 1528.8,1411.7 1531.3,1414.1 1533.8,1416.6 1536.3,1419 1538.8,1421.4 1541.3,1423.7 1543.8,1426 1546.3,1428.3 1548.8,1430.5 1551.3,1432.7 1553.8,1434.8 1556.3,1436.8 1558.8,1438.7 1561.3,1440.6 1563.8,1442.4 1566.3,1444.1 1568.8,1445.7 1571.3,1447.2 1573.8,1448.7 1576.3,1450.1 1578.8,1451.4 1581.3,1452.6 1583.8,1453.7 1586.3,1454.8 1588.8,1455.8 1591.3,1456.7 1593.8,1457.5 1596.3,1458.3 1598.8,1459.1 1601.3,1459.7 1603.8,1460.3 1606.3,1460.9 1608.8,1461.4 1611.3,1461.9 1613.8,1462.3 1616.3,1462.7 1618.8,1463.1 1621.3,1463.4 1623.8,1463.7 1626.3,1463.9 1628.8,1464.2 1631.3,1464.4 1633.8,1464.6 1636.3,1464.7 1638.8,1464.9 1641.3,1465.1 1643.8,1465.2 1646.3,1465.3 1648.8,1465.4 1651.3,1465.5 1653.8,1465.6 1656.3,1465.7 1658.8,1465.7 1661.3,1465.8 1663.8,1465.9 1666.3,1465.9 1668.8,1466 1671.3,1466 1673.8,1466.1 1676.3,1466.1 1678.8,1466.1 1681.3,1466.2 1683.8,1466.2 1686.3,1466.2 1688.8,1466.3 1691.3,1466.3 1693.8,1466.3 1696.3,1466.4 1698.8,1466.4 1701.3,1466.4 1703.8,1466.4 1706.3,1466.5 1708.8,1466.5 1711.3,1466.5 1713.8,1466.5 1716.3,1466.6 1718.8,1466.6 1721.3,1466.6 1723.8,1466.6 1726.3,1466.6 1728.8,1466.7 1731.3,1466.7 1733.8,1466.7 1736.3,1466.7 1738.8,1466.7 1741.3,1466.8 1742.4,1466.8" fill="none" stroke="#7fd6a0" stroke-width="1.6"/><polygon points="1153.8,1464.1 1156.3,1464.1 1158.8,1464 1161.3,1464 1163.8,1464 1166.3,1464 1168.8,1463.9 1171.3,1463.9 1173.8,1463.9 1176.3,1463.8 1178.8,1463.8 1181.3,1463.7 1183.8,1463.7 1186.3,1463.6 1188.8,1463.5 1191.3,1463.4 1193.8,1463.4 1196.3,1463.3 1198.8,1463.2 1201.3,1463.1 1203.8,1463 1206.3,1462.9 1208.8,1462.8 1211.3,1462.6 1213.8,1462.5 1216.3,1462.3 1218.8,1462.2 1221.3,1462 1223.8,1461.9 1226.3,1461.7 1228.8,1461.5 1231.3,1461.3 1233.8,1461.1 1236.3,1460.9 1238.8,1460.7 1241.3,1460.4 1243.8,1460.2 1246.3,1459.9 1248.8,1459.7 1251.3,1459.4 1253.8,1459.1 1256.3,1458.9 1258.8,1458.6 1261.3,1458.3 1263.8,1458 1266.3,1457.7 1268.8,1457.4 1271.3,1457.1 1273.8,1456.8 1276.3,1456.5 1278.8,1456.2 1281.3,1455.9 1283.8,1455.6 1286.3,1455.3 1288.8,1455 1291.3,1454.7 1293.8,1454.4 1296.3,1454.1 1298.8,1453.8 1301.3,1453.6 1303.8,1453.3 1306.3,1453.1 1308.8,1452.8 1311.3,1452.6 1313.8,1452.4 1316.3,1452.3 1318.8,1452.1 1321.3,1451.9 1323.8,1451.8 1326.3,1451.7 1328.8,1451.6 1331.3,1451.6 1333.8,1451.5 1336.3,1451.5 1338.8,1451.5 1341.3,1451.5 1343.8,1451.6 1346.3,1451.7 1348.8,1451.8 1351.3,1451.9 1353.8,1452 1356.3,1452.2 1358.8,1452.4 1361.3,1452.5 1363.8,1452.8 1366.3,1453 1368.8,1453.2 1371.3,1453.5 1373.8,1453.7 1376.3,1454 1378.8,1454.3 1381.3,1454.6 1383.8,1454.9 1386.3,1455.2 1388.8,1455.6 1391.3,1455.9 1393.8,1456.2 1396.3,1456.6 1398.8,1456.9 1401.3,1457.2 1403.8,1457.6 1406.3,1457.9 1408.8,1458.2 1411.3,1458.5 1413.8,1458.9 1416.3,1459.2 1418.8,1459.5 1421.3,1459.8 1423.8,1460.1 1426.3,1460.4 1428.8,1460.7 1431.3,1461 1433.8,1461.3 1436.3,1461.5 1438.8,1461.8 1441.3,1462 1443.8,1462.3 1446.3,1462.5 1448.8,1462.7 1451.3,1462.9 1453.8,1463.1 1456.3,1463.3 1458.8,1463.5 1461.3,1463.7 1463.8,1463.9 1466.3,1464 1468.8,1464.2 1471.3,1464.3 1473.8,1464.5 1476.3,1464.6 1478.8,1464.7 1481.3,1464.8 1483.8,1464.9 1486.3,1465 1488.8,1465.1 1491.3,1465.2 1493.8,1465.3 1496.3,1465.4 1498.8,1465.4 1501.3,1465.5 1503.8,1465.6 1506.3,1465.6 1508.8,1465.7 1511.3,1465.7 1513.8,1465.8 1516.3,1465.8 1518.8,1465.8 1521.3,1465.9 1523.8,1465.9 1523.8,1466.6 1521.3,1466.6 1518.8,1466.6 1516.3,1466.6 1513.8,1466.5 1511.3,1466.5 1508.8,1466.5 1506.3,1466.5 1503.8,1466.5 1501.3,1466.5 1498.8,1466.5 1496.3,1466.5 1493.8,1466.5 1491.3,1466.4 1488.8,1466.4 1486.3,1466.4 1483.8,1466.4 1481.3,1466.4 1478.8,1466.4 1476.3,1466.4 1473.8,1466.4 1471.3,1466.3 1468.8,1466.3 1466.3,1466.3 1463.8,1466.3 1461.3,1466.3 1458.8,1466.2 1456.3,1466.2 1453.8,1466.2 1451.3,1466.2 1448.8,1466.2 1446.3,1466.1 1443.8,1466.1 1441.3,1466.1 1438.8,1466.1 1436.3,1466.1 1433.8,1466 1431.3,1466 1428.8,1466 1426.3,1466 1423.8,1466 1421.3,1465.9 1418.8,1465.9 1416.3,1465.9 1413.8,1465.9 1411.3,1465.9 1408.8,1465.8 1406.3,1465.8 1403.8,1465.8 1401.3,1465.8 1398.8,1465.8 1396.3,1465.8 1393.8,1465.7 1391.3,1465.7 1388.8,1465.7 1386.3,1465.7 1383.8,1465.7 1381.3,1465.6 1378.8,1465.6 1376.3,1465.6 1373.8,1465.6 1371.3,1465.6 1368.8,1465.5 1366.3,1465.5 1363.8,1465.5 1361.3,1465.5 1358.8,1465.5 1356.3,1465.4 1353.8,1465.4 1351.3,1465.4 1348.8,1465.4 1346.3,1465.4 1343.8,1465.3 1341.3,1465.3 1338.8,1465.3 1336.3,1465.3 1333.8,1465.3 1331.3,1465.3 1328.8,1465.3 1326.3,1465.3 1323.8,1465.3 1321.3,1465.3 1318.8,1465.2 1316.3,1465.2 1313.8,1465.2 1311.3,1465.2 1308.8,1465.2 1306.3,1465.2 1303.8,1465.2 1301.3,1465.2 1298.8,1465.2 1296.3,1465.2 1293.8,1465.2 1291.3,1465.2 1288.8,1465.2 1286.3,1465.1 1283.8,1465.1 1281.3,1465.1 1278.8,1465.1 1276.3,1465.1 1273.8,1465.1 1271.3,1465.1 1268.8,1465.1 1266.3,1465.1 1263.8,1465.1 1261.3,1465.1 1258.8,1465.1 1256.3,1465.1 1253.8,1465.1 1251.3,1465 1248.8,1465 1246.3,1465 1243.8,1465 1241.3,1465 1238.8,1465 1236.3,1465 1233.8,1465 1231.3,1465 1228.8,1465 1226.3,1465 1223.8,1465 1221.3,1465 1218.8,1465 1216.3,1464.9 1213.8,1464.9 1211.3,1464.9 1208.8,1464.9 1206.3,1464.9 1203.8,1464.9 1201.3,1464.9 1198.8,1464.9 1196.3,1464.9 1193.8,1464.9 1191.3,1464.9 1188.8,1464.9 1186.3,1464.9 1183.8,1464.8 1181.3,1464.8 1178.8,1464.8 1176.3,1464.8 1173.8,1464.8 1171.3,1464.8 1168.8,1464.8 1166.3,1464.8 1163.8,1464.8 1161.3,1464.8 1158.8,1464.8 1156.3,1464.8 1153.8,1464.8" fill="url(#g26)" fill-opacity="0.8"/><polyline points="1032.6,1464.1 1338,1465 1480,1466.1 1741.1,1467.2" fill="none" stroke="#1f63d4" stroke-width="2.3"/><path d="M1338.5 1434.5V1463.4" stroke="#ee1c25" stroke-width="2.4" stroke-dasharray="14 9" fill="none"/><path d="M1480 1358.6V1467.5" stroke="#ee1c25" stroke-width="2.8" stroke-dasharray="12.5 11" fill="none"/></g>
<g clip-path="url(#c30)"><use href="#M" x="1040.5" y="1632.2"/><use href="#M" x="1054.8" y="1632.2"/><use href="#M" x="1069" y="1632.2"/><use href="#M" x="1083.2" y="1632.2"/><use href="#M" x="1097.4" y="1632.3"/><use href="#M" x="1111.7" y="1632.3"/><use href="#M" x="1125.9" y="1632.3"/><use href="#M" x="1140.1" y="1632.2"/><use href="#M" x="1154.3" y="1632.2"/><use href="#M" x="1168.5" y="1632.2"/><use href="#M" x="1182.8" y="1632.1"/><use href="#M" x="1197" y="1632"/><use href="#M" x="1211.2" y="1631.7"/><use href="#M" x="1225.4" y="1631.4"/><use href="#M" x="1239.7" y="1630.8"/><use href="#M" x="1253.9" y="1630"/><use href="#M" x="1268.1" y="1628.8"/><use href="#M" x="1282.3" y="1627.3"/><use href="#M" x="1296.5" y="1625.5"/><use href="#M" x="1310.8" y="1623.4"/><use href="#M" x="1325" y="1621.1"/><use href="#M" x="1339.2" y="1618.7"/><use href="#M" x="1353.4" y="1616.2"/><use href="#M" x="1367.7" y="1613.7"/><use href="#M" x="1381.9" y="1610.8"/><use href="#M" x="1396.1" y="1606.9"/><use href="#M" x="1410.3" y="1601.3"/><use href="#M" x="1424.5" y="1593.5"/><use href="#M" x="1438.8" y="1583.6"/><use href="#M" x="1453" y="1572.6"/><use href="#M" x="1467.2" y="1562.3"/><use href="#M" x="1481.4" y="1555.3"/><use href="#M" x="1495.6" y="1553.7"/><use href="#M" x="1509.9" y="1558.6"/><use href="#M" x="1524.1" y="1568.7"/><use href="#M" x="1538.3" y="1581.8"/><use href="#M" x="1552.5" y="1595.4"/><use href="#M" x="1566.8" y="1607.5"/><use href="#M" x="1581" y="1617"/><use href="#M" x="1595.2" y="1623.7"/><use href="#M" x="1609.4" y="1628"/><use href="#M" x="1623.6" y="1630.6"/><use href="#M" x="1637.9" y="1632"/><use href="#M" x="1652.1" y="1632.8"/><use href="#M" x="1666.3" y="1633.2"/><use href="#M" x="1680.5" y="1633.5"/><use href="#M" x="1694.8" y="1633.7"/><use href="#M" x="1709" y="1633.8"/><use href="#M" x="1723.2" y="1634"/><use href="#M" x="1737.4" y="1634.1"/><polygon points="1236.3,1632.4 1238.8,1632.4 1241.3,1632.4 1243.8,1632.4 1246.3,1632.4 1248.8,1632.4 1251.3,1632.4 1253.8,1632.4 1256.3,1632.4 1258.8,1632.4 1261.3,1632.4 1263.8,1632.4 1266.3,1632.4 1268.8,1632.4 1271.3,1632.3 1273.8,1632.3 1276.3,1632.3 1278.8,1632.3 1281.3,1632.3 1283.8,1632.3 1286.3,1632.3 1288.8,1632.3 1291.3,1632.3 1293.8,1632.3 1296.3,1632.3 1298.8,1632.2 1301.3,1632.2 1303.8,1632.2 1306.3,1632.2 1308.8,1632.2 1311.3,1632.2 1313.8,1632.1 1316.3,1632.1 1318.8,1632.1 1321.3,1632 1323.8,1632 1326.3,1632 1328.8,1631.9 1331.3,1631.9 1333.8,1631.8 1336.3,1631.7 1338.8,1631.7 1341.3,1631.6 1343.8,1631.5 1346.3,1631.3 1348.8,1631.2 1351.3,1631.1 1353.8,1630.9 1356.3,1630.7 1358.8,1630.5 1361.3,1630.3 1363.8,1630 1366.3,1629.7 1368.8,1629.4 1371.3,1629 1373.8,1628.6 1376.3,1628.2 1378.8,1627.7 1381.3,1627.1 1383.8,1626.5 1386.3,1625.8 1388.8,1625.1 1391.3,1624.3 1393.8,1623.5 1396.3,1622.5 1398.8,1621.5 1401.3,1620.4 1403.8,1619.3 1406.3,1618 1408.8,1616.7 1411.3,1615.2 1413.8,1613.7 1416.3,1612.1 1418.8,1610.5 1421.3,1608.7 1423.8,1606.8 1426.3,1604.9 1428.8,1602.9 1431.3,1600.8 1433.8,1598.7 1436.3,1596.5 1438.8,1594.3 1441.3,1592 1443.8,1589.7 1446.3,1587.4 1448.8,1585 1451.3,1582.7 1453.8,1580.4 1456.3,1578.1 1458.8,1575.9 1461.3,1573.7 1463.8,1571.6 1466.3,1569.6 1468.8,1567.7 1471.3,1565.9 1473.8,1564.2 1476.3,1562.7 1478.8,1561.3 1481.3,1560.1 1483.8,1559.1 1486.3,1558.3 1488.8,1557.7 1491.3,1557.3 1493.8,1557.1 1496.3,1557.1 1498.8,1557.4 1501.3,1557.8 1503.8,1558.5 1506.3,1559.3 1508.8,1560.4 1511.3,1561.6 1513.8,1563 1516.3,1564.5 1518.8,1566.2 1521.3,1568 1523.8,1570 1526.3,1572 1528.8,1574.1 1531.3,1576.4 1533.8,1578.6 1536.3,1580.9 1538.8,1583.3 1541.3,1585.6 1543.8,1588 1546.3,1590.3 1548.8,1592.6 1551.3,1594.9 1553.8,1597.2 1556.3,1599.4 1558.8,1601.5 1561.3,1603.6 1563.8,1605.6 1566.3,1607.6 1568.8,1609.4 1571.3,1611.2 1573.8,1612.9 1576.3,1614.5 1578.8,1616 1581.3,1617.5 1583.8,1618.8 1586.3,1620.1 1588.8,1621.3 1591.3,1622.4 1593.8,1623.4 1596.3,1624.3 1598.8,1625.2 1601.3,1626 1603.8,1626.8 1606.3,1627.4 1608.8,1628.1 1611.3,1628.6 1613.8,1629.1 1616.3,1629.6 1618.8,1630 1621.3,1630.4 1623.8,1630.7 1626.3,1631.1 1628.8,1631.3 1631.3,1631.6 1633.8,1631.8 1636.3,1632 1638.8,1632.2 1641.3,1632.4 1643.8,1632.5 1646.3,1632.6 1648.8,1632.8 1651.3,1632.9 1653.8,1633 1656.3,1633 1658.8,1633.1 1661.3,1633.2 1663.8,1633.3 1666.3,1633.3 1668.8,1633.4 1671.3,1633.4 1673.8,1633.5 1676.3,1633.5 1678.8,1633.5 1681.3,1633.6 1683.8,1633.6 1686.3,1633.7 1688.8,1633.7 1691.3,1633.7 1693.8,1633.8 1696.3,1633.8 1698.8,1633.8 1701.3,1633.8 1703.8,1633.9 1706.3,1633.9 1708.8,1633.9 1711.3,1633.9 1713.8,1634 1716.3,1634 1718.8,1634 1721.3,1634 1723.8,1634.1 1726.3,1634.1 1728.8,1634.1 1731.3,1634.1 1733.8,1634.1 1736.3,1634.2 1738.8,1634.2 1741.3,1634.2 1742.4,1634.2 1742.4,1634.9 1741.3,1634.9 1738.8,1634.9 1736.3,1634.9 1733.8,1634.9 1731.3,1634.8 1728.8,1634.8 1726.3,1634.8 1723.8,1634.8 1721.3,1634.8 1718.8,1634.8 1716.3,1634.8 1713.8,1634.8 1711.3,1634.7 1708.8,1634.7 1706.3,1634.7 1703.8,1634.7 1701.3,1634.7 1698.8,1634.7 1696.3,1634.7 1693.8,1634.6 1691.3,1634.6 1688.8,1634.6 1686.3,1634.6 1683.8,1634.6 1681.3,1634.6 1678.8,1634.6 1676.3,1634.6 1673.8,1634.5 1671.3,1634.5 1668.8,1634.5 1666.3,1634.5 1663.8,1634.5 1661.3,1634.5 1658.8,1634.5 1656.3,1634.4 1653.8,1634.4 1651.3,1634.4 1648.8,1634.4 1646.3,1634.4 1643.8,1634.4 1641.3,1634.4 1638.8,1634.4 1636.3,1634.3 1633.8,1634.3 1631.3,1634.3 1628.8,1634.3 1626.3,1634.3 1623.8,1634.3 1621.3,1634.3 1618.8,1634.3 1616.3,1634.2 1613.8,1634.2 1611.3,1634.2 1608.8,1634.2 1606.3,1634.2 1603.8,1634.2 1601.3,1634.2 1598.8,1634.1 1596.3,1634.1 1593.8,1634.1 1591.3,1634.1 1588.8,1634.1 1586.3,1634.1 1583.8,1634.1 1581.3,1634.1 1578.8,1634 1576.3,1634 1573.8,1634 1571.3,1634 1568.8,1634 1566.3,1634 1563.8,1634 1561.3,1633.9 1558.8,1633.9 1556.3,1633.9 1553.8,1633.9 1551.3,1633.9 1548.8,1633.9 1546.3,1633.9 1543.8,1633.9 1541.3,1633.8 1538.8,1633.8 1536.3,1633.8 1533.8,1633.8 1531.3,1633.8 1528.8,1633.8 1526.3,1633.8 1523.8,1633.8 1521.3,1633.7 1518.8,1633.7 1516.3,1633.7 1513.8,1633.7 1511.3,1633.7 1508.8,1633.7 1506.3,1633.7 1503.8,1633.6 1501.3,1633.6 1498.8,1633.6 1496.3,1633.6 1493.8,1633.6 1491.3,1633.6 1488.8,1633.6 1486.3,1633.6 1483.8,1633.6 1481.3,1633.6 1478.8,1633.6 1476.3,1633.6 1473.8,1633.5 1471.3,1633.5 1468.8,1633.5 1466.3,1633.5 1463.8,1633.5 1461.3,1633.5 1458.8,1633.5 1456.3,1633.5 1453.8,1633.5 1451.3,1633.5 1448.8,1633.5 1446.3,1633.5 1443.8,1633.5 1441.3,1633.5 1438.8,1633.5 1436.3,1633.4 1433.8,1633.4 1431.3,1633.4 1428.8,1633.4 1426.3,1633.4 1423.8,1633.4 1421.3,1633.4 1418.8,1633.4 1416.3,1633.4 1413.8,1633.4 1411.3,1633.4 1408.8,1633.4 1406.3,1633.4 1403.8,1633.4 1401.3,1633.4 1398.8,1633.3 1396.3,1633.3 1393.8,1633.3 1391.3,1633.3 1388.8,1633.3 1386.3,1633.3 1383.8,1633.3 1381.3,1633.3 1378.8,1633.3 1376.3,1633.3 1373.8,1633.3 1371.3,1633.3 1368.8,1633.3 1366.3,1633.3 1363.8,1633.3 1361.3,1633.3 1358.8,1633.3 1356.3,1633.3 1353.8,1633.3 1351.3,1633.2 1348.8,1633.2 1346.3,1633.2 1343.8,1633.2 1341.3,1633.2 1338.8,1633.2 1336.3,1633.2 1333.8,1633.2 1331.3,1633.2 1328.8,1633.2 1326.3,1633.2 1323.8,1633.2 1321.3,1633.2 1318.8,1633.2 1316.3,1633.2 1313.8,1633.2 1311.3,1633.2 1308.8,1633.2 1306.3,1633.2 1303.8,1633.2 1301.3,1633.2 1298.8,1633.2 1296.3,1633.2 1293.8,1633.2 1291.3,1633.1 1288.8,1633.1 1286.3,1633.1 1283.8,1633.1 1281.3,1633.1 1278.8,1633.1 1276.3,1633.1 1273.8,1633.1 1271.3,1633.1 1268.8,1633.1 1266.3,1633.1 1263.8,1633.1 1261.3,1633.1 1258.8,1633.1 1256.3,1633.1 1253.8,1633.1 1251.3,1633.1 1248.8,1633.1 1246.3,1633.1 1243.8,1633.1 1241.3,1633.1 1238.8,1633.1 1236.3,1633.1" fill="url(#g28)" fill-opacity="0.9"/><polyline points="1031.3,1632.3 1033.8,1632.3 1036.3,1632.3 1038.8,1632.3 1041.3,1632.3 1043.8,1632.3 1046.3,1632.3 1048.8,1632.3 1051.3,1632.3 1053.8,1632.3 1056.3,1632.3 1058.8,1632.3 1061.3,1632.3 1063.8,1632.3 1066.3,1632.3 1068.8,1632.3 1071.3,1632.3 1073.8,1632.3 1076.3,1632.3 1078.8,1632.3 1081.3,1632.3 1083.8,1632.3 1086.3,1632.3 1088.8,1632.4 1091.3,1632.4 1093.8,1632.4 1096.3,1632.4 1098.8,1632.4 1101.3,1632.4 1103.8,1632.4 1106.3,1632.4 1108.8,1632.4 1111.3,1632.4 1113.8,1632.4 1116.3,1632.4 1118.8,1632.4 1121.3,1632.4 1123.8,1632.4 1126.3,1632.4 1128.8,1632.4 1131.3,1632.4 1133.8,1632.4 1136.3,1632.4 1138.8,1632.4 1141.3,1632.4 1143.8,1632.4 1146.3,1632.4 1148.8,1632.4 1151.3,1632.4 1153.8,1632.4 1156.3,1632.4 1158.8,1632.4 1161.3,1632.4 1163.8,1632.4 1166.3,1632.4 1168.8,1632.4 1171.3,1632.4 1173.8,1632.4 1176.3,1632.4 1178.8,1632.4 1181.3,1632.4 1183.8,1632.4 1186.3,1632.4 1188.8,1632.4 1191.3,1632.4 1193.8,1632.4 1196.3,1632.4 1198.8,1632.4 1201.3,1632.4 1203.8,1632.4 1206.3,1632.4 1208.8,1632.4 1211.3,1632.4 1213.8,1632.4 1216.3,1632.4 1218.8,1632.4 1221.3,1632.4 1223.8,1632.4 1226.3,1632.4 1228.8,1632.4 1231.3,1632.4 1233.8,1632.4 1236.3,1632.4 1238.8,1632.4 1241.3,1632.4 1243.8,1632.4 1246.3,1632.4 1248.8,1632.4 1251.3,1632.4 1253.8,1632.4 1256.3,1632.4 1258.8,1632.4 1261.3,1632.4 1263.8,1632.4 1266.3,1632.4 1268.8,1632.4 1271.3,1632.3 1273.8,1632.3 1276.3,1632.3 1278.8,1632.3 1281.3,1632.3 1283.8,1632.3 1286.3,1632.3 1288.8,1632.3 1291.3,1632.3 1293.8,1632.3 1296.3,1632.3 1298.8,1632.2 1301.3,1632.2 1303.8,1632.2 1306.3,1632.2 1308.8,1632.2 1311.3,1632.2 1313.8,1632.1 1316.3,1632.1 1318.8,1632.1 1321.3,1632 1323.8,1632 1326.3,1632 1328.8,1631.9 1331.3,1631.9 1333.8,1631.8 1336.3,1631.7 1338.8,1631.7 1341.3,1631.6 1343.8,1631.5 1346.3,1631.3 1348.8,1631.2 1351.3,1631.1 1353.8,1630.9 1356.3,1630.7 1358.8,1630.5 1361.3,1630.3 1363.8,1630 1366.3,1629.7 1368.8,1629.4 1371.3,1629 1373.8,1628.6 1376.3,1628.2 1378.8,1627.7 1381.3,1627.1 1383.8,1626.5 1386.3,1625.8 1388.8,1625.1 1391.3,1624.3 1393.8,1623.5 1396.3,1622.5 1398.8,1621.5 1401.3,1620.4 1403.8,1619.3 1406.3,1618 1408.8,1616.7 1411.3,1615.2 1413.8,1613.7 1416.3,1612.1 1418.8,1610.5 1421.3,1608.7 1423.8,1606.8 1426.3,1604.9 1428.8,1602.9 1431.3,1600.8 1433.8,1598.7 1436.3,1596.5 1438.8,1594.3 1441.3,1592 1443.8,1589.7 1446.3,1587.4 1448.8,1585 1451.3,1582.7 1453.8,1580.4 1456.3,1578.1 1458.8,1575.9 1461.3,1573.7 1463.8,1571.6 1466.3,1569.6 1468.8,1567.7 1471.3,1565.9 1473.8,1564.2 1476.3,1562.7 1478.8,1561.3 1481.3,1560.1 1483.8,1559.1 1486.3,1558.3 1488.8,1557.7 1491.3,1557.3 1493.8,1557.1 1496.3,1557.1 1498.8,1557.4 1501.3,1557.8 1503.8,1558.5 1506.3,1559.3 1508.8,1560.4 1511.3,1561.6 1513.8,1563 1516.3,1564.5 1518.8,1566.2 1521.3,1568 1523.8,1570 1526.3,1572 1528.8,1574.1 1531.3,1576.4 1533.8,1578.6 1536.3,1580.9 1538.8,1583.3 1541.3,1585.6 1543.8,1588 1546.3,1590.3 1548.8,1592.6 1551.3,1594.9 1553.8,1597.2 1556.3,1599.4 1558.8,1601.5 1561.3,1603.6 1563.8,1605.6 1566.3,1607.6 1568.8,1609.4 1571.3,1611.2 1573.8,1612.9 1576.3,1614.5 1578.8,1616 1581.3,1617.5 1583.8,1618.8 1586.3,1620.1 1588.8,1621.3 1591.3,1622.4 1593.8,1623.4 1596.3,1624.3 1598.8,1625.2 1601.3,1626 1603.8,1626.8 1606.3,1627.4 1608.8,1628.1 1611.3,1628.6 1613.8,1629.1 1616.3,1629.6 1618.8,1630 1621.3,1630.4 1623.8,1630.7 1626.3,1631.1 1628.8,1631.3 1631.3,1631.6 1633.8,1631.8 1636.3,1632 1638.8,1632.2 1641.3,1632.4 1643.8,1632.5 1646.3,1632.6 1648.8,1632.8 1651.3,1632.9 1653.8,1633 1656.3,1633 1658.8,1633.1 1661.3,1633.2 1663.8,1633.3 1666.3,1633.3 1668.8,1633.4 1671.3,1633.4 1673.8,1633.5 1676.3,1633.5 1678.8,1633.5 1681.3,1633.6 1683.8,1633.6 1686.3,1633.7 1688.8,1633.7 1691.3,1633.7 1693.8,1633.8 1696.3,1633.8 1698.8,1633.8 1701.3,1633.8 1703.8,1633.9 1706.3,1633.9 1708.8,1633.9 1711.3,1633.9 1713.8,1634 1716.3,1634 1718.8,1634 1721.3,1634 1723.8,1634.1 1726.3,1634.1 1728.8,1634.1 1731.3,1634.1 1733.8,1634.1 1736.3,1634.2 1738.8,1634.2 1741.3,1634.2 1742.4,1634.2" fill="none" stroke="#84dca6" stroke-width="1.6"/><polygon points="1188.8,1632.3 1191.3,1632.3 1193.8,1632.3 1196.3,1632.2 1198.8,1632.2 1201.3,1632.2 1203.8,1632.1 1206.3,1632.1 1208.8,1632.1 1211.3,1632 1213.8,1632 1216.3,1631.9 1218.8,1631.9 1221.3,1631.8 1223.8,1631.7 1226.3,1631.7 1228.8,1631.6 1231.3,1631.5 1233.8,1631.4 1236.3,1631.3 1238.8,1631.2 1241.3,1631.1 1243.8,1631 1246.3,1630.8 1248.8,1630.7 1251.3,1630.5 1253.8,1630.4 1256.3,1630.2 1258.8,1630 1261.3,1629.9 1263.8,1629.7 1266.3,1629.5 1268.8,1629.2 1271.3,1629 1273.8,1628.8 1276.3,1628.5 1278.8,1628.2 1281.3,1628 1283.8,1627.7 1286.3,1627.4 1288.8,1627.1 1291.3,1626.8 1293.8,1626.5 1296.3,1626.1 1298.8,1625.8 1301.3,1625.5 1303.8,1625.1 1306.3,1624.8 1308.8,1624.4 1311.3,1624 1313.8,1623.7 1316.3,1623.3 1318.8,1622.9 1321.3,1622.5 1323.8,1622.2 1326.3,1621.8 1328.8,1621.4 1331.3,1621.1 1333.8,1620.7 1336.3,1620.4 1338.8,1620 1341.3,1619.7 1343.8,1619.4 1346.3,1619.1 1348.8,1618.8 1351.3,1618.5 1353.8,1618.2 1356.3,1618 1358.8,1617.8 1361.3,1617.6 1363.8,1617.4 1366.3,1617.2 1368.8,1617.1 1371.3,1617 1373.8,1616.9 1376.3,1616.8 1378.8,1616.8 1381.3,1616.8 1383.8,1616.8 1386.3,1616.9 1388.8,1616.9 1391.3,1617 1393.8,1617.2 1396.3,1617.3 1398.8,1617.5 1401.3,1617.7 1403.8,1617.9 1406.3,1618.1 1408.8,1618.4 1411.3,1618.6 1413.8,1618.9 1416.3,1619.2 1418.8,1619.6 1421.3,1619.9 1423.8,1620.2 1426.3,1620.6 1428.8,1620.9 1431.3,1621.3 1433.8,1621.7 1436.3,1622.1 1438.8,1622.5 1441.3,1622.8 1443.8,1623.2 1446.3,1623.6 1448.8,1624 1451.3,1624.4 1453.8,1624.7 1456.3,1625.1 1458.8,1625.5 1461.3,1625.8 1463.8,1626.2 1466.3,1626.5 1468.8,1626.9 1471.3,1627.2 1473.8,1627.5 1476.3,1627.9 1478.8,1628.2 1481.3,1628.4 1483.8,1628.7 1486.3,1629 1488.8,1629.3 1491.3,1629.5 1493.8,1629.7 1496.3,1630 1498.8,1630.2 1501.3,1630.4 1503.8,1630.6 1506.3,1630.8 1508.8,1631 1511.3,1631.2 1513.8,1631.3 1516.3,1631.5 1518.8,1631.6 1521.3,1631.8 1523.8,1631.9 1526.3,1632 1528.8,1632.2 1531.3,1632.3 1533.8,1632.4 1536.3,1632.5 1538.8,1632.5 1541.3,1632.6 1543.8,1632.7 1546.3,1632.8 1548.8,1632.9 1551.3,1632.9 1553.8,1633 1556.3,1633 1558.8,1633.1 1561.3,1633.1 1563.8,1633.2 1566.3,1633.2 1568.8,1633.3 1571.3,1633.3 1573.8,1633.4 1573.8,1634 1571.3,1634 1568.8,1634 1566.3,1634 1563.8,1634 1561.3,1633.9 1558.8,1633.9 1556.3,1633.9 1553.8,1633.9 1551.3,1633.9 1548.8,1633.9 1546.3,1633.9 1543.8,1633.9 1541.3,1633.8 1538.8,1633.8 1536.3,1633.8 1533.8,1633.8 1531.3,1633.8 1528.8,1633.8 1526.3,1633.8 1523.8,1633.8 1521.3,1633.7 1518.8,1633.7 1516.3,1633.7 1513.8,1633.7 1511.3,1633.7 1508.8,1633.7 1506.3,1633.7 1503.8,1633.6 1501.3,1633.6 1498.8,1633.6 1496.3,1633.6 1493.8,1633.6 1491.3,1633.6 1488.8,1633.6 1486.3,1633.6 1483.8,1633.6 1481.3,1633.6 1478.8,1633.6 1476.3,1633.6 1473.8,1633.5 1471.3,1633.5 1468.8,1633.5 1466.3,1633.5 1463.8,1633.5 1461.3,1633.5 1458.8,1633.5 1456.3,1633.5 1453.8,1633.5 1451.3,1633.5 1448.8,1633.5 1446.3,1633.5 1443.8,1633.5 1441.3,1633.5 1438.8,1633.5 1436.3,1633.4 1433.8,1633.4 1431.3,1633.4 1428.8,1633.4 1426.3,1633.4 1423.8,1633.4 1421.3,1633.4 1418.8,1633.4 1416.3,1633.4 1413.8,1633.4 1411.3,1633.4 1408.8,1633.4 1406.3,1633.4 1403.8,1633.4 1401.3,1633.4 1398.8,1633.3 1396.3,1633.3 1393.8,1633.3 1391.3,1633.3 1388.8,1633.3 1386.3,1633.3 1383.8,1633.3 1381.3,1633.3 1378.8,1633.3 1376.3,1633.3 1373.8,1633.3 1371.3,1633.3 1368.8,1633.3 1366.3,1633.3 1363.8,1633.3 1361.3,1633.3 1358.8,1633.3 1356.3,1633.3 1353.8,1633.3 1351.3,1633.2 1348.8,1633.2 1346.3,1633.2 1343.8,1633.2 1341.3,1633.2 1338.8,1633.2 1336.3,1633.2 1333.8,1633.2 1331.3,1633.2 1328.8,1633.2 1326.3,1633.2 1323.8,1633.2 1321.3,1633.2 1318.8,1633.2 1316.3,1633.2 1313.8,1633.2 1311.3,1633.2 1308.8,1633.2 1306.3,1633.2 1303.8,1633.2 1301.3,1633.2 1298.8,1633.2 1296.3,1633.2 1293.8,1633.2 1291.3,1633.1 1288.8,1633.1 1286.3,1633.1 1283.8,1633.1 1281.3,1633.1 1278.8,1633.1 1276.3,1633.1 1273.8,1633.1 1271.3,1633.1 1268.8,1633.1 1266.3,1633.1 1263.8,1633.1 1261.3,1633.1 1258.8,1633.1 1256.3,1633.1 1253.8,1633.1 1251.3,1633.1 1248.8,1633.1 1246.3,1633.1 1243.8,1633.1 1241.3,1633.1 1238.8,1633.1 1236.3,1633.1 1233.8,1633 1231.3,1633 1228.8,1633 1226.3,1633 1223.8,1633 1221.3,1633 1218.8,1633 1216.3,1633 1213.8,1633 1211.3,1633 1208.8,1633 1206.3,1633 1203.8,1633 1201.3,1633 1198.8,1633 1196.3,1633 1193.8,1633 1191.3,1633 1188.8,1633" fill="url(#g29)" fill-opacity="0.8"/><polyline points="1032.6,1632.4 1381,1633 1495,1633.3 1741.1,1634.6" fill="none" stroke="#1f63d4" stroke-width="2.3"/><path d="M1381.2 1597.7V1632.7" stroke="#ee1c25" stroke-width="2.8" stroke-dasharray="14 8" fill="none"/><path d="M1494.9 1539.3V1623.5" stroke="#ee1c25" stroke-width="2.4" stroke-dasharray="12.5 11" fill="none"/></g>
<g clip-path="url(#c33)"><use href="#M" x="1040.5" y="1813"/><use href="#M" x="1054.8" y="1813"/><use href="#M" x="1069" y="1813"/><use href="#M" x="1083.2" y="1813"/><use href="#M" x="1097.4" y="1813"/><use href="#M" x="1111.7" y="1812.9"/><use href="#M" x="1125.9" y="1812.9"/><use href="#M" x="1140.1" y="1812.7"/><use href="#M" x="1154.3" y="1812.5"/><use href="#M" x="1168.5" y="1812"/><use href="#M" x="1182.8" y="1811.4"/><use href="#M" x="1197" y="1810.3"/><use href="#M" x="1211.2" y="1808.9"/><use href="#M" x="1225.4" y="1807"/><use href="#M" x="1239.7" y="1804.7"/><use href="#M" x="1253.9" y="1802.1"/><use href="#M" x="1268.1" y="1799.3"/><use href="#M" x="1282.3" y="1796.6"/><use href="#M" x="1296.5" y="1794"/><use href="#M" x="1310.8" y="1791.1"/><use href="#M" x="1325" y="1787.2"/><use href="#M" x="1339.2" y="1781.1"/><use href="#M" x="1353.4" y="1771.4"/><use href="#M" x="1367.7" y="1758"/><use href="#M" x="1381.9" y="1742.5"/><use href="#M" x="1396.1" y="1728.1"/><use href="#M" x="1410.3" y="1719.5"/><use href="#M" x="1424.5" y="1720.1"/><use href="#M" x="1438.8" y="1730.4"/><use href="#M" x="1453" y="1747.3"/><use href="#M" x="1467.2" y="1766.2"/><use href="#M" x="1481.4" y="1783.2"/><use href="#M" x="1495.6" y="1796.3"/><use href="#M" x="1509.9" y="1804.9"/><use href="#M" x="1524.1" y="1810"/><use href="#M" x="1538.3" y="1812.7"/><use href="#M" x="1552.5" y="1814"/><use href="#M" x="1566.8" y="1814.7"/><use href="#M" x="1581" y="1815"/><use href="#M" x="1595.2" y="1815.2"/><use href="#M" x="1609.4" y="1815.4"/><use href="#M" x="1623.6" y="1815.6"/><use href="#M" x="1637.9" y="1815.7"/><use href="#M" x="1652.1" y="1815.8"/><use href="#M" x="1666.3" y="1815.9"/><use href="#M" x="1680.5" y="1816"/><use href="#M" x="1694.8" y="1816.1"/><use href="#M" x="1709" y="1816.2"/><use href="#M" x="1723.2" y="1816.2"/><use href="#M" x="1737.4" y="1816.3"/><polygon points="1166.3,1813.2 1168.8,1813.2 1171.3,1813.2 1173.8,1813.2 1176.3,1813.2 1178.8,1813.2 1181.3,1813.2 1183.8,1813.2 1186.3,1813.2 1188.8,1813.2 1191.3,1813.2 1193.8,1813.2 1196.3,1813.2 1198.8,1813.2 1201.3,1813.2 1203.8,1813.2 1206.3,1813.2 1208.8,1813.2 1211.3,1813.2 1213.8,1813.2 1216.3,1813.2 1218.8,1813.2 1221.3,1813.2 1223.8,1813.2 1226.3,1813.2 1228.8,1813.2 1231.3,1813.1 1233.8,1813.1 1236.3,1813.1 1238.8,1813.1 1241.3,1813.1 1243.8,1813.1 1246.3,1813.1 1248.8,1813.1 1251.3,1813 1253.8,1813 1256.3,1813 1258.8,1813 1261.3,1812.9 1263.8,1812.9 1266.3,1812.8 1268.8,1812.8 1271.3,1812.7 1273.8,1812.7 1276.3,1812.6 1278.8,1812.5 1281.3,1812.4 1283.8,1812.3 1286.3,1812.1 1288.8,1812 1291.3,1811.8 1293.8,1811.6 1296.3,1811.3 1298.8,1811 1301.3,1810.7 1303.8,1810.4 1306.3,1810 1308.8,1809.5 1311.3,1809 1313.8,1808.4 1316.3,1807.7 1318.8,1807 1321.3,1806.2 1323.8,1805.3 1326.3,1804.3 1328.8,1803.2 1331.3,1802 1333.8,1800.6 1336.3,1799.2 1338.8,1797.6 1341.3,1795.9 1343.8,1794 1346.3,1792 1348.8,1789.9 1351.3,1787.6 1353.8,1785.2 1356.3,1782.7 1358.8,1780 1361.3,1777.3 1363.8,1774.4 1366.3,1771.4 1368.8,1768.3 1371.3,1765.2 1373.8,1762 1376.3,1758.8 1378.8,1755.6 1381.3,1752.4 1383.8,1749.2 1386.3,1746.1 1388.8,1743.1 1391.3,1740.2 1393.8,1737.4 1396.3,1734.8 1398.8,1732.3 1401.3,1730.1 1403.8,1728.2 1406.3,1726.5 1408.8,1725 1411.3,1723.9 1413.8,1723.1 1416.3,1722.6 1418.8,1722.5 1421.3,1722.7 1423.8,1723.2 1426.3,1724 1428.8,1725.2 1431.3,1726.6 1433.8,1728.3 1436.3,1730.3 1438.8,1732.6 1441.3,1735 1443.8,1737.7 1446.3,1740.5 1448.8,1743.5 1451.3,1746.5 1453.8,1749.7 1456.3,1752.9 1458.8,1756.2 1461.3,1759.4 1463.8,1762.7 1466.3,1765.9 1468.8,1769.1 1471.3,1772.2 1473.8,1775.2 1476.3,1778.1 1478.8,1780.9 1481.3,1783.6 1483.8,1786.2 1486.3,1788.7 1488.8,1791 1491.3,1793.2 1493.8,1795.2 1496.3,1797.1 1498.8,1798.9 1501.3,1800.5 1503.8,1802 1506.3,1803.4 1508.8,1804.7 1511.3,1805.8 1513.8,1806.9 1516.3,1807.8 1518.8,1808.7 1521.3,1809.4 1523.8,1810.1 1526.3,1810.7 1528.8,1811.3 1531.3,1811.8 1533.8,1812.2 1536.3,1812.6 1538.8,1812.9 1541.3,1813.2 1543.8,1813.5 1546.3,1813.7 1548.8,1813.9 1551.3,1814.1 1553.8,1814.2 1556.3,1814.4 1558.8,1814.5 1561.3,1814.6 1563.8,1814.7 1566.3,1814.8 1568.8,1814.9 1571.3,1814.9 1573.8,1815 1576.3,1815 1578.8,1815.1 1581.3,1815.1 1583.8,1815.2 1586.3,1815.2 1588.8,1815.3 1591.3,1815.3 1593.8,1815.3 1596.3,1815.4 1598.8,1815.4 1601.3,1815.4 1603.8,1815.4 1606.3,1815.5 1608.8,1815.5 1611.3,1815.5 1613.8,1815.5 1616.3,1815.6 1618.8,1815.6 1621.3,1815.6 1623.8,1815.6 1626.3,1815.7 1628.8,1815.7 1631.3,1815.7 1633.8,1815.7 1636.3,1815.7 1638.8,1815.8 1641.3,1815.8 1643.8,1815.8 1646.3,1815.8 1648.8,1815.8 1651.3,1815.9 1653.8,1815.9 1656.3,1815.9 1658.8,1815.9 1661.3,1815.9 1663.8,1815.9 1666.3,1816 1668.8,1816 1671.3,1816 1671.3,1816.6 1668.8,1816.6 1666.3,1816.6 1663.8,1816.6 1661.3,1816.6 1658.8,1816.6 1656.3,1816.6 1653.8,1816.6 1651.3,1816.6 1648.8,1816.6 1646.3,1816.5 1643.8,1816.5 1641.3,1816.5 1638.8,1816.5 1636.3,1816.5 1633.8,1816.5 1631.3,1816.5 1628.8,1816.5 1626.3,1816.5 1623.8,1816.5 1621.3,1816.5 1618.8,1816.4 1616.3,1816.4 1613.8,1816.4 1611.3,1816.4 1608.8,1816.4 1606.3,1816.4 1603.8,1816.4 1601.3,1816.4 1598.8,1816.4 1596.3,1816.4 1593.8,1816.3 1591.3,1816.3 1588.8,1816.3 1586.3,1816.3 1583.8,1816.3 1581.3,1816.3 1578.8,1816.3 1576.3,1816.3 1573.8,1816.3 1571.3,1816.3 1568.8,1816.3 1566.3,1816.2 1563.8,1816.2 1561.3,1816.2 1558.8,1816.2 1556.3,1816.2 1553.8,1816.2 1551.3,1816.2 1548.8,1816.2 1546.3,1816.2 1543.8,1816.2 1541.3,1816.2 1538.8,1816.1 1536.3,1816.1 1533.8,1816.1 1531.3,1816.1 1528.8,1816.1 1526.3,1816.1 1523.8,1816.1 1521.3,1816.1 1518.8,1816.1 1516.3,1816.1 1513.8,1816.1 1511.3,1816 1508.8,1816 1506.3,1816 1503.8,1816 1501.3,1816 1498.8,1816 1496.3,1816 1493.8,1816 1491.3,1816 1488.8,1816 1486.3,1816 1483.8,1815.9 1481.3,1815.9 1478.8,1815.9 1476.3,1815.9 1473.8,1815.9 1471.3,1815.9 1468.8,1815.9 1466.3,1815.9 1463.8,1815.9 1461.3,1815.9 1458.8,1815.8 1456.3,1815.8 1453.8,1815.8 1451.3,1815.8 1448.8,1815.8 1446.3,1815.8 1443.8,1815.8 1441.3,1815.8 1438.8,1815.8 1436.3,1815.8 1433.8,1815.8 1431.3,1815.7 1428.8,1815.7 1426.3,1815.7 1423.8,1815.7 1421.3,1815.7 1418.8,1815.7 1416.3,1815.7 1413.8,1815.6 1411.3,1815.6 1408.8,1815.6 1406.3,1815.5 1403.8,1815.5 1401.3,1815.5 1398.8,1815.4 1396.3,1815.4 1393.8,1815.4 1391.3,1815.3 1388.8,1815.3 1386.3,1815.3 1383.8,1815.2 1381.3,1815.2 1378.8,1815.2 1376.3,1815.1 1373.8,1815.1 1371.3,1815.1 1368.8,1815 1366.3,1815 1363.8,1815 1361.3,1814.9 1358.8,1814.9 1356.3,1814.9 1353.8,1814.8 1351.3,1814.8 1348.8,1814.8 1346.3,1814.7 1343.8,1814.7 1341.3,1814.7 1338.8,1814.6 1336.3,1814.6 1333.8,1814.6 1331.3,1814.5 1328.8,1814.5 1326.3,1814.5 1323.8,1814.4 1321.3,1814.4 1318.8,1814.4 1316.3,1814.3 1313.8,1814.3 1311.3,1814.3 1308.8,1814.3 1306.3,1814.3 1303.8,1814.3 1301.3,1814.3 1298.8,1814.3 1296.3,1814.3 1293.8,1814.2 1291.3,1814.2 1288.8,1814.2 1286.3,1814.2 1283.8,1814.2 1281.3,1814.2 1278.8,1814.2 1276.3,1814.2 1273.8,1814.2 1271.3,1814.2 1268.8,1814.2 1266.3,1814.2 1263.8,1814.2 1261.3,1814.2 1258.8,1814.1 1256.3,1814.1 1253.8,1814.1 1251.3,1814.1 1248.8,1814.1 1246.3,1814.1 1243.8,1814.1 1241.3,1814.1 1238.8,1814.1 1236.3,1814.1 1233.8,1814.1 1231.3,1814.1 1228.8,1814.1 1226.3,1814.1 1223.8,1814 1221.3,1814 1218.8,1814 1216.3,1814 1213.8,1814 1211.3,1814 1208.8,1814 1206.3,1814 1203.8,1814 1201.3,1814 1198.8,1814 1196.3,1814 1193.8,1814 1191.3,1814 1188.8,1813.9 1186.3,1813.9 1183.8,1813.9 1181.3,1813.9 1178.8,1813.9 1176.3,1813.9 1173.8,1813.9 1171.3,1813.9 1168.8,1813.9 1166.3,1813.9" fill="url(#g31)" fill-opacity="0.9"/><polyline points="1031.3,1813 1033.8,1813.1 1036.3,1813.1 1038.8,1813.1 1041.3,1813.1 1043.8,1813.1 1046.3,1813.1 1048.8,1813.1 1051.3,1813.1 1053.8,1813.1 1056.3,1813.1 1058.8,1813.1 1061.3,1813.1 1063.8,1813.1 1066.3,1813.1 1068.8,1813.1 1071.3,1813.1 1073.8,1813.1 1076.3,1813.1 1078.8,1813.1 1081.3,1813.1 1083.8,1813.1 1086.3,1813.2 1088.8,1813.2 1091.3,1813.2 1093.8,1813.2 1096.3,1813.2 1098.8,1813.2 1101.3,1813.2 1103.8,1813.2 1106.3,1813.2 1108.8,1813.2 1111.3,1813.2 1113.8,1813.2 1116.3,1813.2 1118.8,1813.2 1121.3,1813.2 1123.8,1813.2 1126.3,1813.2 1128.8,1813.2 1131.3,1813.2 1133.8,1813.2 1136.3,1813.2 1138.8,1813.2 1141.3,1813.2 1143.8,1813.2 1146.3,1813.2 1148.8,1813.2 1151.3,1813.2 1153.8,1813.2 1156.3,1813.2 1158.8,1813.2 1161.3,1813.2 1163.8,1813.2 1166.3,1813.2 1168.8,1813.2 1171.3,1813.2 1173.8,1813.2 1176.3,1813.2 1178.8,1813.2 1181.3,1813.2 1183.8,1813.2 1186.3,1813.2 1188.8,1813.2 1191.3,1813.2 1193.8,1813.2 1196.3,1813.2 1198.8,1813.2 1201.3,1813.2 1203.8,1813.2 1206.3,1813.2 1208.8,1813.2 1211.3,1813.2 1213.8,1813.2 1216.3,1813.2 1218.8,1813.2 1221.3,1813.2 1223.8,1813.2 1226.3,1813.2 1228.8,1813.2 1231.3,1813.1 1233.8,1813.1 1236.3,1813.1 1238.8,1813.1 1241.3,1813.1 1243.8,1813.1 1246.3,1813.1 1248.8,1813.1 1251.3,1813 1253.8,1813 1256.3,1813 1258.8,1813 1261.3,1812.9 1263.8,1812.9 1266.3,1812.8 1268.8,1812.8 1271.3,1812.7 1273.8,1812.7 1276.3,1812.6 1278.8,1812.5 1281.3,1812.4 1283.8,1812.3 1286.3,1812.1 1288.8,1812 1291.3,1811.8 1293.8,1811.6 1296.3,1811.3 1298.8,1811 1301.3,1810.7 1303.8,1810.4 1306.3,1810 1308.8,1809.5 1311.3,1809 1313.8,1808.4 1316.3,1807.7 1318.8,1807 1321.3,1806.2 1323.8,1805.3 1326.3,1804.3 1328.8,1803.2 1331.3,1802 1333.8,1800.6 1336.3,1799.2 1338.8,1797.6 1341.3,1795.9 1343.8,1794 1346.3,1792 1348.8,1789.9 1351.3,1787.6 1353.8,1785.2 1356.3,1782.7 1358.8,1780 1361.3,1777.3 1363.8,1774.4 1366.3,1771.4 1368.8,1768.3 1371.3,1765.2 1373.8,1762 1376.3,1758.8 1378.8,1755.6 1381.3,1752.4 1383.8,1749.2 1386.3,1746.1 1388.8,1743.1 1391.3,1740.2 1393.8,1737.4 1396.3,1734.8 1398.8,1732.3 1401.3,1730.1 1403.8,1728.2 1406.3,1726.5 1408.8,1725 1411.3,1723.9 1413.8,1723.1 1416.3,1722.6 1418.8,1722.5 1421.3,1722.7 1423.8,1723.2 1426.3,1724 1428.8,1725.2 1431.3,1726.6 1433.8,1728.3 1436.3,1730.3 1438.8,1732.6 1441.3,1735 1443.8,1737.7 1446.3,1740.5 1448.8,1743.5 1451.3,1746.5 1453.8,1749.7 1456.3,1752.9 1458.8,1756.2 1461.3,1759.4 1463.8,1762.7 1466.3,1765.9 1468.8,1769.1 1471.3,1772.2 1473.8,1775.2 1476.3,1778.1 1478.8,1780.9 1481.3,1783.6 1483.8,1786.2 1486.3,1788.7 1488.8,1791 1491.3,1793.2 1493.8,1795.2 1496.3,1797.1 1498.8,1798.9 1501.3,1800.5 1503.8,1802 1506.3,1803.4 1508.8,1804.7 1511.3,1805.8 1513.8,1806.9 1516.3,1807.8 1518.8,1808.7 1521.3,1809.4 1523.8,1810.1 1526.3,1810.7 1528.8,1811.3 1531.3,1811.8 1533.8,1812.2 1536.3,1812.6 1538.8,1812.9 1541.3,1813.2 1543.8,1813.5 1546.3,1813.7 1548.8,1813.9 1551.3,1814.1 1553.8,1814.2 1556.3,1814.4 1558.8,1814.5 1561.3,1814.6 1563.8,1814.7 1566.3,1814.8 1568.8,1814.9 1571.3,1814.9 1573.8,1815 1576.3,1815 1578.8,1815.1 1581.3,1815.1 1583.8,1815.2 1586.3,1815.2 1588.8,1815.3 1591.3,1815.3 1593.8,1815.3 1596.3,1815.4 1598.8,1815.4 1601.3,1815.4 1603.8,1815.4 1606.3,1815.5 1608.8,1815.5 1611.3,1815.5 1613.8,1815.5 1616.3,1815.6 1618.8,1815.6 1621.3,1815.6 1623.8,1815.6 1626.3,1815.7 1628.8,1815.7 1631.3,1815.7 1633.8,1815.7 1636.3,1815.7 1638.8,1815.8 1641.3,1815.8 1643.8,1815.8 1646.3,1815.8 1648.8,1815.8 1651.3,1815.9 1653.8,1815.9 1656.3,1815.9 1658.8,1815.9 1661.3,1815.9 1663.8,1815.9 1666.3,1816 1668.8,1816 1671.3,1816 1673.8,1816 1676.3,1816 1678.8,1816 1681.3,1816 1683.8,1816.1 1686.3,1816.1 1688.8,1816.1 1691.3,1816.1 1693.8,1816.1 1696.3,1816.1 1698.8,1816.2 1701.3,1816.2 1703.8,1816.2 1706.3,1816.2 1708.8,1816.2 1711.3,1816.2 1713.8,1816.2 1716.3,1816.2 1718.8,1816.3 1721.3,1816.3 1723.8,1816.3 1726.3,1816.3 1728.8,1816.3 1731.3,1816.3 1733.8,1816.3 1736.3,1816.4 1738.8,1816.4 1741.3,1816.4 1742.4,1816.4" fill="none" stroke="#84dca6" stroke-width="1.6"/><polygon points="1128.8,1813.1 1131.3,1813.1 1133.8,1813.1 1136.3,1813.1 1138.8,1813 1141.3,1813 1143.8,1813 1146.3,1812.9 1148.8,1812.9 1151.3,1812.9 1153.8,1812.8 1156.3,1812.8 1158.8,1812.7 1161.3,1812.6 1163.8,1812.6 1166.3,1812.5 1168.8,1812.4 1171.3,1812.3 1173.8,1812.2 1176.3,1812.1 1178.8,1812 1181.3,1811.8 1183.8,1811.7 1186.3,1811.5 1188.8,1811.4 1191.3,1811.2 1193.8,1811 1196.3,1810.8 1198.8,1810.6 1201.3,1810.4 1203.8,1810.2 1206.3,1809.9 1208.8,1809.6 1211.3,1809.4 1213.8,1809.1 1216.3,1808.8 1218.8,1808.5 1221.3,1808.1 1223.8,1807.8 1226.3,1807.4 1228.8,1807.1 1231.3,1806.7 1233.8,1806.3 1236.3,1805.9 1238.8,1805.5 1241.3,1805.1 1243.8,1804.6 1246.3,1804.2 1248.8,1803.8 1251.3,1803.3 1253.8,1802.9 1256.3,1802.5 1258.8,1802 1261.3,1801.6 1263.8,1801.1 1266.3,1800.7 1268.8,1800.3 1271.3,1799.9 1273.8,1799.5 1276.3,1799.1 1278.8,1798.7 1281.3,1798.3 1283.8,1798 1286.3,1797.7 1288.8,1797.4 1291.3,1797.1 1293.8,1796.9 1296.3,1796.7 1298.8,1796.5 1301.3,1796.3 1303.8,1796.2 1306.3,1796.1 1308.8,1796 1311.3,1796 1313.8,1796 1316.3,1796.1 1318.8,1796.2 1321.3,1796.3 1323.8,1796.5 1326.3,1796.6 1328.8,1796.9 1331.3,1797.1 1333.8,1797.4 1336.3,1797.7 1338.8,1798 1341.3,1798.4 1343.8,1798.7 1346.3,1799.1 1348.8,1799.5 1351.3,1800 1353.8,1800.4 1356.3,1800.9 1358.8,1801.3 1361.3,1801.8 1363.8,1802.3 1366.3,1802.7 1368.8,1803.2 1371.3,1803.7 1373.8,1804.2 1376.3,1804.7 1378.8,1805.2 1381.3,1805.6 1383.8,1806.1 1386.3,1806.6 1388.8,1807 1391.3,1807.4 1393.8,1807.9 1396.3,1808.3 1398.8,1808.7 1401.3,1809.1 1403.8,1809.5 1406.3,1809.9 1408.8,1810.2 1411.3,1810.6 1413.8,1810.9 1416.3,1811.2 1418.8,1811.5 1421.3,1811.8 1423.8,1812.1 1426.3,1812.3 1428.8,1812.5 1431.3,1812.7 1433.8,1813 1436.3,1813.1 1438.8,1813.3 1441.3,1813.5 1443.8,1813.7 1446.3,1813.8 1448.8,1813.9 1451.3,1814.1 1453.8,1814.2 1456.3,1814.3 1458.8,1814.4 1461.3,1814.5 1463.8,1814.6 1466.3,1814.7 1468.8,1814.8 1471.3,1814.8 1473.8,1814.9 1476.3,1815 1478.8,1815 1481.3,1815.1 1483.8,1815.1 1486.3,1815.2 1488.8,1815.2 1491.3,1815.2 1493.8,1815.3 1496.3,1815.3 1496.3,1816 1493.8,1816 1491.3,1816 1488.8,1816 1486.3,1816 1483.8,1815.9 1481.3,1815.9 1478.8,1815.9 1476.3,1815.9 1473.8,1815.9 1471.3,1815.9 1468.8,1815.9 1466.3,1815.9 1463.8,1815.9 1461.3,1815.9 1458.8,1815.8 1456.3,1815.8 1453.8,1815.8 1451.3,1815.8 1448.8,1815.8 1446.3,1815.8 1443.8,1815.8 1441.3,1815.8 1438.8,1815.8 1436.3,1815.8 1433.8,1815.8 1431.3,1815.7 1428.8,1815.7 1426.3,1815.7 1423.8,1815.7 1421.3,1815.7 1418.8,1815.7 1416.3,1815.7 1413.8,1815.6 1411.3,1815.6 1408.8,1815.6 1406.3,1815.5 1403.8,1815.5 1401.3,1815.5 1398.8,1815.4 1396.3,1815.4 1393.8,1815.4 1391.3,1815.3 1388.8,1815.3 1386.3,1815.3 1383.8,1815.2 1381.3,1815.2 1378.8,1815.2 1376.3,1815.1 1373.8,1815.1 1371.3,1815.1 1368.8,1815 1366.3,1815 1363.8,1815 1361.3,1814.9 1358.8,1814.9 1356.3,1814.9 1353.8,1814.8 1351.3,1814.8 1348.8,1814.8 1346.3,1814.7 1343.8,1814.7 1341.3,1814.7 1338.8,1814.6 1336.3,1814.6 1333.8,1814.6 1331.3,1814.5 1328.8,1814.5 1326.3,1814.5 1323.8,1814.4 1321.3,1814.4 1318.8,1814.4 1316.3,1814.3 1313.8,1814.3 1311.3,1814.3 1308.8,1814.3 1306.3,1814.3 1303.8,1814.3 1301.3,1814.3 1298.8,1814.3 1296.3,1814.3 1293.8,1814.2 1291.3,1814.2 1288.8,1814.2 1286.3,1814.2 1283.8,1814.2 1281.3,1814.2 1278.8,1814.2 1276.3,1814.2 1273.8,1814.2 1271.3,1814.2 1268.8,1814.2 1266.3,1814.2 1263.8,1814.2 1261.3,1814.2 1258.8,1814.1 1256.3,1814.1 1253.8,1814.1 1251.3,1814.1 1248.8,1814.1 1246.3,1814.1 1243.8,1814.1 1241.3,1814.1 1238.8,1814.1 1236.3,1814.1 1233.8,1814.1 1231.3,1814.1 1228.8,1814.1 1226.3,1814.1 1223.8,1814 1221.3,1814 1218.8,1814 1216.3,1814 1213.8,1814 1211.3,1814 1208.8,1814 1206.3,1814 1203.8,1814 1201.3,1814 1198.8,1814 1196.3,1814 1193.8,1814 1191.3,1814 1188.8,1813.9 1186.3,1813.9 1183.8,1813.9 1181.3,1813.9 1178.8,1813.9 1176.3,1813.9 1173.8,1813.9 1171.3,1813.9 1168.8,1813.9 1166.3,1813.9 1163.8,1813.9 1161.3,1813.9 1158.8,1813.9 1156.3,1813.9 1153.8,1813.8 1151.3,1813.8 1148.8,1813.8 1146.3,1813.8 1143.8,1813.8 1141.3,1813.8 1138.8,1813.8 1136.3,1813.8 1133.8,1813.8 1131.3,1813.8 1128.8,1813.8" fill="url(#g32)" fill-opacity="0.8"/><polyline points="1032.6,1813.2 1313,1814 1419,1815.4 1741.1,1816.6" fill="none" stroke="#1f63d4" stroke-width="2.3"/><path d="M1312.9 1771.2V1807.7" stroke="#ee1c25" stroke-width="2.6" stroke-dasharray="16 6" fill="none"/><path d="M1418.8 1706.6V1814" stroke="#ee1c25" stroke-width="2.4" stroke-dasharray="12.5 11" fill="none"/></g>
<text x="1099.1" y="1442" font-size="33.5" text-anchor="start">AB-9</text>
<text x="1236" y="1433.4" font-size="33.5" text-anchor="start">531.68</text>
<text x="1541.9" y="1403.7" font-size="33.5" text-anchor="start">529.69</text>
<text x="1108.1" y="1604.1" font-size="33.5" text-anchor="start">Bi<tspan font-size="23.1" dy="9.2">2</tspan><tspan dy="-9.2">WO</tspan><tspan font-size="23.1" dy="9.2">6</tspan></text>
<text x="1277.9" y="1595.5" font-size="33.5" text-anchor="start">531.08</text>
<text x="1528.6" y="1566.4" font-size="33.5" text-anchor="start">529.48</text>
<text x="1066.9" y="1785.2" font-size="33.5" text-anchor="start">Ag<tspan font-size="23.1" dy="9.2">2</tspan><tspan dy="-9.2">CO</tspan><tspan font-size="23.1" dy="9.2">3</tspan></text>
<text x="1216.7" y="1774.5" font-size="33.5" text-anchor="start">532.04</text>
<text x="1442.8" y="1729.1" font-size="33.5" text-anchor="start">530.55</text>
</svg>
</body></html>
